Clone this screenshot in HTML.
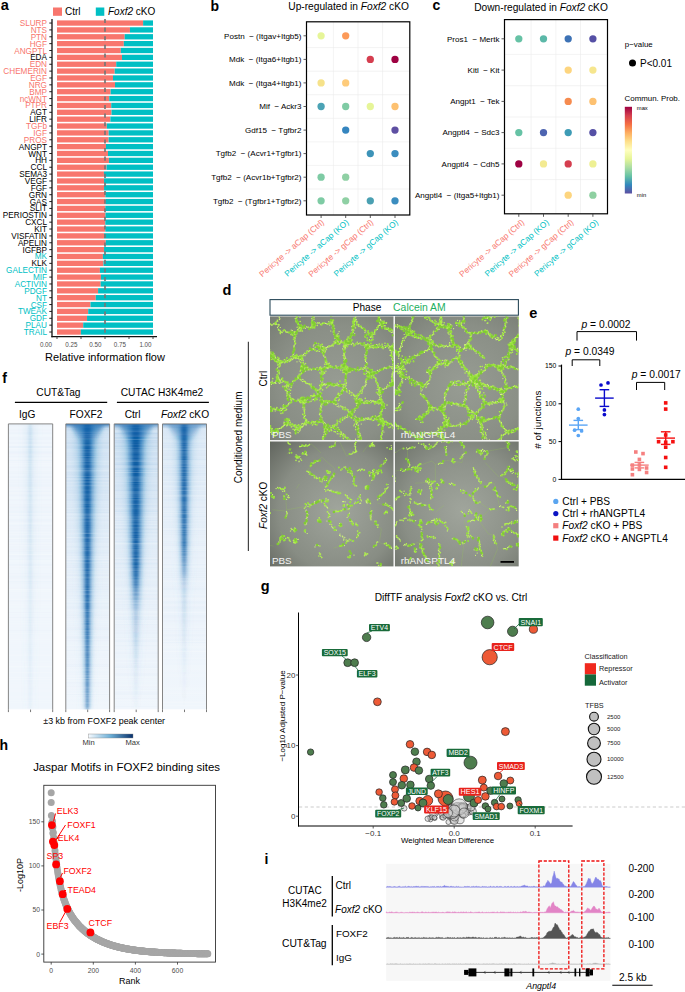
<!DOCTYPE html>
<html><head><meta charset="utf-8"><style>
html,body{margin:0;padding:0;background:#fff;}
svg{display:block;font-family:"Liberation Sans", sans-serif;} text{white-space:pre;}
</style></head><body>
<svg width="685" height="992" viewBox="0 0 685 992">
<text x="0.7" y="10.4" font-size="14.6" fill="#000" font-weight="bold">a</text>
<rect x="53" y="7.5" width="9" height="8.3" fill="#F8766D"/>
<text x="65.0" y="15.0" font-size="10" fill="#000">Ctrl</text>
<rect x="95.8" y="7.5" width="8.5" height="8.3" fill="#00BFC4"/>
<text x="108.0" y="15.0" font-size="10" fill="#000"><tspan font-style="italic">Foxf2</tspan> cKO</text>
<rect x="57.0" y="20.40" width="86.11" height="5.3" fill="#F8766D"/>
<rect x="143.11" y="20.40" width="9.89" height="5.3" fill="#00BFC4"/>
<text x="47.0" y="26.0" font-size="8.2" fill="#F8766D" text-anchor="end">SLURP</text>
<line x1="49.3" y1="23.05" x2="52" y2="23.05" stroke="#222" stroke-width="1"/>
<rect x="57.0" y="27.27" width="72.96" height="5.3" fill="#F8766D"/>
<rect x="129.96" y="27.27" width="23.04" height="5.3" fill="#00BFC4"/>
<text x="47.0" y="32.9" font-size="8.2" fill="#F8766D" text-anchor="end">NTS</text>
<line x1="49.3" y1="29.92" x2="52" y2="29.92" stroke="#222" stroke-width="1"/>
<rect x="57.0" y="34.13" width="67.68" height="5.3" fill="#F8766D"/>
<rect x="124.68" y="34.13" width="28.32" height="5.3" fill="#00BFC4"/>
<text x="47.0" y="39.7" font-size="8.2" fill="#F8766D" text-anchor="end">PTN</text>
<line x1="49.3" y1="36.78" x2="52" y2="36.78" stroke="#222" stroke-width="1"/>
<rect x="57.0" y="41.00" width="66.82" height="5.3" fill="#F8766D"/>
<rect x="123.82" y="41.00" width="29.18" height="5.3" fill="#00BFC4"/>
<text x="47.0" y="46.6" font-size="8.2" fill="#F8766D" text-anchor="end">HGF</text>
<line x1="49.3" y1="43.65" x2="52" y2="43.65" stroke="#222" stroke-width="1"/>
<rect x="57.0" y="47.86" width="63.84" height="5.3" fill="#F8766D"/>
<rect x="120.84" y="47.86" width="32.16" height="5.3" fill="#00BFC4"/>
<text x="47.0" y="53.5" font-size="8.2" fill="#F8766D" text-anchor="end">ANGPTL</text>
<line x1="49.3" y1="50.51" x2="52" y2="50.51" stroke="#222" stroke-width="1"/>
<rect x="57.0" y="54.73" width="64.99" height="5.3" fill="#F8766D"/>
<rect x="121.99" y="54.73" width="31.01" height="5.3" fill="#00BFC4"/>
<text x="47.0" y="60.3" font-size="8.2" fill="#000" text-anchor="end">EDA</text>
<line x1="49.3" y1="57.38" x2="52" y2="57.38" stroke="#222" stroke-width="1"/>
<rect x="57.0" y="61.60" width="59.23" height="5.3" fill="#F8766D"/>
<rect x="116.23" y="61.60" width="36.77" height="5.3" fill="#00BFC4"/>
<text x="47.0" y="67.2" font-size="8.2" fill="#F8766D" text-anchor="end">EDN</text>
<line x1="49.3" y1="64.25" x2="52" y2="64.25" stroke="#222" stroke-width="1"/>
<rect x="57.0" y="68.46" width="57.70" height="5.3" fill="#F8766D"/>
<rect x="114.70" y="68.46" width="38.30" height="5.3" fill="#00BFC4"/>
<text x="47.0" y="74.1" font-size="8.2" fill="#F8766D" text-anchor="end">CHEMERIN</text>
<line x1="49.3" y1="71.11" x2="52" y2="71.11" stroke="#222" stroke-width="1"/>
<rect x="57.0" y="75.33" width="55.97" height="5.3" fill="#F8766D"/>
<rect x="112.97" y="75.33" width="40.03" height="5.3" fill="#00BFC4"/>
<text x="47.0" y="80.9" font-size="8.2" fill="#F8766D" text-anchor="end">EGF</text>
<line x1="49.3" y1="77.98" x2="52" y2="77.98" stroke="#222" stroke-width="1"/>
<rect x="57.0" y="82.19" width="57.98" height="5.3" fill="#F8766D"/>
<rect x="114.98" y="82.19" width="38.02" height="5.3" fill="#00BFC4"/>
<text x="47.0" y="87.8" font-size="8.2" fill="#F8766D" text-anchor="end">NRG</text>
<line x1="49.3" y1="84.84" x2="52" y2="84.84" stroke="#222" stroke-width="1"/>
<rect x="57.0" y="89.06" width="53.66" height="5.3" fill="#F8766D"/>
<rect x="110.66" y="89.06" width="42.34" height="5.3" fill="#00BFC4"/>
<text x="47.0" y="94.7" font-size="8.2" fill="#F8766D" text-anchor="end">BMP</text>
<line x1="49.3" y1="91.71" x2="52" y2="91.71" stroke="#222" stroke-width="1"/>
<rect x="57.0" y="95.93" width="52.22" height="5.3" fill="#F8766D"/>
<rect x="109.22" y="95.93" width="43.78" height="5.3" fill="#00BFC4"/>
<text x="47.0" y="101.5" font-size="8.2" fill="#F8766D" text-anchor="end">ncWNT</text>
<line x1="49.3" y1="98.58" x2="52" y2="98.58" stroke="#222" stroke-width="1"/>
<rect x="57.0" y="102.79" width="54.24" height="5.3" fill="#F8766D"/>
<rect x="111.24" y="102.79" width="41.76" height="5.3" fill="#00BFC4"/>
<text x="47.0" y="108.4" font-size="8.2" fill="#F8766D" text-anchor="end">PTPR</text>
<line x1="49.3" y1="105.44" x2="52" y2="105.44" stroke="#222" stroke-width="1"/>
<rect x="57.0" y="109.66" width="54.53" height="5.3" fill="#F8766D"/>
<rect x="111.53" y="109.66" width="41.47" height="5.3" fill="#00BFC4"/>
<text x="47.0" y="115.3" font-size="8.2" fill="#000" text-anchor="end">AGT</text>
<line x1="49.3" y1="112.31" x2="52" y2="112.31" stroke="#222" stroke-width="1"/>
<rect x="57.0" y="116.52" width="53.38" height="5.3" fill="#F8766D"/>
<rect x="110.38" y="116.52" width="42.62" height="5.3" fill="#00BFC4"/>
<text x="47.0" y="122.1" font-size="8.2" fill="#000" text-anchor="end">LIFR</text>
<line x1="49.3" y1="119.17" x2="52" y2="119.17" stroke="#222" stroke-width="1"/>
<rect x="57.0" y="123.39" width="49.82" height="5.3" fill="#F8766D"/>
<rect x="106.82" y="123.39" width="46.18" height="5.3" fill="#00BFC4"/>
<text x="47.0" y="129.0" font-size="8.2" fill="#F8766D" text-anchor="end">TGFb</text>
<line x1="49.3" y1="126.04" x2="52" y2="126.04" stroke="#222" stroke-width="1"/>
<rect x="57.0" y="130.26" width="51.65" height="5.3" fill="#F8766D"/>
<rect x="108.65" y="130.26" width="44.35" height="5.3" fill="#00BFC4"/>
<text x="47.0" y="135.9" font-size="8.2" fill="#F8766D" text-anchor="end">IGF</text>
<line x1="49.3" y1="132.91" x2="52" y2="132.91" stroke="#222" stroke-width="1"/>
<rect x="57.0" y="137.12" width="51.65" height="5.3" fill="#F8766D"/>
<rect x="108.65" y="137.12" width="44.35" height="5.3" fill="#00BFC4"/>
<text x="47.0" y="142.7" font-size="8.2" fill="#F8766D" text-anchor="end">PROS</text>
<line x1="49.3" y1="139.77" x2="52" y2="139.77" stroke="#222" stroke-width="1"/>
<rect x="57.0" y="143.99" width="48.96" height="5.3" fill="#F8766D"/>
<rect x="105.96" y="143.99" width="47.04" height="5.3" fill="#00BFC4"/>
<text x="47.0" y="149.6" font-size="8.2" fill="#000" text-anchor="end">ANGPT</text>
<line x1="49.3" y1="146.64" x2="52" y2="146.64" stroke="#222" stroke-width="1"/>
<rect x="57.0" y="150.85" width="50.98" height="5.3" fill="#F8766D"/>
<rect x="107.98" y="150.85" width="45.02" height="5.3" fill="#00BFC4"/>
<text x="47.0" y="156.5" font-size="8.2" fill="#000" text-anchor="end">WNT</text>
<line x1="49.3" y1="153.50" x2="52" y2="153.50" stroke="#222" stroke-width="1"/>
<rect x="57.0" y="157.72" width="51.94" height="5.3" fill="#F8766D"/>
<rect x="108.94" y="157.72" width="44.06" height="5.3" fill="#00BFC4"/>
<text x="47.0" y="163.3" font-size="8.2" fill="#000" text-anchor="end">HH</text>
<line x1="49.3" y1="160.37" x2="52" y2="160.37" stroke="#222" stroke-width="1"/>
<rect x="57.0" y="164.59" width="49.54" height="5.3" fill="#F8766D"/>
<rect x="106.54" y="164.59" width="46.46" height="5.3" fill="#00BFC4"/>
<text x="47.0" y="170.2" font-size="8.2" fill="#000" text-anchor="end">CCL</text>
<line x1="49.3" y1="167.24" x2="52" y2="167.24" stroke="#222" stroke-width="1"/>
<rect x="57.0" y="171.45" width="46.94" height="5.3" fill="#F8766D"/>
<rect x="103.94" y="171.45" width="49.06" height="5.3" fill="#00BFC4"/>
<text x="47.0" y="177.1" font-size="8.2" fill="#000" text-anchor="end">SEMA3</text>
<line x1="49.3" y1="174.10" x2="52" y2="174.10" stroke="#222" stroke-width="1"/>
<rect x="57.0" y="178.32" width="47.04" height="5.3" fill="#F8766D"/>
<rect x="104.04" y="178.32" width="48.96" height="5.3" fill="#00BFC4"/>
<text x="47.0" y="183.9" font-size="8.2" fill="#000" text-anchor="end">VEGF</text>
<line x1="49.3" y1="180.97" x2="52" y2="180.97" stroke="#222" stroke-width="1"/>
<rect x="57.0" y="185.18" width="47.04" height="5.3" fill="#F8766D"/>
<rect x="104.04" y="185.18" width="48.96" height="5.3" fill="#00BFC4"/>
<text x="47.0" y="190.8" font-size="8.2" fill="#000" text-anchor="end">FGF</text>
<line x1="49.3" y1="187.83" x2="52" y2="187.83" stroke="#222" stroke-width="1"/>
<rect x="57.0" y="192.05" width="48.38" height="5.3" fill="#F8766D"/>
<rect x="105.38" y="192.05" width="47.62" height="5.3" fill="#00BFC4"/>
<text x="47.0" y="197.6" font-size="8.2" fill="#000" text-anchor="end">GRN</text>
<line x1="49.3" y1="194.70" x2="52" y2="194.70" stroke="#222" stroke-width="1"/>
<rect x="57.0" y="198.92" width="48.48" height="5.3" fill="#F8766D"/>
<rect x="105.48" y="198.92" width="47.52" height="5.3" fill="#00BFC4"/>
<text x="47.0" y="204.5" font-size="8.2" fill="#000" text-anchor="end">GAS</text>
<line x1="49.3" y1="201.57" x2="52" y2="201.57" stroke="#222" stroke-width="1"/>
<rect x="57.0" y="205.78" width="48.29" height="5.3" fill="#F8766D"/>
<rect x="105.29" y="205.78" width="47.71" height="5.3" fill="#00BFC4"/>
<text x="47.0" y="211.4" font-size="8.2" fill="#000" text-anchor="end">SLIT</text>
<line x1="49.3" y1="208.43" x2="52" y2="208.43" stroke="#222" stroke-width="1"/>
<rect x="57.0" y="212.65" width="48.48" height="5.3" fill="#F8766D"/>
<rect x="105.48" y="212.65" width="47.52" height="5.3" fill="#00BFC4"/>
<text x="47.0" y="218.2" font-size="8.2" fill="#000" text-anchor="end">PERIOSTIN</text>
<line x1="49.3" y1="215.30" x2="52" y2="215.30" stroke="#222" stroke-width="1"/>
<rect x="57.0" y="219.51" width="48.29" height="5.3" fill="#F8766D"/>
<rect x="105.29" y="219.51" width="47.71" height="5.3" fill="#00BFC4"/>
<text x="47.0" y="225.1" font-size="8.2" fill="#000" text-anchor="end">CXCL</text>
<line x1="49.3" y1="222.16" x2="52" y2="222.16" stroke="#222" stroke-width="1"/>
<rect x="57.0" y="226.38" width="48.29" height="5.3" fill="#F8766D"/>
<rect x="105.29" y="226.38" width="47.71" height="5.3" fill="#00BFC4"/>
<text x="47.0" y="232.0" font-size="8.2" fill="#000" text-anchor="end">KIT</text>
<line x1="49.3" y1="229.03" x2="52" y2="229.03" stroke="#222" stroke-width="1"/>
<rect x="57.0" y="233.25" width="47.04" height="5.3" fill="#F8766D"/>
<rect x="104.04" y="233.25" width="48.96" height="5.3" fill="#00BFC4"/>
<text x="47.0" y="238.8" font-size="8.2" fill="#000" text-anchor="end">VISFATIN</text>
<line x1="49.3" y1="235.90" x2="52" y2="235.90" stroke="#222" stroke-width="1"/>
<rect x="57.0" y="240.11" width="48.77" height="5.3" fill="#F8766D"/>
<rect x="105.77" y="240.11" width="47.23" height="5.3" fill="#00BFC4"/>
<text x="47.0" y="245.7" font-size="8.2" fill="#000" text-anchor="end">APELIN</text>
<line x1="49.3" y1="242.76" x2="52" y2="242.76" stroke="#222" stroke-width="1"/>
<rect x="57.0" y="246.98" width="47.04" height="5.3" fill="#F8766D"/>
<rect x="104.04" y="246.98" width="48.96" height="5.3" fill="#00BFC4"/>
<text x="47.0" y="252.6" font-size="8.2" fill="#000" text-anchor="end">IGFBP</text>
<line x1="49.3" y1="249.63" x2="52" y2="249.63" stroke="#222" stroke-width="1"/>
<rect x="57.0" y="253.84" width="45.89" height="5.3" fill="#F8766D"/>
<rect x="102.89" y="253.84" width="50.11" height="5.3" fill="#00BFC4"/>
<text x="47.0" y="259.4" font-size="8.2" fill="#00BFC4" text-anchor="end">MK</text>
<line x1="49.3" y1="256.49" x2="52" y2="256.49" stroke="#222" stroke-width="1"/>
<rect x="57.0" y="260.71" width="46.46" height="5.3" fill="#F8766D"/>
<rect x="103.46" y="260.71" width="49.54" height="5.3" fill="#00BFC4"/>
<text x="47.0" y="266.3" font-size="8.2" fill="#000" text-anchor="end">KLK</text>
<line x1="49.3" y1="263.36" x2="52" y2="263.36" stroke="#222" stroke-width="1"/>
<rect x="57.0" y="267.58" width="42.91" height="5.3" fill="#F8766D"/>
<rect x="99.91" y="267.58" width="53.09" height="5.3" fill="#00BFC4"/>
<text x="47.0" y="273.2" font-size="8.2" fill="#00BFC4" text-anchor="end">GALECTIN</text>
<line x1="49.3" y1="270.23" x2="52" y2="270.23" stroke="#222" stroke-width="1"/>
<rect x="57.0" y="274.44" width="43.97" height="5.3" fill="#F8766D"/>
<rect x="100.97" y="274.44" width="52.03" height="5.3" fill="#00BFC4"/>
<text x="47.0" y="280.0" font-size="8.2" fill="#00BFC4" text-anchor="end">MIF</text>
<line x1="49.3" y1="277.09" x2="52" y2="277.09" stroke="#222" stroke-width="1"/>
<rect x="57.0" y="281.31" width="43.68" height="5.3" fill="#F8766D"/>
<rect x="100.68" y="281.31" width="52.32" height="5.3" fill="#00BFC4"/>
<text x="47.0" y="286.9" font-size="8.2" fill="#00BFC4" text-anchor="end">ACTIVIN</text>
<line x1="49.3" y1="283.96" x2="52" y2="283.96" stroke="#222" stroke-width="1"/>
<rect x="57.0" y="288.17" width="41.09" height="5.3" fill="#F8766D"/>
<rect x="98.09" y="288.17" width="54.91" height="5.3" fill="#00BFC4"/>
<text x="47.0" y="293.8" font-size="8.2" fill="#00BFC4" text-anchor="end">PDGF</text>
<line x1="49.3" y1="290.82" x2="52" y2="290.82" stroke="#222" stroke-width="1"/>
<rect x="57.0" y="295.04" width="38.78" height="5.3" fill="#F8766D"/>
<rect x="95.78" y="295.04" width="57.22" height="5.3" fill="#00BFC4"/>
<text x="47.0" y="300.6" font-size="8.2" fill="#00BFC4" text-anchor="end">NT</text>
<line x1="49.3" y1="297.69" x2="52" y2="297.69" stroke="#222" stroke-width="1"/>
<rect x="57.0" y="301.91" width="33.50" height="5.3" fill="#F8766D"/>
<rect x="90.50" y="301.91" width="62.50" height="5.3" fill="#00BFC4"/>
<text x="47.0" y="307.5" font-size="8.2" fill="#00BFC4" text-anchor="end">CSF</text>
<line x1="49.3" y1="304.56" x2="52" y2="304.56" stroke="#222" stroke-width="1"/>
<rect x="57.0" y="308.77" width="31.20" height="5.3" fill="#F8766D"/>
<rect x="88.20" y="308.77" width="64.80" height="5.3" fill="#00BFC4"/>
<text x="47.0" y="314.4" font-size="8.2" fill="#00BFC4" text-anchor="end">TWEAK</text>
<line x1="49.3" y1="311.42" x2="52" y2="311.42" stroke="#222" stroke-width="1"/>
<rect x="57.0" y="315.64" width="30.05" height="5.3" fill="#F8766D"/>
<rect x="87.05" y="315.64" width="65.95" height="5.3" fill="#00BFC4"/>
<text x="47.0" y="321.2" font-size="8.2" fill="#00BFC4" text-anchor="end">GDF</text>
<line x1="49.3" y1="318.29" x2="52" y2="318.29" stroke="#222" stroke-width="1"/>
<rect x="57.0" y="322.50" width="26.21" height="5.3" fill="#F8766D"/>
<rect x="83.21" y="322.50" width="69.79" height="5.3" fill="#00BFC4"/>
<text x="47.0" y="328.1" font-size="8.2" fill="#00BFC4" text-anchor="end">PLAU</text>
<line x1="49.3" y1="325.15" x2="52" y2="325.15" stroke="#222" stroke-width="1"/>
<rect x="57.0" y="329.37" width="23.90" height="5.3" fill="#F8766D"/>
<rect x="80.90" y="329.37" width="72.10" height="5.3" fill="#00BFC4"/>
<text x="47.0" y="335.0" font-size="8.2" fill="#00BFC4" text-anchor="end">TRAIL</text>
<line x1="49.3" y1="332.02" x2="52" y2="332.02" stroke="#222" stroke-width="1"/>
<line x1="105" y1="19" x2="105" y2="336" stroke="#777" stroke-width="1.7" stroke-dasharray="4.1 4.5"/>
<line x1="52" y1="19.1" x2="52" y2="337.2" stroke="#111" stroke-width="1.3"/>
<line x1="51.4" y1="336.6" x2="157" y2="336.6" stroke="#111" stroke-width="1.3"/>
<line x1="57.0" y1="336.6" x2="57.0" y2="339" stroke="#333" stroke-width="0.9"/>
<text x="46.0" y="347" font-size="7" fill="#4D4D4D" text-anchor="middle" textLength="12.2" lengthAdjust="spacingAndGlyphs">0.00</text>
<line x1="81.0" y1="336.6" x2="81.0" y2="339" stroke="#333" stroke-width="0.9"/>
<text x="71.3" y="347" font-size="7" fill="#4D4D4D" text-anchor="middle" textLength="12.2" lengthAdjust="spacingAndGlyphs">0.25</text>
<line x1="105.0" y1="336.6" x2="105.0" y2="339" stroke="#333" stroke-width="0.9"/>
<text x="95.4" y="347" font-size="7" fill="#4D4D4D" text-anchor="middle" textLength="12.2" lengthAdjust="spacingAndGlyphs">0.50</text>
<line x1="129.0" y1="336.6" x2="129.0" y2="339" stroke="#333" stroke-width="0.9"/>
<text x="119.9" y="347" font-size="7" fill="#4D4D4D" text-anchor="middle" textLength="12.2" lengthAdjust="spacingAndGlyphs">0.75</text>
<line x1="153.0" y1="336.6" x2="153.0" y2="339" stroke="#333" stroke-width="0.9"/>
<text x="145.5" y="347" font-size="7" fill="#4D4D4D" text-anchor="middle" textLength="12.2" lengthAdjust="spacingAndGlyphs">1.00</text>
<text x="105.0" y="361.0" font-size="11" fill="#000" text-anchor="middle">Relative information flow</text>
<text x="210.5" y="11.4" font-size="14" fill="#000" font-weight="bold">b</text>
<line x1="333.4" y1="21.8" x2="333.4" y2="215.0" stroke="#EBEBEB" stroke-width="0.6"/>
<line x1="358.0" y1="21.8" x2="358.0" y2="215.0" stroke="#EBEBEB" stroke-width="0.6"/>
<line x1="382.6" y1="21.8" x2="382.6" y2="215.0" stroke="#EBEBEB" stroke-width="0.6"/>
<line x1="306.5" y1="47.6" x2="409.8" y2="47.6" stroke="#EBEBEB" stroke-width="0.6"/>
<line x1="306.5" y1="71.2" x2="409.8" y2="71.2" stroke="#EBEBEB" stroke-width="0.6"/>
<line x1="306.5" y1="94.7" x2="409.8" y2="94.7" stroke="#EBEBEB" stroke-width="0.6"/>
<line x1="306.5" y1="118.3" x2="409.8" y2="118.3" stroke="#EBEBEB" stroke-width="0.6"/>
<line x1="306.5" y1="141.9" x2="409.8" y2="141.9" stroke="#EBEBEB" stroke-width="0.6"/>
<line x1="306.5" y1="165.4" x2="409.8" y2="165.4" stroke="#EBEBEB" stroke-width="0.6"/>
<line x1="306.5" y1="189.0" x2="409.8" y2="189.0" stroke="#EBEBEB" stroke-width="0.6"/>
<circle cx="321.1" cy="35.8" r="3.65" fill="#E6F598"/>
<circle cx="345.7" cy="35.8" r="3.65" fill="#FC9A59"/>
<circle cx="370.3" cy="59.4" r="3.65" fill="#D53E4F"/>
<circle cx="395.0" cy="59.4" r="3.65" fill="#9E0142"/>
<circle cx="321.1" cy="82.9" r="3.65" fill="#F6E28A"/>
<circle cx="345.7" cy="82.9" r="3.65" fill="#FECB7A"/>
<circle cx="321.1" cy="106.5" r="3.65" fill="#4BA3B5"/>
<circle cx="345.7" cy="106.5" r="3.65" fill="#7FCBA4"/>
<circle cx="370.3" cy="106.5" r="3.65" fill="#E6F598"/>
<circle cx="395.0" cy="106.5" r="3.65" fill="#FDC171"/>
<circle cx="345.7" cy="130.1" r="3.65" fill="#3585BF"/>
<circle cx="395.0" cy="130.1" r="3.65" fill="#5E4FA2"/>
<circle cx="370.3" cy="153.6" r="3.65" fill="#3D93B8"/>
<circle cx="395.0" cy="153.6" r="3.65" fill="#3B8DBF"/>
<circle cx="321.1" cy="177.2" r="3.65" fill="#7ECBA4"/>
<circle cx="345.7" cy="177.2" r="3.65" fill="#8FD0A4"/>
<circle cx="321.1" cy="200.8" r="3.65" fill="#7ECBA4"/>
<circle cx="345.7" cy="200.8" r="3.65" fill="#8FD0A4"/>
<circle cx="370.3" cy="200.8" r="3.65" fill="#4AA0B2"/>
<circle cx="395.0" cy="200.8" r="3.65" fill="#3B8DBF"/>
<rect x="306.5" y="21.8" width="103.30000000000001" height="193.2" fill="none" stroke="#000" stroke-width="1.2"/>
<text x="301.5" y="38.5" font-size="8.05" fill="#000" text-anchor="end">Postn  − (Itgav+Itgb5)</text>
<line x1="303.5" y1="35.8" x2="306.5" y2="35.8" stroke="#333" stroke-width="0.8"/>
<text x="301.5" y="62.1" font-size="8.05" fill="#000" text-anchor="end">Mdk  − (Itga6+Itgb1)</text>
<line x1="303.5" y1="59.4" x2="306.5" y2="59.4" stroke="#333" stroke-width="0.8"/>
<text x="301.5" y="85.6" font-size="8.05" fill="#000" text-anchor="end">Mdk  − (Itga4+Itgb1)</text>
<line x1="303.5" y1="82.9" x2="306.5" y2="82.9" stroke="#333" stroke-width="0.8"/>
<text x="301.5" y="109.2" font-size="8.05" fill="#000" text-anchor="end">Mif  − Ackr3</text>
<line x1="303.5" y1="106.5" x2="306.5" y2="106.5" stroke="#333" stroke-width="0.8"/>
<text x="301.5" y="132.8" font-size="8.05" fill="#000" text-anchor="end">Gdf15  − Tgfbr2</text>
<line x1="303.5" y1="130.1" x2="306.5" y2="130.1" stroke="#333" stroke-width="0.8"/>
<text x="301.5" y="156.3" font-size="8.05" fill="#000" text-anchor="end">Tgfb2  − (Acvr1+Tgfbr1)</text>
<line x1="303.5" y1="153.6" x2="306.5" y2="153.6" stroke="#333" stroke-width="0.8"/>
<text x="301.5" y="179.9" font-size="8.05" fill="#000" text-anchor="end">Tgfb2  − (Acvr1b+Tgfbr2)</text>
<line x1="303.5" y1="177.2" x2="306.5" y2="177.2" stroke="#333" stroke-width="0.8"/>
<text x="301.5" y="203.5" font-size="8.05" fill="#000" text-anchor="end">Tgfb2  − (Tgfbr1+Tgfbr2)</text>
<line x1="303.5" y1="200.8" x2="306.5" y2="200.8" stroke="#333" stroke-width="0.8"/>
<line x1="321.1" y1="215.0" x2="321.1" y2="218.0" stroke="#333" stroke-width="0.8"/>
<text transform="translate(324.7,223.2) rotate(-41)" font-size="8.3" fill="#F8766D" text-anchor="end">Pericyte -&gt; aCap (Ctrl)</text>
<line x1="345.7" y1="215.0" x2="345.7" y2="218.0" stroke="#333" stroke-width="0.8"/>
<text transform="translate(349.3,223.2) rotate(-41)" font-size="8.3" fill="#00BFC4" text-anchor="end">Pericyte -&gt; aCap (KO)</text>
<line x1="370.3" y1="215.0" x2="370.3" y2="218.0" stroke="#333" stroke-width="0.8"/>
<text transform="translate(373.9,223.2) rotate(-41)" font-size="8.3" fill="#F8766D" text-anchor="end">Pericyte -&gt; gCap (Ctrl)</text>
<line x1="395.0" y1="215.0" x2="395.0" y2="218.0" stroke="#333" stroke-width="0.8"/>
<text transform="translate(398.6,223.2) rotate(-41)" font-size="8.3" fill="#00BFC4" text-anchor="end">Pericyte -&gt; gCap (KO)</text>
<text x="288.3" y="9.6" font-size="10.2" fill="#000">Up-regulated in <tspan font-style="italic">Foxf2</tspan> cKO</text>
<text x="432.5" y="10.2" font-size="14" fill="#000" font-weight="bold">c</text>
<line x1="531.1" y1="19.6" x2="531.1" y2="213.8" stroke="#EBEBEB" stroke-width="0.6"/>
<line x1="555.9" y1="19.6" x2="555.9" y2="213.8" stroke="#EBEBEB" stroke-width="0.6"/>
<line x1="580.5" y1="19.6" x2="580.5" y2="213.8" stroke="#EBEBEB" stroke-width="0.6"/>
<line x1="504.5" y1="54.4" x2="607.5" y2="54.4" stroke="#EBEBEB" stroke-width="0.6"/>
<line x1="504.5" y1="85.7" x2="607.5" y2="85.7" stroke="#EBEBEB" stroke-width="0.6"/>
<line x1="504.5" y1="117.0" x2="607.5" y2="117.0" stroke="#EBEBEB" stroke-width="0.6"/>
<line x1="504.5" y1="148.3" x2="607.5" y2="148.3" stroke="#EBEBEB" stroke-width="0.6"/>
<line x1="504.5" y1="179.6" x2="607.5" y2="179.6" stroke="#EBEBEB" stroke-width="0.6"/>
<circle cx="518.8" cy="38.8" r="3.65" fill="#66C2A5"/>
<circle cx="543.5" cy="38.8" r="3.65" fill="#5BB8A8"/>
<circle cx="568.2" cy="38.8" r="3.65" fill="#3D72B5"/>
<circle cx="592.9" cy="38.8" r="3.65" fill="#5550A5"/>
<circle cx="568.2" cy="70.1" r="3.65" fill="#FDD57F"/>
<circle cx="592.9" cy="70.1" r="3.65" fill="#F6E68E"/>
<circle cx="568.2" cy="101.4" r="3.65" fill="#F68B4F"/>
<circle cx="592.9" cy="101.4" r="3.65" fill="#FDC171"/>
<circle cx="518.8" cy="132.6" r="3.65" fill="#66C2A5"/>
<circle cx="543.5" cy="132.6" r="3.65" fill="#4D64B0"/>
<circle cx="568.2" cy="132.6" r="3.65" fill="#3D9BB5"/>
<circle cx="592.9" cy="132.6" r="3.65" fill="#5550A5"/>
<circle cx="518.8" cy="163.9" r="3.65" fill="#9E0142"/>
<circle cx="543.5" cy="163.9" r="3.65" fill="#F3EA91"/>
<circle cx="568.2" cy="163.9" r="3.65" fill="#D53E4F"/>
<circle cx="592.9" cy="163.9" r="3.65" fill="#EEF093"/>
<circle cx="568.2" cy="195.2" r="3.65" fill="#FDD57F"/>
<circle cx="592.9" cy="195.2" r="3.65" fill="#8ED0A1"/>
<rect x="504.5" y="19.6" width="103.0" height="194.20000000000002" fill="none" stroke="#000" stroke-width="1.2"/>
<text x="499.5" y="41.5" font-size="8.05" fill="#000" text-anchor="end">Pros1  − Mertk</text>
<line x1="501.5" y1="38.8" x2="504.5" y2="38.8" stroke="#333" stroke-width="0.8"/>
<text x="499.5" y="72.8" font-size="8.05" fill="#000" text-anchor="end">Kitl  − Kit</text>
<line x1="501.5" y1="70.1" x2="504.5" y2="70.1" stroke="#333" stroke-width="0.8"/>
<text x="499.5" y="104.1" font-size="8.05" fill="#000" text-anchor="end">Angpt1  − Tek</text>
<line x1="501.5" y1="101.4" x2="504.5" y2="101.4" stroke="#333" stroke-width="0.8"/>
<text x="499.5" y="135.3" font-size="8.05" fill="#000" text-anchor="end">Angptl4  − Sdc3</text>
<line x1="501.5" y1="132.6" x2="504.5" y2="132.6" stroke="#333" stroke-width="0.8"/>
<text x="499.5" y="166.6" font-size="8.05" fill="#000" text-anchor="end">Angptl4  − Cdh5</text>
<line x1="501.5" y1="163.9" x2="504.5" y2="163.9" stroke="#333" stroke-width="0.8"/>
<text x="499.5" y="197.9" font-size="8.05" fill="#000" text-anchor="end">Angptl4  − (Itga5+Itgb1)</text>
<line x1="501.5" y1="195.2" x2="504.5" y2="195.2" stroke="#333" stroke-width="0.8"/>
<line x1="518.8" y1="213.8" x2="518.8" y2="216.8" stroke="#333" stroke-width="0.8"/>
<text transform="translate(524.8,223.2) rotate(-41)" font-size="8.3" fill="#F8766D" text-anchor="end">Pericyte -&gt; aCap (Ctrl)</text>
<line x1="543.5" y1="213.8" x2="543.5" y2="216.8" stroke="#333" stroke-width="0.8"/>
<text transform="translate(549.5,223.2) rotate(-41)" font-size="8.3" fill="#00BFC4" text-anchor="end">Pericyte -&gt; aCap (KO)</text>
<line x1="568.2" y1="213.8" x2="568.2" y2="216.8" stroke="#333" stroke-width="0.8"/>
<text transform="translate(574.2,223.2) rotate(-41)" font-size="8.3" fill="#F8766D" text-anchor="end">Pericyte -&gt; gCap (Ctrl)</text>
<line x1="592.9" y1="213.8" x2="592.9" y2="216.8" stroke="#333" stroke-width="0.8"/>
<text transform="translate(598.9,223.2) rotate(-41)" font-size="8.3" fill="#00BFC4" text-anchor="end">Pericyte -&gt; gCap (KO)</text>
<text x="474.2" y="11.0" font-size="10.2" fill="#000">Down-regulated in <tspan font-style="italic">Foxf2</tspan> cKO</text>
<text x="624.8" y="46.5" font-size="7.9" fill="#000">p−value</text>
<circle cx="632.5" cy="63" r="3.5" fill="#000"/>
<text x="640.0" y="66.8" font-size="10" fill="#000">P&lt;0.01</text>
<text x="624.6" y="100.6" font-size="7.9" fill="#000">Commun. Prob.</text>
<defs><linearGradient id="spec" x1="0" y1="0" x2="0" y2="1"><stop offset="0.000" stop-color="#9E0142"/><stop offset="0.100" stop-color="#D53E4F"/><stop offset="0.200" stop-color="#F46D43"/><stop offset="0.300" stop-color="#FDAE61"/><stop offset="0.400" stop-color="#FEE08B"/><stop offset="0.500" stop-color="#FFFFBF"/><stop offset="0.600" stop-color="#E6F598"/><stop offset="0.700" stop-color="#ABDDA4"/><stop offset="0.800" stop-color="#66C2A5"/><stop offset="0.900" stop-color="#3288BD"/><stop offset="1.000" stop-color="#5E4FA2"/></linearGradient></defs>
<rect x="624.8" y="106.8" width="7.2" height="86.7" fill="url(#spec)"/>
<text x="636.8" y="109.6" font-size="5.8" fill="#000">max</text>
<text x="636.8" y="196.5" font-size="5.8" fill="#000">min</text>
<defs><filter id="gb" x="-5%" y="-5%" width="110%" height="110%"><feGaussianBlur stdDeviation="0.35"/></filter></defs>
<text x="222.6" y="294.8" font-size="14.5" fill="#000" font-weight="bold">d</text>
<rect x="270" y="299.6" width="248.4" height="15.6" fill="#fff" stroke="#2B4A5A" stroke-width="1.1"/>
<text x="352.7" y="311.0" font-size="10.1" fill="#000">Phase</text>
<text x="393.1" y="311.0" font-size="10.4" fill="#1BAF5E">Calcein AM</text>
<defs><radialGradient id="bg11" cx="0.55" cy="0.55" r="0.8"><stop offset="0" stop-color="#979C93"/><stop offset="0.6" stop-color="#8A8F86"/><stop offset="1" stop-color="#767B72"/></radialGradient></defs><rect x="270" y="316.4" width="123.49999999999999" height="123.70000000000003" fill="url(#bg11)"/><clipPath id="clip11"><rect x="270" y="316.4" width="123.49999999999999" height="123.70000000000003"/></clipPath><g clip-path="url(#clip11)"><path d="M382.3 404.5h0M383.1 402.1h0M381.4 402.3h0M381.3 400.8h0M383.0 407.0h0M382.6 407.7h0M382.4 409.5h0M376.1 401.8h0M371.9 401.6h0M370.1 402.6h0M360.8 403.3h0M360.0 401.9h0M359.1 401.5h0M377.6 402.7h0M372.1 401.2h0M370.8 400.4h0M369.3 401.3h0M363.8 402.5h0M362.5 400.1h0M359.7 399.4h0M357.0 403.4h0M356.8 408.5h0M355.1 410.6h0M349.5 415.1h0M350.8 416.4h0M354.4 418.3h0M353.9 420.0h0M380.1 420.2h0M377.3 418.3h0M374.1 419.8h0M373.4 420.5h0M371.5 418.8h0M368.9 418.6h0M367.4 419.5h0M364.9 419.9h0M363.9 418.7h0M361.6 420.4h0M370.3 419.6h0M368.7 417.9h0M364.8 419.8h0M363.4 420.0h0M361.3 424.0h0M334.3 425.0h0M339.2 421.6h0M345.0 417.9h0M346.8 417.4h0M334.0 425.8h0M334.2 426.8h0M338.6 429.4h0M340.1 431.4h0M343.4 433.9h0M345.0 435.9h0M345.0 437.0h0M346.0 437.3h0M347.8 440.1h0M352.3 445.1h0M352.7 445.8h0M354.6 446.2h0M355.8 449.8h0M357.3 449.4h0M360.4 452.1h0M361.0 452.7h0M334.6 429.0h0M337.8 431.3h0M339.0 433.8h0M341.6 432.9h0M342.9 435.3h0M347.1 444.2h0M348.6 444.5h0M352.0 444.5h0M352.6 445.9h0M349.7 414.1h0M356.8 423.8h0M356.6 424.6h0M358.3 425.2h0M358.2 427.7h0M357.8 429.5h0M358.7 431.9h0M358.8 432.7h0M360.0 433.3h0M361.9 443.9h0M360.9 445.8h0M361.7 446.5h0M361.7 448.2h0M362.2 452.3h0M362.6 453.1h0M355.9 421.4h0M355.9 422.8h0M355.5 426.9h0M358.3 431.9h0M355.5 439.2h0M361.0 442.4h0M362.7 443.5h0M364.7 447.3h0M361.3 450.5h0M361.8 453.2h0M310.6 423.2h0M316.3 421.3h0M306.5 424.8h0M319.3 422.2h0M320.6 420.7h0M306.2 422.3h0M305.3 421.6h0M304.4 416.6h0M303.2 409.0h0M304.1 403.8h0M305.1 402.8h0M303.8 402.1h0M319.9 419.3h0M320.6 416.8h0M320.1 415.1h0M319.4 414.2h0M320.8 412.6h0M321.1 406.7h0M320.5 405.8h0M322.7 402.6h0M317.2 396.1h0M309.8 401.8h0M312.2 399.8h0M313.6 399.4h0M318.1 395.6h0M326.7 426.4h0M325.7 424.9h0M324.4 424.9h0M323.8 424.2h0M324.3 422.5h0M320.0 421.6h0M326.8 428.9h0M325.4 423.3h0M323.4 423.0h0M325.9 427.7h0M324.4 428.1h0M323.4 436.3h0M323.5 440.5h0M323.5 441.4h0M323.1 443.8h0M321.3 446.6h0M320.4 449.7h0M319.6 451.2h0M320.3 453.1h0M318.8 456.9h0M318.7 458.5h0M318.5 460.1h0M317.7 461.6h0M317.5 464.9h0M314.9 468.4h0M317.2 469.9h0M315.6 475.3h0M315.3 476.0h0M314.9 476.8h0M314.7 479.2h0M313.1 481.3h0M312.9 482.1h0M312.0 483.5h0M312.4 487.0h0M311.2 490.0h0M310.8 491.6h0M309.2 494.5h0M300.4 428.7h0M302.4 426.9h0M305.2 424.8h0M301.4 426.8h0M302.9 426.4h0M302.8 423.4h0M332.8 427.4h0M329.9 429.4h0M328.7 428.9h0M333.7 402.5h0M338.0 403.8h0M337.2 406.5h0M338.8 405.8h0M339.0 406.9h0M340.8 405.9h0M347.9 409.4h0M348.7 414.0h0M350.1 413.7h0M333.8 401.5h0M327.4 402.4h0M333.7 403.1h0M323.5 401.2h0M322.0 402.2h0M395.6 302.0h0M390.3 306.3h0M388.9 305.8h0M387.1 304.7h0M385.8 305.8h0M384.0 306.2h0M383.0 306.3h0M383.0 307.8h0M381.8 307.6h0M380.0 308.0h0M392.7 302.5h0M391.8 306.0h0M387.0 308.6h0M386.2 309.7h0M382.0 310.8h0M397.7 306.0h0M399.6 311.9h0M401.9 311.4h0M403.3 312.6h0M403.2 313.7h0M403.6 315.5h0M346.3 383.5h0M345.6 386.1h0M359.6 369.5h0M363.1 369.4h0M364.8 368.5h0M369.2 373.7h0M368.8 378.1h0M365.5 381.2h0M365.3 382.9h0M366.2 384.3h0M365.7 384.9h0M365.0 385.5h0M365.0 386.4h0M363.8 387.8h0M362.4 389.9h0M359.2 393.9h0M356.5 398.6h0M354.9 396.3h0M352.1 392.8h0M349.3 390.6h0M356.8 400.3h0M358.0 401.2h0M336.9 397.4h0M338.0 397.2h0M338.5 395.5h0M339.7 395.3h0M341.6 393.5h0M343.4 390.7h0M343.2 389.5h0M343.5 387.6h0M344.7 387.5h0M335.7 402.0h0M336.0 400.5h0M341.4 393.8h0M346.5 388.7h0M404.0 315.1h0M402.8 318.4h0M405.2 320.0h0M402.0 325.5h0M401.2 326.1h0M399.9 328.5h0M405.9 324.6h0M402.0 327.8h0M399.3 329.9h0M398.7 332.7h0M380.6 314.7h0M376.9 313.8h0M380.5 319.4h0M379.6 320.5h0M381.2 321.0h0M382.6 321.6h0M382.0 322.8h0M383.3 325.7h0M386.3 329.1h0M387.2 329.3h0M388.6 328.3h0M391.3 332.4h0M392.4 332.1h0M393.9 331.0h0M393.9 332.8h0M395.1 332.4h0M396.7 333.0h0M386.5 323.1h0M392.9 332.0h0M397.0 333.1h0M380.0 400.9h0M379.4 399.2h0M379.9 397.4h0M380.6 394.6h0M372.0 374.1h0M374.3 377.7h0M375.9 380.7h0M377.0 383.9h0M378.0 385.3h0M379.8 388.2h0M378.9 389.5h0M397.1 398.3h0M398.1 402.9h0M398.1 403.9h0M379.1 390.5h0M379.2 389.1h0M382.1 388.9h0M383.3 389.3h0M384.2 389.0h0M385.9 388.5h0M386.5 387.8h0M387.7 384.9h0M389.2 385.7h0M323.8 350.2h0M324.9 350.4h0M325.3 348.0h0M326.3 347.9h0M327.0 347.4h0M327.5 346.7h0M331.1 345.9h0M335.7 342.3h0M338.0 342.7h0M322.2 350.4h0M323.8 356.1h0M325.0 357.5h0M326.0 359.9h0M325.8 362.6h0M328.9 365.3h0M340.9 366.9h0M338.4 366.8h0M334.7 368.2h0M330.7 366.0h0M344.2 368.1h0M345.5 367.3h0M344.5 358.9h0M343.1 355.5h0M344.4 354.8h0M344.0 353.1h0M343.8 349.7h0M342.6 348.8h0M346.2 345.7h0M345.9 344.1h0M346.3 359.9h0M345.7 358.5h0M345.4 357.1h0M344.7 351.5h0M345.4 347.3h0M345.4 344.6h0M346.3 341.9h0M342.1 342.1h0M271.9 431.1h0M269.4 425.7h0M268.3 425.5h0M268.5 422.3h0M264.4 419.1h0M256.8 406.9h0M296.5 427.1h0M295.5 427.1h0M294.6 425.2h0M293.0 426.1h0M290.0 424.2h0M286.1 423.7h0M294.1 425.6h0M288.6 422.7h0M287.2 423.8h0M284.6 424.7h0M284.2 425.5h0M283.4 425.9h0M281.5 427.7h0M279.8 428.4h0M279.0 428.8h0M277.8 430.0h0M271.1 353.8h0M269.5 351.6h0M267.0 345.9h0M267.3 359.2h0M265.1 359.1h0M263.3 361.0h0M260.0 362.3h0M257.2 365.7h0M256.6 366.2h0M255.0 366.9h0M267.4 344.3h0M252.9 370.6h0M253.7 371.1h0M263.0 378.0h0M262.9 380.2h0M264.0 380.4h0M266.2 382.0h0M267.1 383.5h0M254.3 368.5h0M256.3 372.3h0M257.3 373.3h0M258.2 376.1h0M258.9 379.0h0M261.0 382.7h0M266.2 386.9h0M264.3 389.2h0M261.8 394.0h0M261.9 396.5h0M259.4 398.7h0M261.5 406.7h0M265.7 387.9h0M263.2 394.5h0M263.3 395.9h0M263.6 397.3h0M263.3 405.5h0M265.0 405.4h0M272.3 408.9h0M275.7 409.4h0M277.3 410.2h0M279.0 409.9h0M281.5 410.5h0M282.5 409.9h0M264.5 410.6h0M266.2 407.6h0M269.9 409.8h0M275.2 410.9h0M282.0 410.0h0M302.2 401.7h0M298.0 399.2h0M283.0 408.1h0M287.8 405.0h0M288.5 403.3h0M289.4 402.8h0M291.7 400.0h0M287.7 332.1h0M286.8 332.2h0M281.3 332.2h0M295.1 334.2h0M294.6 335.0h0M294.9 340.8h0M294.6 341.7h0M294.4 345.1h0M294.1 346.8h0M293.8 353.5h0M293.6 354.3h0M294.8 355.9h0M273.7 356.6h0M273.9 357.9h0M275.5 357.2h0M275.8 358.4h0M277.0 359.8h0M278.4 361.1h0M271.7 359.5h0M278.7 360.8h0M280.7 361.3h0M285.3 361.8h0M287.7 360.6h0M289.8 361.6h0M291.6 358.8h0M292.7 359.6h0M294.8 357.7h0M295.7 357.4h0M281.9 361.4h0M266.2 382.8h0M269.9 382.7h0M271.4 384.3h0M272.2 381.2h0M274.5 382.6h0M275.4 382.6h0M278.6 381.0h0M269.5 382.0h0M275.9 383.4h0M279.1 379.8h0M279.4 361.8h0M280.3 365.2h0M277.6 367.8h0M277.1 368.7h0M279.4 372.1h0M279.6 373.8h0M279.1 379.0h0M290.4 397.8h0M289.8 395.2h0M287.3 391.4h0M290.2 393.5h0M289.1 389.2h0M278.1 381.5h0M278.8 382.1h0M280.6 381.1h0M283.7 381.6h0M313.4 345.9h0M313.7 348.3h0M310.0 350.5h0M308.8 351.7h0M307.2 350.8h0M305.9 353.7h0M303.4 354.4h0M302.1 355.7h0M300.2 359.3h0M298.9 358.8h0M294.6 332.7h0M294.9 331.5h0M297.7 330.8h0M299.0 331.1h0M308.4 327.0h0M306.5 326.8h0M305.4 328.3h0M301.6 328.1h0M297.1 358.5h0M382.4 425.3h0M382.9 430.3h0M382.6 431.1h0M383.9 432.0h0M381.8 435.1h0M381.7 438.4h0M380.1 442.3h0M381.2 448.2h0M379.2 451.3h0M377.6 456.8h0M377.3 457.6h0M377.1 458.4h0M378.2 461.0h0M376.9 463.4h0M377.7 465.9h0M375.7 468.2h0M375.2 468.9h0M375.0 469.7h0M376.7 470.7h0M375.4 473.9h0M373.0 478.6h0M372.9 479.4h0M373.5 480.3h0M373.9 482.0h0M391.7 424.7h0M392.5 425.1h0M393.3 426.0h0M394.1 426.6h0M384.3 421.6h0M392.2 425.7h0M403.8 435.4h0M402.0 435.7h0M401.8 433.7h0M400.1 431.8h0M404.6 438.0h0M402.7 437.7h0M403.0 434.1h0M403.4 432.1h0M402.5 429.5h0M407.1 438.3h0M406.6 443.1h0M405.0 443.8h0M405.8 444.7h0M405.4 446.3h0M406.0 447.1h0M406.6 451.2h0M406.3 452.0h0M405.6 455.2h0M404.5 455.9h0M404.6 457.5h0M404.7 462.4h0M404.8 464.0h0M403.5 465.5h0M404.4 469.6h0M403.1 470.3h0M404.3 472.0h0M402.8 480.8h0M402.6 484.8h0M403.7 485.7h0M404.2 487.4h0M402.5 488.9h0M402.5 489.7h0M403.7 491.4h0M402.7 492.1h0M402.6 496.9h0M402.2 497.7h0M402.6 504.2h0M400.6 504.9h0M401.6 507.4h0M401.1 516.2h0M400.5 517.0h0M402.1 517.9h0M398.9 519.3h0M400.3 520.2h0M399.8 521.0h0M401.0 523.5h0M400.1 526.7h0M400.5 530.7h0M399.7 531.5h0M398.3 534.6h0M398.8 538.7h0M398.6 539.5h0M398.6 542.7h0M398.3 544.3h0M396.8 545.0h0M397.2 549.1h0M395.7 556.2h0M396.5 558.7h0M395.7 561.1h0M395.7 562.7h0M397.0 564.4h0M395.7 567.5h0M395.5 569.2h0M395.2 569.9h0M396.8 570.9h0M395.8 571.6h0M395.6 572.4h0M394.7 583.6h0M394.8 584.4h0M394.4 585.2h0M394.4 587.6h0M363.4 454.3h0M364.2 455.7h0M363.4 456.9h0M365.1 461.6h0M367.3 464.3h0M368.2 466.6h0M367.9 467.6h0M367.9 468.5h0M368.1 470.2h0M368.7 472.6h0M369.7 473.1h0M369.5 474.1h0M370.8 474.4h0M371.5 481.3h0M373.5 482.2h0M373.4 484.0h0M373.4 485.8h0M375.0 486.1h0M398.8 405.2h0M398.6 406.8h0M398.7 408.5h0M398.9 411.0h0M397.9 421.0h0M397.7 421.9h0M397.9 422.7h0M398.5 404.6h0M397.4 404.5h0M417.7 415.4h0M416.4 414.3h0M415.9 413.3h0M413.7 411.9h0M408.8 408.5h0M404.5 407.4h0M400.1 406.7h0M399.1 406.7h0M397.7 405.9h0M417.8 412.1h0M412.6 410.1h0M409.6 410.0h0M406.1 407.6h0M393.0 349.0h0M393.1 347.9h0M393.0 346.5h0M394.3 345.3h0M395.1 343.6h0M397.1 342.9h0M397.8 339.8h0M392.3 346.5h0M397.7 339.7h0M389.9 350.5h0M391.1 352.0h0M391.5 358.8h0M392.6 360.4h0M394.5 367.0h0M406.7 346.5h0M409.1 352.8h0M412.3 351.8h0M410.1 355.0h0M411.5 357.0h0M413.3 358.9h0M416.7 361.6h0M417.6 362.0h0M417.3 364.1h0M418.7 365.2h0M425.3 371.8h0M425.3 372.8h0M426.2 373.2h0M410.3 348.2h0M409.3 355.0h0M412.0 356.5h0M415.6 359.1h0M416.6 360.1h0M419.3 363.2h0M420.0 364.3h0M407.3 343.3h0M406.3 343.2h0M404.4 342.7h0M403.3 342.9h0M401.1 343.0h0M399.7 343.5h0M397.8 341.2h0M406.9 342.9h0M403.8 342.5h0M396.6 337.1h0M401.0 397.1h0M401.7 396.6h0M403.2 396.9h0M402.3 394.9h0M405.1 392.9h0M411.6 386.4h0M414.1 384.2h0M414.7 381.2h0M421.5 377.3h0M422.3 374.5h0M422.8 373.9h0M391.4 382.9h0M393.4 382.3h0M392.0 379.5h0M392.1 374.2h0M393.5 372.6h0M393.7 370.9h0M373.3 374.6h0M375.3 372.1h0M377.4 370.4h0M385.4 368.0h0M389.3 366.0h0M391.2 366.8h0M393.7 366.6h0M349.3 343.5h0M353.1 332.4h0M352.0 330.3h0M352.2 329.4h0M351.8 326.6h0M353.9 321.2h0M348.7 341.7h0M351.2 341.2h0M354.7 333.6h0M354.4 324.6h0M356.2 319.4h0M351.4 344.6h0M352.7 343.2h0M358.7 343.7h0M361.1 344.8h0M366.3 345.4h0M356.1 321.2h0M358.4 325.9h0M365.8 330.9h0M365.0 332.5h0M368.8 332.8h0M369.3 333.4h0M346.2 372.0h0M366.1 369.0h0M367.4 363.3h0M366.6 362.4h0M365.5 361.4h0M365.0 356.2h0M366.2 355.6h0M365.0 354.6h0M366.5 347.2h0M347.4 342.7h0M379.5 325.4h0M377.5 329.5h0M370.7 337.3h0M356.1 316.0h0M355.8 317.0h0M391.7 345.8h0M388.4 345.0h0M385.5 347.5h0M384.9 345.5h0M379.6 346.2h0M378.6 347.4h0M380.5 346.2h0M376.4 344.5h0M372.1 345.4h0M369.3 346.4h0M314.1 325.1h0M312.2 323.6h0M312.5 321.9h0M312.7 315.1h0M311.5 311.9h0M312.7 310.9h0M313.6 309.1h0M313.3 306.6h0M313.9 305.7h0M314.7 302.3h0M312.9 300.8h0M311.8 300.0h0M314.4 324.4h0M315.9 323.2h0M317.6 322.9h0M319.4 322.9h0M324.7 323.1h0M325.7 323.4h0M326.7 323.8h0M329.7 325.1h0M330.8 314.3h0M326.1 313.3h0M321.6 304.7h0M319.1 303.7h0M316.8 301.4h0M315.6 301.4h0M315.4 297.9h0M313.9 298.4h0M311.9 295.6h0M328.0 309.8h0M327.3 308.6h0M325.0 307.1h0M322.6 305.9h0M317.8 305.2h0M317.7 301.2h0M314.4 300.9h0M309.1 298.9h0M299.1 326.3h0M296.6 318.9h0M296.7 317.1h0M295.7 315.6h0M295.9 312.8h0M294.6 312.3h0M295.2 311.2h0M294.9 310.4h0M297.6 329.6h0M298.4 312.1h0M296.1 311.4h0M294.2 308.9h0M296.9 308.1h0M298.2 306.9h0M300.7 305.8h0M302.0 304.7h0M303.7 302.8h0M304.2 302.0h0M305.3 302.0h0M306.7 300.9h0M309.8 299.3h0M295.8 310.0h0M295.2 307.2h0M298.1 308.6h0M300.2 304.8h0M301.4 304.1h0M305.9 305.4h0M308.2 297.6h0M318.7 345.9h0M320.9 348.4h0M323.5 350.4h0M321.1 348.0h0M322.9 351.5h0M338.0 338.7h0M336.2 337.4h0M335.2 335.8h0M333.8 334.4h0M334.1 332.6h0M333.5 330.1h0M333.6 328.3h0M332.1 327.8h0M338.1 333.3h0M339.1 331.6h0M330.8 331.0h0M333.0 324.7h0M328.8 321.6h0M333.9 303.2h0M333.6 306.7h0M333.0 307.4h0M333.6 308.5h0M331.3 309.6h0M333.7 315.6h0M292.7 308.5h0M294.2 311.2h0M278.5 312.8h0M278.4 311.8h0M273.4 309.3h0M268.8 305.4h0M267.7 304.1h0M266.6 300.6h0M265.5 299.4h0M279.3 316.9h0M279.2 317.8h0M280.0 318.8h0M279.3 319.6h0M276.2 321.9h0M276.7 324.3h0M274.2 323.9h0M273.4 323.8h0M271.3 325.1h0M270.7 324.2h0M269.2 323.2h0M268.6 322.4h0M263.7 321.6h0M261.5 320.1h0M259.9 319.5h0M258.2 319.4h0M265.2 301.8h0M264.7 302.5h0M261.7 303.3h0M262.6 305.2h0M260.2 308.9h0M256.4 312.4h0M255.5 312.7h0M253.6 313.3h0M251.9 314.1h0M252.3 315.5h0M250.9 315.5h0M251.1 316.8h0M290.1 308.6h0M289.1 310.8h0M288.5 311.5h0M284.2 312.3h0M280.3 327.5h0M277.5 327.6h0M278.2 324.3h0M302.9 370.3h0M297.5 376.8h0M301.4 373.4h0M299.1 374.1h0M298.7 375.6h0M305.1 367.2h0M305.2 371.2h0M308.9 369.9h0M311.5 369.9h0M312.5 368.8h0M315.8 369.5h0M321.2 368.4h0M321.6 370.9h0M322.7 369.1h0M299.3 378.6h0M300.9 379.3h0M302.9 379.4h0M302.3 381.6h0M305.7 382.8h0M307.3 383.4h0M317.7 390.7h0M318.1 391.5h0M322.5 371.8h0M321.1 377.6h0M320.6 381.0h0M322.8 382.0h0M319.6 385.5h0M320.1 392.1h0M290.3 384.0h0M292.8 383.2h0M292.6 381.4h0M294.2 380.7h0M295.6 379.9h0M301.3 360.1h0M303.2 360.2h0M323.8 368.0h0M317.3 393.0h0M343.8 385.8h0M342.1 386.4h0M338.8 384.6h0M338.0 385.1h0M336.3 385.4h0M335.5 385.0h0M334.6 384.0h0M333.0 384.1h0M331.3 383.8h0M328.8 384.7h0M326.3 384.3h0M324.6 383.8h0M323.8 384.4h0M323.0 384.1h0M325.3 385.1h0M324.0 384.8h0M297.0 361.8h0M302.2 359.6h0M299.3 361.0h0M296.9 355.3h0M295.6 355.8h0M300.4 357.1h0M301.7 360.1h0M300.3 356.2h0M299.6 356.1h0M295.4 358.4h0M292.9 309.7h0M297.6 311.3h0M277.5 362.5h0M280.7 361.2h0M366.3 344.8h0M366.4 348.9h0M364.7 347.1h0M368.6 345.8h0M368.4 347.6h0M366.0 346.9h0M287.3 425.2h0M285.0 422.9h0M287.0 424.2h0M286.3 422.6h0M287.6 419.0h0M284.0 422.2h0M286.9 422.1h0M289.7 420.3h0M390.0 346.8h0M393.4 349.6h0M390.6 350.4h0M389.4 346.2h0M381.9 404.6h0M385.0 408.3h0M350.3 370.3h0M349.6 370.7h0M346.6 369.5h0M350.0 372.2h0M350.1 371.3h0M397.5 402.7h0M399.0 407.2h0M400.3 404.8h0M400.6 404.8h0M398.7 402.4h0M315.2 323.3h0M314.1 322.2h0M304.9 371.1h0M304.7 368.7h0M304.1 364.2h0M306.4 369.4h0M383.7 308.1h0M381.2 313.0h0M382.9 309.4h0M383.0 308.7h0M378.0 306.1h0M340.7 370.0h0M344.0 367.0h0M345.3 366.6h0M348.4 369.1h0M345.4 363.8h0M347.0 368.7h0M322.7 347.9h0M379.1 416.5h0M379.5 403.1h0M378.9 403.6h0M379.0 400.1h0M378.5 402.3h0M378.8 404.0h0M324.5 372.9h0M322.7 371.9h0M321.2 373.8h0M323.0 374.2h0M295.6 430.6h0M295.0 430.2h0M299.6 431.1h0M300.3 430.0h0M295.7 425.2h0M297.2 427.9h0M294.6 430.3h0M295.1 429.3h0M331.3 429.9h0M324.4 430.9h0M324.7 427.3h0M325.5 427.9h0M324.3 429.6h0M326.5 425.2h0M407.0 347.6h0M409.0 350.0h0M404.7 341.3h0M406.8 350.2h0M409.5 343.1h0M280.1 380.0h0M279.3 383.3h0M281.6 378.8h0M282.0 382.3h0M291.2 308.2h0M289.0 310.8h0M293.7 309.1h0M291.6 308.0h0M289.3 308.8h0M257.6 411.3h0M256.7 406.9h0M257.3 411.5h0M258.0 405.9h0M255.0 406.8h0M347.8 343.6h0M348.4 344.3h0M344.3 343.3h0M345.9 345.0h0M348.6 343.5h0M346.2 341.4h0M320.8 346.9h0M318.9 348.5h0M319.2 351.4h0M320.3 345.0h0M313.6 349.1h0M322.5 346.6h0M317.4 347.2h0M274.7 355.9h0M273.9 353.7h0M269.4 358.0h0M268.1 355.9h0M284.9 406.6h0M283.6 410.4h0M283.5 404.9h0M403.9 438.9h0M406.7 438.7h0M403.2 437.9h0M407.4 438.0h0M382.3 421.6h0M383.1 422.5h0M383.4 421.5h0M382.1 423.0h0M382.1 420.6h0M383.4 424.9h0M380.6 419.8h0M382.7 421.8h0M367.8 368.1h0M366.6 370.9h0M366.6 373.5h0M311.2 298.2h0M309.0 297.7h0M312.9 297.5h0M311.8 298.9h0M372.2 335.0h0M372.2 337.7h0M366.2 335.5h0M370.4 335.7h0M370.3 337.0h0M369.5 339.7h0M372.0 339.6h0M300.9 330.9h0M297.6 329.8h0M299.9 328.1h0M391.8 368.4h0M397.1 370.6h0M394.2 368.7h0M395.4 367.4h0M391.4 382.2h0M392.9 385.6h0M349.7 416.0h0M348.9 414.4h0M351.2 415.8h0M351.4 413.6h0M337.8 344.5h0M338.2 342.1h0M341.3 340.9h0M397.8 336.0h0M398.5 333.7h0M403.1 330.3h0M394.3 334.6h0M394.8 335.1h0M399.9 328.8h0M403.7 335.1h0M394.4 335.1h0M403.1 334.9h0M301.2 399.8h0M299.9 401.2h0M303.7 402.7h0M305.1 399.5h0M304.6 401.2h0M302.2 400.7h0M327.7 368.0h0M327.9 366.3h0M328.0 368.6h0M328.6 366.9h0M329.2 363.2h0M261.0 407.4h0M263.8 406.8h0M261.8 406.3h0M259.7 405.4h0M264.1 405.8h0M403.8 396.4h0M399.9 395.1h0M402.7 400.6h0M400.6 395.6h0M379.0 394.6h0M379.7 393.4h0M380.8 392.6h0M377.2 389.5h0M381.4 389.4h0M377.7 393.9h0M379.8 393.2h0M256.6 411.4h0M260.9 407.8h0M261.0 411.1h0M253.9 411.5h0M256.2 411.2h0M257.9 408.0h0M292.4 330.5h0M291.2 330.1h0M270.4 432.5h0M271.8 433.9h0M276.3 429.5h0M278.1 432.0h0M273.2 435.1h0M271.7 429.9h0M252.1 317.9h0M248.2 320.0h0M250.8 314.9h0M245.6 314.9h0M361.1 400.4h0M359.0 399.5h0M356.2 403.1h0M360.8 401.5h0M359.8 401.6h0M291.1 387.6h0M287.6 383.7h0M288.5 385.8h0M285.1 385.8h0M284.7 386.9h0M255.6 367.0h0M256.0 368.4h0M252.6 370.4h0M254.9 368.9h0M255.7 369.5h0M256.4 367.7h0M373.7 377.2h0M371.9 373.1h0M371.7 374.8h0M369.0 374.8h0M369.0 374.4h0M370.4 374.0h0M374.0 372.8h0M267.4 381.4h0M264.4 385.4h0M266.9 385.2h0M267.4 385.3h0M263.1 382.5h0M406.4 316.3h0M403.5 316.5h0M404.9 315.4h0M401.4 315.6h0M384.1 321.1h0M382.2 326.9h0M380.8 320.2h0M382.6 324.1h0" stroke="#D4FF74" stroke-width="1.2" stroke-linecap="round" filter="url(#gb)"/><path d="M383.7 404.6h0M382.1 404.8h0M384.3 406.5h0M382.0 411.2h0M381.0 411.8h0M380.3 415.2h0M380.4 401.1h0M378.7 400.2h0M375.3 401.6h0M374.4 401.9h0M373.6 401.7h0M372.8 400.9h0M371.0 402.5h0M367.6 403.2h0M366.7 402.9h0M365.1 401.4h0M364.2 403.4h0M363.3 402.8h0M358.2 402.9h0M380.3 402.5h0M376.2 402.9h0M373.5 401.0h0M368.0 401.1h0M366.6 400.8h0M365.3 398.4h0M361.1 399.1h0M358.3 400.2h0M356.8 405.4h0M354.2 412.1h0M351.3 413.5h0M350.3 413.9h0M350.2 415.7h0M351.5 417.0h0M351.9 417.9h0M355.9 420.7h0M357.9 420.2h0M351.1 417.8h0M355.2 416.3h0M356.3 417.5h0M357.8 420.3h0M379.1 419.1h0M376.6 419.6h0M374.8 418.6h0M370.7 419.1h0M369.9 419.5h0M368.2 419.2h0M366.4 418.8h0M365.5 418.3h0M363.2 419.9h0M359.7 418.9h0M359.2 421.0h0M379.5 416.1h0M378.2 416.6h0M376.9 417.4h0M375.3 416.0h0M372.6 416.5h0M367.3 418.0h0M366.0 418.5h0M359.0 418.2h0M356.9 422.9h0M333.4 426.6h0M335.3 425.0h0M337.6 423.7h0M337.4 422.0h0M342.5 420.3h0M342.8 419.2h0M344.5 418.6h0M345.2 416.7h0M347.6 417.1h0M347.5 415.5h0M347.9 414.7h0M334.7 427.5h0M335.9 428.7h0M338.0 427.6h0M339.3 429.8h0M340.9 431.8h0M341.1 432.7h0M340.7 434.4h0M342.0 434.2h0M343.9 434.6h0M348.4 440.7h0M351.4 443.6h0M351.7 444.5h0M353.6 446.0h0M355.4 446.6h0M356.2 446.9h0M357.0 451.0h0M358.7 450.3h0M358.8 451.4h0M358.6 452.9h0M332.8 427.2h0M333.7 428.1h0M334.1 431.5h0M335.5 431.9h0M337.3 433.8h0M343.4 438.6h0M346.2 437.5h0M347.8 437.6h0M346.7 440.8h0M349.6 439.5h0M351.5 443.1h0M354.0 446.2h0M355.3 448.6h0M356.8 448.9h0M359.5 451.8h0M362.9 451.9h0M356.2 421.3h0M357.6 422.8h0M357.9 426.1h0M358.7 428.5h0M358.1 431.1h0M360.2 435.0h0M360.5 435.8h0M358.2 437.0h0M361.4 439.0h0M362.2 448.9h0M362.1 450.6h0M362.1 451.5h0M354.5 424.3h0M353.9 425.8h0M355.7 429.6h0M357.8 434.7h0M359.8 435.8h0M359.6 437.2h0M358.3 440.1h0M360.8 446.5h0M365.5 448.5h0M306.0 421.5h0M306.8 420.7h0M308.6 421.8h0M311.4 422.7h0M313.0 421.9h0M313.8 421.9h0M314.8 422.2h0M315.6 421.8h0M319.0 421.8h0M320.7 421.7h0M307.6 422.6h0M309.2 422.9h0M310.7 423.5h0M312.4 425.0h0M315.3 424.4h0M317.8 422.0h0M304.4 423.4h0M305.6 420.7h0M306.5 419.7h0M305.7 419.0h0M303.9 417.5h0M305.3 415.6h0M302.7 414.2h0M304.5 413.2h0M304.5 412.3h0M304.3 411.5h0M304.2 410.6h0M304.8 409.7h0M304.6 408.0h0M302.9 407.4h0M304.1 401.2h0M304.9 400.3h0M320.7 420.2h0M322.0 417.8h0M320.0 413.4h0M321.7 411.0h0M320.4 410.1h0M320.7 409.2h0M321.4 407.6h0M321.9 405.1h0M321.3 404.2h0M322.5 403.5h0M303.9 399.7h0M305.7 399.7h0M307.3 399.1h0M308.7 397.7h0M310.8 395.7h0M311.7 395.7h0M312.8 396.4h0M313.6 396.1h0M314.4 395.6h0M315.3 395.8h0M316.2 395.6h0M302.6 398.2h0M306.2 400.1h0M311.1 401.2h0M317.3 396.4h0M322.6 401.2h0M322.0 399.4h0M320.6 397.0h0M320.3 396.1h0M327.9 427.8h0M325.1 426.8h0M323.0 421.2h0M321.1 421.9h0M324.7 426.3h0M327.0 429.7h0M326.1 431.1h0M324.8 431.6h0M324.2 432.3h0M325.4 433.5h0M325.6 434.4h0M323.8 434.7h0M322.7 436.9h0M323.1 439.6h0M323.0 442.1h0M322.0 444.3h0M321.8 445.1h0M320.6 447.3h0M321.0 449.0h0M321.0 450.7h0M319.9 453.8h0M319.5 455.4h0M319.6 456.2h0M317.3 457.3h0M320.7 459.9h0M317.5 462.4h0M317.8 465.8h0M316.2 467.0h0M317.8 468.3h0M315.6 470.3h0M316.5 471.3h0M315.3 473.5h0M315.2 474.3h0M315.1 477.7h0M315.2 480.2h0M312.8 480.4h0M313.1 483.0h0M313.3 484.7h0M311.6 485.1h0M313.4 488.1h0M311.3 489.2h0M311.9 491.1h0M310.4 492.3h0M309.8 493.0h0M310.1 493.9h0M297.8 429.6h0M299.4 428.8h0M300.8 427.7h0M301.4 427.0h0M301.6 424.1h0M303.4 425.3h0M303.7 424.1h0M304.9 422.7h0M306.1 423.0h0M298.2 430.2h0M298.7 428.3h0M300.3 427.8h0M305.1 424.2h0M331.7 427.5h0M330.7 428.0h0M327.8 429.7h0M332.5 425.6h0M331.6 430.6h0M329.6 430.0h0M327.0 425.4h0M333.8 403.8h0M335.5 404.4h0M336.5 404.5h0M341.3 406.7h0M342.2 406.9h0M343.1 407.2h0M342.8 408.9h0M345.1 407.4h0M345.7 409.4h0M347.9 410.8h0M348.5 411.4h0M349.0 412.2h0M332.9 402.1h0M329.3 401.0h0M323.9 401.3h0M332.3 401.7h0M329.4 402.0h0M327.8 403.3h0M395.0 302.5h0M394.9 303.9h0M392.8 303.8h0M392.4 304.8h0M391.2 304.6h0M391.6 306.6h0M386.3 305.1h0M384.9 306.1h0M380.3 306.9h0M394.2 299.9h0M392.4 299.7h0M392.9 305.1h0M387.6 304.7h0M384.2 309.2h0M394.2 301.1h0M396.7 301.5h0M395.7 305.2h0M396.8 307.6h0M398.5 307.5h0M398.4 308.6h0M399.3 309.1h0M400.5 309.3h0M400.7 310.2h0M403.1 314.8h0M346.3 371.0h0M346.4 372.8h0M345.6 373.5h0M345.8 375.4h0M346.3 377.3h0M345.5 378.9h0M345.3 379.7h0M346.4 382.7h0M344.9 384.1h0M346.1 385.3h0M347.4 370.7h0M348.2 369.3h0M352.7 370.5h0M354.3 369.0h0M355.2 369.3h0M357.0 369.6h0M360.4 369.2h0M362.2 369.1h0M363.8 367.7h0M368.9 372.6h0M367.9 375.9h0M366.4 380.7h0M366.4 382.5h0M363.1 386.5h0M362.7 389.1h0M361.1 390.2h0M362.3 391.7h0M360.2 391.6h0M361.8 393.3h0M358.6 395.5h0M356.6 395.5h0M357.1 397.6h0M357.2 396.3h0M355.8 396.6h0M354.7 395.2h0M353.5 395.4h0M353.3 394.2h0M351.3 395.2h0M351.2 392.6h0M349.4 393.4h0M349.7 391.6h0M347.1 392.0h0M346.7 391.1h0M346.5 389.9h0M343.9 387.6h0M356.3 399.2h0M334.3 400.7h0M334.6 399.9h0M335.7 398.6h0M336.0 397.8h0M338.9 393.7h0M341.2 391.2h0M338.6 400.6h0M339.4 399.4h0M337.9 394.9h0M338.3 393.4h0M342.1 392.6h0M342.0 390.8h0M342.4 389.4h0M344.2 388.8h0M403.8 315.9h0M403.8 316.9h0M403.9 317.8h0M402.6 320.2h0M402.7 321.1h0M403.3 322.2h0M403.2 323.1h0M401.7 323.6h0M402.1 328.3h0M403.8 320.9h0M402.7 326.5h0M399.5 328.5h0M380.7 309.4h0M379.8 310.1h0M380.9 312.2h0M380.5 314.7h0M382.2 310.6h0M383.0 314.0h0M378.0 314.5h0M377.6 315.5h0M378.9 316.1h0M379.5 317.8h0M383.2 323.3h0M384.3 325.7h0M385.2 325.7h0M390.7 329.8h0M396.0 332.5h0M397.8 332.8h0M383.7 322.5h0M385.1 328.9h0M388.5 328.4h0M390.0 331.4h0M392.1 330.5h0M398.4 333.4h0M399.3 332.5h0M379.1 401.9h0M380.0 400.0h0M381.3 396.3h0M379.3 395.6h0M368.6 372.2h0M371.8 376.1h0M373.7 376.1h0M375.6 378.1h0M375.7 378.9h0M376.1 381.5h0M377.3 382.8h0M378.1 386.2h0M379.1 387.6h0M379.6 390.1h0M378.7 391.4h0M399.2 398.2h0M398.8 400.1h0M397.2 401.4h0M384.8 388.3h0M386.7 386.5h0M391.2 384.1h0M392.1 383.9h0M328.8 347.0h0M329.0 345.8h0M330.2 346.2h0M331.7 345.4h0M333.1 345.9h0M333.0 344.3h0M334.4 343.3h0M335.3 343.1h0M337.5 340.4h0M322.6 352.0h0M322.4 352.9h0M323.5 354.4h0M323.5 355.3h0M325.0 356.7h0M325.7 358.2h0M326.9 363.2h0M328.4 363.7h0M327.6 364.8h0M336.6 367.4h0M335.9 365.9h0M332.3 367.3h0M345.9 366.5h0M345.0 365.6h0M343.7 364.7h0M344.6 363.9h0M345.1 363.1h0M344.0 360.6h0M343.7 358.1h0M344.3 356.4h0M343.8 353.9h0M344.9 352.3h0M343.8 350.6h0M344.8 348.1h0M344.1 347.3h0M343.5 346.4h0M344.3 344.8h0M347.6 366.9h0M343.9 363.9h0M345.3 362.6h0M344.5 355.6h0M343.8 354.2h0M344.6 352.8h0M345.5 348.7h0M346.1 346.0h0M347.3 343.3h0M344.4 341.3h0M341.0 342.5h0M339.5 343.9h0M338.6 343.6h0M338.0 342.4h0M273.8 432.7h0M271.8 432.2h0M272.3 428.7h0M270.9 428.7h0M270.0 427.3h0M269.2 423.8h0M267.7 421.8h0M266.9 420.3h0M265.9 419.0h0M264.7 417.8h0M264.6 415.8h0M263.5 414.6h0M262.4 414.3h0M261.7 413.8h0M260.1 411.9h0M260.5 410.6h0M260.1 409.8h0M258.3 409.1h0M257.1 410.7h0M297.4 429.0h0M291.0 424.2h0M290.3 422.2h0M288.3 422.0h0M295.3 429.3h0M291.4 426.9h0M287.1 422.3h0M285.3 424.2h0M282.9 426.6h0M282.0 427.0h0M280.8 428.2h0M277.9 428.7h0M276.6 431.2h0M274.6 431.5h0M274.5 432.8h0M270.9 355.7h0M269.9 353.2h0M270.9 352.0h0M269.6 349.7h0M267.5 349.4h0M266.5 348.8h0M265.9 344.4h0M270.0 355.8h0M269.5 356.6h0M267.7 357.1h0M267.3 357.9h0M266.9 360.1h0M265.1 360.6h0M263.7 360.2h0M262.6 361.5h0M261.0 362.2h0M260.0 363.7h0M255.9 366.7h0M253.9 368.2h0M251.8 370.4h0M255.8 371.7h0M256.8 373.1h0M256.4 374.4h0M257.5 374.6h0M259.1 375.6h0M260.0 376.0h0M261.0 377.4h0M266.2 379.9h0M253.5 370.9h0M257.5 374.9h0M258.7 377.4h0M262.0 378.5h0M262.1 380.2h0M262.9 383.0h0M262.0 385.5h0M265.0 385.0h0M264.4 384.5h0M258.2 410.3h0M266.3 387.8h0M264.3 390.0h0M264.0 390.9h0M262.8 393.2h0M262.0 394.8h0M262.5 395.7h0M261.8 397.4h0M262.0 398.2h0M261.6 399.9h0M260.4 401.4h0M262.7 402.6h0M261.2 404.1h0M264.5 389.1h0M266.2 393.5h0M264.1 398.7h0M262.5 401.3h0M263.3 406.9h0M262.5 405.3h0M264.2 405.0h0M265.7 406.7h0M267.4 406.7h0M268.4 406.2h0M270.0 406.7h0M270.8 407.0h0M273.2 408.7h0M274.0 409.0h0M274.8 409.4h0M276.6 408.8h0M280.7 410.6h0M262.1 408.4h0M263.4 408.7h0M267.5 407.9h0M272.5 410.9h0M276.9 407.5h0M280.8 408.4h0M283.6 408.2h0M303.0 403.2h0M300.4 402.8h0M299.6 401.5h0M298.8 400.4h0M297.0 400.8h0M294.4 400.2h0M293.5 399.3h0M292.7 399.0h0M291.8 398.6h0M282.4 408.8h0M284.4 408.0h0M283.5 406.2h0M285.7 406.7h0M288.6 404.5h0M291.3 400.9h0M293.0 333.1h0M292.1 333.2h0M291.3 332.6h0M285.9 331.9h0M285.1 330.6h0M283.2 330.9h0M282.2 332.5h0M280.3 333.6h0M295.1 336.7h0M294.2 337.6h0M295.1 338.3h0M294.9 340.0h0M295.6 343.3h0M295.2 344.1h0M293.8 346.0h0M294.1 347.6h0M292.6 355.2h0M294.3 356.7h0M270.4 356.4h0M271.9 355.9h0M278.3 359.6h0M280.0 360.5h0M276.9 359.8h0M277.1 361.9h0M282.7 362.1h0M284.7 362.8h0M286.1 361.4h0M288.6 360.8h0M290.3 360.4h0M291.1 360.0h0M293.3 358.4h0M293.9 357.6h0M279.9 364.6h0M280.6 362.2h0M284.4 359.8h0M290.1 359.0h0M290.9 356.7h0M296.0 358.4h0M265.8 384.5h0M267.8 384.9h0M268.5 384.3h0M275.9 381.2h0M279.4 380.7h0M265.6 384.0h0M271.1 382.4h0M272.8 383.0h0M272.8 378.6h0M279.7 363.5h0M279.2 364.4h0M280.0 366.1h0M279.0 366.9h0M277.6 371.3h0M277.1 374.7h0M277.5 376.4h0M278.4 377.3h0M278.6 378.1h0M290.6 399.5h0M290.9 398.5h0M289.9 397.0h0M289.8 396.1h0M287.2 394.1h0M287.0 393.3h0M287.2 392.3h0M286.3 390.8h0M285.4 390.1h0M286.4 387.2h0M286.5 386.2h0M287.1 385.2h0M286.9 395.9h0M290.6 390.3h0M291.1 387.2h0M288.2 386.4h0M288.6 384.8h0M280.6 382.8h0M282.9 381.2h0M317.4 346.0h0M316.0 347.0h0M315.2 347.4h0M313.1 348.9h0M312.4 349.4h0M309.2 350.8h0M304.7 353.4h0M305.0 355.6h0M303.2 355.8h0M300.9 358.7h0M296.4 332.2h0M300.0 331.0h0M300.5 330.0h0M307.4 327.3h0M303.5 327.9h0M299.0 357.5h0M295.8 358.5h0M298.5 358.5h0M295.8 355.9h0M383.1 423.7h0M382.9 424.5h0M383.1 426.2h0M382.8 427.0h0M381.8 433.4h0M382.3 434.3h0M381.1 435.8h0M381.3 437.5h0M381.1 439.9h0M381.7 443.3h0M379.3 443.9h0M379.8 448.9h0M379.7 450.5h0M379.3 452.1h0M378.8 453.7h0M379.9 454.6h0M377.2 455.2h0M377.8 456.0h0M378.5 460.2h0M377.3 461.8h0M375.6 462.4h0M376.8 464.2h0M375.5 464.9h0M375.3 466.5h0M375.7 471.5h0M375.0 473.0h0M375.1 475.5h0M374.7 477.1h0M374.2 477.9h0M373.2 485.2h0M373.5 486.0h0M382.3 422.1h0M383.1 422.3h0M384.0 422.7h0M385.0 421.5h0M386.0 421.4h0M386.7 422.3h0M387.5 422.9h0M389.1 424.0h0M390.1 423.6h0M395.0 426.7h0M396.0 425.8h0M396.8 426.4h0M397.6 427.1h0M389.0 427.6h0M390.5 427.0h0M394.8 426.9h0M397.8 426.0h0M404.9 437.8h0M402.4 437.5h0M401.7 432.7h0M401.0 430.1h0M399.2 430.3h0M398.8 429.5h0M398.9 428.4h0M398.8 427.4h0M398.1 426.8h0M397.1 426.5h0M403.7 435.3h0M401.7 431.7h0M399.5 426.5h0M401.1 423.7h0M406.0 439.0h0M407.1 439.9h0M407.4 440.7h0M405.9 447.9h0M407.8 448.8h0M407.2 450.4h0M406.1 453.6h0M405.1 456.7h0M406.4 460.0h0M403.0 460.6h0M404.9 461.6h0M404.6 463.2h0M404.9 464.8h0M405.7 466.5h0M406.7 467.3h0M404.8 471.2h0M405.2 474.5h0M403.6 475.2h0M403.1 476.8h0M404.2 477.7h0M402.9 478.4h0M403.7 479.3h0M403.7 480.1h0M402.6 481.6h0M403.4 482.5h0M402.4 483.2h0M404.4 484.1h0M402.8 488.1h0M401.2 490.4h0M401.4 496.1h0M403.0 498.6h0M402.1 499.3h0M402.9 500.2h0M401.5 503.3h0M400.8 505.7h0M402.3 506.6h0M400.1 508.9h0M401.4 509.8h0M400.3 510.5h0M400.0 512.9h0M400.8 513.8h0M401.1 514.6h0M399.3 515.3h0M400.1 524.2h0M399.7 525.0h0M399.4 525.8h0M399.5 527.4h0M399.1 528.2h0M399.2 533.1h0M397.2 533.7h0M399.6 536.3h0M398.6 537.1h0M397.7 537.8h0M398.1 541.1h0M397.3 541.8h0M397.3 546.7h0M397.1 547.4h0M397.8 548.3h0M398.0 550.7h0M395.7 553.0h0M397.9 554.0h0M396.4 554.7h0M396.6 555.5h0M396.7 557.1h0M398.1 558.0h0M396.8 559.5h0M397.0 560.4h0M396.6 562.0h0M396.4 563.6h0M397.6 565.3h0M396.2 566.0h0M396.8 566.8h0M395.7 568.4h0M395.7 573.2h0M395.7 574.0h0M394.1 574.7h0M395.1 576.4h0M395.0 577.2h0M395.4 578.0h0M394.8 581.2h0M395.2 582.0h0M394.6 582.8h0M395.0 586.9h0M363.0 452.7h0M362.1 453.9h0M362.3 455.6h0M364.2 457.5h0M366.4 462.0h0M365.9 463.9h0M367.8 465.0h0M368.5 465.6h0M369.1 468.9h0M368.8 471.7h0M370.6 477.2h0M371.3 478.7h0M371.6 480.3h0M373.8 483.0h0M374.0 484.7h0M398.9 406.0h0M397.1 410.2h0M400.3 413.5h0M398.3 414.4h0M399.0 415.2h0M396.4 417.7h0M396.8 418.5h0M397.9 423.5h0M396.2 424.3h0M417.1 414.8h0M414.9 413.3h0M414.6 412.2h0M409.2 409.5h0M407.9 408.4h0M407.1 407.9h0M406.7 406.8h0M405.1 408.1h0M402.1 406.4h0M413.8 413.9h0M413.6 411.2h0M411.5 409.3h0M403.9 408.9h0M402.7 408.1h0M402.4 405.7h0M401.1 405.2h0M399.1 406.0h0M397.4 406.3h0M394.1 346.4h0M395.9 343.0h0M397.2 341.8h0M391.7 347.8h0M394.9 343.0h0M395.2 341.3h0M396.1 340.2h0M390.2 349.6h0M392.0 351.1h0M391.6 352.8h0M391.6 353.7h0M390.3 355.5h0M393.0 357.8h0M394.2 361.0h0M394.5 363.6h0M392.8 364.6h0M394.2 365.3h0M395.6 366.0h0M406.1 346.0h0M407.5 347.0h0M407.0 348.3h0M407.7 348.8h0M408.6 349.2h0M409.9 351.4h0M412.0 355.8h0M417.7 363.0h0M421.4 364.6h0M420.3 366.2h0M421.7 368.2h0M422.4 369.7h0M423.3 371.1h0M407.3 345.3h0M406.9 347.1h0M411.3 349.2h0M411.6 350.5h0M409.3 353.5h0M414.0 353.8h0M413.3 357.3h0M418.1 362.3h0M420.4 365.7h0M422.2 367.7h0M422.5 370.7h0M423.6 371.6h0M427.0 372.7h0M405.0 343.5h0M407.3 345.3h0M405.5 342.4h0M403.0 340.9h0M399.0 333.3h0M398.4 336.2h0M400.5 333.4h0M399.0 336.8h0M397.0 338.4h0M397.7 340.2h0M401.5 398.8h0M403.7 395.1h0M403.2 393.4h0M408.7 390.6h0M408.7 389.4h0M408.3 387.8h0M414.1 383.0h0M415.2 380.5h0M419.0 378.3h0M419.4 377.5h0M421.1 378.0h0M422.0 376.6h0M392.7 381.3h0M391.8 380.3h0M393.5 378.8h0M391.7 376.8h0M392.2 376.0h0M392.3 375.1h0M392.4 373.3h0M393.0 371.7h0M394.3 370.1h0M395.3 369.4h0M371.9 375.7h0M372.3 374.1h0M374.0 374.0h0M376.2 372.5h0M378.6 371.5h0M379.9 369.9h0M380.8 370.0h0M383.2 369.4h0M383.8 368.4h0M384.5 367.6h0M386.4 368.4h0M387.1 367.9h0M390.3 366.8h0M392.1 366.9h0M392.9 366.8h0M350.8 337.8h0M351.2 336.2h0M353.0 328.9h0M354.4 324.9h0M353.7 322.9h0M348.1 337.1h0M350.3 336.4h0M351.8 335.5h0M353.8 330.3h0M352.6 328.4h0M355.4 327.9h0M354.4 321.7h0M354.5 320.2h0M347.4 342.9h0M347.9 344.8h0M348.8 344.5h0M350.0 343.1h0M350.8 343.8h0M353.4 343.9h0M354.9 345.1h0M357.3 342.3h0M357.8 344.0h0M359.7 343.2h0M362.9 345.0h0M365.5 344.8h0M367.2 345.1h0M355.4 319.7h0M355.3 320.8h0M357.0 321.6h0M356.8 322.8h0M357.0 324.9h0M358.7 324.6h0M359.1 326.4h0M361.2 326.9h0M361.5 327.8h0M362.3 328.2h0M363.6 328.2h0M364.7 330.6h0M370.5 333.6h0M370.6 335.7h0M368.2 347.9h0M367.7 344.0h0M346.5 369.3h0M364.4 368.0h0M365.2 367.2h0M365.9 366.5h0M365.2 365.5h0M365.5 360.5h0M365.1 359.6h0M365.8 358.9h0M365.9 353.0h0M366.6 351.4h0M366.8 350.6h0M366.9 348.9h0M346.1 344.1h0M347.5 343.1h0M381.0 323.3h0M380.0 323.6h0M380.4 325.1h0M378.4 325.6h0M378.2 326.6h0M377.0 327.9h0M376.5 329.8h0M374.7 331.6h0M374.6 332.6h0M374.8 334.1h0M372.4 334.2h0M371.2 336.5h0M358.0 312.6h0M357.7 313.6h0M357.7 314.7h0M355.3 317.8h0M390.8 346.6h0M389.9 346.6h0M388.9 348.1h0M383.0 347.2h0M382.2 346.1h0M381.2 347.5h0M375.2 347.2h0M373.4 348.1h0M372.6 347.5h0M370.9 347.6h0M370.1 346.1h0M369.1 347.7h0M391.7 346.5h0M390.2 346.8h0M388.8 347.7h0M386.1 346.5h0M385.0 343.3h0M383.1 348.6h0M382.1 344.2h0M379.3 344.0h0M377.8 345.1h0M373.5 345.6h0M312.2 324.4h0M312.5 320.2h0M314.0 319.2h0M311.8 318.6h0M314.0 317.5h0M312.5 316.0h0M313.3 307.5h0M312.6 305.0h0M313.0 301.6h0M312.5 299.1h0M311.9 297.5h0M312.3 296.6h0M313.4 324.0h0M315.2 324.1h0M317.3 325.4h0M318.5 323.1h0M320.6 324.4h0M322.2 323.6h0M322.9 323.0h0M327.7 324.2h0M330.8 322.4h0M331.8 322.9h0M332.6 322.6h0M331.6 315.9h0M328.8 315.3h0M327.9 312.6h0M326.1 310.9h0M324.7 308.7h0M323.9 308.3h0M322.6 307.3h0M320.9 304.2h0M319.7 304.3h0M318.7 302.9h0M316.8 302.6h0M316.1 299.7h0M315.3 299.3h0M313.0 298.1h0M313.1 296.8h0M333.9 313.2h0M331.7 313.7h0M325.4 308.7h0M325.8 304.2h0M321.7 304.8h0M318.3 302.6h0M315.7 301.5h0M313.1 300.4h0M309.9 328.0h0M310.6 327.4h0M313.4 326.3h0M300.5 328.6h0M299.8 327.9h0M299.9 327.0h0M298.2 324.8h0M298.2 323.9h0M296.0 321.0h0M296.0 320.1h0M295.3 318.5h0M296.2 316.3h0M295.5 314.7h0M299.8 327.4h0M299.4 324.7h0M298.2 323.6h0M300.2 321.5h0M300.0 317.3h0M297.5 313.8h0M293.7 309.6h0M294.5 307.9h0M297.2 307.0h0M298.0 305.3h0M300.5 307.0h0M301.1 305.1h0M303.1 303.4h0M306.0 301.4h0M308.4 300.4h0M309.5 300.3h0M310.4 298.7h0M311.0 298.1h0M312.2 298.2h0M296.4 312.9h0M303.3 304.3h0M305.6 302.8h0M304.9 299.9h0M308.6 302.3h0M308.3 299.8h0M310.7 298.5h0M321.6 349.5h0M323.1 348.8h0M320.0 346.7h0M322.7 348.4h0M338.2 340.4h0M336.4 338.2h0M336.4 336.4h0M333.1 332.0h0M333.1 326.7h0M333.0 325.8h0M331.7 324.4h0M332.4 323.3h0M332.4 322.4h0M332.5 321.5h0M337.2 334.9h0M334.5 328.6h0M333.8 325.9h0M332.2 323.5h0M333.2 304.8h0M333.3 311.1h0M333.0 311.9h0M332.8 312.7h0M293.2 310.3h0M275.6 310.8h0M273.2 308.4h0M271.5 307.6h0M269.8 306.9h0M269.0 304.2h0M267.7 300.8h0M278.1 314.8h0M278.1 315.7h0M277.3 320.2h0M277.6 321.2h0M275.8 323.7h0M275.8 324.5h0M275.1 323.7h0M272.2 324.9h0M266.7 322.9h0M266.0 322.4h0M265.4 321.4h0M264.4 322.0h0M256.7 318.9h0M254.5 317.2h0M252.0 316.9h0M251.5 315.7h0M250.5 316.2h0M262.4 302.8h0M259.6 310.6h0M258.9 311.1h0M256.1 311.0h0M285.3 312.8h0M283.5 312.8h0M282.6 312.8h0M281.9 313.4h0M281.1 313.7h0M280.2 313.9h0M278.3 313.6h0M280.2 332.6h0M280.5 331.5h0M280.0 330.6h0M278.8 330.1h0M278.5 329.2h0M278.2 326.3h0M279.1 324.9h0M276.4 324.0h0M247.6 316.7h0M247.7 316.8h0M249.1 313.8h0M304.4 368.0h0M304.5 369.0h0M302.0 372.8h0M301.4 373.5h0M299.8 374.8h0M304.7 368.1h0M300.9 369.8h0M300.2 371.2h0M302.8 370.5h0M303.7 370.3h0M307.2 369.5h0M308.1 369.4h0M310.7 369.4h0M315.1 368.9h0M317.0 367.8h0M318.3 369.9h0M319.5 367.8h0M320.5 367.1h0M299.0 377.6h0M300.1 378.9h0M301.2 380.3h0M303.7 381.2h0M304.6 381.4h0M305.3 381.9h0M306.3 383.4h0M308.1 383.8h0M309.2 383.8h0M309.6 384.6h0M311.1 384.1h0M311.5 386.3h0M311.4 387.8h0M314.7 389.0h0M317.0 390.2h0M321.2 370.8h0M322.1 372.6h0M321.9 382.8h0M321.7 384.5h0M322.7 385.5h0M320.3 386.9h0M321.0 388.4h0M320.1 388.9h0M319.7 389.8h0M318.1 390.0h0M286.8 384.9h0M287.3 384.2h0M288.6 384.7h0M297.8 378.5h0M298.1 377.4h0M298.5 376.5h0M300.6 358.3h0M301.5 358.9h0M300.8 362.4h0M303.3 362.2h0M302.5 363.7h0M301.6 365.2h0M301.4 366.4h0M302.3 367.0h0M327.9 366.2h0M327.2 367.0h0M326.3 367.6h0M325.7 368.3h0M323.5 369.1h0M321.4 368.6h0M317.6 394.1h0M317.2 391.9h0M343.0 384.5h0M337.1 385.2h0M325.5 384.3h0M322.1 383.9h0M321.3 385.0h0M343.8 384.6h0M342.5 386.7h0M341.2 384.6h0M337.2 383.3h0M334.5 385.9h0M333.2 385.7h0M330.6 384.5h0M329.2 385.3h0M326.6 387.7h0M322.6 389.9h0M296.1 356.9h0M301.0 358.1h0M296.8 356.8h0M298.6 356.5h0M300.9 358.4h0M302.5 358.4h0M295.8 307.5h0M295.3 306.9h0M296.2 306.7h0M294.4 309.1h0M294.8 307.9h0M298.8 310.0h0M294.4 306.7h0M297.2 308.6h0M317.0 399.6h0M315.9 396.7h0M317.8 396.2h0M320.0 395.5h0M320.1 400.2h0M313.6 395.9h0M276.2 361.0h0M278.6 359.8h0M276.4 360.1h0M279.0 358.2h0M277.8 365.0h0M279.3 362.1h0M282.2 362.4h0M281.1 362.9h0M369.0 344.8h0M367.0 348.1h0M368.2 346.3h0M367.8 345.2h0M365.7 345.2h0M287.8 423.3h0M286.2 424.6h0M286.4 422.9h0M286.7 425.7h0M286.1 423.9h0M284.0 423.9h0M392.3 347.4h0M387.0 405.1h0M383.2 408.3h0M383.8 404.8h0M384.5 404.0h0M382.5 404.6h0M384.4 406.6h0M381.8 406.4h0M346.2 370.8h0M346.5 371.3h0M345.3 372.2h0M349.9 370.0h0M346.4 368.0h0M344.6 369.9h0M348.7 372.0h0M396.7 404.2h0M396.8 403.4h0M397.1 404.3h0M314.5 326.7h0M311.7 326.0h0M314.8 323.3h0M312.1 327.5h0M303.2 363.0h0M301.3 366.3h0M303.6 369.9h0M305.5 363.6h0M300.6 370.2h0M302.3 366.1h0M300.9 367.3h0M307.8 367.4h0M303.3 365.9h0M303.5 365.8h0M306.8 367.5h0M386.0 308.1h0M379.2 311.2h0M378.7 312.5h0M380.4 311.7h0M386.0 308.4h0M385.3 308.5h0M382.3 313.1h0M384.8 312.6h0M385.5 313.3h0M378.5 308.7h0M342.9 372.2h0M347.6 367.7h0M341.2 365.4h0M343.0 372.5h0M342.3 367.1h0M342.5 367.3h0M342.6 370.3h0M344.3 371.9h0M322.9 348.9h0M325.0 347.6h0M323.5 346.8h0M326.4 349.6h0M325.3 351.6h0M324.6 352.7h0M378.5 421.0h0M377.2 419.4h0M383.1 419.1h0M382.0 418.3h0M380.0 421.5h0M379.2 415.9h0M379.4 420.9h0M381.1 402.8h0M377.8 402.8h0M380.8 403.5h0M381.5 402.0h0M381.7 401.4h0M381.3 399.2h0M377.9 402.6h0M381.4 402.7h0M381.7 399.6h0M325.9 371.3h0M324.0 369.4h0M322.2 368.2h0M324.1 373.2h0M320.6 368.9h0M324.9 368.8h0M324.7 373.1h0M319.2 369.3h0M320.0 372.9h0M324.0 372.3h0M298.7 424.9h0M297.0 429.5h0M295.3 430.1h0M295.5 432.3h0M294.3 426.1h0M298.1 432.6h0M300.6 426.0h0M293.1 429.2h0M295.3 425.3h0M301.3 427.3h0M326.5 428.0h0M329.3 431.2h0M410.9 348.2h0M410.2 343.8h0M406.5 347.6h0M404.7 347.4h0M407.8 350.1h0M404.3 342.7h0M277.1 380.6h0M278.5 377.7h0M281.5 379.6h0M289.4 309.7h0M289.4 309.2h0M292.4 310.0h0M292.1 308.5h0M288.9 310.6h0M293.1 307.1h0M256.8 405.7h0M256.8 413.0h0M255.1 407.9h0M343.5 346.0h0M345.4 346.1h0M347.0 339.5h0M344.6 342.1h0M346.6 342.5h0M344.4 346.2h0M345.8 346.5h0M322.1 344.2h0M322.1 344.4h0M316.2 343.4h0M314.6 349.7h0M316.5 351.2h0M317.6 350.8h0M317.9 346.3h0M316.8 346.4h0M314.0 344.8h0M272.6 358.7h0M273.0 352.9h0M267.3 354.8h0M269.0 352.8h0M282.8 412.9h0M281.0 413.4h0M286.5 409.4h0M284.0 410.6h0M285.8 410.2h0M404.7 437.3h0M407.6 437.1h0M406.0 439.7h0M405.1 437.2h0M406.4 437.6h0M407.0 437.8h0M405.7 440.0h0M403.1 438.1h0M378.2 425.2h0M381.4 420.4h0M384.5 424.6h0M379.2 424.2h0M383.8 424.4h0M383.4 421.7h0M370.5 370.1h0M369.0 372.0h0M367.8 371.9h0M369.1 372.7h0M367.8 375.6h0M371.7 374.5h0M371.1 374.1h0M364.9 374.2h0M308.4 296.3h0M309.6 298.9h0M365.2 336.2h0M370.7 334.1h0M373.3 334.2h0M301.8 326.0h0M297.2 327.2h0M301.2 329.1h0M298.9 328.4h0M301.4 325.4h0M301.0 328.3h0M302.4 331.1h0M298.0 329.8h0M302.0 327.2h0M397.0 369.6h0M392.5 366.8h0M392.7 369.0h0M390.9 384.8h0M394.0 384.9h0M394.0 382.0h0M391.8 380.8h0M389.7 382.6h0M393.5 380.9h0M393.8 384.5h0M395.4 382.8h0M351.6 412.7h0M351.0 413.3h0M350.5 411.6h0M335.4 337.9h0M337.8 341.7h0M340.1 343.3h0M334.8 338.4h0M337.8 338.4h0M337.1 339.7h0M340.6 341.0h0M337.3 336.5h0M334.1 341.8h0M337.6 342.8h0M400.5 330.6h0M394.8 335.7h0M399.8 335.7h0M399.3 335.9h0M401.0 336.0h0M401.9 330.8h0M300.5 400.7h0M306.0 402.3h0M302.1 402.1h0M303.1 398.0h0M301.3 398.1h0M301.5 402.5h0M304.9 402.4h0M302.7 397.6h0M304.2 402.4h0M303.5 400.5h0M300.2 402.6h0M326.8 367.2h0M328.1 367.2h0M330.0 365.6h0M325.8 368.2h0M330.0 367.0h0M325.5 362.2h0M324.7 364.2h0M326.6 362.0h0M324.5 366.7h0M330.3 367.2h0M326.3 364.3h0M329.7 365.9h0M328.0 367.7h0M262.5 408.1h0M263.7 405.5h0M261.2 404.4h0M264.4 408.8h0M260.7 406.5h0M264.4 405.0h0M261.0 404.8h0M400.9 395.5h0M401.3 395.7h0M402.0 396.9h0M400.1 400.5h0M380.4 388.0h0M379.3 388.7h0M379.5 392.1h0M252.6 410.4h0M258.8 409.8h0M259.9 408.2h0M258.9 409.3h0M258.3 407.3h0M254.7 410.7h0M295.7 334.2h0M291.0 334.6h0M295.1 334.8h0M294.6 336.7h0M292.7 335.2h0M295.7 336.3h0M294.6 331.9h0M273.5 434.6h0M271.3 431.7h0M276.9 431.1h0M276.0 428.8h0M274.5 433.4h0M272.0 434.3h0M274.0 432.3h0M273.8 433.0h0M246.9 313.9h0M245.6 316.6h0M250.1 317.2h0M245.8 318.7h0M248.1 319.4h0M249.8 313.8h0M250.6 316.0h0M246.2 320.1h0M356.8 401.8h0M357.3 401.6h0M357.9 403.4h0M359.5 398.9h0M356.9 401.0h0M359.2 399.8h0M355.8 400.5h0M288.7 386.7h0M251.8 368.5h0M255.6 370.6h0M253.0 371.0h0M372.0 371.2h0M376.1 373.4h0M374.2 371.7h0M370.5 369.9h0M367.3 371.8h0M369.1 374.1h0M265.8 383.9h0M267.4 381.9h0M264.3 387.1h0M268.1 386.4h0M267.4 382.2h0M267.3 386.0h0M403.1 315.9h0M404.2 313.0h0M401.9 315.0h0M402.0 314.3h0M383.5 323.3h0M381.8 326.2h0M384.6 325.7h0M379.5 322.3h0M381.6 326.9h0M386.5 322.7h0" stroke="#B2F24C" stroke-width="1.6" stroke-linecap="round" filter="url(#gb)"/><path d="M383.9 405.9h0M382.1 410.3h0M381.1 412.8h0M380.1 413.3h0M381.5 414.8h0M380.1 417.0h0M380.9 418.2h0M377.8 402.0h0M377.0 402.0h0M368.4 402.9h0M365.9 403.1h0M362.5 402.2h0M379.0 402.9h0M374.8 403.7h0M358.4 401.2h0M356.8 402.2h0M357.9 407.0h0M355.2 408.6h0M354.5 409.2h0M352.4 413.1h0M355.3 420.0h0M375.7 419.2h0M372.5 420.3h0M362.4 420.0h0M360.8 420.3h0M357.4 420.1h0M356.5 419.6h0M371.4 417.4h0M358.0 420.5h0M333.0 427.5h0M333.6 425.6h0M336.7 425.4h0M336.6 423.8h0M337.3 420.5h0M340.5 421.9h0M340.2 420.1h0M340.5 419.1h0M342.7 417.7h0M349.4 413.8h0M344.6 435.1h0M346.6 437.8h0M347.6 437.9h0M349.9 442.7h0M352.4 441.2h0M359.9 455.1h0M340.4 436.2h0M343.3 436.8h0M354.0 448.1h0M357.3 450.3h0M359.1 450.3h0M350.6 414.5h0M355.8 422.2h0M358.4 430.2h0M359.1 434.3h0M361.0 437.4h0M359.8 440.1h0M360.2 440.9h0M361.5 442.3h0M361.8 443.1h0M361.1 444.9h0M361.8 449.8h0M357.8 427.9h0M360.1 441.2h0M361.8 445.0h0M361.1 451.9h0M307.9 422.7h0M312.1 421.6h0M318.2 422.4h0M319.9 421.7h0M313.7 423.8h0M316.8 424.7h0M304.2 418.3h0M304.0 414.9h0M304.0 406.4h0M303.2 404.8h0M320.9 416.0h0M320.2 408.4h0M303.3 400.8h0M305.4 401.6h0M310.4 397.4h0M303.9 397.4h0M315.0 398.7h0M316.5 398.6h0M321.5 397.4h0M323.0 422.5h0M322.2 421.8h0M321.8 419.9h0M323.5 438.0h0M322.7 438.6h0M322.7 442.8h0M322.2 446.0h0M321.7 448.4h0M320.5 452.3h0M319.4 454.5h0M318.6 461.0h0M317.6 464.1h0M317.1 472.4h0M316.3 473.0h0M311.0 485.8h0M311.9 488.5h0M308.9 495.3h0M298.3 428.7h0M305.6 422.2h0M344.5 409.5h0M346.6 409.6h0M332.0 402.2h0M331.1 402.1h0M330.2 401.6h0M328.4 401.3h0M326.6 400.8h0M325.6 401.9h0M324.8 401.1h0M322.9 402.7h0M322.0 402.9h0M393.7 303.6h0M390.0 310.4h0M382.8 309.6h0M394.9 301.7h0M395.7 303.2h0M396.4 305.8h0M401.1 313.0h0M345.8 370.0h0M346.2 374.6h0M345.8 380.7h0M345.0 381.4h0M350.9 370.4h0M358.8 370.2h0M361.2 368.1h0M368.1 374.1h0M368.3 375.1h0M367.7 376.7h0M367.0 379.1h0M366.1 379.6h0M362.1 387.9h0M359.9 393.3h0M358.0 394.3h0M356.7 396.5h0M345.0 387.6h0M357.2 397.6h0M354.6 398.4h0M333.1 401.9h0M335.0 399.1h0M338.3 396.4h0M340.4 393.7h0M342.2 390.9h0M344.2 389.2h0M333.5 402.2h0M403.1 324.9h0M401.0 327.0h0M400.0 330.3h0M399.6 331.1h0M398.4 331.7h0M398.6 332.7h0M404.7 318.3h0M404.3 319.6h0M401.8 324.8h0M399.0 331.3h0M380.7 313.5h0M378.6 317.1h0M381.8 322.7h0M382.1 324.3h0M382.6 325.2h0M385.0 328.0h0M385.5 328.9h0M389.0 329.5h0M391.7 329.8h0M398.3 333.5h0M382.7 321.4h0M385.0 322.9h0M387.0 328.2h0M388.9 330.5h0M380.9 398.2h0M381.1 393.7h0M380.5 391.0h0M371.6 372.8h0M371.4 373.4h0M372.5 374.8h0M374.0 376.9h0M376.2 379.6h0M376.4 382.3h0M378.1 384.3h0M377.8 387.2h0M399.3 397.2h0M398.5 401.0h0M398.7 405.2h0M380.5 389.6h0M387.8 386.7h0M390.3 385.9h0M324.3 347.9h0M333.8 343.9h0M325.5 360.9h0M326.6 361.5h0M344.3 367.1h0M342.7 366.4h0M341.7 367.9h0M339.8 368.5h0M337.3 368.0h0M333.1 367.5h0M331.5 366.6h0M329.7 366.9h0M329.1 365.4h0M328.1 366.0h0M344.1 357.3h0M345.1 343.2h0M345.0 368.1h0M345.9 365.4h0M343.7 350.0h0M345.3 341.7h0M343.0 342.7h0M336.8 342.8h0M274.4 431.3h0M271.1 430.6h0M270.5 428.0h0M270.4 426.0h0M267.0 421.3h0M265.7 420.1h0M264.3 415.0h0M261.6 412.9h0M260.8 412.4h0M296.7 428.5h0M295.6 425.4h0M292.9 424.7h0M292.2 424.0h0M288.6 423.1h0M295.1 426.9h0M290.6 425.2h0M289.2 424.7h0M288.0 420.8h0M276.9 430.3h0M275.2 430.9h0M271.4 354.6h0M269.2 350.7h0M261.8 361.9h0M259.3 364.1h0M257.8 363.6h0M257.8 365.0h0M254.9 368.1h0M265.4 343.7h0M256.1 372.5h0M261.4 378.2h0M263.5 378.7h0M265.5 381.5h0M267.7 382.0h0M266.7 385.0h0M259.7 408.8h0M260.6 408.1h0M261.7 407.9h0M262.5 407.1h0M266.2 386.1h0M264.9 388.4h0M263.0 391.6h0M262.0 400.8h0M262.0 403.3h0M261.7 405.0h0M263.3 384.8h0M264.6 390.5h0M265.4 392.0h0M262.8 399.9h0M262.2 402.6h0M262.0 404.0h0M264.6 405.7h0M278.2 409.7h0M279.8 410.5h0M274.1 408.5h0M279.3 409.8h0M301.4 401.7h0M296.1 401.0h0M290.9 398.5h0M286.4 406.2h0M287.3 405.7h0M290.7 402.7h0M291.5 402.1h0M289.5 332.4h0M288.6 332.4h0M284.2 330.1h0M295.6 333.3h0M293.7 339.3h0M295.0 342.5h0M294.2 349.2h0M294.4 350.1h0M293.5 351.8h0M272.2 357.1h0M277.7 357.4h0M271.6 354.8h0M271.7 357.1h0M273.8 359.0h0M274.7 360.3h0M279.0 361.8h0M279.9 361.8h0M281.5 361.1h0M283.5 361.8h0M287.2 362.0h0M283.4 361.4h0M286.0 360.3h0M286.9 358.1h0M288.9 359.8h0M292.4 356.6h0M293.9 356.5h0M269.5 384.3h0M271.7 382.7h0M273.8 383.3h0M276.8 381.0h0M269.5 386.4h0M276.4 380.4h0M277.6 379.7h0M277.6 362.7h0M278.8 370.4h0M278.4 373.0h0M277.8 375.6h0M277.7 379.9h0M287.9 394.8h0M287.2 388.7h0M287.4 398.8h0M284.9 381.6h0M285.4 382.5h0M286.7 382.3h0M287.8 382.3h0M287.8 384.1h0M306.8 351.7h0M306.6 353.2h0M302.2 357.5h0M301.3 357.8h0M293.3 332.3h0M301.5 329.9h0M309.3 328.8h0M300.6 328.8h0M295.4 356.6h0M382.5 428.6h0M381.9 432.6h0M380.9 436.6h0M381.4 439.2h0M381.6 441.6h0M380.4 445.6h0M378.8 452.9h0M377.2 459.3h0M374.6 474.6h0M373.6 481.1h0M374.5 482.8h0M372.0 483.4h0M381.4 421.8h0M388.3 423.5h0M391.0 423.8h0M382.9 421.1h0M385.6 422.1h0M386.7 424.5h0M393.2 428.0h0M396.1 427.4h0M404.4 437.1h0M401.9 434.7h0M400.7 432.3h0M400.3 429.3h0M399.4 428.2h0M406.9 437.5h0M405.8 445.5h0M405.8 449.5h0M405.5 454.3h0M405.6 458.4h0M405.6 468.1h0M404.8 468.8h0M403.5 472.8h0M403.6 493.0h0M402.0 493.7h0M402.2 494.5h0M402.2 495.3h0M402.2 501.0h0M402.0 502.6h0M401.6 508.2h0M400.9 511.4h0M402.1 512.3h0M400.5 522.6h0M400.0 529.9h0M398.6 535.4h0M397.4 540.2h0M397.5 543.4h0M398.1 545.9h0M397.2 549.9h0M395.8 551.4h0M397.4 552.3h0M395.4 575.6h0M394.0 580.4h0M395.3 586.1h0M394.1 589.2h0M365.5 458.8h0M365.8 460.4h0M366.0 463.0h0M372.3 477.4h0M370.8 479.8h0M371.8 482.0h0M398.8 407.7h0M399.3 409.4h0M398.6 411.9h0M399.5 412.7h0M398.2 416.9h0M398.6 420.2h0M395.9 425.2h0M396.6 426.0h0M413.5 410.4h0M412.5 410.6h0M412.0 409.6h0M410.0 409.9h0M403.9 406.8h0M415.7 413.3h0M410.0 405.9h0M395.8 345.4h0M394.0 346.0h0M393.6 343.8h0M391.5 347.7h0M391.6 354.5h0M391.8 356.2h0M392.8 356.9h0M392.9 359.5h0M393.4 362.8h0M394.9 367.8h0M408.5 351.2h0M413.0 354.3h0M413.8 357.6h0M415.1 358.8h0M414.9 360.8h0M417.8 364.8h0M420.6 367.0h0M421.3 367.5h0M423.7 371.8h0M415.0 357.9h0M415.9 362.1h0M422.9 368.9h0M423.7 373.1h0M408.0 343.9h0M402.6 342.2h0M399.3 342.3h0M399.0 341.0h0M399.9 340.5h0M398.2 335.2h0M398.3 338.3h0M397.1 339.2h0M402.5 335.3h0M406.0 391.4h0M406.7 391.0h0M409.3 387.6h0M411.4 387.4h0M413.0 386.6h0M412.7 385.1h0M412.8 384.0h0M416.4 380.6h0M417.9 378.4h0M392.2 377.7h0M393.9 368.3h0M379.3 371.0h0M388.7 367.4h0M350.3 341.2h0M352.0 340.0h0M349.7 338.3h0M351.5 335.4h0M351.1 333.5h0M352.1 333.0h0M352.9 331.5h0M352.7 326.1h0M353.6 325.5h0M353.1 323.6h0M352.8 321.7h0M353.5 320.2h0M354.2 319.6h0M353.9 318.5h0M347.6 338.4h0M353.0 331.5h0M354.4 326.1h0M354.1 323.0h0M353.8 345.8h0M356.0 343.8h0M360.6 343.3h0M364.2 343.0h0M364.5 345.5h0M356.6 324.1h0M360.7 326.2h0M364.8 329.5h0M368.1 331.1h0M367.9 332.4h0M344.5 367.7h0M346.7 366.8h0M367.1 364.1h0M366.2 358.1h0M364.9 357.1h0M346.0 343.7h0M378.0 327.6h0M375.4 329.9h0M374.9 330.6h0M372.6 333.1h0M372.1 335.1h0M372.8 336.9h0M360.2 312.8h0M355.9 314.7h0M387.4 346.1h0M386.5 346.2h0M383.8 347.5h0M377.9 346.7h0M376.9 347.5h0M376.0 347.6h0M374.4 347.2h0M371.8 346.4h0M387.7 343.9h0M370.9 343.6h0M311.7 322.8h0M312.0 321.1h0M313.0 316.8h0M313.2 314.2h0M313.4 313.4h0M313.2 312.5h0M314.9 309.9h0M313.1 308.3h0M314.8 304.0h0M313.3 303.3h0M321.6 324.7h0M323.9 323.3h0M328.4 323.4h0M330.2 323.5h0M329.6 313.1h0M328.1 313.6h0M327.9 310.0h0M324.9 310.9h0M325.8 308.7h0M322.7 308.5h0M322.3 306.4h0M322.0 305.5h0M319.5 300.8h0M312.8 295.9h0M329.2 312.6h0M333.2 320.3h0M312.1 327.7h0M313.2 327.5h0M297.6 323.2h0M296.3 321.8h0M296.0 313.7h0M297.0 321.1h0M297.0 316.9h0M297.4 315.3h0M296.0 310.0h0M296.1 308.4h0M302.8 304.4h0M307.8 300.9h0M299.6 306.2h0M319.6 348.6h0M318.5 346.2h0M334.1 330.8h0M331.9 320.8h0M338.4 338.9h0M338.2 337.5h0M338.8 335.9h0M333.8 331.6h0M330.2 322.6h0M335.0 300.9h0M334.8 302.6h0M332.7 309.1h0M333.4 313.8h0M334.0 314.8h0M291.8 307.6h0M276.7 312.1h0M275.9 311.7h0M273.6 310.3h0M271.9 308.4h0M270.2 305.4h0M268.5 302.4h0M267.8 301.9h0M279.2 314.1h0M275.5 322.7h0M269.9 323.9h0M267.8 322.1h0M262.1 320.9h0M260.4 320.8h0M259.2 319.2h0M257.0 320.5h0M255.7 319.1h0M252.9 317.0h0M266.4 299.4h0M263.4 302.5h0M261.0 305.0h0M261.2 306.3h0M260.7 307.0h0M257.0 310.6h0M291.5 309.8h0M290.3 311.5h0M287.6 311.7h0M286.8 311.9h0M286.5 313.4h0M279.1 313.2h0M251.4 317.8h0M302.8 371.2h0M300.6 374.2h0M299.6 375.7h0M298.1 376.0h0M301.0 368.2h0M309.9 369.0h0M314.2 369.1h0M310.9 385.7h0M313.9 387.3h0M315.9 388.9h0M315.7 390.5h0M322.5 373.5h0M321.6 374.3h0M321.6 375.1h0M323.0 378.6h0M322.3 380.3h0M322.5 383.7h0M320.3 384.8h0M289.6 384.6h0M293.3 380.9h0M295.0 380.4h0M297.1 379.0h0M321.6 370.1h0M318.2 395.3h0M339.6 385.8h0M332.1 384.3h0M327.2 383.7h0M339.9 381.3h0M338.5 385.7h0M335.9 384.6h0M331.9 385.2h0M327.9 386.5h0M321.3 386.5h0M297.3 356.4h0M296.6 354.8h0M301.3 355.5h0M301.9 359.7h0M290.9 313.3h0M290.9 313.5h0M294.3 314.9h0M321.3 393.2h0M320.1 395.0h0M314.0 394.2h0M314.7 400.6h0M315.8 396.4h0M279.7 365.2h0M275.3 361.2h0M366.2 346.3h0M368.3 344.7h0M368.7 348.4h0M285.7 420.3h0M288.9 419.6h0M287.1 419.1h0M286.9 422.8h0M286.9 418.8h0M288.9 419.3h0M392.2 346.7h0M392.7 350.3h0M392.3 345.6h0M382.2 406.5h0M382.5 406.9h0M383.3 407.8h0M349.1 370.9h0M346.7 371.5h0M345.6 369.6h0M347.1 373.1h0M350.1 370.1h0M349.3 369.4h0M399.3 403.9h0M395.5 405.4h0M396.5 403.1h0M398.3 405.6h0M398.4 402.8h0M399.0 406.6h0M314.5 327.8h0M315.0 325.6h0M312.4 323.6h0M312.6 325.1h0M312.6 323.2h0M312.5 322.4h0M314.4 324.5h0M312.6 322.9h0M304.1 365.9h0M302.6 370.2h0M302.2 367.8h0M306.9 368.9h0M302.9 369.8h0M378.8 306.6h0M376.6 311.9h0M383.4 313.9h0M378.6 307.3h0M383.0 309.1h0M347.5 368.7h0M345.2 365.6h0M343.6 369.7h0M344.9 367.7h0M343.5 366.1h0M342.0 364.8h0M342.7 366.6h0M324.2 350.6h0M324.1 349.4h0M380.2 420.8h0M376.6 418.5h0M381.7 400.5h0M378.1 400.7h0M382.9 402.8h0M381.5 403.3h0M381.1 401.8h0M322.6 374.0h0M320.1 369.3h0M323.2 369.0h0M322.2 369.7h0M322.8 371.9h0M297.7 425.8h0M299.8 426.6h0M295.6 433.4h0M299.4 428.0h0M298.2 425.6h0M329.9 425.9h0M329.8 430.5h0M325.2 428.4h0M327.1 427.4h0M326.1 427.8h0M405.6 347.0h0M403.4 344.9h0M406.3 341.8h0M404.4 349.1h0M407.8 349.1h0M276.6 376.9h0M282.4 378.2h0M282.8 380.5h0M276.7 377.8h0M278.8 381.5h0M277.0 378.2h0M291.5 308.9h0M291.7 307.2h0M290.2 311.0h0M293.8 308.8h0M289.4 307.6h0M291.8 307.7h0M290.2 308.4h0M291.4 310.1h0M256.1 406.6h0M260.0 410.0h0M255.0 407.5h0M259.7 407.5h0M255.7 408.0h0M258.0 406.2h0M257.1 410.2h0M349.0 342.5h0M344.7 344.1h0M347.3 346.5h0M347.7 341.0h0M342.9 342.5h0M319.1 349.0h0M318.5 343.8h0M314.9 349.9h0M321.1 345.1h0M321.4 345.0h0M274.0 357.6h0M274.6 355.6h0M273.1 354.7h0M285.0 408.1h0M285.9 406.0h0M283.3 405.8h0M404.4 438.0h0M382.4 419.9h0M380.3 421.7h0M383.3 421.9h0M384.0 424.4h0M382.2 423.3h0M382.7 424.8h0M382.2 419.9h0M383.5 421.0h0M382.1 421.0h0M368.2 376.3h0M373.1 372.2h0M367.5 368.0h0M371.3 373.3h0M364.0 373.7h0M364.8 370.7h0M310.2 294.9h0M310.6 293.5h0M310.0 296.3h0M309.3 294.6h0M371.4 340.4h0M365.2 336.9h0M368.7 334.3h0M369.6 340.8h0M367.4 340.2h0M367.2 337.9h0M372.9 339.4h0M368.6 334.4h0M366.3 334.5h0M372.0 332.5h0M304.0 327.5h0M398.3 368.6h0M395.4 382.9h0M392.4 380.1h0M390.5 384.0h0M393.8 382.3h0M392.2 383.7h0M394.5 383.6h0M392.4 382.8h0M390.2 383.7h0M393.2 384.0h0M391.0 385.7h0M352.5 415.0h0M348.7 414.0h0M351.0 413.0h0M350.6 412.3h0M350.9 414.6h0M337.2 338.4h0M335.6 341.0h0M397.5 329.5h0M402.9 333.0h0M400.8 331.9h0M397.6 328.7h0M399.0 332.8h0M400.6 333.3h0M397.4 336.0h0M303.0 399.1h0M299.8 399.7h0M301.9 397.5h0M300.7 398.3h0M304.7 401.7h0M329.4 367.1h0M325.6 367.9h0M261.5 408.2h0M260.3 408.7h0M402.7 398.4h0M401.2 399.4h0M397.1 398.7h0M400.1 400.5h0M376.6 392.6h0M379.5 393.7h0M378.7 392.4h0M256.6 405.8h0M255.5 407.0h0M255.6 411.4h0M257.7 414.4h0M257.4 405.5h0M257.4 407.4h0M257.2 410.9h0M252.1 409.5h0M253.4 409.6h0M296.6 333.8h0M292.5 334.8h0M273.2 431.1h0M275.0 436.1h0M278.0 432.8h0M278.2 431.6h0M357.5 401.2h0M360.0 400.8h0M360.6 401.6h0M356.5 400.1h0M359.9 399.5h0M356.4 402.1h0M285.4 382.6h0M282.9 386.4h0M285.9 382.4h0M291.6 385.4h0M254.4 365.9h0M252.9 369.2h0M252.8 366.8h0M369.8 375.3h0M369.9 376.9h0M367.1 376.1h0M372.1 369.8h0M371.6 378.0h0M264.9 384.0h0M267.9 385.6h0M264.5 382.5h0M267.6 387.0h0M404.7 317.7h0M405.2 315.4h0M404.7 313.6h0M402.4 316.4h0M406.7 315.0h0M384.0 322.5h0" stroke="#96E23A" stroke-width="2.0" stroke-linecap="round" filter="url(#gb)"/><path d="M381.2 408.2h0M381.0 416.4h0M379.5 401.2h0M369.3 402.9h0M361.7 401.9h0M358.8 402.4h0M358.2 405.2h0M356.9 407.5h0M352.4 410.0h0M352.4 412.1h0M353.4 417.9h0M349.9 414.7h0M350.8 416.0h0M357.2 418.8h0M378.5 420.7h0M358.1 419.3h0M374.0 416.8h0M361.8 418.0h0M348.9 414.6h0M335.1 428.3h0M337.5 429.4h0M339.3 431.1h0M346.4 440.5h0M349.7 440.5h0M350.0 441.5h0M355.6 448.8h0M359.0 454.2h0M357.3 427.0h0M360.4 438.3h0M362.1 441.4h0M362.3 447.2h0M357.7 430.7h0M357.7 433.4h0M309.7 423.3h0M317.2 421.3h0M304.3 405.5h0M321.2 421.1h0M320.4 418.5h0M320.7 411.8h0M322.1 401.7h0M306.2 398.4h0M307.8 397.6h0M309.8 398.5h0M308.3 401.9h0M320.9 401.5h0M321.7 398.4h0M318.7 396.2h0M327.2 427.2h0M327.7 425.7h0M325.6 430.2h0M325.0 435.9h0M317.7 463.3h0M317.1 466.5h0M314.2 478.3h0M335.7 402.6h0M330.8 402.0h0M326.3 404.3h0M324.8 404.4h0M391.2 307.4h0M397.5 303.0h0M346.1 371.9h0M345.6 376.2h0M345.7 378.0h0M349.1 370.3h0M350.0 370.3h0M351.7 369.1h0M353.5 369.6h0M356.2 370.4h0M357.7 367.8h0M368.5 378.8h0M345.5 389.8h0M344.6 389.5h0M358.3 401.1h0M333.7 401.4h0M342.0 392.7h0M337.5 396.3h0M400.2 329.5h0M405.4 315.5h0M405.0 316.9h0M404.8 322.7h0M378.7 318.9h0M390.2 328.9h0M392.8 335.2h0M395.6 332.7h0M398.4 333.4h0M381.8 392.7h0M382.8 391.7h0M370.7 370.8h0M371.1 374.1h0M367.8 374.3h0M381.0 388.7h0M390.9 385.2h0M392.6 383.1h0M337.6 343.6h0M321.5 351.4h0M323.7 353.5h0M325.4 359.2h0M343.6 366.1h0M339.1 367.5h0M334.0 367.4h0M327.3 365.7h0M345.2 362.3h0M344.3 361.4h0M346.1 359.9h0M344.5 351.5h0M346.2 361.3h0M268.4 423.3h0M263.7 417.5h0M259.7 409.1h0M295.8 431.5h0M285.7 423.3h0M265.9 348.0h0M266.6 346.9h0M266.5 345.1h0M271.1 355.9h0M268.4 356.5h0M253.9 372.0h0M258.3 375.1h0M260.3 376.8h0M255.5 371.1h0M258.3 408.4h0M267.2 385.3h0M262.3 392.3h0M262.0 405.9h0M266.7 386.7h0M266.5 407.0h0M269.1 407.3h0M271.5 408.4h0M283.2 411.3h0M268.8 408.3h0M271.1 411.1h0M278.0 409.7h0M295.2 400.8h0M290.4 331.9h0M294.6 335.9h0M294.3 348.4h0M293.8 351.0h0M292.9 352.7h0M277.7 381.1h0M267.4 384.9h0M276.8 369.5h0M284.9 388.5h0M288.3 400.1h0M288.1 397.1h0M289.0 392.3h0M316.8 346.7h0M311.6 349.8h0M310.0 348.6h0M292.4 332.7h0M297.0 331.4h0M304.6 325.8h0M302.6 327.2h0M382.3 427.7h0M382.0 429.3h0M380.7 440.7h0M379.9 444.8h0M379.3 446.3h0M379.8 447.2h0M379.6 449.7h0M375.7 467.3h0M375.3 472.2h0M373.9 476.2h0M372.2 484.3h0M381.2 423.6h0M388.0 425.3h0M406.6 441.5h0M406.4 442.3h0M405.1 452.7h0M406.1 459.2h0M404.4 473.6h0M403.2 476.0h0M403.1 486.5h0M403.2 501.8h0M400.0 518.6h0M400.1 521.8h0M399.5 529.0h0M399.9 532.3h0M394.8 578.8h0M394.7 579.6h0M394.1 588.4h0M364.8 458.2h0M365.7 459.6h0M369.7 470.4h0M371.2 475.1h0M371.4 476.0h0M399.0 416.0h0M397.5 419.3h0M410.2 411.4h0M402.9 406.8h0M401.3 406.2h0M398.8 405.4h0M419.1 412.7h0M407.5 407.9h0M397.5 340.8h0M391.4 348.6h0M393.0 362.0h0M409.0 350.0h0M410.6 353.8h0M414.0 356.5h0M413.9 360.4h0M415.6 361.3h0M422.7 368.6h0M423.0 370.3h0M407.4 348.3h0M422.6 365.9h0M400.7 342.0h0M398.1 340.6h0M399.7 334.3h0M399.0 340.4h0M404.3 393.3h0M406.5 393.2h0M408.1 391.2h0M411.1 388.2h0M414.1 381.7h0M417.8 380.7h0M418.6 380.4h0M422.3 375.8h0M374.6 372.7h0M377.1 372.4h0M381.5 369.5h0M382.2 368.9h0M387.9 367.6h0M350.0 342.8h0M350.5 342.1h0M349.8 340.1h0M350.5 336.8h0M351.5 334.5h0M352.9 327.9h0M348.1 343.0h0M354.3 334.9h0M362.2 344.1h0M367.8 346.5h0M364.0 329.1h0M369.8 335.2h0M366.2 364.8h0M366.4 353.9h0M367.0 352.3h0M366.2 349.6h0M366.2 348.0h0M380.4 346.8h0M375.0 345.3h0M312.1 298.3h0M330.8 315.5h0M332.8 310.4h0M329.2 310.4h0M320.7 303.9h0M312.9 298.6h0M311.0 298.7h0M331.1 319.9h0M309.4 328.9h0M313.9 325.4h0M299.1 325.4h0M297.8 322.2h0M300.6 325.7h0M296.6 319.9h0M296.9 305.1h0M310.2 295.8h0M318.9 347.7h0M338.3 339.4h0M334.7 335.1h0M334.2 333.5h0M333.4 329.2h0M332.6 325.0h0M339.6 340.0h0M333.1 327.5h0M335.0 301.7h0M334.2 304.2h0M333.2 305.7h0M279.5 313.1h0M275.6 309.7h0M270.6 307.3h0M266.1 300.0h0M262.6 322.1h0M254.7 319.5h0M253.5 317.9h0M265.2 299.5h0M265.2 300.7h0M260.1 307.6h0M258.6 308.6h0M255.0 313.4h0M253.3 314.2h0M250.3 318.7h0M303.0 369.3h0M303.1 372.3h0M300.0 377.8h0M306.4 369.6h0M313.4 368.8h0M317.5 369.4h0M312.6 387.6h0M313.9 388.7h0M321.2 375.9h0M321.0 376.8h0M321.6 379.4h0M318.0 392.1h0M291.3 384.0h0M292.0 383.5h0M295.7 378.5h0M300.0 357.6h0M301.2 368.6h0M316.6 396.2h0M341.3 386.0h0M340.5 385.3h0M333.8 384.6h0M330.5 383.3h0M329.7 383.5h0M328.0 383.5h0M320.1 394.0h0M275.9 359.8h0M285.3 419.8h0M286.0 423.4h0M392.6 348.4h0M393.6 349.9h0M381.9 407.1h0M383.8 407.8h0M383.5 404.5h0M348.6 370.5h0M349.7 368.3h0M344.4 371.3h0M398.6 402.5h0M314.7 324.1h0M312.7 322.6h0M313.6 322.3h0M302.3 364.4h0M306.2 366.3h0M303.7 366.5h0M303.8 370.8h0M383.0 305.7h0M383.8 310.4h0M344.4 364.6h0M321.8 348.2h0M377.9 418.0h0M324.4 368.7h0M323.1 369.6h0M326.7 432.8h0M327.8 424.7h0M324.6 424.8h0M324.0 427.1h0M329.3 428.9h0M404.7 345.3h0M403.1 348.2h0M408.6 342.4h0M255.4 409.3h0M260.9 409.5h0M255.9 408.6h0M345.6 340.9h0M345.9 342.3h0M315.2 343.1h0M273.3 357.4h0M272.7 352.8h0M270.2 359.2h0M284.8 405.8h0M379.1 421.5h0M369.5 369.6h0M364.2 370.9h0M309.6 296.5h0M370.5 333.6h0M365.5 335.2h0M300.6 325.6h0M394.2 366.4h0M393.7 370.2h0M394.4 365.0h0M391.2 384.2h0M393.1 384.9h0M393.3 383.6h0M337.4 338.3h0M335.5 337.3h0M302.3 399.2h0M303.3 398.5h0M252.5 407.6h0M257.4 410.8h0M257.7 405.8h0M296.0 333.3h0M276.0 429.6h0M274.6 430.4h0M355.7 401.6h0M359.9 403.7h0M255.0 370.7h0M253.9 366.0h0M254.7 371.0h0M254.4 367.7h0M373.6 373.6h0M368.2 374.4h0M266.2 386.2h0M403.8 317.1h0M405.0 316.6h0M406.0 315.3h0M377.2 321.1h0M382.5 325.1h0M379.0 320.9h0M382.3 328.1h0M381.4 322.7h0" stroke="#80CC32" stroke-width="2.5" stroke-linecap="round" filter="url(#gb)"/></g>
<defs><radialGradient id="bg12" cx="0.55" cy="0.55" r="0.8"><stop offset="0" stop-color="#979C93"/><stop offset="0.6" stop-color="#8A8F86"/><stop offset="1" stop-color="#767B72"/></radialGradient></defs><rect x="394.9" y="316.4" width="123.80000000000005" height="123.70000000000003" fill="url(#bg12)"/><clipPath id="clip12"><rect x="394.9" y="316.4" width="123.80000000000005" height="123.70000000000003"/></clipPath><g clip-path="url(#clip12)"><path d="M387.9 428.9h0M388.0 430.6h0M388.2 432.3h0M391.1 434.6h0M390.8 435.6h0M390.8 439.2h0M391.7 439.7h0M396.5 451.9h0M396.0 453.0h0M401.1 459.7h0M399.8 461.1h0M399.3 463.1h0M402.0 464.6h0M403.3 466.8h0M403.2 467.7h0M403.4 468.5h0M403.9 469.2h0M404.6 469.7h0M403.4 472.0h0M407.8 476.4h0M389.8 420.0h0M391.2 419.2h0M391.1 421.1h0M391.8 421.5h0M398.0 425.4h0M402.0 428.4h0M407.9 433.1h0M409.8 432.9h0M415.1 437.0h0M418.1 436.5h0M523.6 304.3h0M522.9 303.7h0M520.1 302.6h0M521.9 300.6h0M519.1 292.1h0M518.2 287.4h0M518.8 286.4h0M518.3 285.7h0M518.1 284.9h0M517.4 282.6h0M516.3 276.2h0M514.1 274.2h0M514.6 272.5h0M512.5 268.8h0M512.8 266.3h0M511.7 262.4h0M512.3 261.4h0M513.5 260.3h0M512.5 258.1h0M509.5 257.1h0M509.7 256.2h0M510.8 251.8h0M509.4 250.5h0M507.5 243.5h0M507.1 238.6h0M505.4 236.5h0M505.9 235.6h0M503.8 230.2h0M503.8 229.4h0M504.5 228.4h0M502.6 223.1h0M503.2 220.5h0M501.5 216.7h0M500.0 215.4h0M501.4 214.3h0M500.9 212.7h0M501.2 211.8h0M499.7 209.7h0M500.4 208.7h0M500.2 207.1h0M500.7 205.3h0M499.5 204.8h0M498.7 202.5h0M498.7 201.6h0M499.1 200.7h0M498.7 199.2h0M498.1 198.5h0M497.5 196.9h0M496.4 192.2h0M497.7 190.3h0M496.6 189.7h0M495.5 189.1h0M494.9 185.1h0M495.2 181.7h0M493.9 178.7h0M495.2 177.6h0M493.6 173.0h0M492.5 169.9h0M493.0 166.5h0M522.6 303.3h0M522.1 300.8h0M522.4 296.8h0M522.3 291.6h0M517.4 278.5h0M515.8 276.2h0M517.3 274.6h0M518.1 273.1h0M517.9 270.6h0M515.2 268.6h0M518.5 262.6h0M516.3 259.2h0M513.8 254.6h0M511.8 251.1h0M514.5 247.9h0M510.2 243.7h0M511.1 239.6h0M507.8 239.0h0M508.6 237.6h0M507.3 228.8h0M505.0 225.4h0M506.7 222.4h0M506.5 221.1h0M504.7 220.2h0M504.5 217.7h0M503.3 214.1h0M501.4 208.0h0M501.5 201.5h0M499.3 194.2h0M498.4 189.2h0M494.0 186.3h0M494.1 174.5h0M492.7 172.3h0M491.0 168.8h0M530.7 308.3h0M532.4 309.6h0M532.1 311.4h0M532.9 313.8h0M532.3 314.8h0M533.7 319.7h0M536.3 325.1h0M536.5 325.9h0M536.7 330.2h0M537.9 332.5h0M537.3 333.5h0M538.1 334.2h0M531.8 310.3h0M532.0 315.7h0M530.6 318.8h0M536.1 333.7h0M537.2 336.1h0M530.7 358.1h0M533.7 359.6h0M537.1 360.5h0M540.3 364.6h0M544.2 367.6h0M545.3 368.9h0M547.3 368.9h0M547.3 371.7h0M550.7 374.1h0M552.2 376.3h0M553.8 375.4h0M553.8 376.9h0M554.2 377.7h0M556.6 378.6h0M530.5 357.4h0M530.6 356.4h0M531.8 356.4h0M532.1 354.4h0M535.9 351.1h0M537.6 350.4h0M540.6 347.5h0M542.8 346.2h0M544.3 344.1h0M538.4 351.7h0M537.7 349.2h0M540.2 349.6h0M540.1 347.7h0M546.7 342.6h0M546.1 340.1h0M387.1 321.1h0M389.8 320.2h0M393.3 316.7h0M395.3 312.9h0M397.6 311.5h0M398.9 310.5h0M399.0 309.5h0M400.8 307.2h0M398.3 306.9h0M397.5 307.8h0M396.6 307.1h0M394.9 307.8h0M392.4 307.6h0M390.7 305.7h0M387.3 306.1h0M386.5 304.9h0M383.1 305.3h0M382.3 304.6h0M380.6 306.0h0M378.6 321.9h0M377.9 321.4h0M375.3 320.2h0M374.5 319.8h0M372.1 318.4h0M373.5 316.5h0M374.5 315.0h0M377.1 313.5h0M378.1 313.1h0M378.5 312.3h0M380.0 308.0h0M379.9 306.8h0M404.5 301.2h0M403.7 299.8h0M402.2 298.7h0M402.3 296.9h0M402.3 295.1h0M399.4 292.7h0M398.7 289.5h0M396.9 289.3h0M392.9 278.6h0M392.9 276.0h0M393.1 275.0h0M390.8 275.0h0M391.2 274.0h0M388.6 267.1h0M403.8 300.8h0M403.4 296.7h0M404.1 295.0h0M398.1 291.7h0M401.5 287.5h0M398.7 282.9h0M396.8 282.3h0M394.8 280.3h0M394.8 278.8h0M390.1 270.8h0M389.4 268.2h0M387.4 267.6h0M380.4 324.2h0M381.9 330.3h0M381.9 335.5h0M381.7 340.7h0M381.0 342.5h0M379.5 343.3h0M380.0 344.2h0M379.5 343.6h0M374.6 346.7h0M370.1 348.7h0M365.0 351.5h0M363.5 355.5h0M361.7 354.0h0M361.2 354.6h0M359.6 356.9h0M357.8 358.6h0M356.4 359.5h0M352.9 360.1h0M351.7 362.8h0M350.7 362.8h0M348.7 362.6h0M420.1 437.4h0M420.7 433.5h0M425.3 433.1h0M426.2 433.0h0M427.1 433.3h0M428.0 433.7h0M429.0 434.4h0M433.2 433.1h0M435.9 434.3h0M437.5 432.7h0M439.9 434.0h0M440.5 435.5h0M441.5 437.7h0M441.9 438.4h0M443.7 441.2h0M445.5 443.0h0M445.6 444.7h0M445.4 445.7h0M447.6 450.0h0M450.3 453.2h0M450.4 455.0h0M453.3 457.1h0M453.5 457.9h0M456.0 463.0h0M455.7 464.0h0M457.3 465.1h0M457.9 467.5h0M460.5 469.8h0M462.1 472.6h0M463.1 475.7h0M462.8 476.8h0M463.9 477.1h0M464.2 478.8h0M466.8 482.0h0M465.8 483.4h0M466.8 483.8h0M468.4 484.8h0M467.7 486.0h0M467.5 487.1h0M469.4 488.8h0M470.9 490.8h0M471.2 492.4h0M471.1 494.3h0M472.6 495.3h0M473.0 497.9h0M476.1 499.9h0M475.1 501.3h0M477.8 501.8h0M440.9 433.1h0M444.4 441.4h0M451.3 449.4h0M450.2 455.7h0M451.6 456.5h0M453.9 458.2h0M454.1 461.0h0M455.8 464.4h0M459.1 469.9h0M459.8 471.0h0M461.9 472.8h0M464.7 480.0h0M466.7 483.3h0M468.9 487.9h0M471.3 495.4h0M471.7 500.9h0M474.7 502.3h0M429.4 349.4h0M426.4 350.7h0M425.2 350.4h0M424.5 352.4h0M420.2 353.4h0M417.8 354.2h0M415.8 355.7h0M409.7 361.6h0M432.3 351.2h0M434.3 355.8h0M437.2 359.1h0M434.5 366.6h0M439.3 362.8h0M428.7 368.0h0M433.1 368.4h0M435.0 366.3h0M437.8 367.1h0M501.2 368.3h0M501.7 369.1h0M502.1 372.6h0M503.7 374.0h0M502.8 375.1h0M502.9 378.6h0M505.6 378.9h0M507.0 383.1h0M501.6 367.1h0M503.2 367.7h0M504.1 366.7h0M507.5 366.8h0M516.5 368.5h0M517.3 369.1h0M519.0 368.8h0M521.4 370.5h0M522.0 372.8h0M505.4 389.0h0M508.0 388.6h0M509.7 387.4h0M511.3 388.6h0M513.0 386.6h0M513.9 386.4h0M518.1 387.2h0M526.5 385.9h0M525.1 378.8h0M526.1 369.9h0M527.5 374.3h0M526.1 384.7h0M527.0 387.5h0M531.6 359.5h0M529.1 360.2h0M527.1 364.0h0M524.2 368.3h0M531.0 357.1h0M530.1 356.9h0M528.3 356.6h0M527.1 355.3h0M523.3 353.4h0M522.7 352.7h0M520.9 352.4h0M517.5 348.3h0M515.8 349.4h0M515.6 348.1h0M512.5 346.6h0M531.4 356.3h0M528.3 356.2h0M527.1 352.9h0M524.8 354.1h0M519.4 352.3h0M514.7 349.4h0M512.1 345.8h0M510.6 348.1h0M510.2 349.8h0M509.2 351.1h0M509.9 352.4h0M509.5 353.2h0M509.1 353.9h0M509.1 354.9h0M507.4 357.7h0M508.1 360.0h0M506.2 362.8h0M505.3 365.1h0M503.6 365.2h0M502.8 365.7h0M512.5 349.3h0M501.1 361.6h0M500.8 364.4h0M471.5 308.1h0M473.9 306.5h0M475.3 308.7h0M477.8 310.8h0M480.1 313.3h0M484.7 315.6h0M484.8 316.9h0M487.2 317.8h0M472.6 306.1h0M477.2 308.9h0M479.7 312.2h0M481.6 314.1h0M484.9 320.7h0M497.8 310.5h0M494.6 313.9h0M491.5 315.5h0M490.3 315.2h0M487.5 317.7h0M487.0 318.6h0M492.4 315.9h0M491.6 317.6h0M488.8 315.6h0M487.6 316.5h0M456.6 297.0h0M455.1 295.9h0M453.6 293.0h0M453.6 291.2h0M453.0 288.7h0M452.4 288.1h0M449.6 286.8h0M449.8 284.8h0M450.0 283.8h0M449.1 282.4h0M447.7 282.2h0M448.8 280.7h0M448.3 280.0h0M446.9 279.0h0M447.3 277.8h0M444.9 275.4h0M443.6 272.4h0M440.9 267.3h0M459.0 306.6h0M453.0 304.7h0M451.2 305.5h0M449.5 305.0h0M442.3 304.9h0M440.7 304.9h0M440.9 300.7h0M439.3 300.7h0M438.6 296.0h0M435.2 292.0h0M436.3 290.4h0M434.3 288.6h0M470.9 305.4h0M466.9 307.9h0M464.5 307.6h0M466.1 307.4h0M407.1 306.5h0M411.5 307.1h0M414.7 308.6h0M415.8 308.2h0M416.4 311.0h0M416.2 309.7h0M417.9 307.8h0M420.3 306.6h0M425.4 298.8h0M426.8 296.6h0M428.0 295.5h0M429.3 295.5h0M427.5 292.9h0M431.6 290.8h0M431.9 290.0h0M432.2 289.2h0M432.2 288.0h0M419.4 312.7h0M419.9 313.5h0M420.7 313.9h0M423.2 314.4h0M424.6 317.1h0M429.6 320.0h0M432.1 320.6h0M438.4 324.8h0M439.2 325.1h0M411.9 317.6h0M412.4 319.6h0M411.6 322.0h0M409.8 324.1h0M408.8 328.3h0M408.1 329.0h0M410.2 331.5h0M409.2 335.3h0M410.4 334.5h0M413.1 336.8h0M416.7 337.2h0M418.9 338.4h0M423.1 337.4h0M426.9 339.2h0M428.5 339.7h0M429.6 339.3h0M431.3 339.7h0M409.3 332.8h0M420.1 335.1h0M424.5 338.4h0M427.6 341.3h0M430.0 342.7h0M432.8 334.6h0M433.2 332.0h0M435.4 331.2h0M437.0 330.1h0M438.7 329.1h0M441.5 325.8h0M415.7 310.4h0M416.0 311.8h0M440.3 324.9h0M440.3 322.3h0M441.9 320.0h0M441.6 313.8h0M440.3 312.6h0M442.9 308.8h0M443.1 308.0h0M442.0 306.0h0M437.8 324.4h0M438.1 323.1h0M440.7 322.2h0M439.7 319.3h0M442.8 311.7h0M387.9 324.1h0M389.7 324.2h0M391.1 325.3h0M392.7 325.7h0M397.7 324.9h0M407.9 328.8h0M409.1 330.4h0M410.0 330.3h0M387.4 323.2h0M397.3 324.6h0M397.5 327.7h0M399.7 326.2h0M401.2 326.3h0M379.1 345.6h0M380.2 345.3h0M382.1 347.2h0M384.2 346.9h0M386.6 349.8h0M387.7 349.5h0M388.7 349.4h0M390.9 350.5h0M391.7 350.8h0M393.2 349.7h0M398.4 351.7h0M399.7 351.5h0M400.3 348.0h0M401.0 347.4h0M400.6 346.2h0M402.4 346.3h0M401.4 343.7h0M401.7 342.9h0M402.7 340.5h0M403.4 338.0h0M405.2 338.1h0M404.2 334.5h0M409.0 332.4h0M432.0 344.0h0M431.4 345.5h0M403.6 359.6h0M399.0 355.5h0M398.8 358.5h0M448.4 327.7h0M450.2 334.2h0M451.8 339.0h0M453.7 343.8h0M451.3 327.7h0M453.6 328.7h0M448.8 334.0h0M451.1 337.9h0M449.7 342.6h0M461.5 324.9h0M461.9 325.7h0M462.4 327.6h0M464.9 331.1h0M467.1 331.3h0M471.5 335.9h0M470.2 336.4h0M468.2 341.5h0M467.8 342.3h0M466.8 343.9h0M467.4 345.6h0M465.3 347.9h0M464.5 348.5h0M463.8 349.2h0M462.7 349.2h0M466.0 350.3h0M463.1 348.8h0M460.4 347.4h0M456.6 346.0h0M459.6 347.9h0M454.5 343.0h0M456.8 349.7h0M441.3 324.3h0M442.1 325.3h0M442.7 326.8h0M432.0 344.2h0M432.8 345.2h0M437.1 345.7h0M445.5 346.5h0M447.2 346.6h0M448.1 346.6h0M449.7 345.4h0M464.1 309.5h0M464.1 310.4h0M463.4 313.8h0M463.2 320.0h0M464.1 322.9h0M477.0 333.6h0M474.0 332.9h0M473.3 333.5h0M481.0 356.6h0M479.8 355.4h0M479.0 353.6h0M476.2 353.1h0M476.6 351.0h0M469.6 346.1h0M488.4 332.1h0M492.8 336.7h0M489.7 335.1h0M474.6 377.6h0M475.8 375.1h0M479.8 373.1h0M482.6 372.3h0M485.3 370.2h0M487.8 366.5h0M474.4 378.7h0M477.6 373.9h0M484.8 367.4h0M485.7 364.3h0M472.9 377.8h0M472.1 377.4h0M469.0 372.4h0M467.2 371.7h0M466.3 371.4h0M463.8 365.8h0M473.6 378.4h0M472.8 375.4h0M468.0 376.0h0M469.3 371.2h0M463.0 367.6h0M458.8 352.9h0M457.9 349.6h0M445.5 363.4h0M442.7 360.3h0M445.9 365.1h0M449.1 363.7h0M450.1 361.9h0M452.1 362.0h0M454.2 358.5h0M456.1 358.4h0M495.4 388.4h0M494.0 387.5h0M488.3 386.1h0M485.7 386.0h0M480.5 383.3h0M477.8 383.5h0M476.6 384.3h0M499.3 390.4h0M498.0 389.9h0M493.8 386.1h0M488.5 385.4h0M487.5 384.3h0M483.9 386.4h0M481.9 388.1h0M481.2 386.2h0M477.7 384.3h0M475.2 383.3h0M503.3 393.6h0M501.4 394.3h0M502.8 397.4h0M500.0 401.2h0M498.4 402.1h0M497.4 401.5h0M495.1 402.8h0M492.3 401.6h0M490.7 402.4h0M497.4 401.5h0M496.1 402.4h0M492.1 404.2h0M474.3 383.3h0M475.2 384.8h0M477.6 390.1h0M478.0 390.9h0M479.5 393.0h0M479.4 393.9h0M479.7 396.5h0M476.1 381.6h0M476.6 382.8h0M479.2 386.1h0M479.9 388.7h0M480.5 392.8h0M484.7 399.7h0M481.7 403.9h0M473.5 378.9h0M471.7 380.4h0M474.6 381.2h0M499.1 367.2h0M497.4 366.8h0M489.8 365.7h0M496.4 365.7h0M487.1 366.1h0M505.7 387.1h0M504.9 388.7h0M503.3 391.8h0M400.8 363.7h0M399.3 367.5h0M399.3 368.5h0M399.3 371.4h0M397.5 371.7h0M394.3 370.6h0M399.5 366.4h0M392.6 368.7h0M390.2 370.9h0M389.4 372.9h0M431.6 373.4h0M430.5 375.2h0M429.9 376.0h0M430.8 377.1h0M429.6 378.8h0M423.2 386.5h0M427.3 384.3h0M428.1 383.8h0M428.9 383.3h0M418.7 384.7h0M417.3 382.4h0M416.9 381.4h0M415.5 382.0h0M412.5 380.5h0M409.7 378.7h0M407.3 377.9h0M402.2 375.1h0M411.4 383.1h0M409.7 380.7h0M409.0 379.3h0M405.6 379.4h0M402.9 373.5h0M401.5 369.5h0M400.3 372.2h0M399.9 373.5h0M518.3 309.4h0M514.5 308.9h0M513.1 310.1h0M510.2 309.6h0M509.3 309.6h0M508.3 312.0h0M518.2 309.6h0M518.4 311.3h0M518.9 315.5h0M518.4 316.4h0M519.8 329.0h0M521.0 331.5h0M521.1 332.3h0M505.8 313.2h0M505.9 316.6h0M506.5 318.4h0M506.9 322.7h0M505.1 325.7h0M505.8 326.7h0M504.4 329.0h0M503.2 330.4h0M504.9 332.4h0M503.4 335.5h0M500.8 336.7h0M518.2 335.4h0M515.3 337.5h0M514.3 338.9h0M514.8 340.6h0M515.8 337.5h0M502.0 312.6h0M502.9 313.4h0M538.1 334.0h0M537.2 334.4h0M535.3 335.6h0M533.6 335.2h0M529.2 335.9h0M527.5 335.4h0M526.6 335.9h0M523.9 336.6h0M495.3 338.4h0M496.1 339.7h0M497.1 339.3h0M498.0 339.1h0M500.8 339.5h0M501.9 337.9h0M500.5 335.8h0M510.9 343.7h0M510.1 346.3h0M501.8 410.7h0M500.7 414.0h0M500.4 414.8h0M499.3 415.4h0M499.4 419.6h0M501.4 422.4h0M503.6 428.1h0M504.5 428.6h0M521.1 427.3h0M519.3 427.4h0M513.8 430.4h0M508.5 430.9h0M522.3 428.4h0M520.2 426.1h0M514.3 431.7h0M506.6 430.6h0M528.0 404.3h0M523.3 410.2h0M523.8 406.0h0M522.4 406.8h0M521.8 408.4h0M500.5 400.7h0M504.2 403.1h0M506.2 403.0h0M476.4 415.6h0M478.1 419.4h0M478.1 420.8h0M479.2 421.2h0M476.3 412.9h0M478.4 411.1h0M484.5 403.5h0M484.8 402.6h0M481.3 421.2h0M491.4 418.6h0M496.3 416.6h0M499.0 417.6h0M488.3 452.9h0M484.5 447.0h0M484.2 440.3h0M482.6 439.9h0M482.6 436.5h0M483.6 434.6h0M481.3 432.6h0M480.3 432.0h0M481.1 427.6h0M480.2 426.9h0M481.2 425.8h0M480.6 424.3h0M490.5 455.8h0M486.7 452.6h0M488.9 448.0h0M488.4 446.8h0M487.6 444.3h0M483.9 442.4h0M489.4 439.8h0M486.9 439.0h0M486.1 437.8h0M486.3 435.1h0M487.4 429.4h0M483.1 427.7h0M482.6 425.1h0M488.7 454.3h0M490.8 453.9h0M490.6 452.7h0M492.9 448.2h0M495.0 447.8h0M494.0 446.0h0M494.6 443.3h0M498.3 439.9h0M501.3 439.2h0M505.4 434.0h0M438.8 430.0h0M440.7 429.1h0M441.9 428.9h0M443.8 426.9h0M446.3 424.2h0M419.6 419.7h0M430.5 407.7h0M419.8 419.9h0M422.9 416.7h0M431.8 406.4h0M432.8 407.6h0M434.6 407.8h0M437.4 409.9h0M438.3 408.6h0M442.0 409.4h0M444.2 417.9h0M444.2 418.8h0M446.8 421.5h0M439.3 408.8h0M440.8 409.8h0M443.5 415.2h0M446.2 417.4h0M446.3 425.2h0M448.9 425.6h0M449.7 425.9h0M452.4 426.2h0M454.2 426.2h0M456.1 426.1h0M457.1 425.2h0M459.1 424.4h0M474.1 415.9h0M468.8 419.1h0M463.0 424.4h0M460.4 425.4h0M382.1 389.9h0M382.9 390.2h0M383.8 389.8h0M384.8 389.2h0M385.5 390.6h0M387.4 389.0h0M388.2 390.2h0M391.6 390.7h0M392.5 390.2h0M393.3 391.1h0M395.9 391.5h0M389.5 418.0h0M390.2 417.5h0M391.3 417.6h0M392.6 416.4h0M392.4 414.7h0M393.1 412.8h0M395.5 410.4h0M396.0 408.2h0M398.5 407.3h0M388.2 414.4h0M392.4 415.2h0M395.9 410.5h0M399.2 410.1h0M400.7 409.7h0M400.7 407.8h0M398.7 406.2h0M399.5 405.4h0M399.2 403.3h0M389.1 371.6h0M388.7 372.3h0M388.8 373.4h0M387.7 374.7h0M387.7 377.5h0M385.5 378.2h0M379.9 382.8h0M381.1 384.4h0M379.4 386.3h0M379.2 387.2h0M379.0 388.1h0M385.1 419.1h0M401.0 373.6h0M402.5 375.7h0M402.8 378.4h0M401.9 379.1h0M401.8 379.9h0M402.7 381.0h0M398.6 386.2h0M397.7 391.3h0M430.2 408.7h0M429.4 406.1h0M427.5 402.2h0M426.2 399.9h0M423.2 394.7h0M420.6 393.4h0M464.5 406.4h0M461.3 405.3h0M458.9 404.0h0M457.9 404.7h0M456.4 403.6h0M453.7 403.8h0M451.8 405.3h0M450.3 404.0h0M447.1 402.2h0M458.8 406.0h0M453.4 403.2h0M449.1 402.2h0M447.7 402.2h0M446.0 403.8h0M464.1 405.0h0M463.6 401.5h0M464.1 399.8h0M465.4 398.4h0M465.1 395.7h0M466.2 395.1h0M464.6 393.0h0M466.4 392.5h0M466.9 391.7h0M467.7 387.6h0M468.6 386.0h0M469.5 385.3h0M469.6 384.5h0M468.7 383.4h0M444.7 400.3h0M445.0 399.5h0M444.4 397.7h0M445.0 396.8h0M447.5 389.8h0M467.6 382.6h0M460.3 385.1h0M456.1 385.5h0M454.4 385.2h0M453.3 383.7h0M450.9 384.5h0M467.7 381.7h0M464.9 382.3h0M462.2 383.2h0M460.6 382.0h0M456.2 381.6h0M453.5 382.5h0M448.2 388.2h0M446.7 389.3h0M443.5 406.8h0M445.2 407.0h0M445.4 406.0h0M469.8 412.5h0M468.1 409.0h0M472.3 411.0h0M469.1 410.0h0M473.6 379.0h0M471.9 380.3h0M472.2 382.6h0M469.7 382.6h0M469.4 378.9h0M468.8 381.3h0M536.3 331.4h0M531.9 358.5h0M527.5 360.8h0M508.6 314.2h0M507.0 310.2h0M507.9 311.7h0M503.8 313.2h0M503.9 313.6h0M508.5 313.7h0M506.2 311.1h0M508.9 311.9h0M501.3 314.8h0M495.4 315.5h0M497.1 315.4h0M500.0 310.4h0M495.9 312.5h0M501.0 313.5h0M494.7 309.1h0M495.3 307.3h0M398.7 372.9h0M405.0 369.1h0M406.2 374.6h0M402.5 376.9h0M415.9 419.4h0M420.9 422.4h0M419.0 418.6h0M410.6 361.6h0M407.7 362.9h0M413.4 361.1h0M400.8 391.3h0M398.8 395.2h0M398.8 392.7h0M388.0 323.4h0M386.2 325.8h0M387.9 319.8h0M384.9 323.6h0M386.3 319.1h0M465.5 344.6h0M464.4 347.5h0M470.9 346.8h0M464.6 345.8h0M465.4 345.2h0M464.7 344.5h0M468.2 343.6h0M499.9 399.2h0M498.8 400.2h0M503.6 401.8h0M503.2 402.2h0M498.7 400.8h0M503.9 400.7h0M503.2 399.8h0M502.9 400.9h0M386.4 423.7h0M384.1 427.8h0M382.8 422.0h0M387.4 425.6h0M380.8 425.6h0M383.2 424.1h0M447.1 420.9h0M447.3 420.1h0M444.0 426.5h0M447.2 425.3h0M447.5 426.6h0M447.9 423.3h0M442.5 422.8h0M410.1 332.9h0M410.7 329.3h0M411.1 332.0h0M411.7 333.1h0M477.3 385.8h0M475.8 386.5h0M476.3 379.3h0M479.2 384.7h0M386.5 421.5h0M385.6 414.9h0M386.3 418.4h0M385.6 418.0h0M390.8 419.9h0M383.8 420.7h0M429.4 342.8h0M429.8 343.7h0M429.2 342.6h0M469.5 412.8h0M472.1 411.6h0M476.5 413.2h0M471.2 410.4h0M443.0 406.3h0M443.2 407.3h0M442.0 405.0h0M444.7 406.9h0M441.0 408.3h0M382.7 321.5h0M379.0 326.4h0M529.6 382.6h0M529.6 384.6h0M530.7 382.6h0M529.0 380.6h0M528.5 381.9h0M526.7 381.7h0M531.0 380.2h0M530.9 382.8h0M533.6 359.0h0M530.9 358.7h0M527.6 354.4h0M529.1 355.5h0M531.2 359.6h0M534.8 355.2h0M442.4 325.0h0M439.3 329.1h0M464.2 323.1h0M456.7 325.4h0M457.5 320.3h0M462.7 326.8h0M532.1 307.4h0M528.1 305.6h0M532.0 309.0h0M530.5 307.4h0M531.4 309.5h0M526.9 306.6h0M529.1 305.2h0M530.2 310.3h0M511.2 343.1h0M513.8 348.3h0M514.2 347.0h0M511.0 343.0h0M475.4 380.3h0M472.5 375.2h0M476.2 375.3h0M471.8 381.7h0M473.8 379.1h0M475.9 379.7h0M470.2 380.4h0M472.2 381.8h0M446.8 303.8h0M438.7 306.0h0M443.2 303.9h0M432.1 409.8h0M431.9 408.1h0M447.4 325.2h0M450.8 324.4h0M449.9 325.9h0M450.1 327.4h0M499.7 366.1h0M499.1 371.0h0M500.0 366.1h0M499.3 369.5h0M501.0 371.1h0M499.3 370.0h0M528.2 368.1h0M521.9 373.0h0M526.8 368.4h0M422.2 389.8h0M426.0 387.6h0M421.1 390.9h0M420.6 388.0h0M462.0 304.8h0M461.3 308.8h0M460.4 302.9h0M459.9 305.5h0M464.1 304.2h0M459.8 308.3h0M460.8 302.5h0M458.9 306.5h0M462.8 305.0h0M429.9 346.4h0M430.7 346.1h0M417.2 314.1h0M417.9 309.4h0M415.8 309.3h0M417.6 312.1h0M448.3 363.9h0M445.4 363.9h0M445.0 361.9h0M441.1 364.7h0M446.5 360.6h0M445.2 367.0h0M445.2 359.9h0M447.0 360.4h0M405.8 307.4h0M401.9 305.1h0M403.6 307.2h0M418.6 438.8h0M420.1 436.4h0M417.5 440.7h0M418.7 432.7h0M418.4 440.8h0M422.0 434.5h0M487.2 323.2h0M489.9 319.3h0M487.4 318.2h0M481.3 420.4h0M481.2 416.8h0M482.6 420.6h0M482.4 417.0h0M479.7 422.0h0M477.7 422.6h0M463.3 307.1h0M466.9 309.8h0M464.4 310.5h0M466.5 308.5h0M467.6 307.9h0M523.5 385.6h0M526.7 391.0h0M530.0 386.8h0M522.8 386.1h0M526.9 383.6h0M438.6 428.4h0M437.9 430.3h0M437.9 428.0h0M441.2 436.5h0M438.5 430.0h0M397.6 365.5h0M398.3 366.4h0M401.4 367.6h0M399.6 366.9h0M427.8 372.4h0M426.7 372.3h0M431.5 372.1h0M426.8 371.8h0M429.5 374.4h0M429.6 371.1h0M518.8 304.9h0M516.0 307.9h0M519.5 306.4h0M518.7 306.0h0M501.6 392.7h0M500.4 392.0h0M503.2 391.0h0M502.1 394.7h0M500.5 394.4h0M522.1 301.9h0M521.3 301.7h0M523.5 305.1h0M522.6 308.1h0M511.9 346.0h0M512.4 343.4h0M511.9 342.9h0M389.0 419.8h0M387.6 420.7h0M388.8 418.2h0M389.7 419.8h0M388.7 421.7h0M386.9 420.7h0M386.2 417.1h0" stroke="#D4FF74" stroke-width="1.2" stroke-linecap="round" filter="url(#gb)"/><path d="M386.4 425.1h0M387.0 423.1h0M385.7 421.1h0M386.8 420.6h0M385.6 418.7h0M386.2 426.0h0M385.6 427.2h0M387.1 428.3h0M388.5 429.5h0M388.6 431.2h0M388.3 433.1h0M390.3 434.1h0M390.4 436.7h0M391.1 437.3h0M392.2 441.3h0M392.9 441.9h0M393.4 442.5h0M393.1 443.5h0M393.8 445.0h0M395.4 446.1h0M396.2 447.6h0M396.2 449.3h0M395.5 450.5h0M396.2 451.1h0M398.5 455.5h0M399.9 456.7h0M400.0 457.5h0M399.6 458.5h0M399.2 459.6h0M400.8 461.6h0M402.8 463.4h0M404.8 470.5h0M405.3 472.1h0M406.0 472.7h0M406.2 473.5h0M406.8 474.1h0M407.0 474.9h0M406.2 476.1h0M388.6 418.8h0M389.5 418.9h0M392.6 421.8h0M393.1 422.6h0M395.9 424.3h0M396.4 425.0h0M396.7 426.2h0M398.4 426.5h0M401.1 428.4h0M402.7 428.9h0M404.7 428.7h0M405.0 431.6h0M406.0 431.5h0M406.4 432.5h0M407.5 432.1h0M411.0 434.3h0M411.6 434.9h0M412.1 435.6h0M413.4 434.9h0M414.9 435.6h0M416.4 436.4h0M416.8 437.3h0M417.8 438.9h0M523.0 302.8h0M521.8 299.8h0M522.2 298.9h0M519.3 298.7h0M520.1 296.9h0M520.3 295.2h0M518.8 293.8h0M519.4 288.7h0M519.5 287.9h0M517.8 284.2h0M516.7 283.6h0M518.1 280.8h0M515.6 280.5h0M517.5 278.4h0M516.0 277.9h0M515.7 274.7h0M514.1 273.4h0M515.1 271.5h0M514.7 270.0h0M513.3 264.5h0M511.2 263.3h0M512.0 259.8h0M512.5 258.9h0M511.0 255.1h0M509.6 252.9h0M510.4 251.1h0M508.4 249.9h0M509.0 248.9h0M507.9 246.7h0M508.1 244.2h0M507.7 241.8h0M504.5 240.0h0M507.0 237.0h0M506.0 234.7h0M506.8 233.7h0M504.4 233.4h0M505.5 230.7h0M503.8 227.8h0M504.2 226.8h0M504.9 225.9h0M503.6 225.3h0M502.2 222.3h0M503.1 221.3h0M502.6 219.8h0M502.3 217.4h0M501.3 210.1h0M499.7 208.0h0M497.0 200.4h0M497.5 196.1h0M496.7 193.8h0M496.0 187.4h0M496.9 186.3h0M494.5 186.0h0M495.7 183.3h0M496.0 179.9h0M494.9 179.3h0M494.4 177.0h0M494.5 175.3h0M493.6 174.7h0M493.2 173.9h0M494.1 168.8h0M493.0 167.4h0M492.4 165.9h0M526.9 303.6h0M523.2 301.8h0M523.0 299.3h0M522.7 298.0h0M522.1 293.0h0M520.4 289.5h0M520.2 285.6h0M518.0 284.8h0M520.4 283.0h0M517.8 282.3h0M520.0 276.6h0M518.7 271.7h0M515.7 269.8h0M516.8 266.9h0M513.7 266.3h0M518.6 263.9h0M513.8 258.5h0M512.3 257.5h0M511.8 256.3h0M511.2 252.6h0M512.7 247.0h0M511.1 246.1h0M511.7 240.8h0M509.8 236.0h0M508.3 235.0h0M505.6 233.0h0M507.3 231.4h0M507.4 230.0h0M505.7 227.8h0M507.4 226.1h0M506.2 223.8h0M506.7 215.9h0M503.4 215.3h0M504.0 211.3h0M501.7 210.5h0M500.4 205.6h0M502.1 204.0h0M502.8 202.5h0M496.7 201.3h0M498.8 199.5h0M497.5 195.9h0M496.5 187.0h0M496.3 184.5h0M495.1 182.1h0M496.4 180.5h0M495.4 175.6h0M491.3 167.4h0M523.2 302.9h0M526.1 304.0h0M526.6 305.6h0M528.8 305.3h0M529.4 307.0h0M530.5 306.5h0M529.0 307.0h0M531.2 307.3h0M531.9 308.9h0M530.7 310.9h0M534.6 315.1h0M533.7 317.9h0M534.4 318.6h0M534.0 320.5h0M534.3 321.2h0M534.4 322.1h0M534.2 323.0h0M535.3 323.6h0M536.0 324.3h0M537.6 329.1h0M536.8 331.9h0M538.2 335.9h0M533.9 307.1h0M533.1 311.4h0M531.0 313.3h0M532.9 314.1h0M533.1 316.8h0M535.2 319.0h0M535.4 321.7h0M534.9 324.5h0M534.5 328.7h0M532.8 331.8h0M535.8 332.4h0M537.5 334.7h0M531.3 358.8h0M532.9 357.8h0M534.5 359.9h0M535.9 360.8h0M538.5 364.2h0M539.8 363.9h0M541.6 364.2h0M542.5 367.1h0M543.6 367.0h0M545.5 370.1h0M547.1 370.7h0M549.0 370.9h0M547.8 373.9h0M552.1 374.9h0M555.5 377.3h0M555.9 378.1h0M532.7 357.4h0M532.6 353.7h0M532.8 352.7h0M533.6 352.3h0M536.5 348.2h0M538.0 348.5h0M539.1 348.4h0M539.6 347.7h0M540.5 346.3h0M542.0 346.6h0M541.5 343.8h0M542.8 343.9h0M545.6 343.1h0M545.7 342.1h0M529.8 354.8h0M533.6 354.7h0M534.9 354.0h0M542.8 348.3h0M544.0 343.8h0M545.9 343.7h0M387.8 322.8h0M389.0 321.7h0M389.3 320.8h0M391.6 319.6h0M390.9 317.8h0M392.4 318.0h0M394.2 315.2h0M396.2 312.5h0M396.8 311.9h0M400.1 308.2h0M401.9 306.5h0M403.0 305.3h0M403.3 307.2h0M402.5 308.4h0M400.0 308.3h0M394.1 307.2h0M389.9 307.1h0M389.0 306.6h0M384.8 305.4h0M384.0 305.9h0M381.3 323.1h0M373.1 319.9h0M372.3 319.4h0M376.5 315.3h0M380.0 309.0h0M404.7 304.7h0M404.0 304.1h0M404.0 303.2h0M404.1 302.3h0M403.3 300.8h0M401.8 297.9h0M401.2 294.6h0M400.8 293.9h0M401.0 293.0h0M398.5 287.8h0M396.7 285.9h0M395.8 284.5h0M394.5 281.5h0M393.7 280.9h0M394.0 279.9h0M392.3 278.0h0M392.7 276.9h0M390.6 273.3h0M390.5 272.5h0M389.2 271.3h0M388.5 269.8h0M389.1 267.8h0M403.7 302.3h0M400.7 294.9h0M400.8 293.5h0M399.6 289.7h0M397.8 287.6h0M398.1 286.0h0M395.0 275.9h0M389.8 276.6h0M391.1 274.6h0M392.7 272.6h0M390.0 269.4h0M380.9 326.8h0M380.6 328.5h0M382.7 329.4h0M381.0 331.2h0M381.9 336.4h0M380.6 339.8h0M379.6 341.6h0M377.5 343.5h0M376.2 346.2h0M373.6 346.6h0M372.4 346.2h0M369.6 349.6h0M368.7 349.5h0M368.2 352.0h0M367.6 352.6h0M367.0 353.3h0M364.9 352.8h0M360.7 355.5h0M358.5 358.2h0M355.5 359.6h0M354.9 360.2h0M352.8 361.4h0M349.9 363.1h0M348.8 364.5h0M421.6 434.1h0M420.9 432.4h0M422.9 434.8h0M424.4 432.2h0M430.6 433.5h0M431.4 432.2h0M434.0 432.6h0M436.6 432.4h0M438.7 433.7h0M440.8 434.4h0M441.1 436.1h0M444.0 438.3h0M443.7 442.9h0M445.4 443.9h0M446.8 446.8h0M448.7 447.7h0M447.8 449.0h0M450.6 451.2h0M450.4 454.0h0M451.7 455.2h0M454.0 460.4h0M453.7 461.4h0M454.4 462.0h0M456.7 464.4h0M457.6 465.8h0M457.8 466.6h0M459.0 467.8h0M459.6 468.4h0M460.7 470.6h0M460.3 471.7h0M462.0 474.4h0M462.9 474.9h0M464.1 479.7h0M465.3 480.9h0M466.4 481.3h0M470.1 490.3h0M472.2 491.0h0M471.4 493.3h0M472.5 494.5h0M475.7 498.3h0M476.7 501.4h0M476.7 503.2h0M476.7 504.1h0M440.6 431.8h0M442.3 433.8h0M443.0 434.9h0M444.3 437.1h0M443.7 440.3h0M450.3 442.8h0M450.5 445.5h0M448.6 447.9h0M451.2 448.1h0M451.7 450.7h0M451.5 457.9h0M455.8 458.7h0M458.3 464.6h0M457.0 466.7h0M460.3 467.9h0M462.9 470.9h0M461.5 474.5h0M463.8 474.7h0M463.8 477.6h0M464.5 481.5h0M465.8 485.2h0M467.8 485.6h0M469.0 489.3h0M472.2 489.2h0M469.6 491.9h0M471.3 492.5h0M470.6 494.3h0M473.6 495.7h0M472.6 499.1h0M474.3 501.0h0M474.9 503.6h0M475.9 504.6h0M429.2 347.5h0M428.4 349.3h0M427.7 349.7h0M427.3 350.7h0M424.7 351.2h0M419.3 355.1h0M417.6 355.5h0M416.7 355.6h0M414.5 355.2h0M414.2 357.8h0M412.4 358.1h0M410.5 359.7h0M431.4 348.8h0M432.8 349.0h0M432.4 352.0h0M433.6 352.4h0M435.0 356.4h0M435.6 357.1h0M436.7 357.4h0M438.9 359.2h0M437.2 361.9h0M431.6 372.2h0M431.1 370.5h0M432.8 369.8h0M436.8 367.6h0M435.4 365.1h0M437.1 365.5h0M437.9 365.0h0M438.6 364.5h0M437.9 362.6h0M429.9 367.2h0M437.9 363.4h0M439.2 362.7h0M501.2 371.0h0M501.7 371.8h0M502.0 373.5h0M504.7 377.3h0M505.7 379.8h0M505.4 380.8h0M504.7 382.7h0M505.8 384.3h0M506.4 385.0h0M505.0 365.7h0M506.6 367.5h0M508.1 368.5h0M510.9 366.1h0M511.6 366.8h0M512.4 367.4h0M514.1 367.5h0M515.6 368.9h0M518.1 369.8h0M520.5 370.4h0M523.1 370.3h0M523.9 369.9h0M524.6 371.9h0M506.3 387.6h0M514.7 385.8h0M515.5 387.2h0M516.4 386.4h0M518.9 384.9h0M519.7 386.2h0M520.6 384.9h0M523.1 384.8h0M524.8 386.0h0M525.6 385.0h0M525.8 377.6h0M527.0 379.0h0M528.0 380.5h0M528.6 377.2h0M528.8 382.1h0M528.5 382.6h0M526.7 382.8h0M527.2 384.2h0M525.1 385.3h0M530.3 361.8h0M529.7 362.4h0M527.8 363.4h0M526.1 365.4h0M525.9 367.2h0M523.7 370.0h0M529.3 356.6h0M527.7 356.0h0M525.7 354.3h0M524.1 355.4h0M520.1 352.1h0M518.2 352.0h0M517.8 351.0h0M517.8 349.3h0M513.7 347.9h0M513.3 347.0h0M512.0 345.9h0M529.5 356.9h0M524.8 351.4h0M512.7 350.0h0M513.0 346.9h0M511.3 345.6h0M511.0 346.4h0M508.9 359.4h0M506.0 360.7h0M506.3 361.8h0M503.0 366.8h0M511.4 350.2h0M512.4 352.3h0M511.0 353.0h0M508.0 354.5h0M502.5 357.7h0M503.0 359.5h0M501.2 363.1h0M500.6 365.9h0M501.0 367.6h0M501.7 366.6h0M470.9 307.5h0M474.3 308.6h0M474.4 311.2h0M476.7 310.9h0M478.8 311.0h0M478.7 312.4h0M483.0 313.7h0M483.6 314.3h0M484.2 315.0h0M471.9 304.9h0M475.1 305.2h0M474.8 307.7h0M479.3 308.5h0M481.1 312.6h0M485.3 318.1h0M497.9 312.3h0M496.7 313.9h0M496.1 314.6h0M492.6 315.8h0M490.4 317.2h0M489.0 316.6h0M498.4 314.4h0M497.7 316.2h0M495.8 315.8h0M486.4 317.5h0M459.1 305.9h0M459.3 304.9h0M458.1 301.8h0M456.3 300.9h0M455.8 298.4h0M456.5 296.1h0M454.7 295.2h0M455.0 293.2h0M453.4 292.2h0M452.6 290.8h0M450.6 285.3h0M448.0 276.5h0M445.7 276.8h0M442.5 272.0h0M442.1 270.4h0M441.3 269.8h0M441.4 268.9h0M441.6 267.9h0M440.4 266.6h0M439.4 266.2h0M438.3 265.0h0M437.7 264.3h0M459.9 306.9h0M458.1 306.8h0M457.2 307.4h0M456.4 305.5h0M455.6 305.3h0M454.7 305.7h0M452.1 305.8h0M448.6 304.4h0M447.7 305.9h0M446.8 307.3h0M446.0 305.0h0M444.3 305.3h0M442.2 306.0h0M441.1 303.6h0M441.3 302.5h0M441.2 301.6h0M440.0 298.2h0M440.6 296.9h0M437.9 297.5h0M438.3 295.2h0M437.6 293.7h0M437.2 292.9h0M434.8 290.3h0M471.1 307.6h0M469.0 307.9h0M468.4 308.6h0M466.7 309.6h0M463.6 308.0h0M460.3 307.8h0M403.4 306.3h0M404.5 306.0h0M406.4 305.8h0M408.6 307.3h0M410.1 306.1h0M410.8 306.6h0M412.4 307.3h0M417.6 309.8h0M418.3 309.3h0M419.0 307.7h0M419.0 306.6h0M419.9 305.2h0M420.8 303.7h0M422.3 302.7h0M423.5 301.6h0M423.4 300.4h0M424.3 300.1h0M424.3 296.8h0M427.5 298.3h0M427.0 295.7h0M430.6 293.2h0M429.8 291.5h0M430.3 290.8h0M415.8 312.3h0M417.8 312.3h0M422.0 314.9h0M423.5 315.6h0M427.7 316.6h0M427.1 319.5h0M429.0 317.7h0M431.0 321.0h0M432.4 321.9h0M434.5 323.2h0M435.8 324.2h0M438.1 323.7h0M416.7 312.0h0M415.3 313.3h0M415.2 314.2h0M416.1 315.4h0M414.5 315.8h0M411.6 320.2h0M412.5 321.4h0M411.0 322.7h0M411.1 323.7h0M410.2 325.2h0M409.6 327.7h0M409.1 330.2h0M409.0 332.2h0M408.8 333.9h0M410.9 335.5h0M412.7 335.6h0M414.7 337.5h0M415.7 337.3h0M418.5 337.2h0M420.3 337.5h0M426.5 338.0h0M430.5 339.5h0M411.3 331.8h0M412.4 332.6h0M422.3 336.8h0M429.8 340.7h0M429.9 339.8h0M428.1 337.9h0M429.7 335.9h0M432.2 335.3h0M433.7 334.2h0M433.4 333.0h0M433.7 331.3h0M437.8 329.6h0M439.6 326.7h0M415.7 310.4h0M415.5 312.0h0M441.6 324.3h0M440.4 323.2h0M440.6 321.5h0M441.2 320.7h0M440.6 318.0h0M441.4 317.3h0M440.6 316.2h0M441.1 314.6h0M441.0 310.2h0M440.5 309.2h0M441.8 306.8h0M440.2 318.0h0M441.4 316.9h0M443.3 310.4h0M445.3 309.5h0M446.2 308.3h0M443.3 306.3h0M392.2 324.7h0M395.1 326.5h0M396.0 326.5h0M397.9 326.5h0M399.8 326.4h0M403.1 327.2h0M408.3 330.2h0M391.0 321.9h0M391.5 324.2h0M392.8 324.7h0M395.6 325.2h0M403.0 329.2h0M381.0 345.7h0M381.5 346.6h0M383.4 346.6h0M384.4 348.5h0M385.7 347.6h0M386.2 348.6h0M390.0 350.4h0M397.9 351.7h0M398.5 352.7h0M400.5 351.0h0M399.6 348.5h0M401.8 344.9h0M402.3 341.2h0M404.2 340.4h0M402.9 338.6h0M405.1 337.0h0M406.2 336.7h0M407.2 333.3h0M407.9 332.8h0M432.9 342.6h0M432.2 341.5h0M431.3 347.2h0M408.4 360.6h0M407.5 361.1h0M406.6 360.8h0M404.8 361.7h0M402.8 361.1h0M401.9 361.0h0M397.6 352.3h0M398.2 353.0h0M399.1 354.5h0M398.7 356.6h0M402.2 356.0h0M402.5 360.7h0M449.2 326.6h0M448.9 328.4h0M448.9 331.0h0M448.1 332.9h0M450.8 333.2h0M450.9 334.9h0M451.4 335.7h0M451.1 336.6h0M450.5 337.6h0M451.1 340.1h0M452.1 340.7h0M452.1 342.4h0M452.8 344.9h0M451.0 330.7h0M451.3 340.8h0M449.5 344.1h0M453.5 344.7h0M461.4 323.8h0M464.9 328.7h0M465.9 328.9h0M468.2 332.7h0M469.5 332.6h0M470.2 333.2h0M471.5 334.9h0M470.4 337.4h0M467.9 343.3h0M467.4 345.0h0M466.2 347.6h0M460.3 351.0h0M466.7 348.1h0M459.5 349.6h0M453.5 344.3h0M456.3 345.0h0M458.3 346.8h0M459.6 349.4h0M459.1 351.4h0M453.2 347.0h0M439.4 324.7h0M440.4 324.3h0M443.5 327.7h0M445.6 326.3h0M446.3 327.8h0M447.1 328.5h0M448.2 327.6h0M449.1 327.9h0M441.2 322.7h0M444.2 322.8h0M447.6 327.8h0M433.6 343.9h0M435.4 345.8h0M436.2 345.1h0M437.9 346.3h0M438.8 347.0h0M440.5 346.6h0M442.1 346.2h0M443.0 345.5h0M443.9 347.3h0M444.7 346.0h0M446.3 345.5h0M448.9 346.2h0M450.6 346.0h0M453.1 345.6h0M464.6 308.8h0M463.7 311.2h0M463.3 311.9h0M464.0 313.1h0M463.9 314.8h0M463.5 317.4h0M464.1 318.5h0M463.8 319.3h0M462.8 320.7h0M461.7 323.1h0M461.2 323.8h0M482.9 331.9h0M481.6 330.9h0M481.0 331.9h0M479.3 332.1h0M478.4 332.3h0M477.9 333.6h0M474.8 332.4h0M471.2 332.5h0M470.8 334.3h0M482.6 357.4h0M482.8 355.6h0M475.2 351.5h0M474.3 349.9h0M473.5 349.6h0M473.3 348.4h0M470.8 347.4h0M470.5 346.4h0M468.9 345.7h0M467.7 345.9h0M492.1 337.5h0M490.4 336.7h0M490.0 335.7h0M488.8 334.4h0M488.4 333.5h0M485.6 332.5h0M486.0 330.7h0M485.3 330.1h0M488.8 333.7h0M487.1 330.6h0M472.9 377.0h0M477.3 375.4h0M478.8 374.6h0M481.0 371.9h0M482.7 371.2h0M483.7 371.0h0M484.5 370.6h0M485.4 369.0h0M485.5 367.9h0M486.8 366.7h0M475.0 377.2h0M476.4 374.6h0M479.1 373.4h0M478.9 371.2h0M481.3 369.7h0M480.3 366.6h0M482.2 366.5h0M473.6 378.3h0M470.6 376.4h0M469.7 373.9h0M469.6 372.9h0M464.4 369.7h0M464.7 367.2h0M463.4 365.0h0M461.8 365.3h0M462.1 363.9h0M462.5 362.4h0M460.2 363.3h0M458.8 362.3h0M458.6 361.4h0M457.4 359.1h0M457.3 358.1h0M470.9 375.2h0M468.3 373.9h0M465.1 373.0h0M466.8 369.7h0M461.5 367.1h0M460.3 364.5h0M460.6 360.6h0M459.1 358.4h0M457.3 358.1h0M457.7 358.6h0M459.1 356.1h0M459.9 355.4h0M458.2 353.7h0M456.6 351.1h0M443.4 363.6h0M442.3 364.0h0M440.1 364.3h0M439.3 363.4h0M438.0 364.6h0M443.8 362.9h0M438.6 362.3h0M447.0 365.4h0M448.0 365.5h0M448.0 363.4h0M449.8 363.2h0M451.0 361.7h0M453.4 358.8h0M455.1 358.4h0M500.6 390.9h0M500.4 389.2h0M499.7 388.7h0M497.1 388.6h0M494.1 389.5h0M492.4 386.9h0M491.5 387.1h0M490.8 386.6h0M486.3 386.6h0M484.9 385.7h0M484.5 384.4h0M483.1 383.4h0M482.0 384.1h0M481.1 384.0h0M475.6 382.3h0M502.8 392.2h0M502.2 389.9h0M501.4 388.3h0M492.5 386.0h0M485.9 384.8h0M475.8 385.5h0M503.2 395.5h0M502.4 398.3h0M502.0 399.2h0M503.2 400.3h0M500.6 399.7h0M495.7 401.5h0M494.2 403.0h0M493.2 402.2h0M491.7 403.3h0M490.1 404.1h0M489.0 402.7h0M488.4 403.9h0M484.8 403.1h0M500.2 400.9h0M498.6 399.6h0M494.8 403.0h0M493.3 402.2h0M489.4 405.1h0M487.9 404.3h0M486.1 401.8h0M474.6 382.3h0M475.5 383.7h0M475.4 385.6h0M476.4 387.0h0M475.9 388.1h0M477.8 389.1h0M479.6 392.0h0M479.4 394.8h0M482.4 398.1h0M482.6 398.9h0M483.8 399.3h0M483.9 400.2h0M485.9 402.0h0M480.7 382.5h0M480.2 391.5h0M483.8 392.8h0M485.0 395.2h0M483.7 398.7h0M484.0 401.4h0M474.0 380.2h0M477.0 380.8h0M500.8 366.7h0M495.7 366.7h0M494.8 366.8h0M488.0 366.1h0M487.3 364.8h0M500.7 367.5h0M498.0 365.2h0M494.9 364.9h0M493.5 364.2h0M491.8 365.1h0M490.3 365.3h0M507.0 389.0h0M506.4 389.9h0M504.1 391.1h0M503.0 391.7h0M401.1 362.7h0M403.5 365.7h0M402.6 366.5h0M400.9 368.0h0M404.0 362.6h0M400.3 368.8h0M397.9 370.1h0M396.4 371.3h0M395.6 371.6h0M393.3 370.6h0M392.5 371.0h0M390.5 370.6h0M399.0 369.4h0M395.4 367.9h0M393.2 366.0h0M392.1 371.8h0M430.5 372.3h0M429.8 379.8h0M428.9 380.7h0M427.5 381.5h0M426.8 382.4h0M421.7 386.1h0M423.9 386.0h0M424.1 384.6h0M425.2 384.5h0M425.8 383.8h0M413.7 380.3h0M411.7 378.8h0M409.3 377.9h0M409.2 376.6h0M405.6 377.5h0M402.4 376.3h0M401.6 374.5h0M420.2 384.9h0M419.2 383.9h0M411.8 385.0h0M409.0 376.9h0M405.3 377.3h0M403.3 375.4h0M399.9 367.8h0M402.0 368.2h0M400.2 371.1h0M519.2 309.6h0M517.4 309.6h0M513.4 308.4h0M510.9 308.8h0M508.7 310.5h0M507.0 310.8h0M518.3 308.7h0M518.5 310.4h0M518.4 313.8h0M520.5 317.1h0M518.0 318.1h0M518.8 318.9h0M520.0 320.5h0M519.5 322.2h0M519.7 324.8h0M518.8 325.7h0M519.7 326.5h0M521.5 327.2h0M520.5 329.8h0M521.3 330.6h0M521.4 333.2h0M521.6 334.0h0M505.8 312.3h0M506.8 314.2h0M506.1 321.7h0M505.2 323.2h0M505.4 324.9h0M503.6 329.7h0M502.6 332.8h0M503.5 333.9h0M501.4 336.0h0M520.5 335.1h0M518.2 334.2h0M516.8 336.5h0M516.4 337.3h0M513.1 341.5h0M512.1 342.9h0M512.1 344.1h0M519.3 334.8h0M518.3 335.8h0M517.5 337.2h0M515.1 338.9h0M513.1 341.1h0M512.6 342.6h0M510.3 342.5h0M498.4 311.9h0M501.0 313.9h0M504.7 313.0h0M505.9 311.3h0M506.8 311.4h0M532.8 335.0h0M530.9 336.0h0M530.0 336.5h0M528.3 336.2h0M525.7 335.8h0M524.7 336.6h0M523.2 334.8h0M522.2 335.9h0M520.6 334.4h0M492.5 337.0h0M494.6 335.3h0M498.8 340.5h0M499.8 340.1h0M492.4 338.2h0M497.2 337.6h0M498.7 338.1h0M511.8 346.0h0M512.6 343.4h0M506.8 405.0h0M504.3 405.1h0M504.0 407.8h0M503.5 408.5h0M502.9 410.1h0M502.0 411.7h0M499.5 411.8h0M499.5 420.5h0M499.7 421.4h0M500.1 422.1h0M501.3 423.5h0M501.6 424.3h0M503.2 426.4h0M505.0 429.3h0M505.9 429.9h0M505.0 431.3h0M521.8 426.5h0M520.3 427.6h0M518.8 428.6h0M517.7 428.0h0M516.1 428.9h0M515.2 428.9h0M512.8 430.1h0M511.3 431.1h0M509.2 430.2h0M508.5 434.0h0M507.2 432.6h0M518.2 429.7h0M515.5 430.7h0M513.0 432.2h0M511.7 432.8h0M508.8 433.1h0M527.3 404.9h0M526.7 405.6h0M526.4 406.6h0M525.5 407.0h0M524.2 408.3h0M525.0 410.7h0M530.6 404.4h0M525.1 405.1h0M500.1 402.2h0M503.4 402.4h0M476.6 416.7h0M477.2 417.5h0M474.3 413.7h0M476.5 411.9h0M478.3 412.2h0M478.5 410.1h0M481.3 408.8h0M481.9 407.1h0M484.7 404.7h0M480.5 421.3h0M482.9 419.1h0M485.6 421.3h0M487.2 419.3h0M488.1 419.9h0M488.8 418.5h0M489.7 419.4h0M490.6 419.0h0M492.2 418.7h0M493.0 418.2h0M495.6 417.6h0M498.2 417.9h0M499.8 416.7h0M487.1 454.9h0M487.7 453.9h0M485.9 450.9h0M487.0 449.0h0M485.0 446.1h0M486.0 444.2h0M484.3 443.7h0M484.3 442.8h0M484.5 441.9h0M483.5 441.3h0M484.8 438.5h0M484.5 437.7h0M482.2 434.1h0M483.0 433.0h0M482.3 429.8h0M479.8 423.6h0M480.8 420.0h0M487.6 449.7h0M489.5 445.2h0M485.5 433.9h0M485.5 432.5h0M482.4 429.2h0M481.6 423.9h0M479.9 421.6h0M488.1 456.0h0M490.1 454.4h0M491.1 452.1h0M493.1 449.5h0M494.7 448.6h0M494.8 445.5h0M495.6 445.1h0M496.6 443.8h0M496.3 442.6h0M497.7 441.6h0M499.2 439.7h0M501.3 438.1h0M501.3 436.0h0M501.5 435.1h0M503.2 435.5h0M503.6 434.7h0M504.4 434.3h0M505.6 433.1h0M506.3 432.7h0M507.3 432.4h0M438.3 430.8h0M439.7 429.5h0M442.2 428.0h0M445.5 424.8h0M447.3 423.9h0M422.1 417.4h0M423.3 417.3h0M424.9 415.3h0M426.9 413.7h0M426.3 411.9h0M427.0 411.5h0M428.1 410.2h0M429.4 409.1h0M420.8 416.8h0M424.2 413.9h0M426.3 413.9h0M428.8 412.2h0M428.5 409.9h0M430.5 409.8h0M433.7 407.7h0M436.5 409.2h0M441.1 409.7h0M441.2 409.9h0M442.6 412.2h0M443.8 412.7h0M443.1 413.8h0M443.5 414.6h0M444.4 415.2h0M444.9 415.9h0M447.3 422.3h0M443.0 410.7h0M442.3 412.5h0M448.9 418.1h0M448.2 419.8h0M446.9 423.3h0M447.4 424.1h0M448.1 425.1h0M450.6 426.0h0M451.5 426.2h0M453.4 425.6h0M460.3 423.1h0M475.9 413.6h0M472.8 416.5h0M472.3 415.1h0M470.4 416.9h0M470.7 418.6h0M470.2 419.3h0M469.1 420.8h0M468.5 421.4h0M466.4 423.0h0M464.0 424.2h0M460.5 424.1h0M460.4 426.7h0M378.6 390.1h0M379.4 390.2h0M380.5 388.5h0M381.2 389.8h0M389.1 390.0h0M389.8 391.5h0M394.2 391.0h0M389.3 420.5h0M389.3 419.2h0M390.8 415.5h0M392.9 414.0h0M394.5 411.9h0M396.7 410.5h0M399.9 407.7h0M400.5 407.2h0M387.6 416.0h0M393.4 411.9h0M392.5 408.3h0M397.6 410.4h0M400.2 404.6h0M388.0 373.9h0M383.6 380.1h0M383.4 380.9h0M381.9 382.0h0M382.9 383.5h0M380.1 384.9h0M378.4 384.8h0M388.1 418.4h0M401.0 374.5h0M402.0 377.3h0M401.6 381.6h0M402.5 382.7h0M400.5 384.0h0M398.0 387.8h0M398.8 388.9h0M399.7 389.9h0M430.8 407.2h0M429.4 407.2h0M428.1 403.9h0M427.7 401.0h0M426.7 400.6h0M424.9 397.7h0M421.7 394.7h0M463.8 405.7h0M463.1 404.8h0M462.2 405.0h0M460.3 405.8h0M459.7 404.6h0M457.0 405.0h0M454.6 404.1h0M452.9 403.6h0M445.8 405.0h0M464.7 405.4h0M463.1 406.2h0M457.6 403.9h0M456.3 403.3h0M454.8 403.7h0M450.4 403.3h0M464.4 404.2h0M464.2 403.3h0M464.9 400.9h0M466.3 399.4h0M465.2 397.5h0M466.3 394.2h0M466.2 389.9h0M468.8 388.6h0M444.9 401.2h0M444.6 398.6h0M445.6 396.0h0M446.3 394.2h0M444.6 393.3h0M445.6 392.4h0M447.4 390.7h0M448.0 389.0h0M469.3 382.8h0M466.9 383.6h0M466.1 383.8h0M465.1 383.3h0M464.6 385.1h0M463.5 383.8h0M462.8 384.4h0M461.9 384.0h0M457.7 384.9h0M456.7 383.6h0M452.6 384.1h0M451.8 384.9h0M466.6 383.8h0M459.0 380.9h0M457.6 381.1h0M450.6 382.0h0M448.2 386.9h0M448.3 389.6h0M442.3 408.2h0M443.0 407.6h0M442.2 406.0h0M444.8 404.0h0M472.3 412.6h0M471.1 412.5h0M469.0 409.4h0M468.1 407.7h0M467.1 407.4h0M464.9 407.0h0M474.2 413.3h0M473.4 412.0h0M469.2 411.9h0M466.9 408.0h0M466.7 406.0h0M464.4 406.2h0M474.0 379.7h0M538.8 340.9h0M534.1 339.4h0M541.3 333.2h0M534.3 334.6h0M542.5 335.7h0M539.5 338.2h0M540.5 334.9h0M534.3 338.0h0M531.5 361.8h0M529.4 355.4h0M507.6 312.6h0M507.1 310.3h0M508.6 312.0h0M505.2 310.2h0M497.4 309.4h0M496.9 309.0h0M503.7 312.5h0M498.3 308.5h0M501.1 311.5h0M500.2 312.0h0M503.6 312.9h0M494.2 308.8h0M499.7 311.8h0M502.2 310.0h0M495.9 315.1h0M494.4 311.0h0M493.9 312.0h0M399.9 372.9h0M404.6 369.4h0M402.4 373.5h0M406.5 371.5h0M401.0 374.2h0M399.9 376.1h0M402.6 377.7h0M400.6 368.2h0M403.4 369.5h0M422.9 422.3h0M408.0 359.2h0M407.3 362.5h0M409.3 362.9h0M406.3 362.5h0M409.6 356.6h0M400.2 391.5h0M396.6 391.0h0M399.7 395.5h0M397.2 390.8h0M386.4 324.3h0M387.4 322.5h0M384.4 320.0h0M387.2 324.6h0M384.8 325.0h0M384.9 324.0h0M387.8 326.2h0M469.5 348.8h0M466.3 347.9h0M469.1 344.3h0M469.1 343.3h0M466.8 347.5h0M469.0 345.0h0M503.2 402.3h0M501.2 402.3h0M502.7 399.4h0M503.0 401.0h0M500.0 398.3h0M500.5 400.9h0M382.7 424.2h0M382.8 424.3h0M381.4 424.9h0M385.8 425.1h0M383.8 425.5h0M383.3 423.8h0M385.9 423.5h0M388.2 424.3h0M384.8 425.1h0M385.2 420.0h0M385.1 428.4h0M449.9 425.9h0M450.7 424.3h0M447.7 420.1h0M447.1 426.1h0M412.2 330.8h0M410.2 330.9h0M406.0 332.2h0M411.6 333.0h0M410.1 332.4h0M408.9 334.5h0M408.6 330.4h0M472.9 382.4h0M477.9 385.7h0M474.7 382.0h0M475.8 381.9h0M479.6 380.4h0M480.2 380.4h0M477.6 381.3h0M473.7 377.1h0M472.3 385.6h0M388.4 418.7h0M385.5 416.7h0M385.1 419.9h0M383.9 416.5h0M388.3 420.7h0M388.5 416.7h0M429.5 340.7h0M433.0 341.9h0M429.4 339.8h0M431.3 342.9h0M475.5 414.1h0M472.4 419.4h0M471.5 415.2h0M473.0 416.4h0M470.3 416.4h0M473.8 417.7h0M443.2 405.9h0M441.6 410.9h0M440.3 406.5h0M442.8 409.6h0M444.2 406.3h0M442.2 410.8h0M379.4 326.2h0M376.6 326.4h0M381.9 326.5h0M377.4 323.9h0M383.1 325.5h0M382.4 321.0h0M527.8 381.9h0M531.8 382.4h0M527.2 381.7h0M526.2 356.4h0M529.0 353.6h0M528.7 358.7h0M528.7 360.0h0M527.7 358.6h0M531.2 359.2h0M526.7 356.3h0M530.3 362.1h0M440.4 321.1h0M441.1 321.8h0M436.6 328.4h0M442.0 322.0h0M436.1 321.7h0M443.6 324.9h0M441.9 326.0h0M461.6 322.5h0M459.7 320.7h0M462.8 321.5h0M458.3 323.8h0M459.7 322.2h0M459.4 325.8h0M463.6 320.8h0M462.6 327.6h0M528.6 308.4h0M529.2 303.6h0M528.0 304.5h0M534.5 306.8h0M530.1 308.4h0M529.3 307.7h0M511.7 344.6h0M509.6 346.8h0M511.0 346.6h0M512.4 345.4h0M511.7 349.2h0M513.6 345.6h0M470.7 379.9h0M471.2 377.5h0M474.8 377.1h0M474.5 377.7h0M474.9 375.3h0M477.9 377.2h0M473.4 379.0h0M446.4 305.1h0M442.6 303.5h0M446.6 302.5h0M438.5 308.1h0M445.5 304.6h0M441.0 302.9h0M445.8 308.0h0M441.4 308.1h0M441.9 305.4h0M429.3 408.5h0M432.2 407.2h0M432.0 408.0h0M428.6 409.1h0M431.0 409.5h0M428.7 407.2h0M450.4 327.3h0M450.7 326.8h0M448.4 327.4h0M450.5 327.3h0M450.8 328.0h0M449.1 324.1h0M450.8 328.1h0M448.0 327.8h0M500.6 366.8h0M499.1 365.6h0M503.1 364.6h0M498.0 369.9h0M501.8 370.9h0M501.0 366.1h0M499.6 366.8h0M501.4 367.0h0M523.4 367.7h0M520.7 370.7h0M521.1 370.5h0M522.2 367.8h0M422.4 386.2h0M422.1 383.2h0M458.9 303.0h0M458.3 305.2h0M462.8 303.6h0M456.5 307.2h0M459.1 303.6h0M456.5 305.5h0M431.9 345.3h0M429.1 348.4h0M431.2 349.1h0M430.3 344.9h0M416.1 311.6h0M417.1 312.8h0M417.8 311.9h0M413.8 311.4h0M415.0 313.5h0M416.3 310.1h0M415.7 310.8h0M417.8 312.0h0M415.5 312.4h0M413.8 312.0h0M446.8 360.2h0M446.8 362.3h0M444.4 360.7h0M448.6 363.9h0M446.5 362.8h0M441.4 363.0h0M447.5 364.2h0M407.5 306.0h0M405.6 302.5h0M401.3 305.1h0M406.1 308.5h0M400.7 304.7h0M404.6 301.1h0M402.5 304.8h0M401.1 301.4h0M404.1 304.7h0M401.1 304.7h0M417.0 433.2h0M416.9 433.5h0M422.8 438.6h0M414.9 436.3h0M422.5 436.0h0M415.0 437.1h0M490.3 320.1h0M485.7 315.2h0M485.6 320.5h0M487.8 323.1h0M491.1 318.7h0M483.7 317.3h0M488.0 313.7h0M484.0 420.3h0M478.2 419.2h0M476.4 419.3h0M483.9 421.9h0M478.6 418.9h0M482.8 418.3h0M483.3 418.5h0M479.1 419.2h0M481.1 417.6h0M478.7 417.4h0M462.6 307.9h0M464.6 307.6h0M468.1 310.2h0M464.5 312.1h0M462.5 309.6h0M463.8 309.2h0M464.0 310.1h0M466.5 310.1h0M465.0 308.0h0M468.0 310.0h0M524.3 385.6h0M529.0 384.3h0M526.8 386.5h0M527.0 388.7h0M525.7 388.9h0M529.5 387.1h0M523.3 385.1h0M523.6 386.5h0M527.2 405.8h0M533.1 403.2h0M438.0 436.4h0M440.4 431.6h0M441.8 431.5h0M440.6 432.6h0M435.9 433.4h0M436.8 434.6h0M397.3 367.7h0M400.7 372.1h0M403.2 369.3h0M398.1 363.8h0M399.0 367.4h0M429.1 373.7h0M427.6 370.7h0M515.5 308.9h0M521.4 311.1h0M517.1 310.8h0M521.2 305.4h0M521.4 311.0h0M518.1 310.1h0M521.0 305.7h0M504.5 392.5h0M500.8 392.3h0M501.4 389.7h0M502.4 390.8h0M504.3 391.6h0M525.7 302.8h0M523.8 301.4h0M523.8 303.0h0M521.7 302.6h0M511.9 341.1h0M509.1 345.3h0M513.0 346.2h0M513.6 343.6h0M509.5 344.6h0M509.8 346.2h0M510.4 345.0h0M388.9 419.3h0M384.6 421.4h0M387.4 420.7h0M384.0 419.7h0M384.5 420.1h0" stroke="#B2F24C" stroke-width="1.6" stroke-linecap="round" filter="url(#gb)"/><path d="M385.1 423.8h0M386.5 424.2h0M384.8 425.8h0M388.8 433.8h0M394.1 444.0h0M394.7 445.5h0M395.9 448.6h0M398.3 453.8h0M398.4 454.6h0M398.4 456.4h0M400.7 463.4h0M402.8 465.2h0M402.3 466.3h0M393.1 424.3h0M398.3 428.4h0M403.4 429.3h0M409.7 431.4h0M410.5 433.5h0M521.3 301.5h0M521.0 295.8h0M519.5 294.5h0M519.7 292.8h0M519.7 291.2h0M516.7 281.9h0M516.9 279.4h0M515.9 275.5h0M513.8 271.0h0M513.2 269.5h0M514.5 267.5h0M511.8 265.7h0M512.6 263.8h0M509.8 254.5h0M508.9 253.9h0M507.3 241.0h0M505.9 240.5h0M504.0 232.7h0M503.5 218.8h0M500.7 213.6h0M499.8 203.0h0M498.4 197.6h0M497.2 195.4h0M496.6 191.4h0M494.5 184.4h0M495.7 182.5h0M494.3 181.1h0M493.1 171.5h0M494.1 170.4h0M493.6 168.0h0M521.7 295.7h0M520.9 288.1h0M517.4 279.7h0M517.2 260.3h0M511.8 253.7h0M512.0 249.8h0M510.8 244.9h0M508.9 233.6h0M503.0 219.3h0M502.1 209.1h0M500.1 207.0h0M499.5 196.7h0M498.9 193.0h0M497.0 192.1h0M498.4 187.9h0M494.0 179.8h0M495.5 178.1h0M494.9 177.0h0M492.4 173.6h0M493.1 170.9h0M492.5 169.7h0M491.0 166.2h0M523.8 304.5h0M525.2 303.4h0M528.0 304.4h0M532.7 312.1h0M532.7 313.0h0M533.8 317.1h0M536.7 327.6h0M536.8 328.4h0M538.9 330.5h0M530.3 306.6h0M531.8 321.2h0M530.6 324.2h0M536.1 329.6h0M536.0 359.3h0M538.3 361.7h0M538.2 363.2h0M541.8 365.3h0M542.5 365.7h0M544.3 368.8h0M549.6 372.8h0M550.3 373.3h0M551.0 375.1h0M531.5 358.1h0M532.1 355.5h0M534.7 352.2h0M544.9 343.6h0M547.4 342.5h0M547.2 341.2h0M532.2 355.2h0M536.2 353.4h0M542.1 345.8h0M544.3 346.0h0M390.1 319.3h0M391.6 316.3h0M393.0 315.3h0M394.2 314.1h0M395.0 313.7h0M399.1 308.5h0M401.7 307.5h0M402.3 305.7h0M401.6 307.5h0M395.8 307.9h0M393.2 305.6h0M391.5 306.6h0M388.2 306.7h0M381.4 304.9h0M380.5 321.3h0M377.3 320.8h0M375.1 321.7h0M374.3 315.9h0M377.2 314.6h0M379.4 311.9h0M380.3 311.4h0M380.4 306.1h0M403.5 304.3h0M399.6 291.8h0M399.2 291.1h0M398.4 290.5h0M395.0 285.7h0M394.2 284.3h0M395.7 281.9h0M393.0 279.4h0M389.8 271.9h0M388.8 270.5h0M388.7 268.8h0M403.4 305.2h0M403.8 303.6h0M402.8 299.8h0M402.5 298.5h0M400.8 292.0h0M398.7 284.4h0M394.0 277.7h0M389.4 272.5h0M380.1 325.0h0M379.9 327.7h0M382.1 332.0h0M381.3 332.9h0M382.1 337.3h0M380.1 338.1h0M378.6 343.8h0M376.5 345.0h0M374.0 344.0h0M367.5 349.2h0M364.1 353.2h0M363.5 353.7h0M359.8 355.6h0M358.9 357.3h0M356.6 358.2h0M353.9 360.2h0M352.0 361.7h0M420.9 436.5h0M417.5 435.6h0M421.8 433.1h0M423.7 434.8h0M429.8 433.9h0M432.4 434.0h0M435.0 433.5h0M438.6 434.3h0M439.3 432.9h0M440.3 434.2h0M439.9 432.2h0M440.4 437.4h0M443.1 439.6h0M443.6 440.3h0M446.6 446.0h0M447.6 447.3h0M448.2 450.6h0M450.8 452.0h0M452.4 455.8h0M451.6 457.1h0M453.1 459.0h0M453.6 459.7h0M457.9 470.2h0M463.6 478.2h0M464.7 480.3h0M466.8 484.7h0M468.0 487.7h0M469.5 487.9h0M473.4 496.8h0M474.1 498.2h0M475.5 499.3h0M442.8 436.5h0M444.1 438.7h0M443.7 443.2h0M449.0 444.8h0M451.4 452.3h0M450.8 454.0h0M457.1 460.9h0M459.9 466.6h0M465.1 478.4h0M463.4 483.6h0M467.0 487.5h0M471.8 498.0h0M431.8 348.4h0M431.5 349.5h0M423.2 351.9h0M422.0 353.1h0M411.9 358.8h0M409.1 359.2h0M430.4 347.4h0M432.1 350.3h0M434.0 354.1h0M434.2 355.0h0M437.3 358.1h0M439.2 359.9h0M429.8 372.9h0M431.6 369.8h0M432.9 368.6h0M433.5 368.0h0M428.5 371.6h0M428.7 369.9h0M433.8 367.1h0M436.8 364.2h0M500.0 370.3h0M503.5 375.8h0M505.0 376.4h0M505.0 381.8h0M506.8 385.8h0M502.4 367.2h0M505.8 366.9h0M509.9 367.4h0M513.3 367.3h0M519.8 369.3h0M508.8 388.0h0M510.5 388.1h0M517.2 387.5h0M521.4 386.7h0M522.3 386.2h0M523.9 386.9h0M524.8 371.4h0M525.3 374.0h0M525.7 376.7h0M529.1 381.0h0M526.1 371.6h0M525.4 373.5h0M525.9 379.9h0M525.8 381.6h0M530.3 382.4h0M531.0 358.3h0M529.3 359.3h0M526.9 364.9h0M524.9 367.7h0M524.7 369.5h0M526.6 354.5h0M521.3 353.4h0M526.4 356.7h0M521.5 351.5h0M516.8 353.9h0M517.0 350.9h0M516.0 349.8h0M509.5 348.5h0M508.8 356.6h0M508.2 357.2h0M505.6 364.3h0M502.3 367.3h0M514.8 349.0h0M506.1 356.6h0M504.5 357.3h0M472.5 309.5h0M476.1 310.3h0M479.5 312.7h0M480.6 314.0h0M481.9 313.8h0M476.8 307.3h0M479.9 309.9h0M485.1 314.0h0M496.9 312.5h0M493.5 313.7h0M493.7 315.9h0M488.2 317.1h0M494.7 316.9h0M458.6 308.0h0M460.0 306.3h0M458.2 303.6h0M458.4 302.6h0M457.6 301.1h0M456.7 299.7h0M453.9 289.1h0M450.3 282.7h0M445.3 276.1h0M444.8 273.6h0M445.2 272.4h0M443.3 270.6h0M439.4 265.3h0M453.8 305.7h0M445.1 305.6h0M442.6 306.7h0M440.1 299.2h0M436.9 295.1h0M437.1 292.0h0M435.8 288.7h0M470.3 308.2h0M465.3 306.6h0M405.2 306.4h0M408.7 305.0h0M421.5 303.2h0M429.0 293.0h0M417.3 311.4h0M418.5 312.6h0M422.0 313.2h0M425.1 317.9h0M426.4 317.3h0M429.6 318.3h0M430.5 320.2h0M433.2 322.2h0M435.0 320.5h0M435.3 323.4h0M437.1 323.7h0M412.8 318.8h0M408.9 332.8h0M409.1 332.1h0M413.4 331.8h0M411.8 335.6h0M414.6 335.7h0M417.3 337.9h0M420.7 338.5h0M421.5 338.9h0M423.7 338.0h0M425.0 339.3h0M414.3 331.5h0M414.8 333.8h0M416.4 336.9h0M421.4 335.5h0M426.5 340.5h0M430.1 338.0h0M430.4 337.2h0M430.6 335.4h0M437.6 327.6h0M441.8 319.1h0M439.9 315.2h0M441.1 311.9h0M439.4 310.7h0M439.7 320.6h0M442.9 315.8h0M442.2 314.3h0M387.4 323.2h0M390.2 325.3h0M394.8 325.2h0M399.0 326.1h0M401.4 327.0h0M402.1 327.4h0M404.6 328.0h0M405.4 328.4h0M401.4 329.2h0M405.9 329.4h0M408.6 330.2h0M409.2 332.3h0M394.5 351.0h0M395.6 350.6h0M395.7 352.4h0M400.1 349.8h0M402.3 342.2h0M406.9 335.2h0M406.1 333.7h0M430.6 345.6h0M405.5 359.2h0M401.0 358.5h0M402.0 360.0h0M402.9 361.5h0M449.8 331.7h0M451.7 326.1h0M451.4 332.0h0M450.6 335.1h0M452.9 336.1h0M460.1 323.9h0M462.1 326.7h0M463.9 327.3h0M464.2 328.2h0M467.0 332.6h0M470.2 334.2h0M471.0 334.7h0M471.1 339.5h0M469.1 339.9h0M469.6 341.0h0M466.3 345.7h0M466.6 346.2h0M454.0 345.1h0M455.3 344.9h0M458.0 345.7h0M459.5 346.7h0M456.6 347.4h0M459.0 349.3h0M459.9 350.4h0M439.6 323.7h0M446.3 327.3h0M448.9 328.6h0M431.2 345.2h0M441.3 345.0h0M451.4 346.8h0M462.9 315.4h0M484.7 332.0h0M484.3 357.9h0M483.7 357.2h0M480.0 353.6h0M478.7 352.5h0M475.0 350.4h0M471.6 349.2h0M471.4 348.0h0M490.2 334.1h0M487.2 332.1h0M491.9 335.2h0M486.2 334.1h0M484.7 330.8h0M474.4 376.0h0M476.2 376.8h0M479.0 373.5h0M476.0 376.3h0M485.6 366.2h0M472.3 376.2h0M469.3 375.4h0M467.5 372.5h0M467.0 369.6h0M466.2 369.2h0M465.2 367.9h0M463.9 366.8h0M458.3 359.5h0M471.1 378.6h0M465.2 369.3h0M464.7 367.9h0M461.8 361.5h0M458.8 360.4h0M459.2 358.1h0M459.6 357.3h0M456.9 350.2h0M444.7 362.4h0M441.1 364.4h0M444.9 365.4h0M440.8 360.8h0M452.1 360.0h0M456.3 356.9h0M502.4 390.9h0M497.3 390.4h0M489.6 387.3h0M488.5 388.0h0M487.4 386.1h0M483.5 384.8h0M479.6 383.3h0M496.7 389.6h0M495.8 388.2h0M494.7 387.5h0M489.0 387.8h0M480.8 383.4h0M479.2 384.0h0M503.0 392.6h0M501.5 400.1h0M496.8 403.0h0M487.5 403.8h0M486.4 402.4h0M501.4 399.3h0M490.4 402.6h0M484.9 403.7h0M477.5 385.6h0M477.9 388.1h0M478.1 391.7h0M480.1 395.4h0M480.0 397.3h0M483.2 401.4h0M484.6 401.7h0M482.4 389.1h0M482.2 394.9h0M474.0 379.1h0M472.0 377.4h0M498.3 366.7h0M494.1 365.1h0M493.2 365.5h0M492.4 365.1h0M491.5 365.5h0M489.0 364.5h0M499.3 366.4h0M505.0 390.7h0M401.9 361.9h0M391.4 370.5h0M389.5 370.4h0M388.5 370.2h0M396.2 365.7h0M429.9 377.9h0M423.4 385.2h0M420.5 383.4h0M419.0 382.8h0M417.4 383.6h0M406.7 377.3h0M403.9 377.0h0M403.7 375.8h0M400.0 375.4h0M420.9 388.8h0M421.2 385.9h0M417.1 384.6h0M414.5 383.5h0M401.2 373.7h0M516.6 309.9h0M515.7 309.8h0M511.9 309.3h0M506.1 310.8h0M519.1 312.1h0M517.6 314.7h0M519.6 319.7h0M519.7 321.4h0M521.0 323.0h0M519.5 323.9h0M520.8 328.1h0M505.8 314.9h0M504.6 318.9h0M506.0 320.0h0M505.3 324.1h0M505.1 327.4h0M504.5 331.5h0M502.7 334.6h0M501.9 337.8h0M520.4 333.8h0M515.3 338.7h0M512.5 342.1h0M520.0 333.4h0M515.2 341.1h0M499.3 312.6h0M503.7 313.9h0M534.5 334.8h0M531.9 335.2h0M521.4 335.7h0M493.5 336.7h0M494.2 336.6h0M501.9 338.1h0M504.7 406.2h0M503.6 406.7h0M503.5 409.4h0M499.9 416.5h0M499.3 417.2h0M499.4 418.2h0M501.4 425.3h0M501.5 426.3h0M503.2 427.4h0M507.7 430.9h0M507.6 431.9h0M517.0 428.8h0M511.9 430.2h0M510.6 432.0h0M519.4 428.6h0M516.6 429.3h0M530.2 403.9h0M528.1 406.2h0M501.7 402.4h0M477.1 418.9h0M476.3 414.1h0M479.8 410.0h0M479.8 408.9h0M481.6 408.0h0M482.1 405.0h0M483.8 420.5h0M484.6 419.6h0M486.4 420.4h0M488.6 455.4h0M488.3 452.1h0M488.9 451.1h0M486.1 447.5h0M485.6 445.1h0M483.2 435.5h0M480.9 429.3h0M481.8 428.2h0M481.4 425.0h0M480.5 422.6h0M480.1 421.0h0M490.6 454.4h0M488.9 453.4h0M489.0 450.7h0M485.2 436.7h0M483.7 431.6h0M482.4 426.5h0M481.0 422.7h0M488.8 455.5h0M490.0 450.2h0M491.2 450.0h0M492.7 450.2h0M497.6 440.4h0M499.7 439.0h0M501.5 437.2h0M443.9 425.9h0M444.8 425.4h0M421.3 419.0h0M422.2 418.7h0M424.4 416.1h0M426.2 414.2h0M428.6 411.8h0M428.9 409.8h0M418.8 416.9h0M423.0 414.8h0M428.0 413.5h0M433.5 410.6h0M435.5 407.8h0M439.3 409.5h0M441.3 410.8h0M444.5 416.9h0M445.3 419.3h0M446.3 419.9h0M445.6 421.0h0M448.2 422.9h0M446.0 415.9h0M449.1 421.1h0M455.2 425.9h0M458.0 425.5h0M474.5 413.2h0M472.7 416.9h0M471.9 417.2h0M466.5 421.7h0M462.0 424.5h0M395.0 391.4h0M397.7 390.9h0M394.6 410.6h0M397.1 408.3h0M397.9 408.0h0M389.0 420.1h0M390.9 415.5h0M392.8 413.5h0M402.1 403.0h0M388.2 375.9h0M388.3 376.9h0M384.8 379.8h0M384.6 382.6h0M378.7 389.8h0M400.6 383.2h0M400.1 384.8h0M400.6 385.8h0M397.8 390.4h0M429.2 404.2h0M428.7 402.4h0M423.9 397.4h0M424.4 395.9h0M422.6 396.2h0M420.7 394.4h0M455.5 403.7h0M449.6 402.8h0M447.8 403.3h0M461.7 405.7h0M452.0 402.5h0M466.0 390.7h0M468.1 389.4h0M470.1 382.0h0M444.9 403.0h0M444.8 402.1h0M444.7 395.1h0M468.5 382.8h0M461.1 384.3h0M459.4 384.8h0M454.9 382.9h0M469.5 383.9h0M454.8 381.5h0M452.0 381.7h0M444.6 402.9h0M441.2 407.3h0M443.0 404.6h0M445.5 402.5h0M472.4 415.0h0M470.5 415.6h0M468.0 411.7h0M466.6 406.6h0M464.5 406.1h0M467.3 409.6h0M470.3 381.7h0M471.4 378.8h0M537.3 337.6h0M535.9 339.6h0M537.0 335.8h0M539.3 331.6h0M535.3 334.2h0M533.3 354.8h0M533.0 358.4h0M531.1 353.6h0M533.1 360.6h0M529.6 362.2h0M504.8 311.7h0M506.2 313.5h0M505.8 314.1h0M503.9 312.7h0M505.6 310.4h0M504.5 312.5h0M495.5 308.9h0M496.9 307.0h0M503.1 311.1h0M401.9 371.7h0M406.4 371.5h0M398.1 373.6h0M401.8 371.9h0M400.3 376.4h0M402.0 368.5h0M416.6 419.0h0M422.3 422.2h0M422.5 417.2h0M419.8 415.9h0M408.0 361.2h0M413.6 361.4h0M407.5 360.2h0M405.9 362.6h0M405.6 363.9h0M396.2 393.9h0M395.2 392.1h0M395.6 389.8h0M395.5 393.5h0M387.7 319.6h0M387.7 320.8h0M387.5 321.0h0M388.6 326.3h0M386.1 321.3h0M385.5 321.6h0M470.9 345.5h0M465.8 347.2h0M468.2 345.5h0M502.2 399.9h0M502.1 400.4h0M499.9 400.4h0M499.6 399.6h0M383.7 423.6h0M384.1 423.5h0M386.8 422.3h0M381.1 425.3h0M387.0 423.6h0M383.2 424.2h0M385.4 421.1h0M443.9 422.2h0M445.1 421.8h0M444.1 426.5h0M448.5 424.1h0M444.4 423.2h0M443.8 424.0h0M445.5 423.2h0M448.9 424.8h0M449.3 425.8h0M409.4 331.6h0M411.7 332.3h0M408.4 335.1h0M407.5 334.7h0M411.3 332.7h0M409.6 328.8h0M410.3 332.6h0M474.3 377.1h0M473.7 382.8h0M472.4 379.5h0M387.7 421.4h0M386.8 422.3h0M385.5 419.1h0M383.6 415.8h0M388.8 419.5h0M428.7 344.1h0M430.8 342.8h0M432.1 341.4h0M429.1 340.2h0M428.7 342.3h0M432.7 340.9h0M469.1 415.4h0M473.2 415.7h0M471.7 417.5h0M439.7 407.3h0M441.9 407.6h0M444.0 410.2h0M445.0 409.1h0M442.3 404.8h0M440.9 407.6h0M440.3 410.2h0M378.9 324.7h0M378.1 326.7h0M379.8 326.8h0M377.5 322.3h0M380.3 325.1h0M383.9 326.2h0M376.9 325.3h0M377.2 321.7h0M528.6 383.8h0M531.1 383.1h0M530.8 381.3h0M530.7 384.0h0M530.6 381.3h0M530.1 380.5h0M528.9 355.4h0M534.2 358.6h0M528.3 355.6h0M533.2 354.4h0M528.0 360.1h0M532.0 356.6h0M435.3 325.2h0M439.6 322.5h0M456.1 322.6h0M459.0 323.0h0M456.9 323.1h0M455.9 323.2h0M528.7 307.7h0M528.4 309.7h0M533.8 305.7h0M527.7 305.3h0M527.8 304.3h0M528.8 304.5h0M513.6 347.9h0M511.6 343.4h0M512.2 343.2h0M512.2 347.4h0M511.4 344.6h0M513.8 348.1h0M471.7 378.3h0M473.2 379.4h0M477.3 377.5h0M477.0 378.7h0M473.4 378.1h0M476.3 381.8h0M470.3 377.8h0M448.3 304.0h0M446.0 310.1h0M447.3 303.6h0M445.0 301.1h0M445.9 305.3h0M430.9 409.5h0M431.0 409.1h0M448.7 325.5h0M449.0 329.3h0M448.7 324.6h0M448.1 324.0h0M448.1 326.3h0M448.9 329.3h0M450.8 327.0h0M449.0 325.6h0M448.9 326.5h0M500.9 364.3h0M497.2 366.9h0M502.2 365.9h0M503.4 369.0h0M497.7 368.5h0M502.3 366.6h0M527.7 369.6h0M524.1 366.7h0M426.4 386.0h0M420.9 386.1h0M422.9 387.2h0M461.6 309.5h0M460.4 308.9h0M463.9 306.8h0M461.5 305.5h0M464.2 309.1h0M458.3 308.2h0M461.2 304.1h0M461.8 307.0h0M429.6 345.0h0M419.1 311.9h0M447.5 362.2h0M402.0 305.6h0M401.9 308.1h0M402.9 307.0h0M420.4 438.8h0M418.2 438.7h0M420.7 438.8h0M485.3 317.7h0M485.9 314.9h0M485.3 314.1h0M482.4 319.6h0M486.0 317.8h0M482.1 417.4h0M480.4 422.8h0M481.6 421.5h0M480.9 420.7h0M482.2 417.9h0M467.9 310.5h0M462.5 310.7h0M464.6 307.2h0M465.8 308.0h0M466.2 307.7h0M465.9 311.9h0M464.7 309.3h0M528.2 386.2h0M523.6 389.6h0M525.6 383.8h0M525.4 386.7h0M530.0 405.3h0M529.5 405.3h0M532.4 401.2h0M527.0 406.0h0M528.6 407.0h0M440.7 427.1h0M439.6 433.1h0M444.5 430.3h0M441.4 429.2h0M435.5 432.5h0M396.4 367.9h0M396.3 367.7h0M401.5 371.3h0M403.6 367.0h0M428.8 369.9h0M429.6 371.4h0M516.1 307.5h0M520.4 307.1h0M517.9 309.6h0M517.1 308.4h0M517.6 306.0h0M519.0 304.9h0M499.8 392.6h0M521.8 303.5h0M510.4 343.8h0M508.5 344.4h0M514.2 342.3h0M385.6 421.0h0M387.1 421.1h0M387.0 416.9h0M385.7 421.6h0M384.9 417.8h0M388.1 420.3h0" stroke="#96E23A" stroke-width="2.0" stroke-linecap="round" filter="url(#gb)"/><path d="M385.9 423.6h0M386.1 427.9h0M390.7 438.3h0M392.5 440.2h0M394.4 447.5h0M397.1 453.4h0M387.8 418.5h0M394.8 422.9h0M395.0 424.2h0M400.2 426.5h0M400.8 427.2h0M405.2 429.4h0M413.8 436.0h0M521.1 297.5h0M519.2 290.4h0M518.2 289.9h0M515.2 277.3h0M512.2 267.2h0M511.6 257.4h0M507.9 248.3h0M508.3 247.4h0M509.5 245.5h0M508.6 244.9h0M507.0 242.8h0M506.1 238.0h0M505.3 231.6h0M503.1 224.6h0M503.6 223.7h0M502.3 218.2h0M500.8 216.0h0M500.9 211.1h0M499.4 206.4h0M499.5 203.9h0M497.9 194.4h0M498.6 192.6h0M496.7 188.0h0M494.0 176.2h0M493.5 172.2h0M519.5 294.9h0M521.2 290.6h0M520.1 286.9h0M517.7 281.0h0M513.3 262.5h0M511.0 242.2h0M503.9 212.6h0M501.7 197.5h0M498.2 190.5h0M495.1 183.4h0M534.0 316.1h0M536.9 326.7h0M539.0 334.8h0M531.4 309.1h0M535.2 325.8h0M531.2 328.1h0M534.0 357.8h0M537.0 362.0h0M534.9 351.2h0M537.1 351.1h0M528.6 355.6h0M536.8 352.1h0M398.6 311.3h0M400.8 307.7h0M399.1 307.4h0M385.6 305.2h0M380.4 322.7h0M372.5 316.9h0M380.3 310.3h0M403.2 305.5h0M402.9 299.3h0M401.7 296.2h0M397.6 287.3h0M397.7 286.4h0M395.6 282.8h0M397.2 280.7h0M382.1 326.0h0M382.3 333.8h0M382.7 334.7h0M380.6 339.0h0M376.8 344.0h0M371.7 346.7h0M371.8 348.4h0M370.5 347.8h0M421.3 435.4h0M444.5 441.6h0M450.4 450.4h0M456.0 462.1h0M460.0 472.7h0M462.3 473.4h0M469.8 489.5h0M473.5 495.8h0M446.8 443.1h0M455.3 463.2h0M461.3 477.4h0M422.1 351.7h0M420.5 352.3h0M419.6 354.0h0M414.9 357.4h0M412.7 357.0h0M410.8 358.7h0M430.5 348.3h0M434.4 353.0h0M439.1 361.9h0M430.5 372.4h0M435.3 368.5h0M505.7 386.9h0M509.1 366.7h0M514.8 368.8h0M507.1 386.5h0M512.2 387.4h0M524.8 370.4h0M525.2 372.2h0M524.0 373.6h0M524.7 375.2h0M525.3 375.9h0M527.5 379.8h0M528.8 382.1h0M525.7 376.7h0M528.2 362.6h0M525.9 366.3h0M523.8 354.2h0M519.6 351.4h0M514.7 348.0h0M523.4 351.0h0M509.7 346.7h0M509.6 350.4h0M508.8 355.6h0M506.1 359.9h0M505.2 363.2h0M501.4 367.8h0M514.6 347.4h0M508.5 353.3h0M509.1 356.6h0M503.2 361.1h0M501.2 368.5h0M471.5 305.4h0M485.9 316.8h0M487.9 315.6h0M483.5 313.8h0M483.6 318.0h0M498.2 311.1h0M458.6 304.3h0M456.8 298.7h0M455.0 294.1h0M451.2 287.8h0M450.6 287.2h0M448.3 279.1h0M444.9 274.4h0M460.7 306.6h0M450.4 305.2h0M443.3 306.9h0M463.2 306.3h0M462.3 305.9h0M413.1 307.8h0M413.7 308.6h0M415.7 310.5h0M421.5 305.4h0M422.6 301.9h0M423.9 298.6h0M424.4 315.7h0M415.7 312.5h0M413.5 316.3h0M412.8 317.0h0M410.1 326.1h0M409.2 326.6h0M409.1 332.1h0M424.4 338.6h0M427.4 340.0h0M415.9 334.7h0M418.7 334.9h0M423.5 337.5h0M425.5 339.6h0M428.2 343.5h0M427.8 340.6h0M436.4 330.8h0M439.3 327.5h0M439.8 325.9h0M441.6 312.8h0M388.7 324.3h0M394.0 324.9h0M400.1 327.8h0M404.1 327.0h0M406.6 327.5h0M407.0 328.8h0M389.0 322.8h0M393.7 325.9h0M403.7 330.8h0M406.5 331.4h0M389.6 349.4h0M393.5 351.0h0M396.9 351.9h0M431.0 345.5h0M431.0 347.1h0M409.5 361.6h0M396.9 354.5h0M400.8 359.5h0M449.4 329.2h0M448.4 330.3h0M451.4 338.3h0M453.0 341.4h0M453.5 343.0h0M453.0 339.0h0M466.1 331.1h0M471.3 338.6h0M461.8 349.6h0M461.3 350.7h0M467.6 346.0h0M456.6 345.1h0M444.7 326.4h0M441.9 327.0h0M444.8 327.3h0M434.5 344.2h0M439.6 344.7h0M452.3 345.8h0M464.0 316.6h0M462.6 321.6h0M485.6 331.9h0M483.8 331.8h0M480.4 332.7h0M475.9 333.0h0M472.3 333.0h0M480.7 355.6h0M477.9 352.1h0M491.7 336.6h0M478.7 375.6h0M481.1 373.3h0M486.6 367.8h0M481.3 371.8h0M471.3 374.7h0M460.7 361.8h0M459.3 359.7h0M461.7 365.1h0M453.1 360.1h0M502.9 391.9h0M501.3 391.5h0M498.5 389.6h0M496.1 388.9h0M493.0 387.8h0M479.1 382.4h0M476.7 381.7h0M490.0 389.0h0M502.6 391.6h0M502.3 396.3h0M499.0 400.8h0M485.6 402.8h0M481.4 397.6h0M479.8 384.4h0M481.6 386.5h0M485.0 396.6h0M474.8 378.4h0M499.8 367.9h0M496.6 366.2h0M490.6 366.1h0M488.7 365.5h0M505.6 390.7h0M504.7 386.6h0M402.3 364.2h0M400.4 366.8h0M400.8 365.9h0M430.3 374.2h0M422.5 385.0h0M421.8 384.6h0M421.5 383.6h0M414.9 381.4h0M413.2 382.5h0M411.8 380.1h0M409.8 380.1h0M404.5 377.6h0M414.9 385.4h0M410.0 382.8h0M403.8 377.2h0M519.5 312.9h0M505.9 315.7h0M507.4 317.7h0M504.3 320.5h0M504.1 328.1h0M517.5 335.9h0M512.9 340.1h0M500.1 313.4h0M536.1 336.2h0M495.8 335.3h0M500.7 413.1h0M498.7 419.0h0M514.9 430.9h0M509.9 431.8h0M529.3 404.3h0M524.6 407.4h0M528.6 404.4h0M476.8 413.8h0M483.7 407.3h0M483.2 404.7h0M482.1 419.7h0M493.9 418.3h0M494.6 416.9h0M497.2 417.0h0M488.5 456.2h0M487.1 449.8h0M485.9 448.4h0M482.4 437.4h0M480.6 431.0h0M481.4 421.6h0M485.6 443.3h0M480.3 420.2h0M497.9 442.7h0M442.6 427.2h0M420.4 419.3h0M423.9 416.8h0M424.6 413.9h0M430.0 408.4h0M430.9 405.7h0M440.2 408.8h0M441.1 408.2h0M441.7 408.9h0M442.4 411.4h0M444.6 413.3h0M467.4 421.5h0M466.1 423.9h0M464.3 423.2h0M386.4 390.1h0M390.7 390.7h0M396.7 392.3h0M393.8 412.4h0M400.5 407.1h0M402.8 402.2h0M386.1 377.6h0M385.4 379.1h0M377.3 388.1h0M403.3 373.3h0M402.7 376.6h0M399.2 387.2h0M398.3 392.3h0M428.9 405.4h0M426.3 398.8h0M425.3 398.5h0M451.1 403.8h0M448.8 402.4h0M460.4 404.6h0M464.2 405.9h0M464.8 402.6h0M466.0 396.8h0M467.1 386.6h0M469.5 382.7h0M446.4 391.6h0M458.5 384.5h0M463.4 381.4h0M450.7 384.2h0M449.7 384.5h0M449.6 385.7h0M448.7 386.1h0M444.7 404.2h0M445.1 402.2h0M470.0 411.0h0M473.5 380.8h0M535.9 340.7h0M531.1 360.6h0M504.8 313.2h0M509.6 312.8h0M418.0 419.1h0M422.0 419.6h0M405.5 357.6h0M397.3 393.5h0M394.8 394.4h0M400.4 392.0h0M391.3 322.7h0M388.8 319.6h0M468.7 347.2h0M503.5 399.0h0M449.6 425.1h0M448.9 421.2h0M445.2 423.5h0M446.5 426.8h0M410.3 334.8h0M409.7 329.4h0M406.8 333.3h0M472.6 383.7h0M473.4 385.6h0M385.6 417.7h0M383.3 419.0h0M390.4 419.1h0M391.7 419.0h0M469.4 414.8h0M468.4 415.1h0M439.3 407.7h0M440.7 407.9h0M442.5 406.3h0M527.9 382.9h0M530.9 354.4h0M534.7 356.4h0M528.2 354.4h0M526.4 358.2h0M464.5 321.3h0M459.4 326.1h0M514.6 346.8h0M514.5 346.2h0M511.7 346.1h0M511.4 346.2h0M476.6 381.1h0M475.6 378.5h0M450.8 326.9h0M448.5 324.5h0M502.8 366.6h0M523.0 373.0h0M420.3 382.9h0M464.6 305.3h0M431.2 349.4h0M431.4 345.6h0M431.7 346.1h0M448.0 361.5h0M446.9 363.4h0M408.0 306.2h0M401.5 305.4h0M420.9 433.2h0M416.4 439.3h0M416.3 436.8h0M421.8 438.6h0M419.4 440.3h0M489.4 318.9h0M483.8 417.9h0M478.4 417.8h0M467.8 309.1h0M526.2 390.3h0M526.9 386.6h0M526.9 406.0h0M530.7 406.6h0M531.9 403.4h0M441.2 433.2h0M440.2 430.4h0M427.4 370.5h0M526.0 303.7h0M523.4 306.2h0M514.3 342.9h0M385.9 422.3h0M384.3 421.1h0" stroke="#80CC32" stroke-width="2.5" stroke-linecap="round" filter="url(#gb)"/></g>
<defs><radialGradient id="bg13" cx="0.55" cy="0.55" r="0.8"><stop offset="0" stop-color="#A0A59C"/><stop offset="0.6" stop-color="#888D84"/><stop offset="1" stop-color="#5E625B"/></radialGradient></defs><rect x="270" y="441.5" width="123.49999999999999" height="124.89999999999996" fill="url(#bg13)"/><clipPath id="clip13"><rect x="270" y="441.5" width="123.49999999999999" height="124.89999999999996"/></clipPath><g clip-path="url(#clip13)"><path d="M407.9 532.1L398.4 550.2M258.8 432.0L250.0 439.5M398.4 550.2L379.3 542.5M344.7 545.0L333.4 548.1M270.0 431.5L275.0 429.3M250.0 439.5L257.5 458.6M346.5 456.1L357.7 450.9M346.5 456.1L338.5 439.5M351.9 435.2L341.0 431.5M362.9 452.1L369.8 442.6M367.9 431.7L351.9 435.2M327.3 520.3L329.0 509.6M329.0 509.6L348.3 511.1M356.3 539.2L358.8 527.7M270.0 431.5L269.2 455.7M269.2 455.7L262.6 460.4M291.8 448.1L287.0 454.4M339.2 427.0L341.0 431.5M321.0 453.0L310.8 443.4M335.0 468.9L321.8 457.2M329.0 509.6L323.3 500.7M323.3 500.7L305.8 507.0M368.1 431.4L358.3 369.2M395.7 434.8L393.0 443.4M392.6 475.4L393.8 478.6M306.3 527.9L306.0 528.4M260.8 524.6L262.5 524.1M260.8 524.6L256.8 541.6M256.8 541.6L273.6 546.2M283.5 536.9L280.5 531.0M285.4 511.0L272.3 509.8M291.1 539.7L283.5 536.9M269.7 480.6L269.8 480.0M307.3 469.6L307.9 469.5M307.9 469.5L326.5 487.4M321.8 457.2L307.9 469.5M335.0 468.9L326.5 487.4M326.2 490.1L343.4 492.3M348.3 511.1L353.5 505.2M379.3 542.5L381.4 528.8M411.3 495.9L399.1 509.8M381.4 528.8L371.3 520.1M285.5 492.0L286.5 509.9M286.5 509.9L304.9 506.5M299.3 484.0L296.6 488.5M375.2 468.5L370.1 484.2M371.3 520.1L370.4 506.8M399.1 509.8L377.3 503.0" fill="none" stroke="#9BE040" stroke-width="0.6" stroke-opacity="0.3"/><path d="M256.9 431.5h0M255.4 435.0h0M254.2 437.1h0M391.4 548.4h0M391.0 547.2h0M388.7 545.2h0M386.5 543.2h0M384.3 543.7h0M376.6 544.0h0M377.8 541.9h0M344.4 545.6h0M315.0 546.9h0M315.9 545.1h0M318.5 545.6h0M269.8 429.6h0M272.2 431.1h0M320.6 422.7h0M320.8 419.9h0M318.6 416.1h0M316.5 414.0h0M316.3 411.4h0M309.2 399.1h0M308.1 394.9h0M307.5 394.2h0M307.6 392.3h0M307.4 391.5h0M306.6 390.0h0M306.2 389.2h0M305.5 388.5h0M305.8 387.5h0M305.2 386.8h0M347.6 540.9h0M349.2 539.2h0M352.2 541.1h0M253.6 447.2h0M254.3 450.0h0M256.1 452.3h0M241.1 466.3h0M239.4 466.9h0M233.3 470.2h0M232.3 472.0h0M229.8 472.9h0M228.4 473.8h0M222.6 475.9h0M217.2 480.6h0M351.8 454.0h0M355.6 452.1h0M355.4 448.6h0M354.4 446.0h0M355.3 444.7h0M356.2 440.4h0M348.0 433.3h0M345.9 433.6h0M344.8 433.8h0M344.2 432.6h0M343.2 432.5h0M363.2 432.9h0M361.2 433.7h0M329.9 524.3h0M326.9 521.0h0M331.8 526.5h0M332.3 527.6h0M333.2 528.1h0M336.4 530.2h0M329.9 516.4h0M329.7 514.4h0M328.7 513.2h0M349.4 513.2h0M347.1 517.5h0M343.7 540.1h0M343.9 538.9h0M344.8 537.3h0M343.0 537.1h0M342.6 536.2h0M340.8 536.0h0M339.7 535.4h0M340.0 534.1h0M356.7 537.6h0M358.2 535.7h0M357.9 534.5h0M268.3 439.8h0M269.1 441.7h0M267.8 443.4h0M267.7 445.2h0M267.1 447.0h0M287.6 440.9h0M285.4 437.5h0M336.0 440.9h0M335.1 443.0h0M331.2 447.3h0M308.0 445.6h0M300.6 446.6h0M306.6 523.9h0M306.2 518.3h0M307.2 517.4h0M307.2 513.7h0M306.9 512.8h0M305.7 511.0h0M306.3 510.0h0M327.6 507.9h0M326.9 507.1h0M324.9 505.7h0M325.2 501.6h0M314.6 501.7h0M314.2 503.1h0M311.0 505.0h0M395.3 435.2h0M392.7 435.5h0M392.3 433.9h0M391.4 433.3h0M400.2 471.4h0M400.0 469.8h0M402.1 469.4h0M403.7 465.5h0M403.9 464.3h0M381.7 464.5h0M384.0 463.1h0M386.7 459.8h0M385.6 458.4h0M391.2 445.7h0M391.5 447.5h0M364.6 469.9h0M362.3 469.2h0M361.2 469.2h0M358.4 470.3h0M394.2 478.3h0M410.1 495.8h0M410.1 494.6h0M407.0 490.0h0M403.1 486.2h0M399.6 482.1h0M307.2 533.5h0M278.6 542.0h0M268.6 514.1h0M264.2 520.9h0M263.8 521.7h0M263.7 523.8h0M262.5 524.1h0M286.4 511.3h0M287.2 513.2h0M286.8 514.2h0M286.1 516.4h0M308.5 472.2h0M309.3 474.0h0M311.8 475.3h0M313.1 475.3h0M316.2 477.2h0M324.8 489.5h0M332.1 477.9h0M329.5 480.7h0M328.4 483.2h0M327.2 484.7h0M352.5 475.8h0M353.0 481.1h0M329.2 490.5h0M330.0 490.9h0M331.0 490.2h0M333.6 491.3h0M335.3 492.3h0M349.2 508.7h0M347.3 495.8h0M348.9 498.2h0M350.5 499.3h0M405.1 526.7h0M404.0 526.4h0M403.0 523.6h0M402.2 523.0h0M398.3 521.3h0M398.0 520.4h0M276.1 488.6h0M277.7 487.4h0M279.9 487.7h0M282.8 491.5h0M360.4 494.8h0M359.1 496.8h0M360.2 497.8h0M361.4 500.8h0M379.3 498.4h0M372.7 470.4h0M373.3 471.6h0M373.0 479.7h0M371.8 480.3h0M388.0 484.5h0M388.1 487.0h0M383.7 492.9h0M382.8 493.3h0M379.3 496.3h0M355.2 502.1h0M357.3 502.3h0M359.8 503.5h0M360.7 503.1h0M371.0 519.8h0M370.9 518.8h0M371.3 516.8h0M371.3 514.8h0M394.2 510.5h0M393.2 510.6h0M390.2 507.5h0M389.9 505.5h0M384.3 504.7h0M347.9 557.0h0M354.0 555.1h0M298.9 457.3h0M298.1 457.9h0M296.1 454.8h0M297.8 457.3h0M295.8 541.4h0M298.2 539.4h0M284.4 491.1h0M283.9 489.6h0M284.5 491.1h0M290.4 531.0h0M292.1 529.4h0M291.1 528.3h0M373.6 473.3h0M372.0 472.5h0M369.7 475.9h0M369.8 475.2h0M324.7 480.0h0M326.6 480.5h0M324.7 480.3h0M293.7 542.2h0M296.8 539.4h0M296.0 541.8h0M293.3 540.3h0M305.4 503.6h0M308.0 506.5h0M351.0 470.7h0M349.2 472.5h0M373.8 444.9h0M372.8 444.3h0M379.5 470.2h0M340.5 523.7h0M339.5 523.5h0M366.2 554.9h0M328.8 472.6h0M329.8 472.6h0M330.0 471.3h0M327.6 470.6h0M327.4 472.9h0M272.6 494.7h0M328.1 499.6h0M320.9 521.6h0M317.6 520.3h0M286.7 499.3h0M288.0 496.8h0M287.9 497.5h0M289.0 497.4h0M288.6 495.5h0M377.9 562.9h0M381.0 564.7h0M380.6 566.2h0M367.0 486.2h0M367.6 488.6h0M282.9 538.2h0M285.8 538.3h0M283.0 536.0h0M319.9 554.1h0M342.7 501.6h0M343.6 501.6h0M345.1 501.8h0M366.3 501.2h0M367.1 503.1h0M366.4 502.2h0M305.1 454.5h0M305.4 454.4h0M306.0 452.5h0M306.0 453.5h0M306.4 452.0h0M299.1 461.2h0M299.9 456.3h0M299.0 461.7h0M300.7 458.9h0" stroke="#D4FF74" stroke-width="1.2" stroke-linecap="round" filter="url(#gb)"/><path d="M255.4 436.8h0M386.6 545.4h0M373.5 547.0h0M375.0 545.5h0M376.9 542.4h0M319.9 546.0h0M273.9 431.2h0M320.2 421.9h0M319.0 418.7h0M318.2 417.1h0M317.4 415.6h0M314.1 409.4h0M313.2 408.7h0M313.7 406.8h0M313.8 405.8h0M312.9 405.2h0M312.4 404.4h0M310.7 403.2h0M309.3 401.8h0M310.9 400.4h0M310.9 399.5h0M309.4 396.3h0M308.3 395.8h0M304.9 386.0h0M346.8 541.7h0M348.7 541.0h0M252.2 446.7h0M252.8 448.5h0M254.7 451.8h0M256.0 453.4h0M244.7 463.8h0M243.8 465.8h0M242.4 465.1h0M238.2 466.4h0M238.2 468.2h0M236.6 467.1h0M236.1 468.0h0M234.4 470.4h0M232.5 470.4h0M230.9 471.2h0M228.7 472.6h0M226.3 473.6h0M226.0 474.9h0M225.2 475.2h0M224.6 475.9h0M221.2 478.8h0M219.6 479.5h0M218.9 480.0h0M350.8 454.2h0M352.7 453.3h0M353.3 452.0h0M354.7 452.6h0M356.6 451.6h0M355.7 451.4h0M356.0 450.4h0M355.4 449.6h0M355.5 447.6h0M355.5 446.6h0M354.9 443.9h0M355.7 442.6h0M355.9 439.5h0M348.7 434.4h0M347.2 432.7h0M337.5 437.0h0M341.0 434.5h0M364.4 433.5h0M362.4 434.2h0M360.4 434.8h0M358.7 432.1h0M357.9 433.4h0M331.6 524.7h0M328.4 517.2h0M327.4 511.9h0M334.8 512.0h0M335.9 510.8h0M336.8 511.7h0M337.8 511.5h0M338.8 511.5h0M340.8 510.6h0M341.8 510.7h0M342.9 509.2h0M343.8 509.2h0M348.2 516.0h0M346.2 540.0h0M359.8 532.7h0M357.6 531.1h0M357.1 524.8h0M355.9 524.6h0M356.0 523.2h0M353.2 523.2h0M352.2 521.7h0M351.4 521.1h0M350.0 521.1h0M270.5 435.4h0M271.0 436.3h0M270.7 437.2h0M270.6 439.0h0M270.0 440.8h0M267.1 444.3h0M289.4 453.1h0M290.1 444.2h0M288.9 443.8h0M288.1 443.0h0M288.1 441.8h0M286.9 439.0h0M338.8 429.7h0M339.5 430.7h0M340.3 431.6h0M335.4 441.8h0M335.0 444.3h0M333.8 446.0h0M332.9 446.4h0M340.9 470.1h0M309.5 444.5h0M308.8 445.2h0M305.9 444.9h0M305.2 445.9h0M304.4 446.3h0M301.5 446.2h0M299.7 446.6h0M305.1 524.8h0M306.6 522.0h0M306.8 519.3h0M306.7 516.5h0M307.9 514.6h0M326.2 506.2h0M324.3 503.5h0M321.9 500.5h0M321.5 502.0h0M319.8 499.9h0M319.1 500.7h0M313.5 504.0h0M311.8 504.7h0M310.0 504.9h0M394.2 435.0h0M390.4 432.9h0M403.5 466.7h0M404.2 463.2h0M405.0 462.8h0M383.5 464.0h0M385.1 462.4h0M386.0 460.6h0M391.5 449.1h0M387.1 447.8h0M344.1 467.2h0M345.5 467.0h0M346.0 468.6h0M347.7 470.2h0M360.6 470.6h0M359.3 469.6h0M357.5 470.8h0M392.8 476.3h0M409.0 494.4h0M409.1 492.9h0M405.5 488.9h0M404.6 487.2h0M403.4 487.1h0M402.7 485.3h0M401.8 483.7h0M399.1 483.8h0M398.3 482.1h0M305.3 532.1h0M280.0 542.0h0M280.1 540.6h0M280.0 539.0h0M280.8 537.0h0M281.6 536.3h0M270.3 513.1h0M269.0 513.2h0M267.5 514.4h0M267.1 516.3h0M265.3 518.3h0M265.4 520.6h0M264.2 523.1h0M286.7 512.2h0M290.2 541.2h0M289.3 540.1h0M288.8 538.0h0M287.6 537.6h0M306.9 471.3h0M307.9 471.6h0M314.4 477.8h0M316.4 478.4h0M317.7 478.3h0M319.5 477.8h0M319.6 478.9h0M320.1 481.1h0M322.5 479.9h0M322.0 481.7h0M325.7 491.1h0M318.4 460.7h0M317.7 461.3h0M315.0 462.5h0M313.2 463.3h0M311.7 463.0h0M333.4 474.4h0M333.6 475.5h0M333.8 476.6h0M326.4 486.4h0M325.5 487.0h0M352.2 473.7h0M353.8 478.9h0M327.4 490.0h0M328.3 489.8h0M331.8 491.3h0M336.1 492.6h0M337.1 492.0h0M340.5 493.2h0M348.1 509.2h0M349.8 506.3h0M345.4 494.9h0M346.0 495.6h0M347.2 497.1h0M347.7 497.9h0M351.5 499.8h0M405.2 529.0h0M404.8 528.2h0M403.1 524.7h0M399.9 522.4h0M398.3 522.5h0M377.7 527.2h0M378.2 525.0h0M376.9 525.1h0M375.0 521.3h0M280.6 488.6h0M281.4 489.5h0M282.6 489.4h0M305.6 507.0h0M304.4 508.2h0M360.7 499.8h0M377.6 499.7h0M372.6 472.4h0M374.7 475.1h0M374.6 476.1h0M373.6 477.9h0M354.9 485.8h0M356.5 485.9h0M387.5 487.7h0M387.0 488.5h0M386.2 489.0h0M384.9 489.0h0M385.4 490.8h0M385.0 491.6h0M381.6 494.7h0M354.6 503.6h0M370.5 517.9h0M370.3 515.9h0M370.7 511.8h0M371.8 510.8h0M395.6 509.0h0M392.7 508.9h0M388.7 506.3h0M386.1 505.3h0M385.7 503.4h0M350.0 555.7h0M296.4 456.9h0M294.6 539.4h0M296.2 540.8h0M282.9 488.7h0M284.6 491.0h0M284.8 488.3h0M295.2 528.6h0M293.8 530.6h0M291.7 529.6h0M294.7 528.0h0M387.3 512.7h0M386.6 512.3h0M385.1 512.5h0M385.6 511.5h0M372.4 472.5h0M372.8 473.9h0M369.8 472.1h0M370.2 473.1h0M324.6 478.0h0M323.1 478.3h0M324.4 476.6h0M326.6 478.8h0M295.1 540.7h0M294.8 542.4h0M293.8 540.6h0M296.5 541.8h0M295.2 543.1h0M296.4 539.1h0M294.2 542.5h0M294.1 542.7h0M308.7 504.0h0M306.4 504.9h0M350.4 473.2h0M349.5 468.8h0M349.8 471.5h0M347.9 472.3h0M350.1 471.4h0M374.5 446.0h0M372.7 444.5h0M371.7 444.3h0M371.7 445.3h0M371.4 443.7h0M370.7 446.6h0M372.5 442.9h0M370.2 445.2h0M372.1 443.7h0M372.9 446.1h0M377.9 472.3h0M378.7 469.8h0M379.0 470.9h0M378.3 473.5h0M377.5 474.0h0M378.5 471.7h0M381.3 470.8h0M376.0 472.6h0M339.2 525.5h0M340.8 523.6h0M364.5 555.8h0M366.0 554.1h0M367.6 553.9h0M364.8 553.0h0M364.9 554.9h0M365.7 553.3h0M328.3 472.9h0M328.2 471.6h0M328.1 471.6h0M329.3 473.1h0M327.1 471.4h0M272.3 495.9h0M274.0 496.6h0M272.1 497.1h0M326.4 501.0h0M326.1 498.6h0M326.0 499.1h0M327.9 500.7h0M325.8 501.0h0M317.8 520.0h0M319.2 517.9h0M284.2 496.8h0M288.8 497.7h0M377.0 563.1h0M380.8 565.0h0M378.6 565.5h0M365.3 487.9h0M366.4 486.4h0M367.7 487.7h0M367.1 487.1h0M365.5 486.5h0M365.8 488.9h0M367.2 487.6h0M280.8 537.0h0M283.6 536.2h0M282.9 536.4h0M320.7 556.3h0M318.9 556.0h0M320.5 554.1h0M319.4 553.0h0M321.8 557.6h0M344.1 506.1h0M347.4 504.5h0M347.1 505.1h0M344.3 504.9h0M368.1 499.3h0M366.2 500.8h0M368.0 500.2h0M367.9 502.0h0M370.4 503.4h0M367.4 499.2h0M368.2 500.8h0M306.3 454.5h0M302.7 452.9h0M306.8 455.1h0M305.4 453.9h0M297.4 457.4h0M296.0 460.4h0M297.0 458.2h0M301.5 460.3h0" stroke="#B2F24C" stroke-width="1.6" stroke-linecap="round" filter="url(#gb)"/><path d="M256.3 432.6h0M255.8 433.8h0M389.8 547.6h0M387.7 545.2h0M385.4 543.5h0M376.1 545.3h0M342.1 545.4h0M341.1 545.9h0M340.0 546.1h0M320.1 423.8h0M319.4 419.4h0M317.1 414.7h0M316.8 413.0h0M314.8 412.8h0M316.5 410.4h0M314.1 410.2h0M313.7 407.7h0M310.6 404.1h0M308.7 398.4h0M309.1 397.3h0M346.1 543.0h0M350.6 539.9h0M353.3 541.1h0M252.1 445.8h0M253.8 449.1h0M254.0 451.1h0M244.6 465.4h0M242.0 466.2h0M240.2 466.6h0M235.7 469.2h0M234.7 469.1h0M230.2 471.8h0M227.8 474.6h0M224.2 477.1h0M220.4 479.2h0M349.5 453.9h0M356.2 441.4h0M342.0 433.3h0M338.9 436.2h0M341.1 433.4h0M340.7 432.0h0M330.6 522.6h0M330.7 521.4h0M334.6 527.3h0M334.4 530.0h0M335.6 529.7h0M329.0 515.3h0M339.8 511.1h0M348.5 514.7h0M357.4 536.6h0M358.5 533.5h0M357.5 525.6h0M353.0 524.7h0M351.7 523.4h0M271.2 433.6h0M268.7 438.0h0M268.5 442.5h0M291.5 452.7h0M287.0 440.1h0M336.3 439.9h0M331.6 446.3h0M329.7 446.9h0M342.1 469.1h0M338.9 467.4h0M307.2 446.1h0M303.2 445.7h0M302.1 445.2h0M324.8 504.5h0M309.7 506.8h0M400.8 469.2h0M403.0 467.5h0M389.8 449.0h0M363.6 470.0h0M408.3 492.5h0M408.0 491.5h0M406.7 491.5h0M406.0 489.7h0M401.7 485.0h0M400.6 483.6h0M304.6 530.9h0M305.2 529.9h0M278.6 543.4h0M280.2 537.8h0M267.2 515.3h0M266.4 516.9h0M264.8 519.1h0M286.5 515.3h0M309.8 472.2h0M310.3 474.3h0M314.1 475.6h0M314.7 476.3h0M316.1 460.9h0M313.9 462.7h0M311.2 465.3h0M310.5 465.9h0M330.9 478.3h0M330.6 479.2h0M330.2 480.0h0M328.8 481.4h0M328.7 482.4h0M327.4 485.8h0M352.0 474.8h0M354.1 477.8h0M354.0 480.0h0M332.6 491.8h0M334.4 492.2h0M337.8 493.6h0M338.8 492.8h0M339.6 493.5h0M350.4 505.4h0M352.1 505.4h0M349.8 498.7h0M350.2 502.0h0M403.9 525.2h0M376.3 524.3h0M376.1 521.6h0M278.5 488.2h0M360.0 495.8h0M357.9 498.8h0M373.9 469.7h0M374.3 474.0h0M373.8 476.9h0M353.9 481.5h0M353.5 483.7h0M354.5 484.4h0M386.7 484.5h0M384.6 492.5h0M382.3 494.1h0M381.1 495.5h0M379.8 495.6h0M356.6 503.1h0M358.3 502.0h0M371.2 513.8h0M391.9 508.5h0M391.2 507.6h0M387.9 505.8h0M387.2 504.8h0M350.2 557.1h0M349.6 557.6h0M348.3 557.2h0M299.1 457.4h0M295.7 456.8h0M296.9 455.9h0M298.2 456.8h0M284.9 487.4h0M282.0 488.9h0M294.7 531.4h0M294.2 529.5h0M386.8 511.5h0M384.5 513.5h0M386.5 511.4h0M369.2 472.2h0M373.1 475.3h0M372.9 473.4h0M325.5 476.8h0M325.1 479.8h0M324.9 476.6h0M324.6 477.6h0M295.4 541.0h0M296.6 542.2h0M305.4 504.1h0M307.9 503.0h0M350.7 471.1h0M351.9 472.0h0M369.7 446.3h0M381.7 472.6h0M381.1 470.5h0M376.7 470.7h0M378.3 471.0h0M340.1 526.2h0M341.5 525.7h0M330.0 472.4h0M327.7 472.2h0M326.8 470.7h0M271.0 493.1h0M274.0 497.4h0M273.7 498.1h0M327.7 501.6h0M326.4 501.5h0M320.2 520.1h0M318.5 520.3h0M317.9 521.0h0M286.8 494.5h0M284.5 498.8h0M283.9 496.1h0M380.6 566.3h0M367.4 486.1h0M367.1 488.1h0M280.6 539.3h0M281.4 538.5h0M284.9 539.9h0M284.2 536.0h0M284.0 540.5h0M280.6 539.5h0M343.3 505.8h0M343.3 505.4h0M302.4 453.7h0M303.3 453.8h0" stroke="#96E23A" stroke-width="2.0" stroke-linecap="round" filter="url(#gb)"/><path d="M389.4 546.1h0M374.1 545.9h0M343.0 544.4h0M317.2 545.1h0M319.0 421.4h0M318.8 417.8h0M311.1 402.1h0M307.2 393.4h0M306.4 390.9h0M256.4 454.2h0M221.8 476.3h0M222.0 478.4h0M218.0 480.2h0M339.2 435.1h0M329.2 521.0h0M333.9 511.9h0M344.8 509.3h0M350.1 519.8h0M271.6 434.5h0M267.8 446.1h0M289.9 449.4h0M287.4 437.5h0M339.8 428.1h0M334.7 445.6h0M304.8 523.0h0M306.6 521.1h0M306.4 520.2h0M307.1 515.6h0M306.9 511.9h0M322.9 500.4h0M318.4 501.5h0M317.5 501.5h0M316.7 502.1h0M316.1 503.0h0M312.6 504.0h0M389.6 432.0h0M402.5 468.3h0M380.5 466.2h0M381.1 465.4h0M384.6 461.2h0M346.9 469.2h0M405.2 487.9h0M277.7 544.0h0M282.5 535.9h0M266.5 518.1h0M285.6 517.5h0M311.7 474.2h0M320.5 479.3h0M319.6 460.6h0M314.9 461.0h0M311.1 463.7h0M334.2 473.8h0M331.9 476.8h0M327.4 483.8h0M354.5 476.7h0M348.5 506.6h0M400.3 523.3h0M375.5 523.7h0M378.4 496.7h0M373.3 478.8h0M370.4 512.9h0M383.4 504.5h0M349.7 551.3h0M350.9 553.4h0M295.3 539.5h0M295.6 540.0h0M296.0 529.9h0M369.1 473.0h0M372.6 476.0h0M326.4 477.1h0M325.4 477.7h0M325.6 478.9h0M349.9 468.2h0M349.4 471.4h0M379.5 470.0h0M340.8 524.4h0M269.1 494.2h0M271.7 496.2h0M319.4 521.7h0M320.6 521.8h0M284.3 498.8h0M380.7 563.9h0M368.4 486.6h0M367.9 488.7h0M282.1 539.1h0M281.6 539.1h0M369.3 501.6h0M305.3 451.7h0" stroke="#80CC32" stroke-width="2.5" stroke-linecap="round" filter="url(#gb)"/></g>
<defs><radialGradient id="bg14" cx="0.55" cy="0.55" r="0.8"><stop offset="0" stop-color="#A0A59C"/><stop offset="0.6" stop-color="#8A8F86"/><stop offset="1" stop-color="#696E66"/></radialGradient></defs><rect x="394.9" y="441.5" width="123.80000000000005" height="124.89999999999996" fill="url(#bg14)"/><clipPath id="clip14"><rect x="394.9" y="441.5" width="123.80000000000005" height="124.89999999999996"/></clipPath><g clip-path="url(#clip14)"><path d="M420.0 441.9L405.7 416.8M531.9 494.0L525.9 488.5M519.7 488.2L525.9 488.5M405.7 416.8L396.9 438.5M531.4 468.0L511.9 459.4M519.7 488.2L502.0 476.4M379.1 435.5L375.0 439.1M420.1 445.0L420.0 441.9M427.2 448.1L438.5 441.1M438.5 441.1L436.7 423.4M436.7 423.4L449.8 422.6M446.2 460.4L435.3 464.5M435.3 464.5L432.1 460.9M408.7 469.5L432.1 460.9M408.7 469.5L407.8 468.6M407.8 468.6L407.4 449.6M407.4 449.6L403.1 447.7M403.1 447.7L383.1 460.6M470.5 495.9L482.6 486.0M470.5 495.9L489.3 509.4M499.7 507.2L494.2 482.9M489.3 509.4L497.5 510.0M482.6 486.0L494.2 482.9M505.3 505.5L499.7 507.2M463.6 545.0L468.5 537.2M464.1 520.4L468.5 537.2M470.5 495.9L468.7 496.2M489.3 509.4L478.8 520.3M382.7 535.2L389.1 533.3M435.5 517.3L447.9 525.0M409.2 517.9L416.4 525.1M386.0 505.6L404.4 494.4M404.4 494.4L407.2 494.5M381.6 465.9L367.2 476.5M407.8 468.6L394.9 471.2M506.6 426.5L504.1 429.4M504.1 429.4L506.8 447.6M485.6 427.0L504.1 429.4M506.8 447.6L487.9 451.1M478.5 431.9L468.1 431.7M449.8 422.6L462.7 434.8M447.3 442.1L461.3 437.5M461.3 437.5L462.7 434.8M403.9 546.2L419.1 542.3M419.1 542.3L439.0 583.8M423.2 527.9L416.4 525.1M423.8 530.5L419.1 542.3M463.6 545.0L451.5 655.8M443.8 505.5L435.5 512.1M411.9 503.4L428.9 504.9M415.1 483.2L433.8 482.0M435.3 464.5L435.3 481.1M493.7 534.9L497.7 548.7M493.7 534.9L488.3 533.9M489.2 569.0L497.7 548.7M478.8 520.3L488.3 533.9M468.5 537.2L476.3 537.3M522.9 516.3L505.9 525.4M540.6 533.9L523.7 539.4M521.9 512.1L522.9 516.3M517.7 545.8L523.7 539.4M463.9 451.8L462.0 462.6M499.0 477.3L485.3 462.6M487.9 451.1L487.1 452.4M461.3 437.5L463.9 451.8M446.2 460.4L462.0 462.6" fill="none" stroke="#9BE040" stroke-width="0.6" stroke-opacity="0.3"/><path d="M428.4 422.9h0M427.7 424.6h0M426.6 429.0h0M425.3 430.4h0M425.8 432.6h0M422.2 434.0h0M426.7 415.6h0M428.0 411.8h0M424.0 409.0h0M419.8 402.2h0M419.1 399.6h0M418.7 398.8h0M415.1 436.4h0M414.0 435.0h0M414.4 433.7h0M412.0 429.9h0M411.6 429.0h0M529.1 493.3h0M513.6 506.8h0M515.2 508.3h0M516.6 510.4h0M523.5 488.1h0M525.2 487.2h0M404.8 422.3h0M402.6 424.2h0M400.7 425.4h0M400.4 426.2h0M399.0 426.6h0M399.4 427.7h0M519.5 460.1h0M517.4 460.4h0M515.2 460.8h0M507.9 481.4h0M509.5 466.4h0M508.5 468.1h0M508.6 469.2h0M506.6 471.4h0M502.1 474.3h0M424.5 446.8h0M425.2 447.6h0M418.6 443.2h0M433.9 421.3h0M435.8 444.2h0M436.7 443.9h0M437.4 441.1h0M438.7 441.4h0M437.0 440.3h0M438.8 435.4h0M439.6 433.4h0M439.7 431.6h0M438.6 430.7h0M441.0 421.5h0M446.3 453.2h0M445.9 452.3h0M446.0 451.4h0M446.5 448.6h0M446.6 446.7h0M441.7 463.5h0M439.4 463.5h0M438.5 464.2h0M441.7 441.9h0M443.9 441.7h0M446.2 441.8h0M447.2 442.5h0M415.1 447.0h0M412.9 446.8h0M410.0 447.7h0M409.2 448.3h0M408.3 448.8h0M407.3 449.2h0M411.8 467.5h0M417.7 466.9h0M408.7 466.8h0M409.6 465.8h0M409.9 464.8h0M409.4 463.8h0M406.5 447.8h0M375.8 441.1h0M375.6 448.1h0M376.8 448.6h0M376.7 449.6h0M394.7 452.2h0M392.4 453.5h0M385.3 459.1h0M477.3 489.7h0M478.3 487.9h0M475.0 502.1h0M497.9 495.5h0M496.7 491.9h0M492.9 509.2h0M486.1 486.7h0M487.9 485.5h0M502.2 507.1h0M500.6 505.9h0M499.5 506.6h0M464.3 543.0h0M465.1 540.6h0M452.3 538.7h0M447.3 530.9h0M468.9 530.9h0M470.2 521.6h0M471.2 520.6h0M472.3 520.2h0M473.4 520.3h0M462.4 512.6h0M387.1 507.5h0M392.1 512.8h0M391.6 528.5h0M393.9 526.6h0M395.8 525.5h0M396.5 523.8h0M396.3 522.6h0M429.6 536.5h0M436.4 518.8h0M437.6 520.6h0M439.9 520.6h0M442.4 522.1h0M444.2 522.9h0M434.2 519.2h0M434.0 520.4h0M432.8 520.4h0M431.7 520.7h0M430.5 522.1h0M426.3 524.5h0M406.0 518.2h0M402.1 520.1h0M399.9 520.2h0M415.7 520.6h0M394.7 536.8h0M398.1 538.8h0M399.3 538.8h0M399.9 539.7h0M392.2 501.6h0M396.6 499.7h0M396.8 498.1h0M398.4 497.1h0M411.5 515.7h0M410.9 514.6h0M410.1 513.4h0M409.9 512.3h0M410.4 511.4h0M410.0 509.2h0M410.4 502.9h0M386.2 466.7h0M387.9 468.0h0M389.2 470.0h0M390.1 470.6h0M374.4 470.3h0M373.2 471.8h0M395.4 481.2h0M394.7 479.1h0M393.7 474.8h0M394.6 473.7h0M405.7 469.4h0M402.9 471.5h0M400.6 470.5h0M403.6 493.5h0M404.1 491.2h0M400.8 491.6h0M411.8 488.6h0M410.9 493.7h0M409.9 495.2h0M515.8 427.9h0M516.7 428.7h0M521.5 427.6h0M525.3 426.6h0M505.0 427.5h0M504.5 438.3h0M505.0 441.0h0M508.8 442.3h0M508.3 445.1h0M529.3 430.5h0M529.1 431.5h0M529.2 432.6h0M529.7 433.7h0M479.6 430.7h0M450.2 441.6h0M450.9 440.8h0M455.3 439.0h0M463.3 437.4h0M403.9 545.3h0M404.7 544.4h0M405.8 545.0h0M410.5 545.1h0M411.5 545.3h0M413.1 544.0h0M336.9 1595.9h0M336.7 1598.4h0M337.5 1600.1h0M337.1 1600.9h0M337.5 1601.8h0M336.4 1605.1h0M336.7 1613.4h0M336.7 1616.8h0M334.7 1619.2h0M336.6 1621.0h0M336.2 1628.5h0M335.4 1629.2h0M336.3 1630.1h0M335.6 1630.9h0M334.8 1633.4h0M334.2 1634.2h0M334.8 1635.0h0M333.7 1642.5h0M334.6 1644.2h0M334.2 1645.0h0M334.2 1645.9h0M334.3 1646.7h0M334.3 1650.9h0M333.3 1653.3h0M331.6 1663.3h0M332.0 1666.6h0M332.1 1667.5h0M331.6 1678.3h0M332.0 1679.1h0M330.5 1686.6h0M331.3 1690.8h0M331.2 1693.3h0M330.6 1696.6h0M330.6 1700.8h0M329.7 1703.2h0M330.3 1704.1h0M330.9 1706.6h0M331.0 1707.5h0M329.9 1713.3h0M330.2 1715.0h0M330.0 1716.6h0M331.1 1717.5h0M329.1 1718.2h0M329.0 1720.7h0M331.0 1722.5h0M329.2 1724.9h0M328.7 1727.4h0M329.3 1731.6h0M328.7 1738.3h0M327.9 1745.7h0M328.3 1748.3h0M327.7 1755.7h0M327.9 1756.6h0M327.0 1757.4h0M326.8 1759.0h0M327.5 1764.1h0M325.8 1765.6h0M326.7 1766.5h0M327.2 1767.4h0M326.6 1768.2h0M327.0 1772.4h0M325.6 1774.0h0M325.5 1775.7h0M325.4 1776.5h0M326.6 1777.4h0M324.7 1784.8h0M324.6 1794.0h0M325.5 1794.9h0M323.4 1796.4h0M325.1 1799.0h0M324.7 1800.7h0M323.8 1801.4h0M323.3 1806.4h0M323.5 1807.3h0M323.7 1812.3h0M324.3 1813.2h0M324.4 1814.0h0M322.9 1816.4h0M323.0 1817.3h0M322.7 1818.1h0M322.4 1821.4h0M321.8 1830.6h0M321.7 1834.7h0M321.5 1835.6h0M321.8 1836.4h0M323.2 1837.3h0M320.9 1849.7h0M322.3 1852.3h0M321.8 1854.8h0M320.5 1868.1h0M320.2 1868.9h0M317.5 1882.1h0M318.5 1883.8h0M318.5 1886.3h0M318.8 1890.5h0M318.6 1895.5h0M319.2 1899.7h0M318.7 1901.4h0M318.6 1903.0h0M318.9 1905.6h0M317.9 1909.7h0M317.8 1910.5h0M317.0 1917.1h0M316.4 1919.6h0M315.9 1928.8h0M315.8 1932.1h0M316.0 1933.8h0M316.6 1940.5h0M316.3 1942.2h0M316.5 1943.0h0M316.0 1943.8h0M314.7 1947.1h0M315.2 1947.9h0M315.9 1949.7h0M314.8 1952.9h0M314.1 1957.9h0M314.6 1962.9h0M312.4 1967.8h0M314.7 1971.3h0M313.6 1978.7h0M314.1 1979.6h0M313.2 1982.1h0M314.1 1983.0h0M313.3 1985.4h0M312.9 1988.7h0M312.6 1998.7h0M311.3 1999.5h0M312.1 2002.0h0M312.5 2002.9h0M311.2 2005.3h0M311.6 2007.0h0M311.6 2007.9h0M311.4 2012.0h0M310.6 2012.8h0M311.1 2014.5h0M310.1 2017.0h0M311.0 2017.8h0M310.2 2019.5h0M310.9 2024.5h0M310.5 2029.5h0M310.9 2030.4h0M310.5 2031.2h0M310.6 2032.0h0M311.3 2033.7h0M309.9 2042.0h0M310.1 2046.2h0M308.5 2050.3h0M309.0 2057.8h0M308.1 2060.3h0M307.5 2062.7h0M308.0 2064.4h0M307.4 2066.1h0M308.9 2069.5h0M308.0 2073.6h0M307.5 2078.6h0M308.3 2079.5h0M306.8 2080.2h0M306.7 2081.1h0M307.7 2082.0h0M305.7 2086.9h0M306.7 2093.6h0M305.5 2101.0h0M305.9 2103.6h0M304.5 2105.2h0M306.3 2108.6h0M304.7 2115.2h0M305.3 2116.1h0M304.8 2116.9h0M305.5 2119.4h0M306.3 2122.0h0M303.5 2123.5h0M304.6 2124.4h0M305.5 2125.3h0M304.6 2129.4h0M303.6 2137.7h0M303.6 2139.4h0M302.8 2141.0h0M303.9 2141.9h0M303.1 2143.5h0M302.9 2151.8h0M304.1 2156.1h0M302.5 2156.8h0M301.6 2165.1h0M302.2 2166.0h0M302.0 2168.5h0M300.9 2170.1h0M301.6 2171.0h0M302.2 2174.4h0M302.2 2175.2h0M301.1 2178.5h0M301.0 2181.0h0M302.0 2184.4h0M302.0 2185.2h0M301.3 2189.3h0M300.2 2190.1h0M300.3 2190.9h0M300.2 2192.6h0M299.9 2195.1h0M300.5 2196.8h0M300.0 2200.1h0M299.4 2201.8h0M298.9 2205.9h0M298.0 2210.0h0M299.2 2211.8h0M299.5 2212.6h0M300.2 2214.3h0M298.1 2218.4h0M298.6 2220.1h0M299.7 2221.8h0M296.6 2227.5h0M297.7 2231.7h0M298.2 2232.6h0M297.8 2233.4h0M298.0 2234.2h0M297.2 2235.0h0M299.7 2236.0h0M297.9 2236.7h0M297.2 2240.0h0M297.4 2242.6h0M297.1 2243.4h0M298.0 2245.1h0M295.9 2252.5h0M297.0 2253.4h0M295.7 2254.2h0M297.0 2255.1h0M295.9 2265.0h0M295.5 2267.5h0M294.6 2268.3h0M294.9 2269.1h0M296.1 2272.6h0M294.4 2273.3h0M296.3 2274.2h0M295.4 2275.0h0M295.0 2280.8h0M294.7 2284.2h0M294.6 2290.8h0M294.2 2292.5h0M294.3 2294.2h0M293.5 2296.6h0M293.8 2300.8h0M294.9 2301.7h0M293.8 2302.5h0M293.3 2305.0h0M294.2 2305.9h0M292.0 2309.1h0M293.5 2310.0h0M292.6 2313.3h0M291.0 2316.5h0M292.5 2320.8h0M291.9 2329.1h0M292.2 2330.8h0M292.0 2336.6h0M291.2 2337.4h0M290.3 2338.2h0M291.5 2344.1h0M291.0 2349.9h0M290.7 2356.6h0M290.1 2357.4h0M290.4 2359.9h0M289.0 2361.5h0M289.9 2362.4h0M290.3 2366.6h0M289.7 2369.1h0M289.4 2371.6h0M289.3 2373.2h0M288.9 2374.9h0M288.7 2376.5h0M289.0 2377.4h0M289.8 2378.3h0M288.7 2384.0h0M287.7 2386.5h0M287.7 2392.3h0M287.9 2394.0h0M286.8 2394.8h0M287.1 2397.3h0M287.4 2399.0h0M287.3 2401.5h0M286.8 2407.3h0M287.8 2410.7h0M285.9 2411.4h0M286.4 2414.0h0M285.7 2417.3h0M287.1 2419.9h0M284.5 2420.5h0M285.5 2421.4h0M285.1 2423.9h0M286.0 2432.3h0M286.3 2433.2h0M285.0 2434.8h0M284.7 2439.8h0M284.9 2444.0h0M284.2 2445.6h0M284.3 2447.3h0M285.5 2450.7h0M283.6 2451.4h0M284.6 2452.3h0M283.3 2456.4h0M282.7 2457.2h0M284.3 2459.0h0M283.2 2462.2h0M283.5 2463.1h0M285.1 2464.0h0M282.2 2465.5h0M282.7 2469.7h0M283.3 2478.1h0M282.5 2478.9h0M282.7 2482.2h0M281.9 2483.9h0M282.1 2484.7h0M281.2 2485.5h0M282.1 2490.6h0M282.0 2493.1h0M281.0 2500.5h0M281.8 2501.4h0M281.0 2505.5h0M280.1 2507.1h0M280.7 2511.4h0M279.1 2527.1h0M280.0 2528.0h0M278.7 2532.1h0M277.9 2532.9h0M279.7 2533.9h0M278.2 2538.8h0M278.1 2541.3h0M279.6 2543.0h0M278.2 2544.6h0M278.9 2547.2h0M279.0 2550.5h0M277.7 2555.5h0M278.1 2557.1h0M277.3 2561.3h0M276.6 2562.9h0M277.2 2564.6h0M277.8 2567.2h0M277.2 2572.1h0M277.1 2576.3h0M277.5 2580.5h0M276.6 2582.1h0M275.2 2583.7h0M276.2 2585.4h0M275.8 2586.2h0M276.2 2588.8h0M276.2 2592.1h0M275.5 2592.9h0M275.4 2593.7h0M275.8 2596.3h0M275.5 2597.1h0M275.2 2600.4h0M275.2 2602.1h0M274.7 2604.6h0M275.1 2607.1h0M275.3 2607.9h0M274.4 2612.9h0M274.1 2613.7h0M273.9 2617.9h0M273.8 2618.7h0M274.4 2620.4h0M273.8 2622.9h0M273.2 2626.2h0M273.6 2627.9h0M272.1 2628.6h0M272.2 2630.3h0M273.2 2634.5h0M272.3 2637.0h0M272.8 2640.4h0M273.6 2642.9h0M271.9 2652.8h0M271.1 2663.6h0M271.8 2666.2h0M270.7 2667.0h0M271.3 2667.8h0M270.5 2668.6h0M271.4 2671.2h0M269.5 2676.9h0M269.9 2682.0h0M268.1 2690.2h0M270.0 2699.5h0M268.7 2703.6h0M267.7 2706.9h0M267.9 2707.7h0M268.2 2709.4h0M267.3 2710.2h0M267.8 2711.1h0M267.1 2716.9h0M267.1 2721.9h0M267.0 2727.7h0M267.3 2729.4h0M266.4 2731.0h0M266.2 2744.4h0M266.2 2746.9h0M266.2 2747.7h0M266.4 2749.4h0M264.4 2756.0h0M265.4 2757.7h0M265.9 2759.4h0M265.5 2762.7h0M265.0 2769.4h0M264.6 2773.5h0M263.8 2776.8h0M263.4 2781.8h0M264.2 2785.2h0M264.7 2789.4h0M262.6 2795.1h0M262.9 2797.6h0M263.5 2800.2h0M261.6 2804.2h0M262.3 2810.1h0M262.2 2813.5h0M262.4 2818.5h0M262.2 2819.3h0M261.2 2820.1h0M261.1 2821.8h0M262.1 2822.6h0M261.0 2832.6h0M260.1 2834.2h0M260.3 2835.9h0M260.6 2838.4h0M258.3 2840.8h0M259.0 2847.5h0M261.1 2850.2h0M258.8 2850.8h0M260.1 2853.4h0M258.1 2855.8h0M260.9 2857.7h0M258.2 2862.5h0M257.0 2867.4h0M258.3 2868.4h0M259.0 2869.2h0M256.7 2869.9h0M258.5 2871.7h0M258.2 2874.2h0M257.9 2875.9h0M258.7 2881.8h0M258.1 2884.2h0M257.4 2885.0h0M257.2 2890.0h0M256.5 2890.8h0M257.2 2892.5h0M255.9 2895.8h0M257.6 2898.4h0M254.9 2899.9h0M257.7 2900.9h0M256.6 2902.5h0M256.1 2904.1h0M256.0 2905.0h0M255.9 2914.2h0M254.6 2923.3h0M253.9 2925.7h0M254.5 2927.4h0M254.1 2929.1h0M253.9 2931.6h0M255.8 2932.5h0M254.6 2933.3h0M254.9 2935.0h0M254.2 2936.6h0M253.9 2939.1h0M253.1 2939.9h0M254.0 2940.8h0M253.5 2942.4h0M254.5 2948.3h0M254.1 2949.1h0M251.9 2953.2h0M253.3 2957.4h0M252.7 2958.2h0M252.6 2959.9h0M252.9 2963.3h0M250.9 2964.0h0M252.6 2965.7h0M252.5 2970.8h0M252.0 2974.1h0M250.8 2975.7h0M251.2 2979.9h0M250.9 2983.2h0M250.7 2988.2h0M249.6 2992.3h0M250.3 2998.2h0M249.3 3000.6h0M249.0 3008.1h0M249.7 3010.7h0M249.2 3012.3h0M249.2 3014.0h0M248.6 3015.6h0M249.0 3024.8h0M247.3 3027.2h0M249.2 3028.2h0M247.3 3028.9h0M247.0 3052.3h0M245.5 3054.7h0M246.9 3060.6h0M246.0 3062.2h0M246.7 3063.1h0M245.7 3064.7h0M246.2 3065.6h0M245.9 3067.2h0M245.5 3068.1h0M246.4 3069.8h0M245.2 3077.2h0M246.2 3079.0h0M245.3 3084.8h0M244.6 3085.5h0M244.2 3087.2h0M244.8 3089.7h0M244.4 3090.5h0M245.1 3091.4h0M244.1 3097.2h0M244.3 3098.9h0M243.8 3101.4h0M244.3 3104.7h0M243.1 3108.0h0M243.5 3110.5h0M243.8 3111.4h0M243.0 3113.9h0M243.4 3116.4h0M241.8 3118.8h0M243.7 3121.4h0M242.5 3123.0h0M242.4 3125.5h0M243.0 3128.1h0M241.8 3132.2h0M242.5 3137.2h0M241.9 3143.0h0M241.6 3148.0h0M240.7 3149.6h0M240.2 3158.8h0M239.8 3161.3h0M240.1 3168.0h0M239.6 3173.0h0M238.2 3176.2h0M238.5 3178.7h0M239.2 3183.8h0M239.1 3186.3h0M238.5 3191.3h0M236.7 3194.5h0M237.8 3196.2h0M237.8 3199.6h0M237.8 3201.2h0M236.2 3202.0h0M235.8 3203.6h0M235.8 3206.1h0M237.5 3210.4h0M236.8 3211.2h0M237.3 3213.7h0M236.6 3218.7h0M235.7 3222.0h0M235.6 3223.7h0M235.9 3224.5h0M235.9 3227.0h0M234.1 3229.4h0M235.0 3234.5h0M235.8 3236.2h0M235.0 3237.8h0M235.2 3242.0h0M235.4 3242.9h0M234.0 3243.6h0M234.5 3244.5h0M234.0 3248.6h0M234.3 3249.5h0M234.8 3250.3h0M233.9 3252.0h0M234.4 3259.5h0M234.2 3261.2h0M233.7 3262.8h0M234.1 3263.7h0M233.6 3268.7h0M232.5 3270.3h0M234.0 3273.7h0M233.1 3274.5h0M233.0 3278.6h0M233.0 3279.5h0M231.9 3281.1h0M231.5 3289.4h0M231.0 3291.0h0M231.3 3294.4h0M231.5 3295.3h0M231.4 3301.9h0M231.4 3304.4h0M230.8 3311.9h0M231.4 3315.3h0M229.8 3318.5h0M228.8 3319.3h0M229.0 3321.8h0M230.3 3322.7h0M229.6 3328.6h0M229.0 3330.2h0M229.5 3331.1h0M229.1 3331.9h0M229.7 3334.4h0M228.8 3336.0h0M228.5 3341.9h0M228.0 3345.2h0M229.3 3348.6h0M228.6 3350.2h0M227.2 3357.6h0M227.6 3363.5h0M225.7 3372.6h0M226.1 3373.4h0M227.1 3375.2h0M225.3 3378.4h0M226.9 3380.2h0M226.3 3382.6h0M225.3 3396.8h0M224.5 3398.4h0M224.9 3410.1h0M222.7 3410.8h0M223.6 3413.4h0M224.1 3415.1h0M223.4 3416.7h0M223.0 3421.7h0M224.3 3425.1h0M222.9 3426.7h0M222.4 3430.9h0M224.2 3431.8h0M222.6 3433.4h0M223.3 3434.3h0M221.9 3436.7h0M221.5 3440.8h0M221.8 3441.7h0M222.3 3443.4h0M221.5 3445.0h0M222.2 3448.4h0M221.5 3450.0h0M219.8 3452.4h0M221.5 3453.4h0M220.5 3460.0h0M220.5 3464.2h0M219.5 3466.6h0M220.9 3468.4h0M219.9 3471.6h0M220.2 3475.0h0M220.4 3475.8h0M219.2 3478.3h0M219.8 3480.8h0M219.2 3484.1h0M219.5 3490.0h0M218.9 3490.8h0M219.6 3493.3h0M219.2 3495.0h0M218.8 3504.1h0M219.2 3505.0h0M219.2 3508.4h0M217.7 3512.4h0M217.4 3514.9h0M218.0 3516.6h0M217.2 3518.3h0M217.2 3521.6h0M217.1 3523.3h0M216.9 3529.1h0M216.3 3533.2h0M216.3 3534.9h0M215.0 3536.5h0M215.3 3538.2h0M214.9 3539.8h0M216.5 3542.4h0M215.5 3544.9h0M216.1 3545.8h0M215.9 3551.6h0M214.6 3553.2h0M214.3 3559.0h0M214.3 3563.2h0M213.8 3565.7h0M213.7 3569.0h0M213.5 3571.5h0M213.6 3573.2h0M213.0 3578.1h0M213.9 3579.9h0M212.6 3581.5h0M214.8 3582.4h0M214.3 3584.9h0M212.6 3585.6h0M214.1 3586.6h0M213.1 3595.7h0M211.7 3596.4h0M212.1 3597.3h0M212.9 3599.9h0M211.3 3601.4h0M211.4 3603.1h0M211.5 3609.8h0M211.2 3610.6h0M211.1 3611.4h0M211.8 3613.2h0M210.1 3613.9h0M211.6 3621.5h0M210.3 3622.2h0M211.0 3623.1h0M209.0 3626.3h0M211.4 3627.3h0M210.1 3630.6h0M209.8 3632.2h0M209.5 3633.1h0M209.2 3638.9h0M210.3 3641.5h0M210.5 3642.3h0M208.8 3647.2h0M209.1 3650.6h0M209.1 3653.9h0M208.3 3657.2h0M207.4 3658.8h0M208.7 3662.2h0M206.8 3665.5h0M207.3 3668.0h0M207.1 3669.7h0M208.1 3670.6h0M208.4 3671.4h0M425.9 556.7h0M426.8 559.1h0M427.6 560.7h0M442.4 605.5h0M443.5 610.7h0M444.7 611.4h0M446.3 613.8h0M443.9 615.1h0M444.6 616.7h0M443.9 618.6h0M443.7 619.6h0M444.1 622.2h0M445.1 623.8h0M444.8 630.1h0M421.1 531.8h0M439.2 545.6h0M439.2 548.3h0M438.3 550.0h0M438.9 550.9h0M439.7 551.8h0M439.6 555.3h0M440.2 558.9h0M438.2 564.2h0M457.0 586.6h0M457.8 587.5h0M457.2 588.3h0M457.3 590.9h0M457.3 591.8h0M457.7 592.7h0M458.0 593.6h0M456.6 595.1h0M457.7 601.3h0M457.1 602.1h0M457.4 603.0h0M457.4 607.3h0M457.0 609.8h0M456.7 616.6h0M457.2 618.4h0M456.8 620.9h0M456.4 621.8h0M456.2 624.3h0M456.8 629.5h0M456.5 632.1h0M454.2 637.9h0M429.9 509.7h0M430.5 497.8h0M431.6 494.3h0M432.1 489.9h0M429.7 486.6h0M431.3 486.0h0M432.0 483.4h0M460.5 489.9h0M451.5 483.2h0M450.5 484.3h0M419.0 503.7h0M420.0 503.7h0M421.0 503.0h0M424.7 505.1h0M493.8 535.2h0M494.0 539.2h0M495.5 540.8h0M478.0 537.4h0M479.0 543.8h0M480.2 546.3h0M479.4 549.6h0M481.5 555.6h0M469.3 536.9h0M508.6 547.0h0M507.6 547.7h0M505.7 548.7h0M504.6 548.6h0M517.3 520.3h0M509.2 523.3h0M528.7 522.4h0M529.7 524.0h0M531.4 526.2h0M534.7 528.2h0M539.3 530.0h0M511.6 532.5h0M516.0 532.8h0M523.7 538.0h0M532.9 537.1h0M530.4 538.5h0M526.0 540.1h0M524.7 539.2h0M519.0 544.7h0M520.2 542.7h0M521.3 540.7h0M484.8 457.8h0M485.0 456.8h0M485.6 451.5h0M484.6 450.7h0M483.6 451.2h0M482.7 449.4h0M481.7 450.4h0M480.7 450.3h0M464.9 453.4h0M463.7 454.2h0M462.3 454.9h0M462.9 456.0h0M478.8 481.1h0M479.1 479.0h0M476.8 477.1h0M473.7 469.5h0M473.6 468.6h0M487.6 451.1h0M459.1 441.3h0M462.3 442.8h0M481.2 451.4h0M480.8 454.8h0M482.1 453.5h0M480.0 453.6h0M516.2 489.7h0M428.8 449.3h0M426.3 448.3h0M425.6 445.9h0M475.5 555.3h0M474.1 549.8h0M477.2 553.0h0M452.1 461.1h0M504.0 531.2h0M397.9 547.8h0M396.0 549.3h0M394.6 547.2h0M507.4 507.5h0M412.1 561.2h0M406.4 562.8h0M411.4 559.2h0M478.5 520.1h0M416.7 549.1h0M415.0 549.6h0M415.9 548.9h0M414.4 551.7h0M515.1 455.5h0M517.2 451.2h0M515.7 457.0h0M421.1 522.9h0M421.3 520.2h0M511.7 471.5h0M512.2 473.5h0M510.5 471.6h0M513.3 472.5h0M434.6 522.4h0M437.3 520.4h0M435.6 523.9h0M442.7 480.3h0M420.5 470.1h0M416.3 471.2h0M415.4 469.3h0M451.6 564.2h0M449.8 562.4h0M454.8 562.5h0M449.8 563.5h0M451.1 561.7h0M452.4 565.6h0M509.0 530.0h0M505.3 530.7h0M476.5 518.6h0M478.4 517.6h0M476.4 517.6h0M436.2 488.7h0M437.5 488.6h0M436.9 487.6h0M519.0 542.8h0M518.8 544.4h0M410.1 513.1h0M411.4 515.2h0M411.5 513.0h0M409.6 512.8h0M517.7 474.2h0M519.3 475.2h0M505.5 503.0h0M507.5 501.8h0M428.3 482.9h0M427.4 478.9h0M427.6 481.3h0M427.1 482.2h0M429.5 479.8h0M429.5 482.5h0M468.7 511.4h0M470.2 511.0h0M469.3 509.8h0" stroke="#D4FF74" stroke-width="1.2" stroke-linecap="round" filter="url(#gb)"/><path d="M428.9 421.2h0M429.3 422.3h0M427.2 425.4h0M427.8 427.5h0M427.1 428.2h0M425.7 431.5h0M427.2 417.3h0M428.0 415.9h0M427.4 414.2h0M426.4 413.7h0M424.2 410.9h0M422.0 406.0h0M421.9 405.1h0M421.2 404.5h0M421.1 403.5h0M418.8 400.7h0M417.7 396.3h0M418.0 395.1h0M416.9 394.7h0M418.0 440.0h0M417.7 439.1h0M415.7 438.2h0M414.5 437.8h0M413.0 433.4h0M412.8 432.5h0M412.1 431.9h0M411.5 428.0h0M411.7 426.9h0M410.7 426.4h0M410.3 425.6h0M409.5 421.9h0M509.2 507.1h0M511.6 506.4h0M516.2 508.7h0M521.8 490.6h0M406.0 419.9h0M406.2 420.9h0M403.9 423.8h0M398.7 430.3h0M524.6 464.2h0M523.1 463.1h0M519.9 461.4h0M516.9 459.3h0M514.7 459.9h0M513.8 459.5h0M513.5 457.9h0M512.1 458.8h0M512.3 483.4h0M510.6 484.2h0M508.9 483.3h0M504.8 472.5h0M505.5 474.0h0M500.9 475.8h0M376.4 437.8h0M424.0 445.2h0M421.5 444.2h0M432.7 419.0h0M433.6 419.7h0M434.3 422.7h0M432.9 447.2h0M433.7 446.5h0M434.6 446.0h0M435.1 445.1h0M437.1 442.6h0M437.9 439.3h0M437.4 438.4h0M437.8 436.5h0M438.4 434.5h0M438.1 429.8h0M438.8 428.8h0M438.8 423.3h0M443.3 421.9h0M446.4 455.1h0M445.7 449.5h0M442.7 463.2h0M445.1 441.2h0M414.3 447.8h0M412.8 467.4h0M415.7 467.0h0M418.2 465.4h0M420.7 463.9h0M408.3 459.9h0M376.4 441.9h0M375.7 443.1h0M376.4 443.8h0M376.3 445.8h0M378.5 449.9h0M393.6 452.1h0M393.7 454.0h0M389.5 454.0h0M388.7 456.1h0M387.9 456.4h0M387.4 457.4h0M386.4 457.4h0M385.6 457.8h0M383.8 460.1h0M383.4 461.1h0M473.5 492.8h0M474.0 491.8h0M475.4 488.8h0M477.9 488.8h0M473.2 496.2h0M473.0 498.1h0M473.6 499.0h0M473.7 500.5h0M474.7 500.8h0M478.0 503.0h0M479.9 502.0h0M497.9 496.5h0M496.9 494.8h0M496.2 491.1h0M495.1 490.4h0M489.7 508.7h0M490.7 509.7h0M494.0 508.9h0M487.0 486.4h0M488.7 484.3h0M489.4 483.1h0M490.4 482.8h0M491.4 482.6h0M503.6 507.4h0M462.9 543.6h0M462.4 542.6h0M460.2 544.2h0M457.8 540.8h0M455.4 539.2h0M447.7 529.7h0M446.9 527.2h0M466.5 526.7h0M468.4 532.0h0M468.6 533.8h0M466.8 535.3h0M468.4 535.8h0M467.5 537.0h0M474.4 520.6h0M464.7 514.8h0M464.2 513.7h0M461.4 511.6h0M385.8 509.6h0M386.5 510.4h0M388.5 511.5h0M389.1 529.2h0M393.1 527.2h0M395.8 524.5h0M396.8 521.8h0M435.2 537.9h0M433.6 538.3h0M433.6 536.6h0M431.9 537.0h0M427.3 536.1h0M440.6 521.3h0M445.7 522.4h0M431.9 522.3h0M427.0 523.8h0M404.9 518.3h0M404.0 518.8h0M403.3 520.7h0M401.0 520.2h0M407.9 520.1h0M410.1 520.7h0M412.0 520.2h0M412.5 521.0h0M394.3 535.6h0M396.6 535.8h0M396.8 537.3h0M397.8 537.5h0M400.3 541.0h0M390.6 502.6h0M391.5 502.3h0M394.7 500.2h0M404.8 495.5h0M409.4 506.0h0M410.1 501.5h0M411.1 499.4h0M410.1 498.5h0M385.5 465.9h0M388.3 469.7h0M391.0 471.1h0M391.6 472.1h0M377.2 469.3h0M369.7 473.5h0M368.1 472.8h0M368.9 475.5h0M381.6 488.2h0M382.6 488.0h0M384.7 485.7h0M385.7 485.6h0M386.7 485.1h0M394.1 480.1h0M394.8 478.0h0M393.0 477.0h0M404.9 470.6h0M383.2 463.5h0M381.7 464.4h0M401.8 492.1h0M411.1 486.9h0M410.8 490.2h0M410.3 492.1h0M409.6 493.9h0M408.0 495.1h0M512.9 429.5h0M517.8 427.1h0M518.7 427.0h0M519.6 427.5h0M520.6 426.5h0M522.5 426.3h0M523.4 426.5h0M524.3 427.2h0M504.9 425.4h0M503.5 435.7h0M505.0 436.4h0M504.2 437.4h0M505.3 440.0h0M507.7 443.4h0M530.0 436.8h0M531.5 438.2h0M529.7 439.8h0M509.3 450.0h0M508.2 448.0h0M485.8 427.7h0M484.9 428.1h0M484.4 429.1h0M483.0 428.8h0M483.0 430.5h0M465.3 433.7h0M463.7 433.6h0M452.2 441.6h0M452.7 440.0h0M456.1 438.6h0M461.3 434.9h0M406.4 543.9h0M408.0 546.1h0M414.1 544.3h0M336.7 1597.6h0M337.2 1599.3h0M337.8 1602.6h0M337.0 1605.9h0M335.4 1606.7h0M335.6 1607.5h0M335.5 1611.7h0M335.3 1615.9h0M336.2 1617.6h0M336.2 1618.4h0M335.6 1621.7h0M334.1 1636.7h0M333.4 1638.3h0M335.1 1640.1h0M334.8 1641.7h0M333.7 1648.3h0M333.4 1649.2h0M333.5 1652.5h0M332.9 1655.0h0M334.5 1655.9h0M333.8 1656.7h0M332.9 1659.2h0M333.3 1660.0h0M333.2 1660.8h0M333.8 1661.7h0M332.3 1665.8h0M332.6 1670.8h0M332.4 1674.2h0M332.3 1675.0h0M332.1 1675.8h0M333.1 1680.1h0M332.3 1680.8h0M333.1 1681.7h0M330.9 1682.4h0M332.4 1684.2h0M331.8 1685.0h0M332.0 1687.5h0M331.7 1688.3h0M332.0 1690.0h0M330.2 1692.4h0M331.8 1694.2h0M332.4 1695.0h0M330.4 1695.8h0M330.9 1697.5h0M331.2 1699.1h0M331.8 1700.0h0M330.8 1701.6h0M330.1 1704.9h0M330.8 1705.8h0M330.0 1708.3h0M330.5 1709.1h0M329.5 1711.6h0M330.4 1712.5h0M330.2 1715.8h0M329.7 1719.1h0M330.2 1720.0h0M329.5 1721.6h0M330.4 1724.2h0M330.1 1725.8h0M328.5 1726.5h0M329.5 1728.3h0M329.5 1730.0h0M328.8 1730.7h0M329.7 1734.1h0M328.6 1734.9h0M328.6 1737.4h0M327.7 1739.0h0M328.7 1739.9h0M328.4 1740.7h0M328.9 1741.6h0M327.5 1744.0h0M327.1 1744.8h0M327.9 1747.4h0M328.2 1749.1h0M328.7 1750.0h0M327.8 1750.7h0M326.4 1751.5h0M327.5 1752.4h0M327.9 1753.2h0M326.8 1754.0h0M328.5 1755.0h0M327.3 1758.2h0M326.2 1760.7h0M327.0 1762.4h0M326.7 1764.9h0M325.5 1769.8h0M327.8 1773.3h0M326.6 1778.2h0M326.7 1780.7h0M324.7 1781.4h0M325.5 1783.2h0M325.4 1787.3h0M325.3 1789.0h0M323.9 1789.7h0M325.0 1790.7h0M325.6 1792.4h0M324.3 1797.3h0M324.7 1798.2h0M324.2 1799.8h0M324.1 1804.0h0M324.1 1804.8h0M324.2 1809.0h0M324.7 1809.8h0M324.0 1811.5h0M323.3 1814.8h0M324.0 1815.7h0M323.6 1819.0h0M324.0 1819.8h0M323.4 1820.6h0M324.5 1822.4h0M323.2 1823.1h0M323.3 1824.8h0M323.9 1825.7h0M323.1 1828.1h0M323.9 1829.9h0M321.7 1832.2h0M322.7 1839.8h0M320.7 1841.3h0M321.5 1843.1h0M322.1 1843.9h0M321.7 1844.8h0M322.0 1848.1h0M322.3 1849.0h0M320.5 1851.4h0M321.0 1853.1h0M320.6 1853.9h0M319.5 1855.5h0M321.3 1858.1h0M322.1 1860.6h0M321.2 1861.4h0M321.9 1863.1h0M321.2 1863.9h0M319.9 1865.5h0M320.4 1867.2h0M320.0 1870.5h0M318.7 1872.1h0M320.5 1873.1h0M318.8 1878.0h0M321.7 1879.0h0M319.6 1880.5h0M319.7 1883.1h0M319.0 1885.5h0M320.5 1887.3h0M318.1 1888.0h0M319.3 1888.9h0M319.7 1889.7h0M320.3 1892.3h0M318.8 1893.0h0M319.1 1893.9h0M318.8 1896.4h0M318.4 1900.5h0M318.8 1902.2h0M317.7 1903.8h0M317.7 1907.2h0M317.8 1908.8h0M317.9 1911.3h0M318.0 1913.0h0M316.7 1913.8h0M317.1 1914.6h0M316.9 1915.5h0M316.4 1916.3h0M317.1 1918.0h0M317.1 1920.5h0M316.6 1921.3h0M316.6 1922.1h0M315.6 1926.2h0M316.0 1927.1h0M316.9 1928.0h0M316.9 1931.3h0M316.2 1933.0h0M317.0 1935.5h0M316.4 1936.3h0M316.2 1937.1h0M316.1 1938.8h0M315.4 1941.3h0M316.2 1945.5h0M315.6 1946.3h0M315.7 1948.8h0M315.0 1950.4h0M314.9 1951.3h0M314.2 1952.1h0M315.6 1953.8h0M316.2 1956.4h0M314.6 1959.6h0M315.9 1961.3h0M314.7 1962.1h0M316.0 1963.9h0M314.5 1964.6h0M313.7 1965.4h0M313.2 1966.2h0M314.3 1968.8h0M312.5 1972.0h0M314.4 1973.0h0M313.9 1974.6h0M313.3 1975.4h0M314.0 1977.1h0M313.8 1977.9h0M312.3 1980.3h0M312.6 1983.7h0M312.6 1987.0h0M314.0 1989.6h0M312.3 1991.2h0M312.6 1992.1h0M312.5 1992.9h0M311.5 1996.2h0M313.4 1997.1h0M313.1 1997.9h0M312.4 2001.2h0M312.2 2003.7h0M310.6 2006.1h0M311.8 2008.7h0M313.3 2010.5h0M310.8 2015.3h0M311.1 2016.2h0M311.4 2020.4h0M310.2 2022.0h0M310.1 2027.0h0M310.3 2027.8h0M309.6 2032.8h0M311.2 2034.6h0M310.8 2036.2h0M310.0 2037.0h0M310.5 2038.7h0M310.2 2039.5h0M310.9 2040.4h0M309.4 2042.8h0M309.1 2051.2h0M309.5 2052.8h0M308.6 2056.1h0M309.7 2057.0h0M309.3 2059.5h0M309.1 2062.0h0M309.3 2067.0h0M307.2 2067.7h0M308.8 2068.7h0M309.3 2071.2h0M307.8 2072.0h0M306.5 2074.4h0M306.8 2076.1h0M307.7 2077.0h0M306.7 2086.1h0M306.7 2087.8h0M306.5 2095.3h0M306.4 2096.1h0M305.9 2096.9h0M306.6 2097.8h0M305.7 2098.6h0M306.3 2100.3h0M304.6 2106.0h0M305.5 2107.7h0M305.1 2109.4h0M305.5 2111.9h0M304.8 2112.7h0M305.7 2113.6h0M304.3 2114.3h0M305.6 2118.6h0M305.1 2121.1h0M305.1 2126.1h0M304.4 2127.7h0M305.3 2130.3h0M304.1 2131.0h0M302.5 2132.6h0M302.5 2134.3h0M304.2 2135.2h0M304.4 2136.1h0M304.2 2136.9h0M303.1 2140.2h0M303.4 2142.7h0M304.1 2146.1h0M302.1 2148.5h0M303.5 2149.4h0M302.8 2153.5h0M304.2 2154.4h0M302.9 2157.7h0M302.9 2160.2h0M302.7 2161.0h0M302.4 2161.8h0M302.5 2163.5h0M302.7 2164.4h0M300.5 2166.7h0M301.7 2167.6h0M302.4 2172.7h0M301.1 2173.5h0M301.3 2176.0h0M302.0 2176.9h0M302.0 2179.4h0M300.3 2182.6h0M302.2 2183.5h0M300.9 2194.3h0M298.8 2197.5h0M298.9 2198.4h0M299.3 2202.6h0M299.4 2204.3h0M300.1 2205.1h0M298.8 2216.8h0M298.5 2219.2h0M299.0 2220.9h0M298.1 2222.6h0M298.0 2224.2h0M298.1 2225.1h0M297.8 2225.9h0M297.8 2226.7h0M297.8 2228.4h0M299.2 2229.3h0M299.1 2230.1h0M297.2 2239.2h0M298.3 2240.9h0M297.3 2241.7h0M297.8 2244.3h0M297.3 2245.9h0M296.6 2246.7h0M297.6 2247.6h0M297.8 2248.4h0M296.9 2250.1h0M296.1 2250.8h0M295.0 2255.8h0M295.6 2257.5h0M295.6 2258.3h0M295.0 2260.0h0M295.5 2261.7h0M295.2 2263.3h0M295.7 2264.2h0M296.3 2265.9h0M295.0 2266.6h0M295.1 2270.0h0M295.9 2270.9h0M296.3 2271.7h0M295.1 2279.2h0M295.0 2281.7h0M294.4 2283.3h0M294.4 2285.0h0M294.7 2287.5h0M294.2 2288.3h0M295.5 2289.2h0M294.5 2290.0h0M294.5 2293.3h0M294.1 2295.8h0M294.7 2298.4h0M294.3 2299.2h0M294.4 2300.0h0M293.6 2304.1h0M293.7 2306.7h0M294.0 2308.3h0M292.4 2312.4h0M292.4 2314.1h0M292.2 2315.8h0M291.8 2318.2h0M292.5 2322.5h0M290.6 2323.2h0M291.9 2324.1h0M291.8 2324.9h0M291.3 2326.6h0M292.3 2327.5h0M292.1 2328.3h0M292.1 2333.3h0M291.7 2334.1h0M291.2 2334.9h0M290.6 2339.0h0M291.1 2342.4h0M290.6 2343.2h0M291.6 2345.0h0M292.0 2345.8h0M291.3 2346.6h0M291.4 2348.3h0M291.1 2349.1h0M291.1 2351.6h0M290.4 2352.4h0M290.1 2354.1h0M290.5 2354.9h0M289.6 2355.7h0M289.3 2363.2h0M289.0 2367.4h0M289.1 2369.9h0M289.7 2370.7h0M287.9 2374.0h0M288.3 2375.7h0M289.1 2381.6h0M288.9 2388.2h0M288.6 2389.9h0M288.1 2390.7h0M287.6 2391.5h0M288.1 2393.2h0M287.7 2396.5h0M287.4 2398.2h0M285.4 2400.5h0M286.6 2402.3h0M286.5 2403.1h0M286.3 2403.9h0M287.5 2406.5h0M287.8 2408.2h0M285.3 2408.9h0M285.8 2409.8h0M285.6 2412.3h0M285.4 2416.4h0M285.4 2418.9h0M286.8 2422.4h0M285.1 2423.1h0M287.2 2425.7h0M285.2 2427.3h0M285.8 2428.1h0M286.4 2429.0h0M286.1 2429.8h0M286.3 2434.0h0M286.6 2436.5h0M285.0 2438.1h0M286.1 2439.0h0M284.1 2440.6h0M284.3 2441.4h0M284.0 2442.2h0M283.8 2443.0h0M284.6 2446.4h0M284.1 2448.1h0M284.8 2449.0h0M285.0 2454.0h0M283.5 2454.7h0M283.3 2460.6h0M283.7 2466.4h0M284.1 2467.3h0M282.3 2468.0h0M283.8 2470.6h0M282.6 2471.4h0M283.9 2472.3h0M283.4 2473.9h0M283.1 2476.4h0M282.0 2477.2h0M283.0 2480.6h0M282.0 2481.4h0M282.0 2483.0h0M282.7 2486.4h0M282.7 2487.3h0M282.5 2488.1h0M282.1 2488.9h0M282.1 2489.7h0M281.0 2492.2h0M280.8 2493.8h0M281.8 2494.7h0M281.3 2495.5h0M281.5 2496.4h0M280.9 2497.2h0M281.9 2498.1h0M280.4 2498.8h0M282.0 2499.7h0M281.0 2502.2h0M280.9 2503.0h0M281.6 2503.9h0M280.8 2510.5h0M280.8 2513.0h0M280.3 2518.0h0M280.3 2518.9h0M280.6 2519.7h0M280.3 2522.2h0M279.8 2523.0h0M279.9 2523.8h0M280.4 2524.7h0M278.4 2525.4h0M278.9 2528.8h0M279.7 2529.7h0M278.3 2531.3h0M277.9 2534.6h0M278.4 2535.4h0M278.2 2536.3h0M279.4 2537.2h0M278.5 2539.6h0M278.2 2542.1h0M278.5 2543.8h0M277.1 2545.4h0M277.4 2549.6h0M277.6 2552.1h0M277.1 2556.3h0M277.5 2557.9h0M277.5 2558.8h0M277.6 2563.8h0M277.5 2565.5h0M277.1 2566.3h0M276.3 2568.7h0M278.6 2569.7h0M275.8 2573.7h0M275.4 2574.5h0M276.2 2575.4h0M276.5 2577.1h0M277.4 2578.0h0M276.7 2579.6h0M275.6 2581.2h0M275.8 2582.9h0M275.0 2587.0h0M275.7 2589.6h0M274.9 2591.2h0M275.6 2594.6h0M275.8 2595.4h0M275.3 2597.9h0M275.0 2601.2h0M275.6 2605.4h0M274.6 2606.2h0M273.8 2614.5h0M274.3 2616.2h0M273.3 2621.2h0M272.9 2623.7h0M273.4 2624.5h0M273.7 2625.4h0M273.1 2627.0h0M273.0 2631.2h0M273.7 2632.1h0M272.3 2632.8h0M272.7 2633.7h0M273.0 2638.7h0M272.9 2639.5h0M272.1 2641.2h0M273.3 2646.2h0M273.1 2647.1h0M272.5 2647.9h0M273.2 2649.6h0M272.1 2650.3h0M271.8 2652.0h0M272.1 2653.7h0M270.4 2654.4h0M270.8 2657.8h0M271.8 2658.7h0M271.2 2660.3h0M271.1 2662.0h0M271.0 2662.8h0M271.3 2673.7h0M269.6 2676.1h0M270.6 2677.8h0M269.3 2678.6h0M270.3 2680.3h0M270.9 2681.2h0M269.4 2682.8h0M270.9 2684.5h0M270.1 2685.3h0M270.2 2686.1h0M270.9 2687.9h0M269.6 2688.6h0M269.8 2689.5h0M269.4 2693.6h0M268.6 2694.4h0M269.2 2695.3h0M267.8 2696.0h0M270.1 2698.7h0M269.1 2701.1h0M268.9 2702.8h0M267.6 2705.2h0M269.0 2708.6h0M268.1 2712.7h0M268.2 2713.6h0M267.1 2716.0h0M267.0 2718.5h0M266.9 2719.4h0M267.5 2721.1h0M267.7 2722.7h0M267.3 2724.4h0M266.6 2726.0h0M267.5 2728.6h0M267.9 2732.8h0M265.6 2733.5h0M267.0 2734.4h0M267.3 2736.1h0M267.6 2737.8h0M266.1 2739.4h0M266.3 2740.2h0M267.2 2741.1h0M266.3 2742.7h0M266.0 2748.5h0M265.8 2750.2h0M266.2 2751.9h0M265.5 2752.7h0M265.4 2753.5h0M265.8 2754.4h0M264.8 2755.1h0M265.1 2756.8h0M265.2 2758.5h0M265.2 2760.2h0M263.8 2761.8h0M264.7 2764.3h0M264.8 2765.2h0M264.8 2766.0h0M264.3 2768.5h0M265.0 2770.2h0M264.7 2771.0h0M264.5 2772.7h0M263.9 2774.3h0M264.1 2777.7h0M264.1 2779.3h0M264.1 2781.0h0M263.3 2782.6h0M264.1 2783.5h0M263.9 2784.3h0M263.9 2786.0h0M263.0 2786.8h0M263.1 2787.6h0M263.9 2793.5h0M263.7 2794.3h0M262.4 2795.9h0M263.7 2798.5h0M260.9 2799.2h0M263.8 2801.0h0M262.3 2803.4h0M261.2 2805.0h0M262.4 2806.8h0M261.8 2807.6h0M261.8 2808.4h0M261.9 2809.3h0M261.7 2810.9h0M261.4 2811.7h0M261.8 2812.6h0M261.5 2814.3h0M261.4 2815.1h0M262.5 2816.0h0M260.8 2817.6h0M261.1 2820.9h0M261.3 2823.4h0M261.9 2824.3h0M260.5 2825.9h0M260.8 2827.6h0M260.6 2828.4h0M259.8 2830.0h0M261.9 2831.0h0M260.0 2835.0h0M259.1 2839.2h0M260.4 2840.1h0M260.4 2843.4h0M259.6 2844.2h0M259.1 2845.0h0M259.3 2845.9h0M260.0 2848.4h0M259.7 2849.2h0M258.4 2856.7h0M258.0 2860.0h0M257.7 2860.8h0M259.8 2863.4h0M259.5 2864.3h0M259.1 2865.1h0M257.4 2866.6h0M258.3 2870.9h0M256.7 2873.3h0M259.2 2875.1h0M257.9 2876.7h0M256.8 2878.3h0M257.6 2879.2h0M257.5 2882.5h0M257.1 2886.7h0M256.8 2888.3h0M256.3 2893.3h0M256.4 2894.1h0M256.2 2896.6h0M256.2 2901.6h0M256.0 2906.6h0M256.2 2908.3h0M255.0 2911.6h0M254.6 2913.2h0M255.4 2915.0h0M257.3 2915.9h0M255.3 2916.6h0M255.4 2920.0h0M255.2 2920.8h0M254.5 2922.4h0M255.8 2925.0h0M255.3 2926.6h0M254.7 2928.3h0M255.6 2934.2h0M254.1 2935.8h0M253.6 2937.4h0M253.5 2938.2h0M253.8 2944.1h0M253.3 2945.7h0M251.9 2946.5h0M253.9 2947.4h0M253.7 2949.9h0M253.9 2950.8h0M252.3 2954.9h0M252.7 2961.6h0M252.8 2962.4h0M252.7 2966.6h0M252.5 2967.4h0M253.1 2968.3h0M253.1 2969.1h0M252.5 2969.9h0M251.2 2971.5h0M252.0 2973.2h0M251.5 2974.9h0M251.1 2976.5h0M250.6 2979.0h0M251.6 2980.7h0M249.9 2981.4h0M252.3 2982.4h0M251.2 2984.0h0M251.1 2984.9h0M251.2 2985.7h0M250.1 2986.5h0M251.6 2987.4h0M250.7 2989.9h0M250.3 2991.5h0M251.3 2993.2h0M251.4 2994.1h0M250.0 2997.3h0M249.2 3001.5h0M250.1 3002.3h0M248.8 3003.1h0M249.5 3004.0h0M251.4 3005.8h0M250.6 3006.6h0M250.0 3007.4h0M249.5 3009.0h0M250.4 3009.9h0M249.1 3011.5h0M249.4 3013.2h0M249.1 3014.8h0M250.0 3018.2h0M248.9 3020.7h0M248.9 3024.0h0M247.7 3026.4h0M247.8 3030.6h0M247.8 3034.8h0M248.4 3035.7h0M247.8 3036.5h0M248.3 3037.3h0M248.5 3038.2h0M248.8 3039.0h0M247.4 3039.8h0M247.2 3040.6h0M247.5 3041.4h0M247.0 3042.3h0M247.5 3043.1h0M246.9 3043.9h0M246.1 3045.5h0M246.7 3046.4h0M248.1 3047.3h0M247.7 3049.0h0M247.0 3049.8h0M247.7 3050.7h0M247.0 3051.4h0M247.4 3055.6h0M246.2 3056.4h0M246.0 3057.2h0M246.7 3058.9h0M247.9 3059.9h0M247.3 3061.5h0M245.8 3063.9h0M245.1 3068.9h0M245.0 3070.5h0M247.5 3072.4h0M246.3 3073.1h0M244.0 3073.8h0M246.3 3075.6h0M244.2 3076.3h0M244.7 3078.0h0M245.0 3081.4h0M243.6 3083.8h0M244.4 3086.4h0M244.9 3088.9h0M245.1 3092.3h0M243.6 3093.0h0M244.5 3094.7h0M245.0 3095.6h0M244.2 3096.4h0M243.5 3098.0h0M243.3 3100.5h0M243.8 3103.0h0M243.9 3103.9h0M242.5 3106.3h0M242.1 3107.1h0M243.4 3109.7h0M242.2 3113.0h0M242.8 3115.5h0M243.0 3119.7h0M242.7 3120.5h0M242.5 3122.2h0M242.3 3123.8h0M241.9 3124.6h0M240.9 3126.3h0M243.8 3127.3h0M241.1 3129.6h0M240.3 3131.2h0M241.8 3133.0h0M242.0 3133.8h0M240.9 3134.6h0M241.2 3135.5h0M241.0 3136.3h0M241.7 3138.8h0M241.9 3141.4h0M240.8 3144.6h0M239.9 3145.4h0M241.4 3146.3h0M240.1 3148.8h0M241.1 3151.3h0M240.8 3152.1h0M239.6 3152.9h0M241.7 3154.7h0M240.3 3156.3h0M240.4 3157.1h0M240.1 3159.6h0M238.8 3162.9h0M238.9 3164.6h0M240.3 3166.3h0M240.0 3168.8h0M240.0 3169.6h0M238.5 3172.1h0M238.9 3174.6h0M239.1 3175.4h0M238.1 3177.0h0M240.0 3178.0h0M239.4 3179.6h0M238.8 3180.4h0M239.6 3185.5h0M238.9 3187.9h0M237.5 3189.5h0M238.5 3190.4h0M236.8 3192.0h0M238.2 3193.8h0M237.6 3195.4h0M239.0 3197.1h0M237.4 3197.9h0M238.0 3200.4h0M236.4 3202.8h0M237.1 3207.1h0M237.4 3208.7h0M236.9 3212.0h0M237.0 3212.9h0M236.6 3215.4h0M236.8 3216.2h0M236.4 3219.5h0M236.9 3220.4h0M235.8 3222.8h0M235.4 3226.2h0M236.0 3227.9h0M235.2 3228.7h0M235.3 3230.3h0M234.7 3232.0h0M234.6 3232.8h0M233.4 3238.6h0M235.0 3239.5h0M236.4 3240.4h0M234.4 3245.3h0M234.8 3247.0h0M234.5 3247.8h0M235.5 3251.2h0M235.4 3253.7h0M235.4 3254.6h0M233.8 3255.3h0M234.3 3257.0h0M234.0 3257.8h0M234.5 3258.7h0M233.4 3264.5h0M230.4 3272.6h0M233.8 3276.2h0M232.8 3277.0h0M231.8 3280.2h0M231.9 3281.9h0M231.9 3282.7h0M233.3 3283.7h0M233.1 3285.3h0M230.0 3288.5h0M231.6 3290.2h0M232.5 3292.0h0M232.0 3292.8h0M232.2 3293.6h0M230.8 3296.9h0M231.1 3297.7h0M230.9 3298.6h0M231.0 3299.4h0M231.6 3300.3h0M230.3 3301.0h0M231.8 3302.8h0M231.4 3303.6h0M230.3 3305.2h0M231.6 3307.0h0M231.9 3309.5h0M231.2 3311.1h0M229.6 3312.7h0M230.0 3314.4h0M229.5 3316.0h0M230.1 3316.9h0M229.8 3320.2h0M229.3 3323.5h0M230.5 3325.3h0M230.2 3326.1h0M229.2 3329.4h0M229.3 3332.7h0M229.2 3340.2h0M228.0 3341.0h0M227.3 3344.3h0M228.0 3346.0h0M227.9 3346.8h0M228.7 3347.7h0M228.7 3349.4h0M225.8 3352.5h0M228.1 3353.5h0M228.3 3356.0h0M227.8 3356.8h0M228.7 3358.6h0M227.8 3361.0h0M227.2 3364.3h0M227.8 3366.0h0M226.0 3367.6h0M227.9 3368.5h0M225.4 3370.1h0M225.9 3370.9h0M226.4 3376.0h0M225.3 3376.7h0M226.2 3377.6h0M225.9 3384.3h0M225.7 3386.0h0M225.7 3388.5h0M225.7 3390.1h0M225.7 3391.0h0M225.8 3391.8h0M225.4 3392.6h0M224.7 3394.2h0M222.9 3397.5h0M225.2 3399.3h0M225.6 3400.2h0M225.7 3401.8h0M224.5 3403.4h0M224.1 3405.1h0M224.1 3405.9h0M224.8 3406.8h0M224.6 3407.6h0M224.6 3408.4h0M223.8 3409.2h0M223.3 3411.7h0M224.3 3412.6h0M222.7 3417.5h0M223.5 3420.9h0M223.0 3425.9h0M223.5 3432.6h0M222.6 3437.6h0M222.5 3438.4h0M221.6 3442.5h0M221.9 3444.2h0M220.5 3445.8h0M221.4 3446.7h0M222.1 3447.5h0M222.0 3449.2h0M220.8 3450.8h0M221.2 3451.7h0M220.9 3455.0h0M220.7 3457.5h0M220.8 3459.2h0M220.4 3462.5h0M220.5 3463.3h0M221.3 3465.0h0M219.6 3469.1h0M219.9 3470.0h0M221.1 3470.9h0M220.7 3472.5h0M220.7 3476.7h0M219.5 3477.5h0M218.9 3479.1h0M219.7 3480.0h0M220.3 3485.9h0M219.4 3486.6h0M219.4 3487.5h0M218.2 3488.2h0M219.3 3489.1h0M218.6 3491.6h0M219.1 3492.5h0M218.6 3494.1h0M219.6 3496.7h0M218.1 3497.4h0M217.6 3498.2h0M218.7 3500.0h0M218.0 3500.8h0M218.6 3502.5h0M219.3 3505.9h0M217.5 3506.6h0M217.8 3509.1h0M218.6 3510.0h0M217.4 3510.7h0M217.7 3511.6h0M216.9 3513.2h0M218.0 3514.1h0M217.2 3515.7h0M217.8 3519.1h0M217.2 3522.4h0M217.0 3524.9h0M218.1 3525.8h0M215.8 3526.5h0M215.8 3527.4h0M215.7 3532.4h0M216.1 3540.7h0M216.3 3543.3h0M216.4 3544.1h0M214.9 3546.5h0M216.4 3548.3h0M216.1 3549.1h0M215.2 3549.9h0M213.8 3550.6h0M216.2 3552.4h0M214.9 3554.0h0M214.3 3554.8h0M216.5 3555.8h0M214.0 3556.5h0M215.1 3557.4h0M213.9 3558.1h0M215.4 3559.9h0M214.3 3560.7h0M213.2 3561.4h0M216.0 3564.1h0M215.0 3564.9h0M213.9 3569.8h0M215.0 3570.7h0M214.1 3572.4h0M213.4 3574.0h0M213.6 3574.8h0M213.4 3576.5h0M213.8 3577.4h0M213.2 3583.2h0M213.3 3584.0h0M212.7 3588.1h0M213.1 3589.0h0M213.4 3589.9h0M212.3 3590.6h0M211.9 3594.8h0M211.4 3598.9h0M212.6 3600.7h0M213.0 3602.4h0M212.8 3604.9h0M213.1 3606.5h0M212.4 3607.3h0M211.4 3608.1h0M210.4 3612.2h0M211.2 3615.6h0M210.2 3617.2h0M210.9 3618.1h0M210.4 3618.9h0M211.9 3620.7h0M210.3 3624.8h0M210.6 3628.1h0M210.5 3628.9h0M210.2 3629.8h0M210.0 3631.4h0M208.8 3634.7h0M210.7 3637.3h0M209.7 3638.1h0M209.4 3639.7h0M210.0 3640.6h0M208.3 3643.0h0M209.5 3643.9h0M209.8 3645.6h0M208.7 3646.4h0M208.6 3648.0h0M208.6 3652.2h0M208.3 3653.0h0M207.6 3654.7h0M209.0 3656.4h0M207.4 3658.0h0M209.2 3663.1h0M208.1 3663.9h0M208.1 3666.4h0M207.9 3667.2h0M207.1 3668.8h0M419.9 544.0h0M421.8 546.0h0M421.5 548.1h0M421.9 548.9h0M422.4 550.6h0M422.2 551.7h0M424.2 555.6h0M425.5 557.8h0M426.6 558.3h0M443.7 603.5h0M443.4 604.5h0M443.3 606.3h0M443.6 607.1h0M444.0 609.7h0M443.7 613.3h0M443.2 616.1h0M444.9 617.6h0M444.0 621.3h0M444.6 623.0h0M446.7 624.4h0M445.6 626.4h0M445.3 627.3h0M445.3 629.1h0M445.5 631.7h0M421.8 529.4h0M421.6 526.9h0M419.7 525.6h0M422.2 534.5h0M421.4 536.4h0M423.1 539.3h0M422.4 540.1h0M421.3 540.8h0M438.7 543.8h0M440.2 546.5h0M440.4 552.7h0M438.6 553.6h0M438.7 554.5h0M439.3 556.2h0M439.6 557.1h0M439.3 560.6h0M439.5 562.4h0M438.8 565.1h0M439.0 565.9h0M437.6 566.8h0M439.1 567.7h0M457.2 584.0h0M458.1 585.0h0M458.1 585.9h0M458.0 589.3h0M455.8 595.9h0M457.4 597.8h0M457.2 598.7h0M456.2 600.3h0M456.4 606.3h0M457.4 611.6h0M456.2 613.2h0M457.4 614.1h0M457.0 615.8h0M457.1 619.3h0M456.6 620.1h0M456.6 626.9h0M456.0 627.7h0M457.3 633.9h0M455.9 636.3h0M431.6 509.5h0M429.6 507.2h0M430.8 498.7h0M431.0 495.1h0M431.5 493.4h0M430.8 491.4h0M429.8 488.5h0M430.4 484.9h0M431.4 484.2h0M433.0 482.7h0M434.9 481.4h0M463.1 490.3h0M464.0 490.8h0M463.0 493.1h0M465.3 492.3h0M454.9 484.9h0M452.7 483.8h0M449.4 483.7h0M414.4 502.0h0M415.2 503.2h0M417.1 504.0h0M418.0 504.5h0M423.7 504.7h0M425.6 505.2h0M494.6 537.0h0M493.5 540.4h0M494.9 542.0h0M494.6 543.1h0M479.3 540.8h0M479.5 541.7h0M479.5 542.6h0M480.1 544.4h0M479.1 545.8h0M479.7 548.4h0M481.3 550.7h0M481.3 551.8h0M482.4 554.2h0M482.5 556.2h0M470.5 535.5h0M471.7 536.8h0M511.7 546.7h0M509.5 546.4h0M503.6 548.8h0M515.4 520.7h0M513.5 523.2h0M511.7 521.9h0M511.5 523.7h0M510.0 522.8h0M508.4 523.9h0M507.1 523.5h0M506.2 523.8h0M505.1 523.8h0M528.5 524.0h0M529.5 525.5h0M530.3 526.1h0M532.6 526.4h0M534.2 527.3h0M535.6 528.5h0M536.5 528.9h0M540.3 531.6h0M541.0 533.5h0M513.1 532.0h0M513.7 532.8h0M516.6 533.6h0M517.0 534.6h0M518.3 534.4h0M522.1 537.0h0M522.6 537.9h0M524.3 538.7h0M536.3 535.5h0M534.7 536.7h0M533.4 535.6h0M532.4 538.6h0M531.0 537.4h0M529.0 537.5h0M528.3 538.2h0M526.8 539.7h0M502.0 527.0h0M504.9 524.9h0M519.2 543.4h0M520.4 541.4h0M485.1 455.8h0M486.8 455.1h0M487.2 454.1h0M486.6 451.0h0M479.7 450.5h0M478.7 450.9h0M476.6 451.9h0M461.8 457.8h0M460.2 458.6h0M481.4 481.9h0M479.7 481.7h0M478.8 480.1h0M477.0 478.0h0M477.1 475.9h0M475.1 472.9h0M475.6 471.6h0M474.8 470.0h0M473.4 467.7h0M463.8 447.8h0M480.0 453.0h0M520.0 488.0h0M516.7 487.6h0M516.5 490.1h0M429.3 444.4h0M430.0 448.4h0M426.1 446.3h0M426.1 447.4h0M477.3 548.8h0M452.0 461.3h0M452.6 459.7h0M452.5 460.1h0M452.7 459.0h0M454.9 461.7h0M503.9 531.9h0M501.8 533.7h0M397.2 548.3h0M395.0 547.1h0M396.4 546.3h0M397.5 547.9h0M396.9 546.7h0M508.8 508.7h0M508.5 510.1h0M508.7 508.8h0M506.3 510.0h0M508.7 508.9h0M508.6 510.1h0M507.9 507.4h0M408.4 561.9h0M478.3 518.9h0M481.1 517.6h0M477.6 519.8h0M415.6 552.3h0M415.9 551.5h0M519.1 457.2h0M517.3 452.4h0M517.1 456.5h0M420.2 520.1h0M510.0 470.6h0M512.0 470.1h0M510.9 469.9h0M511.4 469.6h0M513.1 470.6h0M510.4 469.7h0M510.0 470.0h0M434.9 520.1h0M434.7 522.9h0M434.8 522.7h0M436.0 521.6h0M435.0 522.2h0M442.3 481.7h0M441.8 481.7h0M441.2 482.6h0M442.6 481.4h0M441.0 479.8h0M418.0 470.4h0M415.8 467.3h0M417.2 471.8h0M420.7 468.2h0M453.5 560.5h0M451.9 563.1h0M453.0 563.1h0M453.2 561.5h0M452.2 561.6h0M508.6 527.9h0M508.0 528.1h0M506.1 529.8h0M474.7 515.2h0M476.4 514.4h0M478.8 516.9h0M475.6 514.0h0M437.3 483.7h0M438.7 485.4h0M438.1 484.8h0M519.3 544.9h0M520.2 544.6h0M519.3 546.3h0M518.9 544.8h0M410.2 512.2h0M408.9 515.2h0M411.5 512.7h0M410.9 514.3h0M517.7 476.8h0M421.7 490.1h0M420.5 494.2h0M420.4 493.2h0M418.2 491.6h0M507.7 500.6h0M429.7 482.0h0M428.7 483.7h0M426.0 481.3h0M426.0 480.5h0M425.9 481.6h0M471.2 512.7h0M471.8 513.2h0M470.7 511.5h0" stroke="#B2F24C" stroke-width="1.6" stroke-linecap="round" filter="url(#gb)"/><path d="M428.2 423.8h0M427.4 430.3h0M423.9 433.7h0M426.2 410.8h0M424.3 407.8h0M424.1 406.9h0M423.3 406.4h0M420.0 401.1h0M418.7 397.8h0M417.9 397.2h0M416.1 439.0h0M414.4 435.8h0M412.7 430.5h0M410.1 424.7h0M409.7 423.9h0M409.3 420.9h0M529.5 490.4h0M527.3 490.3h0M510.6 506.2h0M512.6 506.8h0M398.5 428.3h0M398.9 429.4h0M523.7 463.9h0M514.5 485.2h0M510.3 483.0h0M508.4 482.3h0M506.6 481.6h0M507.3 469.6h0M506.0 472.1h0M504.1 474.4h0M501.9 475.3h0M377.7 436.0h0M423.5 444.0h0M426.0 448.3h0M435.5 423.1h0M436.1 424.2h0M431.1 446.2h0M439.1 432.6h0M442.2 422.7h0M445.9 450.4h0M440.4 463.2h0M411.2 447.9h0M411.5 469.6h0M413.7 467.2h0M415.1 468.2h0M417.0 467.7h0M419.0 464.7h0M419.8 464.1h0M409.2 462.8h0M408.1 460.9h0M403.5 448.5h0M376.8 446.6h0M392.0 454.6h0M391.2 455.1h0M384.3 459.2h0M474.8 491.3h0M475.7 490.8h0M476.8 503.0h0M500.0 497.0h0M497.0 493.8h0M493.5 489.8h0M495.1 487.5h0M491.8 509.2h0M468.1 541.0h0M458.4 541.7h0M457.3 539.8h0M456.3 539.6h0M453.6 538.5h0M447.7 528.5h0M445.2 525.8h0M468.4 527.2h0M467.5 528.4h0M468.7 529.0h0M468.1 530.1h0M467.1 533.3h0M470.4 496.1h0M469.4 494.9h0M468.0 521.6h0M469.1 520.8h0M387.8 510.7h0M390.3 511.5h0M390.7 529.0h0M394.7 526.0h0M430.7 536.9h0M427.8 537.1h0M437.2 519.4h0M439.5 519.3h0M441.4 521.9h0M443.0 523.1h0M428.2 522.3h0M427.4 522.9h0M409.8 519.6h0M392.8 500.7h0M393.1 499.4h0M395.0 498.8h0M397.6 497.6h0M399.3 496.8h0M406.0 493.7h0M410.1 510.3h0M409.2 508.1h0M387.2 467.1h0M375.8 469.1h0M374.3 471.8h0M371.1 472.2h0M380.6 487.8h0M383.7 485.6h0M403.9 470.9h0M400.0 490.8h0M410.6 488.9h0M410.1 490.8h0M514.0 427.7h0M505.2 429.6h0M531.2 435.0h0M530.9 436.0h0M530.0 438.9h0M480.9 429.2h0M480.5 430.3h0M467.7 432.4h0M449.2 441.5h0M453.7 440.1h0M454.0 438.2h0M457.1 438.4h0M408.7 545.5h0M337.4 1596.8h0M336.6 1608.4h0M336.4 1609.2h0M335.9 1610.0h0M335.7 1614.2h0M337.2 1615.1h0M334.3 1620.0h0M335.3 1622.5h0M335.5 1623.4h0M335.3 1625.9h0M334.9 1626.7h0M335.4 1627.6h0M335.0 1631.7h0M335.6 1632.6h0M333.8 1635.8h0M334.7 1639.2h0M334.2 1640.9h0M334.5 1643.4h0M334.8 1647.6h0M334.7 1650.1h0M333.6 1654.2h0M332.8 1658.3h0M332.9 1668.3h0M332.2 1669.1h0M332.2 1671.6h0M332.4 1672.5h0M332.1 1673.3h0M332.4 1677.5h0M332.1 1683.3h0M332.0 1685.8h0M331.2 1689.1h0M331.5 1691.6h0M330.3 1698.3h0M330.8 1702.5h0M329.8 1709.9h0M329.8 1714.1h0M328.7 1732.4h0M329.3 1733.3h0M329.3 1736.6h0M328.5 1742.4h0M328.0 1746.6h0M327.8 1759.9h0M327.9 1763.3h0M326.3 1770.7h0M326.8 1774.9h0M326.9 1779.9h0M326.5 1782.4h0M326.0 1784.0h0M325.6 1785.7h0M325.2 1788.2h0M324.9 1791.5h0M325.4 1793.2h0M324.5 1795.6h0M324.6 1803.2h0M324.5 1805.7h0M324.2 1808.1h0M323.3 1810.6h0M322.8 1823.9h0M323.2 1826.5h0M323.2 1827.3h0M322.7 1831.4h0M322.2 1833.1h0M322.1 1833.9h0M321.5 1838.9h0M322.7 1842.3h0M322.3 1846.5h0M321.6 1847.2h0M320.8 1856.4h0M321.5 1858.9h0M320.8 1859.7h0M321.2 1862.3h0M320.5 1864.7h0M321.7 1866.5h0M320.3 1871.4h0M320.0 1873.9h0M319.5 1874.7h0M319.0 1876.3h0M320.1 1881.4h0M319.2 1884.7h0M318.9 1891.4h0M319.1 1897.2h0M318.5 1898.0h0M318.6 1898.9h0M317.9 1906.3h0M318.4 1908.0h0M317.9 1918.9h0M316.3 1923.8h0M316.4 1924.6h0M316.1 1925.4h0M316.6 1929.6h0M317.5 1930.5h0M317.2 1934.7h0M316.8 1939.7h0M315.0 1944.6h0M315.1 1954.6h0M317.3 1955.6h0M314.4 1957.1h0M314.6 1958.8h0M314.8 1967.1h0M312.9 1970.4h0M314.1 1973.8h0M313.5 1981.2h0M312.2 1986.2h0M312.9 1990.4h0M313.1 1993.8h0M312.0 1994.5h0M312.3 1995.4h0M311.4 2004.5h0M311.4 2009.5h0M311.3 2011.2h0M312.3 2013.8h0M310.6 2018.7h0M311.2 2021.2h0M310.4 2022.8h0M310.2 2023.7h0M311.9 2025.4h0M310.9 2026.2h0M311.0 2028.7h0M309.2 2035.3h0M309.1 2037.8h0M310.3 2041.2h0M309.6 2044.5h0M310.0 2045.4h0M308.4 2046.9h0M309.4 2048.7h0M309.2 2053.7h0M309.2 2054.5h0M308.6 2055.3h0M308.5 2061.1h0M308.1 2063.6h0M308.3 2065.3h0M307.7 2070.3h0M307.3 2083.6h0M307.1 2084.4h0M307.6 2085.3h0M308.0 2089.5h0M306.2 2090.2h0M307.2 2092.0h0M307.7 2092.8h0M306.4 2094.4h0M306.5 2101.9h0M306.5 2102.8h0M306.7 2107.0h0M305.6 2111.1h0M305.0 2117.7h0M303.9 2122.7h0M306.0 2127.0h0M304.2 2131.9h0M304.1 2133.5h0M302.5 2144.3h0M303.9 2145.2h0M302.2 2146.8h0M302.9 2147.7h0M303.0 2151.0h0M303.5 2155.2h0M302.5 2158.5h0M301.5 2162.6h0M301.7 2171.8h0M300.9 2177.6h0M301.9 2180.2h0M301.6 2186.0h0M300.6 2186.8h0M301.8 2188.5h0M300.9 2191.8h0M299.9 2193.4h0M300.2 2196.0h0M300.0 2199.3h0M300.2 2201.0h0M300.8 2203.5h0M299.8 2206.8h0M298.3 2207.5h0M299.4 2208.4h0M299.4 2209.3h0M299.6 2211.0h0M299.8 2215.1h0M298.4 2217.6h0M297.5 2230.9h0M297.2 2238.4h0M297.6 2249.3h0M295.8 2256.7h0M294.9 2259.1h0M295.4 2260.8h0M296.2 2262.5h0M295.2 2275.8h0M295.0 2276.7h0M295.0 2277.5h0M295.7 2278.4h0M293.4 2285.8h0M293.8 2295.0h0M293.2 2297.4h0M294.2 2303.4h0M292.9 2315.0h0M292.4 2317.4h0M292.5 2320.0h0M292.4 2330.0h0M291.4 2332.4h0M290.3 2339.9h0M289.6 2341.5h0M291.2 2347.4h0M290.5 2350.7h0M290.4 2353.2h0M288.9 2359.0h0M289.3 2365.7h0M289.7 2368.2h0M288.3 2372.3h0M289.9 2379.1h0M288.1 2379.8h0M289.7 2380.8h0M288.2 2382.3h0M287.7 2385.6h0M287.9 2387.3h0M288.7 2389.1h0M287.0 2395.6h0M287.8 2399.9h0M286.3 2413.1h0M285.6 2414.8h0M287.1 2415.7h0M286.1 2418.1h0M285.3 2431.5h0M284.7 2435.6h0M284.8 2444.8h0M284.7 2449.8h0M283.9 2453.1h0M284.1 2455.6h0M283.7 2458.1h0M284.1 2461.5h0M284.4 2464.8h0M283.2 2473.1h0M283.1 2474.8h0M281.8 2479.7h0M280.7 2491.3h0M280.1 2504.6h0M280.4 2506.3h0M280.6 2508.8h0M280.7 2509.7h0M280.5 2513.9h0M279.3 2516.3h0M279.8 2517.2h0M280.1 2520.5h0M279.0 2521.3h0M279.5 2526.3h0M278.4 2530.4h0M278.8 2538.0h0M278.9 2546.3h0M277.5 2547.9h0M277.0 2548.7h0M277.6 2553.8h0M278.2 2554.7h0M277.6 2571.3h0M276.7 2578.8h0M275.8 2587.9h0M276.8 2590.5h0M275.2 2599.6h0M275.1 2610.4h0M273.6 2611.2h0M273.7 2612.0h0M274.4 2615.4h0M274.1 2617.0h0M273.0 2629.5h0M273.2 2635.4h0M273.0 2636.2h0M272.1 2637.8h0M271.9 2642.0h0M272.8 2643.7h0M271.8 2644.5h0M272.2 2645.3h0M271.7 2651.1h0M270.8 2656.9h0M271.6 2661.2h0M270.4 2665.3h0M270.5 2669.5h0M270.7 2672.8h0M270.7 2675.3h0M270.1 2679.5h0M269.9 2683.6h0M270.0 2687.0h0M270.2 2691.2h0M269.7 2692.0h0M269.0 2701.9h0M267.1 2706.0h0M269.2 2715.3h0M268.6 2717.8h0M268.4 2720.3h0M266.5 2723.5h0M268.3 2725.3h0M267.1 2726.9h0M266.4 2730.2h0M267.9 2731.9h0M265.5 2741.8h0M266.1 2743.5h0M265.6 2745.2h0M265.7 2746.0h0M266.5 2751.1h0M265.1 2763.5h0M264.2 2766.8h0M265.5 2767.7h0M264.8 2771.9h0M264.2 2775.2h0M263.9 2778.5h0M264.8 2788.6h0M263.6 2792.7h0M262.3 2796.8h0M263.6 2801.9h0M261.8 2816.8h0M261.5 2825.1h0M260.2 2826.7h0M261.1 2831.8h0M260.8 2833.4h0M260.7 2846.8h0M259.1 2851.7h0M259.9 2852.6h0M259.8 2854.2h0M260.4 2855.1h0M258.0 2872.5h0M257.8 2877.5h0M257.0 2880.0h0M257.2 2880.8h0M257.2 2885.8h0M257.5 2887.5h0M257.2 2889.2h0M257.2 2891.7h0M257.2 2895.0h0M255.7 2907.5h0M255.6 2909.1h0M256.0 2910.8h0M256.1 2912.5h0M256.1 2917.5h0M255.0 2918.3h0M255.4 2919.1h0M255.4 2924.1h0M254.8 2930.0h0M254.8 2930.8h0M254.0 2941.6h0M253.1 2943.2h0M253.2 2951.6h0M253.3 2954.1h0M253.8 2955.8h0M252.4 2956.5h0M253.2 2959.1h0M253.1 2964.9h0M250.9 2972.3h0M252.2 2977.4h0M251.5 2989.1h0M250.0 2990.6h0M249.9 2994.8h0M251.2 2995.7h0M250.8 2996.5h0M251.3 2999.9h0M249.7 3004.8h0M249.7 3016.5h0M249.2 3017.3h0M248.6 3019.0h0M248.0 3019.8h0M248.1 3021.4h0M250.1 3022.4h0M249.0 3025.7h0M247.9 3031.5h0M248.6 3032.3h0M247.1 3033.1h0M247.6 3044.8h0M247.2 3048.1h0M246.3 3053.1h0M245.7 3058.0h0M245.3 3066.4h0M245.4 3074.7h0M245.9 3079.8h0M245.1 3080.6h0M244.1 3082.2h0M243.0 3093.8h0M244.2 3099.7h0M243.4 3102.2h0M244.5 3105.6h0M243.4 3108.9h0M243.0 3128.9h0M242.6 3130.5h0M240.7 3137.9h0M241.3 3139.6h0M240.8 3140.4h0M242.2 3142.2h0M241.0 3143.8h0M240.3 3150.4h0M241.1 3153.8h0M241.0 3158.0h0M239.7 3162.1h0M239.6 3163.8h0M239.7 3167.1h0M239.0 3170.4h0M239.4 3173.8h0M238.0 3182.0h0M238.7 3184.6h0M237.4 3192.9h0M237.3 3198.7h0M236.7 3204.5h0M234.2 3216.9h0M235.9 3217.8h0M237.7 3221.3h0M234.8 3235.3h0M234.8 3241.2h0M235.0 3246.2h0M233.8 3256.1h0M233.9 3260.3h0M233.9 3262.0h0M233.1 3265.3h0M234.0 3266.2h0M233.0 3267.8h0M232.2 3269.4h0M232.4 3275.3h0M231.8 3284.4h0M232.6 3287.8h0M231.3 3308.6h0M230.3 3317.7h0M231.0 3321.1h0M229.2 3324.3h0M228.3 3326.8h0M229.6 3327.7h0M229.6 3333.6h0M230.0 3336.9h0M227.3 3351.0h0M228.1 3351.8h0M228.6 3360.2h0M226.8 3362.6h0M227.2 3365.2h0M227.1 3369.3h0M225.1 3371.7h0M226.6 3374.3h0M227.3 3379.4h0M225.3 3381.7h0M227.8 3386.9h0M225.1 3387.6h0M225.0 3389.2h0M225.7 3395.1h0M225.1 3395.9h0M224.6 3416.0h0M224.2 3420.1h0M222.8 3422.5h0M223.1 3427.6h0M222.8 3428.4h0M223.0 3435.1h0M222.4 3435.9h0M221.0 3440.0h0M222.1 3456.7h0M222.2 3458.4h0M220.8 3460.8h0M220.8 3461.7h0M220.9 3465.9h0M219.9 3467.5h0M219.9 3474.1h0M220.6 3481.7h0M220.9 3483.4h0M220.4 3485.0h0M218.5 3499.1h0M218.0 3501.6h0M217.2 3503.2h0M218.7 3517.5h0M216.8 3520.7h0M216.4 3524.1h0M217.6 3528.3h0M217.7 3530.0h0M216.6 3530.7h0M216.4 3534.1h0M215.7 3535.7h0M216.2 3537.4h0M215.6 3539.0h0M216.0 3541.6h0M214.3 3547.3h0M214.7 3566.6h0M213.7 3580.7h0M213.5 3592.4h0M212.0 3593.1h0M212.7 3594.0h0M211.3 3603.9h0M213.5 3605.7h0M210.9 3608.9h0M210.9 3616.4h0M211.6 3619.8h0M210.2 3623.9h0M210.9 3625.6h0M209.0 3633.9h0M210.5 3636.5h0M209.3 3651.4h0M208.6 3659.7h0M208.1 3660.5h0M208.6 3661.4h0M208.1 3664.7h0M207.0 3672.2h0M420.1 547.8h0M423.6 549.1h0M422.7 552.4h0M423.1 553.2h0M423.8 554.8h0M425.4 556.0h0M428.2 561.4h0M442.2 602.9h0M444.2 620.4h0M447.1 627.9h0M445.9 630.8h0M446.0 632.5h0M420.4 526.9h0M418.8 524.9h0M422.2 537.8h0M439.7 544.7h0M439.5 549.1h0M439.3 558.0h0M438.6 559.8h0M439.2 561.5h0M437.1 563.3h0M456.4 590.0h0M456.4 594.3h0M456.6 599.4h0M457.8 603.9h0M457.2 605.5h0M456.9 608.9h0M458.7 610.8h0M456.4 612.3h0M457.0 614.9h0M456.3 617.5h0M455.9 623.4h0M456.0 630.3h0M455.4 632.8h0M456.6 635.5h0M454.6 637.0h0M432.8 509.8h0M430.2 508.0h0M429.1 506.3h0M429.2 504.9h0M432.5 497.3h0M431.5 496.1h0M431.2 490.6h0M431.6 487.9h0M431.6 481.5h0M433.8 481.5h0M460.9 490.9h0M453.8 485.1h0M416.2 503.2h0M493.6 536.3h0M493.7 538.3h0M496.3 543.6h0M478.6 539.1h0M479.7 547.5h0M480.5 550.1h0M482.2 553.3h0M506.8 549.2h0M517.2 522.1h0M532.5 527.8h0M537.3 529.4h0M538.1 529.9h0M539.0 531.6h0M540.6 532.6h0M511.5 531.1h0M514.6 533.2h0M519.4 536.0h0M520.7 535.8h0M522.0 535.7h0M535.2 535.1h0M527.5 538.7h0M523.5 538.6h0M487.9 453.2h0M461.5 456.8h0M480.8 483.2h0M478.7 478.2h0M476.1 475.4h0M475.0 473.9h0M473.9 471.5h0M461.6 445.1h0M463.7 445.7h0M464.3 446.7h0M479.8 451.1h0M479.5 452.6h0M482.3 452.8h0M481.3 454.1h0M517.8 485.2h0M513.8 489.2h0M517.6 487.2h0M477.5 550.1h0M476.3 550.2h0M453.6 459.3h0M453.1 459.1h0M453.6 462.4h0M452.5 461.4h0M501.8 534.8h0M507.3 532.1h0M503.6 535.5h0M503.6 532.6h0M503.2 532.0h0M394.3 549.1h0M397.9 548.3h0M393.0 547.9h0M393.2 545.6h0M508.7 510.6h0M508.5 510.6h0M508.5 510.5h0M410.8 558.1h0M409.7 559.6h0M481.6 519.2h0M480.7 520.8h0M414.8 549.9h0M415.4 551.8h0M519.2 455.3h0M519.3 455.4h0M516.8 451.6h0M516.6 451.4h0M519.8 456.7h0M516.1 455.9h0M420.8 520.5h0M420.0 523.6h0M421.8 522.2h0M421.4 522.4h0M421.0 521.9h0M420.1 523.3h0M420.6 521.5h0M419.9 521.7h0M435.5 522.7h0M438.2 523.3h0M434.8 521.9h0M441.7 480.1h0M441.3 479.4h0M418.0 472.1h0M420.9 468.6h0M416.9 468.4h0M418.8 469.9h0M419.1 467.9h0M452.0 565.1h0M450.0 563.4h0M452.7 560.1h0M506.0 530.7h0M479.8 515.6h0M475.9 516.3h0M476.5 516.4h0M436.6 488.4h0M436.8 488.1h0M519.0 546.3h0M516.8 545.5h0M519.5 544.2h0M516.7 543.7h0M410.9 512.6h0M412.4 514.7h0M409.6 515.7h0M409.3 515.0h0M412.1 512.6h0M413.4 514.8h0M518.4 474.8h0M515.6 473.5h0M519.0 474.0h0M518.4 472.9h0M420.9 491.8h0M419.0 490.0h0M418.2 492.2h0M507.7 502.7h0M506.6 502.5h0M429.3 480.5h0M468.2 513.4h0" stroke="#96E23A" stroke-width="2.0" stroke-linecap="round" filter="url(#gb)"/><path d="M428.0 426.6h0M423.6 432.6h0M425.6 412.2h0M423.8 410.1h0M420.0 403.1h0M409.7 422.8h0M514.6 507.3h0M407.0 418.4h0M407.0 419.3h0M404.0 421.0h0M405.1 423.3h0M401.8 424.9h0M524.8 465.9h0M522.2 462.9h0M521.2 462.9h0M521.1 460.9h0M518.6 459.8h0M513.7 484.8h0M512.3 485.1h0M506.6 479.9h0M505.9 479.3h0M508.4 466.9h0M507.2 470.6h0M426.9 448.7h0M430.7 447.4h0M437.6 437.4h0M440.0 423.6h0M444.5 422.6h0M446.3 454.2h0M445.0 447.6h0M443.1 461.2h0M442.9 440.9h0M412.0 447.4h0M409.1 469.1h0M407.4 469.4h0M408.6 461.9h0M406.2 458.9h0M376.5 444.8h0M388.9 454.7h0M472.9 493.6h0M475.9 502.6h0M497.0 492.9h0M494.7 488.5h0M485.0 486.7h0M464.6 541.7h0M459.7 543.2h0M459.5 541.7h0M454.5 538.8h0M475.5 519.1h0M464.7 515.8h0M391.5 511.9h0M392.4 527.9h0M429.4 522.3h0M413.7 521.3h0M408.4 506.9h0M392.9 471.5h0M375.7 470.6h0M372.2 472.1h0M370.6 473.1h0M379.6 487.3h0M387.7 485.3h0M392.2 475.9h0M401.4 469.2h0M382.9 462.2h0M378.6 464.7h0M514.8 428.7h0M505.2 439.1h0M507.0 441.6h0M509.1 444.1h0M507.9 446.1h0M508.0 447.0h0M467.9 435.4h0M448.6 442.6h0M409.7 545.8h0M412.3 544.5h0M336.3 1603.4h0M337.1 1604.3h0M336.1 1610.9h0M336.8 1612.6h0M336.1 1624.3h0M335.2 1625.0h0M333.6 1637.5h0M334.4 1651.7h0M332.2 1657.4h0M332.9 1662.5h0M331.7 1664.1h0M333.4 1665.0h0M331.9 1670.0h0M332.6 1676.7h0M330.4 1710.8h0M330.1 1723.3h0M330.1 1729.2h0M328.2 1735.7h0M328.4 1743.3h0M327.5 1761.6h0M326.2 1769.0h0M326.0 1771.5h0M325.8 1779.0h0M324.5 1786.4h0M324.7 1802.3h0M321.4 1828.9h0M322.5 1838.1h0M321.8 1840.6h0M321.2 1845.6h0M321.5 1850.6h0M321.9 1857.3h0M321.4 1869.8h0M320.1 1875.6h0M319.8 1877.2h0M320.0 1879.7h0M319.8 1894.8h0M319.2 1904.7h0M318.2 1912.2h0M317.4 1923.0h0M316.8 1938.0h0M313.9 1960.4h0M314.7 1969.6h0M314.3 1976.3h0M312.9 1984.6h0M314.0 1988.0h0M311.1 2000.3h0M307.9 2043.6h0M310.4 2047.9h0M309.5 2049.5h0M308.1 2051.9h0M309.5 2058.7h0M306.6 2072.7h0M307.1 2075.2h0M307.6 2077.8h0M307.8 2082.8h0M307.2 2088.6h0M307.5 2091.1h0M306.4 2099.4h0M304.6 2104.3h0M306.1 2110.3h0M305.0 2120.2h0M303.5 2128.5h0M302.7 2138.5h0M302.9 2150.2h0M302.5 2152.7h0M301.4 2159.3h0M303.0 2169.4h0M301.7 2181.8h0M300.0 2187.6h0M299.2 2213.4h0M299.0 2215.9h0M298.6 2223.4h0M297.3 2237.5h0M297.2 2251.7h0M295.1 2280.0h0M295.3 2282.5h0M294.2 2286.6h0M295.6 2291.7h0M293.6 2307.5h0M292.6 2310.8h0M292.8 2311.6h0M294.0 2319.2h0M291.5 2321.6h0M292.5 2325.8h0M292.0 2331.6h0M292.1 2335.8h0M292.2 2340.8h0M290.0 2358.2h0M289.8 2360.7h0M289.5 2364.0h0M289.9 2364.9h0M289.0 2383.2h0M288.9 2384.9h0M286.6 2404.8h0M286.3 2405.6h0M285.8 2424.8h0M287.3 2426.6h0M285.4 2430.6h0M284.8 2437.3h0M283.3 2459.7h0M283.0 2468.9h0M283.5 2475.6h0M280.9 2508.0h0M282.0 2512.3h0M280.1 2514.7h0M280.8 2515.5h0M277.9 2540.4h0M277.7 2551.3h0M277.6 2552.9h0M278.7 2559.7h0M278.3 2560.5h0M277.6 2562.1h0M278.1 2568.0h0M276.9 2570.4h0M276.6 2572.9h0M276.4 2584.6h0M274.8 2598.7h0M275.2 2602.9h0M274.6 2603.7h0M275.0 2608.7h0M273.8 2609.5h0M273.5 2619.5h0M272.5 2622.0h0M272.5 2648.7h0M271.6 2655.3h0M270.3 2656.1h0M270.9 2659.5h0M270.7 2664.5h0M271.7 2670.4h0M270.4 2672.0h0M271.3 2674.5h0M269.8 2692.8h0M269.8 2697.0h0M268.7 2697.7h0M268.6 2700.2h0M268.6 2704.4h0M268.6 2711.9h0M268.6 2714.4h0M267.2 2735.2h0M266.5 2736.9h0M267.1 2738.6h0M266.3 2761.1h0M264.7 2776.0h0M263.7 2780.1h0M262.8 2790.1h0M263.0 2791.0h0M262.8 2791.8h0M262.1 2802.6h0M261.8 2805.9h0M260.4 2829.2h0M261.1 2836.8h0M261.4 2837.6h0M260.3 2841.8h0M259.8 2842.6h0M258.7 2858.4h0M258.5 2859.2h0M259.1 2861.7h0M258.1 2865.8h0M255.2 2883.2h0M255.9 2897.4h0M255.9 2899.1h0M256.5 2903.3h0M255.4 2905.8h0M254.2 2909.9h0M253.5 2921.5h0M253.0 2944.9h0M253.2 2952.4h0M253.4 2960.8h0M252.4 2978.3h0M250.5 2999.0h0M248.8 3023.2h0M249.1 3029.9h0M248.7 3034.0h0M246.4 3053.9h0M245.2 3071.4h0M245.1 3083.1h0M245.0 3088.1h0M242.2 3112.1h0M243.7 3114.7h0M243.4 3117.2h0M243.2 3118.0h0M241.1 3147.1h0M240.8 3155.5h0M240.2 3160.5h0M238.8 3165.4h0M240.0 3171.3h0M238.5 3181.2h0M238.0 3182.9h0M238.8 3187.1h0M237.6 3188.7h0M236.5 3205.3h0M237.0 3207.9h0M235.9 3209.5h0M236.6 3214.5h0M235.6 3225.3h0M235.8 3231.2h0M236.2 3233.7h0M234.8 3237.0h0M234.9 3252.9h0M232.4 3266.9h0M232.7 3271.1h0M233.5 3272.0h0M234.0 3277.9h0M232.8 3286.1h0M232.9 3287.0h0M231.4 3296.1h0M230.7 3306.1h0M231.4 3307.8h0M231.2 3310.3h0M231.1 3313.6h0M228.7 3335.2h0M228.3 3337.7h0M228.8 3338.5h0M228.7 3339.4h0M228.2 3342.7h0M228.0 3343.5h0M228.8 3354.4h0M226.7 3355.1h0M227.1 3359.3h0M227.2 3361.8h0M228.1 3366.9h0M226.8 3381.0h0M224.9 3383.4h0M225.7 3385.1h0M225.1 3393.4h0M224.6 3400.9h0M223.6 3402.5h0M226.0 3404.4h0M224.5 3414.3h0M224.8 3418.5h0M223.3 3419.2h0M223.2 3423.4h0M223.9 3424.3h0M223.2 3429.2h0M223.5 3430.1h0M221.5 3439.2h0M220.8 3454.2h0M222.1 3455.9h0M220.8 3473.4h0M220.0 3482.5h0M219.8 3495.9h0M217.2 3507.4h0M217.4 3519.9h0M215.4 3531.5h0M214.4 3562.4h0M214.2 3567.4h0M214.2 3568.2h0M213.9 3575.7h0M214.0 3579.0h0M212.2 3587.3h0M212.2 3591.5h0M212.1 3598.1h0M211.3 3614.8h0M210.1 3635.6h0M209.4 3644.7h0M209.7 3648.9h0M209.7 3649.8h0M209.0 3655.6h0M421.2 544.4h0M420.1 545.9h0M423.9 553.8h0M426.6 560.3h0M443.2 608.1h0M442.9 609.0h0M444.0 612.4h0M446.2 625.4h0M421.7 533.2h0M421.8 535.4h0M440.1 547.4h0M456.5 583.1h0M456.8 596.9h0M456.1 604.5h0M456.6 608.0h0M456.7 622.7h0M455.7 625.1h0M455.3 625.9h0M455.7 628.6h0M456.1 631.2h0M455.2 634.5h0M431.6 492.5h0M466.2 492.9h0M421.8 505.3h0M422.7 505.3h0M478.8 538.0h0M478.0 540.3h0M481.4 552.7h0M472.9 538.2h0M510.6 546.4h0M515.0 522.1h0M514.5 523.0h0M518.1 536.2h0M484.5 458.8h0M477.7 449.9h0M465.8 452.6h0M475.0 474.9h0M486.9 451.7h0M460.4 442.1h0M462.0 443.9h0M479.0 452.3h0M516.3 489.2h0M427.2 447.8h0M475.4 548.4h0M503.1 533.6h0M393.5 548.3h0M481.3 518.7h0M480.9 515.8h0M414.8 548.6h0M421.4 523.0h0M511.9 469.2h0M436.5 524.2h0M443.3 482.6h0M415.5 470.4h0M509.4 529.1h0M508.4 529.4h0M476.2 513.5h0M436.9 484.9h0M518.8 544.2h0M518.1 544.1h0M519.3 546.2h0M419.4 491.6h0M508.0 501.9h0M428.1 479.1h0" stroke="#80CC32" stroke-width="2.5" stroke-linecap="round" filter="url(#gb)"/></g>
<text x="271.9" y="438.2" font-size="9" fill="#F4F4F4" textLength="19.7" lengthAdjust="spacingAndGlyphs">PBS</text>
<text x="400.7" y="438.4" font-size="9" fill="#F4F4F4" textLength="54.6" lengthAdjust="spacingAndGlyphs">rhANGPTL4</text>
<text x="271.9" y="563.8" font-size="9" fill="#F4F4F4" textLength="19.7" lengthAdjust="spacingAndGlyphs">PBS</text>
<text x="400.7" y="563.8" font-size="9" fill="#F4F4F4" textLength="54.6" lengthAdjust="spacingAndGlyphs">rhANGPTL4</text>
<rect x="500.5" y="561" width="13.5" height="1.8" fill="#000"/>
<line x1="248.4" y1="341.8" x2="248.4" y2="551" stroke="#444" stroke-width="1.2"/>
<text transform="translate(241.5,437.4) rotate(-90)" font-size="10" text-anchor="middle">Conditioned medium</text>
<text transform="translate(266.5,378.6) rotate(-90)" font-size="10" text-anchor="middle">Ctrl</text>
<text transform="translate(266.5,505.3) rotate(-90)" font-size="10" text-anchor="middle"><tspan font-style="italic">Foxf2</tspan> cKO</text>
<text x="529.2" y="317.6" font-size="14.5" fill="#000" font-weight="bold">e</text>
<line x1="561.5" y1="364.6" x2="561.5" y2="480.0" stroke="#000" stroke-width="1.2"/>
<line x1="560.9" y1="479.4" x2="685" y2="479.4" stroke="#000" stroke-width="1.2"/>
<line x1="558.5" y1="479.4" x2="561.5" y2="479.4" stroke="#000" stroke-width="1"/>
<text x="556.3" y="481.8" font-size="6.8" fill="#000" text-anchor="end">0</text>
<line x1="558.5" y1="441.6" x2="561.5" y2="441.6" stroke="#000" stroke-width="1"/>
<text x="556.3" y="444.0" font-size="6.8" fill="#000" text-anchor="end">50</text>
<line x1="558.5" y1="403.8" x2="561.5" y2="403.8" stroke="#000" stroke-width="1"/>
<text x="556.3" y="406.2" font-size="6.8" fill="#000" text-anchor="end">100</text>
<line x1="558.5" y1="366.0" x2="561.5" y2="366.0" stroke="#000" stroke-width="1"/>
<text x="556.3" y="368.4" font-size="6.8" fill="#000" text-anchor="end">150</text>
<text transform="translate(541,419.6) rotate(-90)" font-size="9.9" text-anchor="middle"># of junctions</text>
<circle cx="578.3" cy="409.2" r="1.85" fill="#5AA5F5"/>
<circle cx="578.3" cy="418.6" r="1.85" fill="#5AA5F5"/>
<circle cx="574.6" cy="430.2" r="1.85" fill="#5AA5F5"/>
<circle cx="581.6" cy="431" r="1.85" fill="#5AA5F5"/>
<circle cx="578.3" cy="435.5" r="1.85" fill="#5AA5F5"/>
<line x1="569.0" y1="425.1" x2="587.5999999999999" y2="425.1" stroke="#5AA5F5" stroke-width="1.4"/>
<line x1="573.5" y1="420.4" x2="583.0999999999999" y2="420.4" stroke="#5AA5F5" stroke-width="1.4"/>
<line x1="573.5" y1="429.6" x2="583.0999999999999" y2="429.6" stroke="#5AA5F5" stroke-width="1.4"/>
<line x1="578.3" y1="420.4" x2="578.3" y2="429.6" stroke="#5AA5F5" stroke-width="1.4"/>
<circle cx="601" cy="385" r="1.85" fill="#0A0ACC"/>
<circle cx="608" cy="382.9" r="1.85" fill="#0A0ACC"/>
<circle cx="604.4" cy="409.9" r="1.85" fill="#0A0ACC"/>
<circle cx="604.4" cy="414.6" r="1.85" fill="#0A0ACC"/>
<line x1="595.1" y1="398.1" x2="613.6999999999999" y2="398.1" stroke="#0A0ACC" stroke-width="1.4"/>
<line x1="599.6" y1="389.7" x2="609.1999999999999" y2="389.7" stroke="#0A0ACC" stroke-width="1.4"/>
<line x1="599.6" y1="406.4" x2="609.1999999999999" y2="406.4" stroke="#0A0ACC" stroke-width="1.4"/>
<line x1="604.4" y1="389.7" x2="604.4" y2="406.4" stroke="#0A0ACC" stroke-width="1.4"/>
<rect x="634.0" y="450.2" width="3.6" height="3.6" fill="#F58080"/>
<rect x="641.2" y="451.8" width="3.6" height="3.6" fill="#F58080"/>
<rect x="637.6" y="457.59999999999997" width="3.6" height="3.6" fill="#F58080"/>
<rect x="630.6" y="463.3" width="3.6" height="3.6" fill="#F58080"/>
<rect x="630.6" y="467.2" width="3.6" height="3.6" fill="#F58080"/>
<rect x="637.6" y="467.59999999999997" width="3.6" height="3.6" fill="#F58080"/>
<rect x="644.8000000000001" y="466.2" width="3.6" height="3.6" fill="#F58080"/>
<rect x="644.8000000000001" y="470.7" width="3.6" height="3.6" fill="#F58080"/>
<rect x="630.6" y="472.9" width="3.6" height="3.6" fill="#F58080"/>
<rect x="637.6" y="463.2" width="3.6" height="3.6" fill="#F58080"/>
<line x1="630.1" y1="465.1" x2="648.6999999999999" y2="465.1" stroke="#F58080" stroke-width="1.4"/>
<line x1="634.6" y1="462.4" x2="644.1999999999999" y2="462.4" stroke="#F58080" stroke-width="1.4"/>
<line x1="634.6" y1="467.9" x2="644.1999999999999" y2="467.9" stroke="#F58080" stroke-width="1.4"/>
<line x1="639.4" y1="462.4" x2="639.4" y2="467.9" stroke="#F58080" stroke-width="1.4"/>
<rect x="663.9000000000001" y="401.09999999999997" width="3.6" height="3.6" fill="#F51010"/>
<rect x="663.9000000000001" y="407.3" width="3.6" height="3.6" fill="#F51010"/>
<rect x="663.9000000000001" y="433.2" width="3.6" height="3.6" fill="#F51010"/>
<rect x="656.8000000000001" y="439.9" width="3.6" height="3.6" fill="#F51010"/>
<rect x="663.9000000000001" y="440.4" width="3.6" height="3.6" fill="#F51010"/>
<rect x="671.1" y="439.9" width="3.6" height="3.6" fill="#F51010"/>
<rect x="663.9000000000001" y="445.4" width="3.6" height="3.6" fill="#F51010"/>
<rect x="663.9000000000001" y="455.7" width="3.6" height="3.6" fill="#F51010"/>
<rect x="663.9000000000001" y="465.5" width="3.6" height="3.6" fill="#F51010"/>
<line x1="656.4000000000001" y1="438.1" x2="675.0" y2="438.1" stroke="#F51010" stroke-width="1.4"/>
<line x1="660.9000000000001" y1="431.8" x2="670.5" y2="431.8" stroke="#F51010" stroke-width="1.4"/>
<line x1="660.9000000000001" y1="444.4" x2="670.5" y2="444.4" stroke="#F51010" stroke-width="1.4"/>
<line x1="665.7" y1="431.8" x2="665.7" y2="444.4" stroke="#F51010" stroke-width="1.4"/>
<path d="M572.2 366V359.8H599.8V366" fill="none" stroke="#000" stroke-width="1"/>
<text x="590.0" y="355.2" font-size="10.3" fill="#000" text-anchor="middle"><tspan font-style="italic">p</tspan> = 0.0349</text>
<path d="M577 340.6V331.6H636.5V340.6" fill="none" stroke="#000" stroke-width="1"/>
<text x="606.0" y="327.5" font-size="10.3" fill="#000" text-anchor="middle"><tspan font-style="italic">p</tspan> = 0.0002</text>
<path d="M636.5 390V382.4H664.7V390" fill="none" stroke="#000" stroke-width="1"/>
<text x="656.2" y="378.2" font-size="10.3" fill="#000" text-anchor="middle"><tspan font-style="italic">p</tspan> = 0.0017</text>
<circle cx="555.8" cy="501.4" r="2.6" fill="#5AA5F0"/>
<text x="562.3" y="504.7" font-size="10.2" fill="#000">Ctrl + PBS</text>
<circle cx="555.8" cy="513.6" r="2.6" fill="#0B14C4"/>
<text x="562.3" y="516.9" font-size="10.2" fill="#000">Ctrl + rhANGPTL4</text>
<rect x="553.2" y="523.1" width="5.2" height="5.2" fill="#F47F7F"/>
<text x="562.3" y="529.1" font-size="10.2" fill="#000"><tspan font-style="italic">Foxf2</tspan> cKO + PBS</text>
<rect x="553.2" y="535.5" width="5.2" height="5.2" fill="#F00E0E"/>
<text x="562.3" y="541.6" font-size="10.2" fill="#000"><tspan font-style="italic">Foxf2</tspan> cKO + ANGPTL4</text>
<text x="2.3" y="382.8" font-size="14" fill="#000" font-weight="bold">f</text>
<defs><filter id="hb1" x="-100%" y="-5%" width="300%" height="110%"><feGaussianBlur stdDeviation="1.2"/></filter><filter id="hb2" x="-100%" y="-5%" width="300%" height="110%"><feGaussianBlur stdDeviation="2.2"/></filter><filter id="hb3" x="-100%" y="-5%" width="300%" height="110%"><feGaussianBlur stdDeviation="3.5"/></filter></defs>
<text x="58.4" y="396.3" font-size="10.2" fill="#000" text-anchor="middle">CUT&amp;Tag</text>
<line x1="14.9" y1="402.4" x2="107.2" y2="402.4" stroke="#000" stroke-width="1.2"/>
<text x="162.0" y="396.3" font-size="10.2" fill="#000" text-anchor="middle">CUTAC H3K4me2</text>
<line x1="116.9" y1="402.4" x2="208.9" y2="402.4" stroke="#000" stroke-width="1.2"/>
<text x="27.2" y="417.8" font-size="10.2" fill="#000" text-anchor="middle">IgG</text>
<text x="86.0" y="417.8" font-size="10.2" fill="#000" text-anchor="middle">FOXF2</text>
<text x="132.6" y="417.8" font-size="10.2" fill="#000" text-anchor="middle">Ctrl</text>
<text x="185.0" y="417.8" font-size="10.2" fill="#000" text-anchor="middle"><tspan font-style="italic">Foxf2</tspan> cKO</text>
<clipPath id="hc1"><rect x="8.4" y="423.9" width="44.300000000000004" height="285.70000000000005"/></clipPath>
<g clip-path="url(#hc1)">
<rect x="8.4" y="423.9" width="44.300000000000004" height="285.70000000000005" fill="#F0F6FC"/>
<path fill="#4A8CC8" fill-opacity="0.050" d="M8.4 425.2h44.3v.7H8.4zM8.4 436.9h44.3v.7H8.4zM8.4 446.0h44.3v.7H8.4zM8.4 447.3h44.3v.7H8.4zM8.4 452.5h44.3v.7H8.4zM8.4 475.9h44.3v.7H8.4z"/>
<path fill="#4A8CC8" fill-opacity="0.025" d="M8.4 426.5h44.3v.7H8.4zM8.4 429.1h44.3v.7H8.4zM8.4 430.4h44.3v.7H8.4zM8.4 431.7h44.3v.7H8.4zM8.4 433.0h44.3v.7H8.4zM8.4 438.2h44.3v.7H8.4zM8.4 439.5h44.3v.7H8.4zM8.4 442.1h44.3v.7H8.4zM8.4 443.4h44.3v.7H8.4zM8.4 451.2h44.3v.7H8.4zM8.4 453.8h44.3v.7H8.4zM8.4 456.4h44.3v.7H8.4zM8.4 460.3h44.3v.7H8.4zM8.4 461.6h44.3v.7H8.4zM8.4 466.8h44.3v.7H8.4zM8.4 470.7h44.3v.7H8.4zM8.4 472.0h44.3v.7H8.4zM8.4 473.3h44.3v.7H8.4zM8.4 477.2h44.3v.7H8.4zM8.4 479.8h44.3v.7H8.4zM8.4 481.1h44.3v.7H8.4zM8.4 482.4h44.3v.7H8.4zM8.4 483.7h44.3v.7H8.4zM8.4 485.0h44.3v.7H8.4zM8.4 486.3h44.3v.7H8.4zM8.4 487.6h44.3v.7H8.4zM8.4 490.2h44.3v.7H8.4zM8.4 491.5h44.3v.7H8.4zM8.4 492.8h44.3v.7H8.4zM8.4 494.1h44.3v.7H8.4zM8.4 495.4h44.3v.7H8.4zM8.4 499.3h44.3v.7H8.4zM8.4 500.6h44.3v.7H8.4zM8.4 503.2h44.3v.7H8.4zM8.4 504.5h44.3v.7H8.4zM8.4 505.8h44.3v.7H8.4zM8.4 507.1h44.3v.7H8.4zM8.4 508.4h44.3v.7H8.4zM8.4 509.7h44.3v.7H8.4zM8.4 511.0h44.3v.7H8.4zM8.4 512.3h44.3v.7H8.4zM8.4 513.6h44.3v.7H8.4zM8.4 514.9h44.3v.7H8.4zM8.4 518.8h44.3v.7H8.4zM8.4 520.1h44.3v.7H8.4zM8.4 521.4h44.3v.7H8.4zM8.4 525.3h44.3v.7H8.4zM8.4 526.6h44.3v.7H8.4zM8.4 527.9h44.3v.7H8.4zM8.4 529.2h44.3v.7H8.4zM8.4 530.5h44.3v.7H8.4zM8.4 533.1h44.3v.7H8.4zM8.4 534.4h44.3v.7H8.4zM8.4 535.7h44.3v.7H8.4zM8.4 537.0h44.3v.7H8.4zM8.4 539.6h44.3v.7H8.4zM8.4 540.9h44.3v.7H8.4zM8.4 543.5h44.3v.7H8.4zM8.4 544.8h44.3v.7H8.4zM8.4 546.1h44.3v.7H8.4zM8.4 547.4h44.3v.7H8.4zM8.4 548.7h44.3v.7H8.4zM8.4 550.0h44.3v.7H8.4zM8.4 551.3h44.3v.7H8.4zM8.4 555.2h44.3v.7H8.4zM8.4 556.5h44.3v.7H8.4zM8.4 559.1h44.3v.7H8.4zM8.4 564.3h44.3v.7H8.4zM8.4 565.6h44.3v.7H8.4zM8.4 566.9h44.3v.7H8.4zM8.4 573.4h44.3v.7H8.4zM8.4 574.7h44.3v.7H8.4zM8.4 576.0h44.3v.7H8.4zM8.4 577.3h44.3v.7H8.4zM8.4 578.6h44.3v.7H8.4zM8.4 581.2h44.3v.7H8.4zM8.4 582.5h44.3v.7H8.4zM8.4 587.7h44.3v.7H8.4zM8.4 600.7h44.3v.7H8.4zM8.4 612.4h44.3v.7H8.4zM8.4 617.6h44.3v.7H8.4zM8.4 630.6h44.3v.7H8.4z"/>
<defs><linearGradient id="hg1" x1="0" y1="0" x2="0" y2="1"><stop offset="0" stop-color="#6BAED6" stop-opacity="0.15"/><stop offset="0.5" stop-color="#6BAED6" stop-opacity="0.1"/><stop offset="1" stop-color="#6BAED6" stop-opacity="0.05"/></linearGradient></defs>
<polygon points="25.2,423.9 35.2,423.9 32.8,709.6 27.8,709.6" fill="url(#hg1)" filter="url(#hb3)"/>
<defs><linearGradient id="hg2" x1="0" y1="0" x2="0" y2="1"><stop offset="0" stop-color="#2171B5" stop-opacity="0.1"/><stop offset="0.5" stop-color="#2171B5" stop-opacity="0.07"/><stop offset="1" stop-color="#2171B5" stop-opacity="0.04"/></linearGradient></defs>
<polygon points="28.4,423.9 32.0,423.9 31.2,709.6 29.2,709.6" fill="url(#hg2)" filter="url(#hb1)"/>
<path fill="#fff" fill-opacity="0.04" d="M8.4 424.2h44.3v.6H8.4zM8.4 432.0h44.3v.6H8.4zM8.4 432.9h44.3v.6H8.4zM8.4 433.8h44.3v.6H8.4zM8.4 439.4h44.3v.6H8.4zM8.4 445.9h44.3v.6H8.4zM8.4 449.4h44.3v.6H8.4zM8.4 451.7h44.3v.6H8.4zM8.4 456.0h44.3v.6H8.4zM8.4 469.1h44.3v.6H8.4zM8.4 482.2h44.3v.6H8.4zM8.4 485.8h44.3v.6H8.4zM8.4 491.1h44.3v.6H8.4zM8.4 512.0h44.3v.6H8.4zM8.4 527.7h44.3v.6H8.4zM8.4 535.2h44.3v.6H8.4zM8.4 540.7h44.3v.6H8.4zM8.4 551.7h44.3v.6H8.4zM8.4 552.7h44.3v.6H8.4zM8.4 556.1h44.3v.6H8.4zM8.4 571.4h44.3v.6H8.4zM8.4 572.7h44.3v.6H8.4zM8.4 576.1h44.3v.6H8.4zM8.4 619.9h44.3v.6H8.4zM8.4 622.0h44.3v.6H8.4zM8.4 625.5h44.3v.6H8.4zM8.4 629.8h44.3v.6H8.4zM8.4 644.0h44.3v.6H8.4zM8.4 648.4h44.3v.6H8.4zM8.4 650.5h44.3v.6H8.4zM8.4 657.4h44.3v.6H8.4zM8.4 658.5h44.3v.6H8.4zM8.4 660.6h44.3v.6H8.4zM8.4 673.6h44.3v.6H8.4zM8.4 676.0h44.3v.6H8.4zM8.4 681.3h44.3v.6H8.4zM8.4 693.6h44.3v.6H8.4zM8.4 699.3h44.3v.6H8.4z"/>
<path fill="#fff" fill-opacity="0.24" d="M8.4 425.1h44.3v.6H8.4zM8.4 427.4h44.3v.6H8.4zM8.4 429.5h44.3v.6H8.4zM8.4 435.2h44.3v.6H8.4zM8.4 440.5h44.3v.6H8.4zM8.4 441.7h44.3v.6H8.4zM8.4 444.0h44.3v.6H8.4zM8.4 454.0h44.3v.6H8.4zM8.4 461.3h44.3v.6H8.4zM8.4 475.9h44.3v.6H8.4zM8.4 486.8h44.3v.6H8.4zM8.4 490.3h44.3v.6H8.4zM8.4 492.3h44.3v.6H8.4zM8.4 493.3h44.3v.6H8.4zM8.4 494.4h44.3v.6H8.4zM8.4 496.9h44.3v.6H8.4zM8.4 498.0h44.3v.6H8.4zM8.4 505.5h44.3v.6H8.4zM8.4 513.1h44.3v.6H8.4zM8.4 523.1h44.3v.6H8.4zM8.4 528.7h44.3v.6H8.4zM8.4 533.0h44.3v.6H8.4zM8.4 543.1h44.3v.6H8.4zM8.4 550.6h44.3v.6H8.4zM8.4 561.6h44.3v.6H8.4zM8.4 566.1h44.3v.6H8.4zM8.4 588.2h44.3v.6H8.4zM8.4 590.2h44.3v.6H8.4zM8.4 599.1h44.3v.6H8.4zM8.4 605.7h44.3v.6H8.4zM8.4 606.8h44.3v.6H8.4zM8.4 611.0h44.3v.6H8.4zM8.4 620.9h44.3v.6H8.4zM8.4 631.0h44.3v.6H8.4zM8.4 640.8h44.3v.6H8.4zM8.4 661.6h44.3v.6H8.4zM8.4 667.0h44.3v.6H8.4zM8.4 672.6h44.3v.6H8.4zM8.4 677.1h44.3v.6H8.4zM8.4 679.1h44.3v.6H8.4zM8.4 700.4h44.3v.6H8.4zM8.4 702.2h44.3v.6H8.4zM8.4 708.0h44.3v.6H8.4z"/>
<path fill="#fff" fill-opacity="0.20" d="M8.4 426.2h44.3v.6H8.4zM8.4 437.3h44.3v.6H8.4zM8.4 444.8h44.3v.6H8.4zM8.4 465.9h44.3v.6H8.4zM8.4 471.4h44.3v.6H8.4zM8.4 488.9h44.3v.6H8.4zM8.4 499.0h44.3v.6H8.4zM8.4 501.0h44.3v.6H8.4zM8.4 508.6h44.3v.6H8.4zM8.4 517.6h44.3v.6H8.4zM8.4 518.7h44.3v.6H8.4zM8.4 529.6h44.3v.6H8.4zM8.4 532.0h44.3v.6H8.4zM8.4 537.4h44.3v.6H8.4zM8.4 538.3h44.3v.6H8.4zM8.4 546.1h44.3v.6H8.4zM8.4 547.4h44.3v.6H8.4zM8.4 569.4h44.3v.6H8.4zM8.4 575.0h44.3v.6H8.4zM8.4 582.5h44.3v.6H8.4zM8.4 591.3h44.3v.6H8.4zM8.4 608.8h44.3v.6H8.4zM8.4 615.4h44.3v.6H8.4zM8.4 617.9h44.3v.6H8.4zM8.4 618.8h44.3v.6H8.4zM8.4 626.6h44.3v.6H8.4zM8.4 633.3h44.3v.6H8.4zM8.4 637.6h44.3v.6H8.4zM8.4 647.5h44.3v.6H8.4zM8.4 653.8h44.3v.6H8.4zM8.4 663.8h44.3v.6H8.4zM8.4 671.8h44.3v.6H8.4zM8.4 683.8h44.3v.6H8.4zM8.4 684.9h44.3v.6H8.4zM8.4 695.9h44.3v.6H8.4zM8.4 697.0h44.3v.6H8.4z"/>
<path fill="#fff" fill-opacity="0.08" d="M8.4 428.4h44.3v.6H8.4zM8.4 436.3h44.3v.6H8.4zM8.4 442.8h44.3v.6H8.4zM8.4 450.4h44.3v.6H8.4zM8.4 454.8h44.3v.6H8.4zM8.4 460.4h44.3v.6H8.4zM8.4 463.5h44.3v.6H8.4zM8.4 467.1h44.3v.6H8.4zM8.4 468.1h44.3v.6H8.4zM8.4 473.6h44.3v.6H8.4zM8.4 474.6h44.3v.6H8.4zM8.4 476.8h44.3v.6H8.4zM8.4 479.1h44.3v.6H8.4zM8.4 480.0h44.3v.6H8.4zM8.4 483.6h44.3v.6H8.4zM8.4 495.4h44.3v.6H8.4zM8.4 502.3h44.3v.6H8.4zM8.4 507.6h44.3v.6H8.4zM8.4 510.8h44.3v.6H8.4zM8.4 515.4h44.3v.6H8.4zM8.4 519.9h44.3v.6H8.4zM8.4 524.4h44.3v.6H8.4zM8.4 536.2h44.3v.6H8.4zM8.4 539.7h44.3v.6H8.4zM8.4 544.1h44.3v.6H8.4zM8.4 557.1h44.3v.6H8.4zM8.4 562.6h44.3v.6H8.4zM8.4 563.8h44.3v.6H8.4zM8.4 564.9h44.3v.6H8.4zM8.4 581.4h44.3v.6H8.4zM8.4 592.6h44.3v.6H8.4zM8.4 607.8h44.3v.6H8.4zM8.4 627.7h44.3v.6H8.4zM8.4 628.7h44.3v.6H8.4zM8.4 631.9h44.3v.6H8.4zM8.4 646.4h44.3v.6H8.4zM8.4 653.1h44.3v.6H8.4zM8.4 656.2h44.3v.6H8.4zM8.4 668.4h44.3v.6H8.4zM8.4 680.2h44.3v.6H8.4zM8.4 692.3h44.3v.6H8.4zM8.4 698.1h44.3v.6H8.4z"/>
<path fill="#fff" fill-opacity="0.28" d="M8.4 430.7h44.3v.6H8.4zM8.4 448.2h44.3v.6H8.4zM8.4 458.0h44.3v.6H8.4zM8.4 462.8h44.3v.6H8.4zM8.4 464.8h44.3v.6H8.4zM8.4 470.2h44.3v.6H8.4zM8.4 472.6h44.3v.6H8.4zM8.4 487.7h44.3v.6H8.4zM8.4 503.1h44.3v.6H8.4zM8.4 534.3h44.3v.6H8.4zM8.4 545.3h44.3v.6H8.4zM8.4 549.7h44.3v.6H8.4zM8.4 554.1h44.3v.6H8.4zM8.4 567.2h44.3v.6H8.4zM8.4 589.1h44.3v.6H8.4zM8.4 604.6h44.3v.6H8.4zM8.4 639.6h44.3v.6H8.4zM8.4 655.2h44.3v.6H8.4zM8.4 666.3h44.3v.6H8.4z"/>
<path fill="#fff" fill-opacity="0.16" d="M8.4 438.4h44.3v.6H8.4zM8.4 459.2h44.3v.6H8.4zM8.4 478.0h44.3v.6H8.4zM8.4 481.1h44.3v.6H8.4zM8.4 504.5h44.3v.6H8.4zM8.4 509.9h44.3v.6H8.4zM8.4 516.3h44.3v.6H8.4zM8.4 526.2h44.3v.6H8.4zM8.4 554.8h44.3v.6H8.4zM8.4 560.3h44.3v.6H8.4zM8.4 573.8h44.3v.6H8.4zM8.4 577.0h44.3v.6H8.4zM8.4 578.0h44.3v.6H8.4zM8.4 579.1h44.3v.6H8.4zM8.4 586.8h44.3v.6H8.4zM8.4 593.4h44.3v.6H8.4zM8.4 598.0h44.3v.6H8.4zM8.4 601.3h44.3v.6H8.4zM8.4 602.4h44.3v.6H8.4zM8.4 603.4h44.3v.6H8.4zM8.4 610.1h44.3v.6H8.4zM8.4 613.1h44.3v.6H8.4zM8.4 616.4h44.3v.6H8.4zM8.4 623.3h44.3v.6H8.4zM8.4 624.2h44.3v.6H8.4zM8.4 635.5h44.3v.6H8.4zM8.4 638.5h44.3v.6H8.4zM8.4 642.0h44.3v.6H8.4zM8.4 642.9h44.3v.6H8.4zM8.4 651.6h44.3v.6H8.4zM8.4 662.8h44.3v.6H8.4zM8.4 664.9h44.3v.6H8.4zM8.4 669.4h44.3v.6H8.4zM8.4 682.4h44.3v.6H8.4zM8.4 685.9h44.3v.6H8.4zM8.4 687.2h44.3v.6H8.4zM8.4 689.4h44.3v.6H8.4zM8.4 690.2h44.3v.6H8.4zM8.4 691.4h44.3v.6H8.4z"/>
<path fill="#fff" fill-opacity="0.12" d="M8.4 452.9h44.3v.6H8.4zM8.4 484.7h44.3v.6H8.4zM8.4 499.9h44.3v.6H8.4zM8.4 506.6h44.3v.6H8.4zM8.4 514.3h44.3v.6H8.4zM8.4 520.9h44.3v.6H8.4zM8.4 521.9h44.3v.6H8.4zM8.4 530.9h44.3v.6H8.4zM8.4 548.5h44.3v.6H8.4zM8.4 559.3h44.3v.6H8.4zM8.4 568.2h44.3v.6H8.4zM8.4 570.4h44.3v.6H8.4zM8.4 580.1h44.3v.6H8.4zM8.4 583.7h44.3v.6H8.4zM8.4 584.8h44.3v.6H8.4zM8.4 594.6h44.3v.6H8.4zM8.4 595.5h44.3v.6H8.4zM8.4 596.8h44.3v.6H8.4zM8.4 600.2h44.3v.6H8.4zM8.4 612.2h44.3v.6H8.4zM8.4 614.5h44.3v.6H8.4zM8.4 636.3h44.3v.6H8.4zM8.4 645.3h44.3v.6H8.4zM8.4 649.6h44.3v.6H8.4zM8.4 659.5h44.3v.6H8.4zM8.4 670.7h44.3v.6H8.4zM8.4 694.9h44.3v.6H8.4zM8.4 703.5h44.3v.6H8.4zM8.4 705.7h44.3v.6H8.4zM8.4 706.7h44.3v.6H8.4z"/>
</g>
<path d="M8.4 709.6V423.9H52.7V709.6" fill="none" stroke="#777" stroke-width="0.9"/>
<line x1="8.4" y1="709.6" x2="8.4" y2="712.1" stroke="#555" stroke-width="0.8"/>
<line x1="30.55" y1="709.6" x2="30.55" y2="712.1" stroke="#555" stroke-width="0.8"/>
<line x1="52.7" y1="709.6" x2="52.7" y2="712.1" stroke="#555" stroke-width="0.8"/>
<clipPath id="hc2"><rect x="65.8" y="423.9" width="43.8" height="285.70000000000005"/></clipPath>
<g clip-path="url(#hc2)">
<rect x="65.8" y="423.9" width="43.8" height="285.70000000000005" fill="#F0F6FC"/>
<defs><linearGradient id="hg3" x1="0" y1="0" x2="0" y2="1"><stop offset="0" stop-color="#6FA8D8" stop-opacity="0.25"/><stop offset="0.35" stop-color="#6FA8D8" stop-opacity="0.1125"/><stop offset="0.7" stop-color="#6FA8D8" stop-opacity="0.0375"/><stop offset="1" stop-color="#6FA8D8" stop-opacity="0"/></linearGradient></defs>
<rect x="65.8" y="423.9" width="43.8" height="285.70000000000005" fill="url(#hg3)"/>
<path fill="#4A8CC8" fill-opacity="0.100" d="M65.8 423.9h43.8v.7H65.8zM65.8 425.2h43.8v.7H65.8zM65.8 443.4h43.8v.7H65.8zM65.8 444.7h43.8v.7H65.8z"/>
<path fill="#4A8CC8" fill-opacity="0.075" d="M65.8 429.1h43.8v.7H65.8zM65.8 430.4h43.8v.7H65.8zM65.8 431.7h43.8v.7H65.8zM65.8 442.1h43.8v.7H65.8zM65.8 456.4h43.8v.7H65.8zM65.8 466.8h43.8v.7H65.8zM65.8 470.7h43.8v.7H65.8zM65.8 472.0h43.8v.7H65.8zM65.8 474.6h43.8v.7H65.8zM65.8 477.2h43.8v.7H65.8zM65.8 479.8h43.8v.7H65.8zM65.8 481.1h43.8v.7H65.8zM65.8 490.2h43.8v.7H65.8zM65.8 492.8h43.8v.7H65.8zM65.8 495.4h43.8v.7H65.8zM65.8 496.7h43.8v.7H65.8zM65.8 500.6h43.8v.7H65.8zM65.8 509.7h43.8v.7H65.8zM65.8 512.3h43.8v.7H65.8zM65.8 514.9h43.8v.7H65.8z"/>
<path fill="#4A8CC8" fill-opacity="0.025" d="M65.8 433.0h43.8v.7H65.8zM65.8 438.2h43.8v.7H65.8zM65.8 440.8h43.8v.7H65.8zM65.8 448.6h43.8v.7H65.8zM65.8 453.8h43.8v.7H65.8zM65.8 455.1h43.8v.7H65.8zM65.8 460.3h43.8v.7H65.8zM65.8 462.9h43.8v.7H65.8zM65.8 469.4h43.8v.7H65.8zM65.8 478.5h43.8v.7H65.8zM65.8 482.4h43.8v.7H65.8zM65.8 486.3h43.8v.7H65.8zM65.8 494.1h43.8v.7H65.8zM65.8 498.0h43.8v.7H65.8zM65.8 503.2h43.8v.7H65.8zM65.8 504.5h43.8v.7H65.8zM65.8 505.8h43.8v.7H65.8zM65.8 511.0h43.8v.7H65.8zM65.8 513.6h43.8v.7H65.8zM65.8 517.5h43.8v.7H65.8zM65.8 518.8h43.8v.7H65.8zM65.8 522.7h43.8v.7H65.8zM65.8 524.0h43.8v.7H65.8zM65.8 525.3h43.8v.7H65.8zM65.8 539.6h43.8v.7H65.8zM65.8 540.9h43.8v.7H65.8zM65.8 544.8h43.8v.7H65.8zM65.8 547.4h43.8v.7H65.8zM65.8 551.3h43.8v.7H65.8zM65.8 555.2h43.8v.7H65.8zM65.8 557.8h43.8v.7H65.8zM65.8 563.0h43.8v.7H65.8zM65.8 565.6h43.8v.7H65.8zM65.8 570.8h43.8v.7H65.8zM65.8 572.1h43.8v.7H65.8zM65.8 578.6h43.8v.7H65.8zM65.8 579.9h43.8v.7H65.8zM65.8 581.2h43.8v.7H65.8zM65.8 583.8h43.8v.7H65.8zM65.8 586.4h43.8v.7H65.8zM65.8 587.7h43.8v.7H65.8zM65.8 589.0h43.8v.7H65.8zM65.8 591.6h43.8v.7H65.8zM65.8 592.9h43.8v.7H65.8zM65.8 594.2h43.8v.7H65.8zM65.8 595.5h43.8v.7H65.8zM65.8 598.1h43.8v.7H65.8zM65.8 602.0h43.8v.7H65.8zM65.8 603.3h43.8v.7H65.8zM65.8 605.9h43.8v.7H65.8zM65.8 607.2h43.8v.7H65.8zM65.8 608.5h43.8v.7H65.8zM65.8 611.1h43.8v.7H65.8zM65.8 613.7h43.8v.7H65.8zM65.8 615.0h43.8v.7H65.8zM65.8 617.6h43.8v.7H65.8zM65.8 625.4h43.8v.7H65.8zM65.8 626.7h43.8v.7H65.8zM65.8 628.0h43.8v.7H65.8zM65.8 629.3h43.8v.7H65.8zM65.8 630.6h43.8v.7H65.8zM65.8 635.8h43.8v.7H65.8zM65.8 637.1h43.8v.7H65.8zM65.8 638.4h43.8v.7H65.8zM65.8 639.7h43.8v.7H65.8zM65.8 650.1h43.8v.7H65.8zM65.8 664.4h43.8v.7H65.8zM65.8 665.7h43.8v.7H65.8zM65.8 682.6h43.8v.7H65.8zM65.8 686.5h43.8v.7H65.8zM65.8 694.3h43.8v.7H65.8z"/>
<path fill="#4A8CC8" fill-opacity="0.050" d="M65.8 434.3h43.8v.7H65.8zM65.8 435.6h43.8v.7H65.8zM65.8 436.9h43.8v.7H65.8zM65.8 439.5h43.8v.7H65.8zM65.8 446.0h43.8v.7H65.8zM65.8 447.3h43.8v.7H65.8zM65.8 452.5h43.8v.7H65.8zM65.8 457.7h43.8v.7H65.8zM65.8 459.0h43.8v.7H65.8zM65.8 465.5h43.8v.7H65.8zM65.8 468.1h43.8v.7H65.8zM65.8 473.3h43.8v.7H65.8zM65.8 475.9h43.8v.7H65.8zM65.8 483.7h43.8v.7H65.8zM65.8 485.0h43.8v.7H65.8zM65.8 487.6h43.8v.7H65.8zM65.8 488.9h43.8v.7H65.8zM65.8 491.5h43.8v.7H65.8zM65.8 499.3h43.8v.7H65.8zM65.8 501.9h43.8v.7H65.8zM65.8 507.1h43.8v.7H65.8zM65.8 516.2h43.8v.7H65.8zM65.8 520.1h43.8v.7H65.8zM65.8 521.4h43.8v.7H65.8zM65.8 526.6h43.8v.7H65.8zM65.8 527.9h43.8v.7H65.8zM65.8 530.5h43.8v.7H65.8zM65.8 531.8h43.8v.7H65.8zM65.8 533.1h43.8v.7H65.8zM65.8 535.7h43.8v.7H65.8zM65.8 538.3h43.8v.7H65.8zM65.8 542.2h43.8v.7H65.8zM65.8 546.1h43.8v.7H65.8zM65.8 550.0h43.8v.7H65.8zM65.8 552.6h43.8v.7H65.8zM65.8 560.4h43.8v.7H65.8zM65.8 566.9h43.8v.7H65.8zM65.8 574.7h43.8v.7H65.8zM65.8 590.3h43.8v.7H65.8z"/>
<defs><linearGradient id="hg4" x1="0" y1="0" x2="0" y2="1"><stop offset="0" stop-color="#6BAED6" stop-opacity="0.55"/><stop offset="0.5" stop-color="#6BAED6" stop-opacity="0.3"/><stop offset="1" stop-color="#6BAED6" stop-opacity="0.15"/></linearGradient></defs>
<polygon points="75.4,423.9 99.4,423.9 90.9,709.6 83.9,709.6" fill="url(#hg4)" filter="url(#hb3)"/>
<defs><linearGradient id="hg5" x1="0" y1="0" x2="0" y2="1"><stop offset="0" stop-color="#2171B5" stop-opacity="0.8"/><stop offset="0.5" stop-color="#2171B5" stop-opacity="0.72"/><stop offset="1" stop-color="#2171B5" stop-opacity="0.55"/></linearGradient></defs>
<polygon points="80.9,423.9 93.9,423.9 88.9,709.6 85.9,709.6" fill="url(#hg5)" filter="url(#hb2)"/>
<defs><linearGradient id="hg6" x1="0" y1="0" x2="0" y2="1"><stop offset="0" stop-color="#08519C" stop-opacity="0.75"/><stop offset="0.5" stop-color="#08519C" stop-opacity="0.68"/><stop offset="1" stop-color="#08519C" stop-opacity="0.5"/></linearGradient></defs>
<polygon points="84.4,423.9 90.4,423.9 88.2,709.6 86.6,709.6" fill="url(#hg6)" filter="url(#hb1)"/>
<path fill="#fff" fill-opacity="0.04" d="M65.8 424.3h43.8v.6H65.8zM65.8 425.3h43.8v.6H65.8zM65.8 428.5h43.8v.6H65.8zM65.8 429.4h43.8v.6H65.8zM65.8 447.4h43.8v.6H65.8zM65.8 454.9h43.8v.6H65.8zM65.8 457.2h43.8v.6H65.8zM65.8 466.1h43.8v.6H65.8zM65.8 483.7h43.8v.6H65.8zM65.8 486.8h43.8v.6H65.8zM65.8 488.0h43.8v.6H65.8zM65.8 491.2h43.8v.6H65.8zM65.8 492.5h43.8v.6H65.8zM65.8 498.7h43.8v.6H65.8zM65.8 500.1h43.8v.6H65.8zM65.8 504.3h43.8v.6H65.8zM65.8 525.5h43.8v.6H65.8zM65.8 534.0h43.8v.6H65.8zM65.8 535.1h43.8v.6H65.8zM65.8 553.0h43.8v.6H65.8zM65.8 554.1h43.8v.6H65.8zM65.8 561.7h43.8v.6H65.8zM65.8 563.6h43.8v.6H65.8zM65.8 585.6h43.8v.6H65.8zM65.8 587.1h43.8v.6H65.8zM65.8 589.3h43.8v.6H65.8zM65.8 591.1h43.8v.6H65.8zM65.8 592.3h43.8v.6H65.8zM65.8 599.9h43.8v.6H65.8zM65.8 603.6h43.8v.6H65.8zM65.8 604.5h43.8v.6H65.8zM65.8 605.4h43.8v.6H65.8zM65.8 612.1h43.8v.6H65.8zM65.8 624.3h43.8v.6H65.8zM65.8 631.8h43.8v.6H65.8zM65.8 634.2h43.8v.6H65.8zM65.8 637.4h43.8v.6H65.8zM65.8 653.9h43.8v.6H65.8zM65.8 655.1h43.8v.6H65.8zM65.8 657.2h43.8v.6H65.8zM65.8 665.1h43.8v.6H65.8zM65.8 671.5h43.8v.6H65.8zM65.8 677.3h43.8v.6H65.8zM65.8 679.5h43.8v.6H65.8zM65.8 684.9h43.8v.6H65.8zM65.8 691.5h43.8v.6H65.8zM65.8 701.2h43.8v.6H65.8zM65.8 704.8h43.8v.6H65.8zM65.8 705.7h43.8v.6H65.8z"/>
<path fill="#fff" fill-opacity="0.12" d="M65.8 426.3h43.8v.6H65.8zM65.8 435.1h43.8v.6H65.8zM65.8 441.6h43.8v.6H65.8zM65.8 442.7h43.8v.6H65.8zM65.8 453.9h43.8v.6H65.8zM65.8 463.6h43.8v.6H65.8zM65.8 467.0h43.8v.6H65.8zM65.8 474.7h43.8v.6H65.8zM65.8 489.0h43.8v.6H65.8zM65.8 493.2h43.8v.6H65.8zM65.8 495.7h43.8v.6H65.8zM65.8 505.5h43.8v.6H65.8zM65.8 509.9h43.8v.6H65.8zM65.8 512.2h43.8v.6H65.8zM65.8 523.0h43.8v.6H65.8zM65.8 526.5h43.8v.6H65.8zM65.8 528.4h43.8v.6H65.8zM65.8 529.6h43.8v.6H65.8zM65.8 532.1h43.8v.6H65.8zM65.8 536.4h43.8v.6H65.8zM65.8 539.7h43.8v.6H65.8zM65.8 549.4h43.8v.6H65.8zM65.8 551.6h43.8v.6H65.8zM65.8 569.2h43.8v.6H65.8zM65.8 578.1h43.8v.6H65.8zM65.8 583.7h43.8v.6H65.8zM65.8 607.7h43.8v.6H65.8zM65.8 614.3h43.8v.6H65.8zM65.8 615.4h43.8v.6H65.8zM65.8 616.6h43.8v.6H65.8zM65.8 618.8h43.8v.6H65.8zM65.8 636.6h43.8v.6H65.8zM65.8 640.8h43.8v.6H65.8zM65.8 647.4h43.8v.6H65.8zM65.8 651.8h43.8v.6H65.8zM65.8 652.8h43.8v.6H65.8zM65.8 668.2h43.8v.6H65.8zM65.8 672.7h43.8v.6H65.8zM65.8 685.9h43.8v.6H65.8zM65.8 688.1h43.8v.6H65.8zM65.8 700.0h43.8v.6H65.8zM65.8 706.9h43.8v.6H65.8z"/>
<path fill="#fff" fill-opacity="0.20" d="M65.8 427.4h43.8v.6H65.8zM65.8 432.0h43.8v.6H65.8zM65.8 432.7h43.8v.6H65.8zM65.8 434.1h43.8v.6H65.8zM65.8 450.7h43.8v.6H65.8zM65.8 452.6h43.8v.6H65.8zM65.8 458.2h43.8v.6H65.8zM65.8 460.4h43.8v.6H65.8zM65.8 468.1h43.8v.6H65.8zM65.8 469.4h43.8v.6H65.8zM65.8 471.3h43.8v.6H65.8zM65.8 472.6h43.8v.6H65.8zM65.8 478.0h43.8v.6H65.8zM65.8 479.3h43.8v.6H65.8zM65.8 481.5h43.8v.6H65.8zM65.8 484.7h43.8v.6H65.8zM65.8 485.6h43.8v.6H65.8zM65.8 494.6h43.8v.6H65.8zM65.8 501.2h43.8v.6H65.8zM65.8 502.2h43.8v.6H65.8zM65.8 515.3h43.8v.6H65.8zM65.8 516.6h43.8v.6H65.8zM65.8 542.9h43.8v.6H65.8zM65.8 544.2h43.8v.6H65.8zM65.8 546.4h43.8v.6H65.8zM65.8 548.4h43.8v.6H65.8zM65.8 557.4h43.8v.6H65.8zM65.8 572.6h43.8v.6H65.8zM65.8 588.2h43.8v.6H65.8zM65.8 593.4h43.8v.6H65.8zM65.8 602.3h43.8v.6H65.8zM65.8 610.2h43.8v.6H65.8zM65.8 619.8h43.8v.6H65.8zM65.8 622.2h43.8v.6H65.8zM65.8 627.7h43.8v.6H65.8zM65.8 638.7h43.8v.6H65.8zM65.8 641.9h43.8v.6H65.8zM65.8 643.0h43.8v.6H65.8zM65.8 643.9h43.8v.6H65.8zM65.8 649.5h43.8v.6H65.8zM65.8 667.1h43.8v.6H65.8zM65.8 675.1h43.8v.6H65.8zM65.8 681.5h43.8v.6H65.8zM65.8 692.7h43.8v.6H65.8zM65.8 693.4h43.8v.6H65.8zM65.8 696.9h43.8v.6H65.8zM65.8 698.0h43.8v.6H65.8zM65.8 703.5h43.8v.6H65.8z"/>
<path fill="#fff" fill-opacity="0.16" d="M65.8 430.8h43.8v.6H65.8zM65.8 437.2h43.8v.6H65.8zM65.8 462.7h43.8v.6H65.8zM65.8 464.6h43.8v.6H65.8zM65.8 490.0h43.8v.6H65.8zM65.8 497.7h43.8v.6H65.8zM65.8 508.7h43.8v.6H65.8zM65.8 518.5h43.8v.6H65.8zM65.8 519.8h43.8v.6H65.8zM65.8 558.3h43.8v.6H65.8zM65.8 568.1h43.8v.6H65.8zM65.8 573.6h43.8v.6H65.8zM65.8 576.0h43.8v.6H65.8zM65.8 580.4h43.8v.6H65.8zM65.8 581.4h43.8v.6H65.8zM65.8 584.7h43.8v.6H65.8zM65.8 597.9h43.8v.6H65.8zM65.8 598.9h43.8v.6H65.8zM65.8 613.4h43.8v.6H65.8zM65.8 625.3h43.8v.6H65.8zM65.8 626.6h43.8v.6H65.8zM65.8 631.0h43.8v.6H65.8zM65.8 632.9h43.8v.6H65.8zM65.8 656.2h43.8v.6H65.8zM65.8 659.4h43.8v.6H65.8zM65.8 670.3h43.8v.6H65.8zM65.8 673.6h43.8v.6H65.8zM65.8 690.2h43.8v.6H65.8zM65.8 694.7h43.8v.6H65.8zM65.8 695.6h43.8v.6H65.8zM65.8 702.3h43.8v.6H65.8z"/>
<path fill="#fff" fill-opacity="0.24" d="M65.8 436.2h43.8v.6H65.8zM65.8 444.0h43.8v.6H65.8zM65.8 445.0h43.8v.6H65.8zM65.8 449.2h43.8v.6H65.8zM65.8 459.2h43.8v.6H65.8zM65.8 482.4h43.8v.6H65.8zM65.8 503.4h43.8v.6H65.8zM65.8 513.2h43.8v.6H65.8zM65.8 514.1h43.8v.6H65.8zM65.8 517.6h43.8v.6H65.8zM65.8 521.0h43.8v.6H65.8zM65.8 530.7h43.8v.6H65.8zM65.8 537.3h43.8v.6H65.8zM65.8 538.4h43.8v.6H65.8zM65.8 542.0h43.8v.6H65.8zM65.8 545.2h43.8v.6H65.8zM65.8 556.0h43.8v.6H65.8zM65.8 559.3h43.8v.6H65.8zM65.8 562.6h43.8v.6H65.8zM65.8 571.4h43.8v.6H65.8zM65.8 590.1h43.8v.6H65.8zM65.8 601.4h43.8v.6H65.8zM65.8 608.9h43.8v.6H65.8zM65.8 611.1h43.8v.6H65.8zM65.8 617.8h43.8v.6H65.8zM65.8 629.9h43.8v.6H65.8zM65.8 639.6h43.8v.6H65.8zM65.8 645.1h43.8v.6H65.8zM65.8 648.5h43.8v.6H65.8zM65.8 650.8h43.8v.6H65.8zM65.8 658.4h43.8v.6H65.8zM65.8 660.7h43.8v.6H65.8zM65.8 662.7h43.8v.6H65.8zM65.8 669.4h43.8v.6H65.8zM65.8 676.0h43.8v.6H65.8zM65.8 680.5h43.8v.6H65.8z"/>
<path fill="#fff" fill-opacity="0.28" d="M65.8 438.4h43.8v.6H65.8zM65.8 439.6h43.8v.6H65.8zM65.8 456.0h43.8v.6H65.8zM65.8 461.5h43.8v.6H65.8zM65.8 470.3h43.8v.6H65.8zM65.8 475.9h43.8v.6H65.8zM65.8 507.7h43.8v.6H65.8zM65.8 533.1h43.8v.6H65.8zM65.8 550.5h43.8v.6H65.8zM65.8 577.0h43.8v.6H65.8zM65.8 582.7h43.8v.6H65.8zM65.8 594.4h43.8v.6H65.8zM65.8 635.5h43.8v.6H65.8zM65.8 678.1h43.8v.6H65.8zM65.8 687.0h43.8v.6H65.8z"/>
<path fill="#fff" fill-opacity="0.08" d="M65.8 440.7h43.8v.6H65.8zM65.8 445.9h43.8v.6H65.8zM65.8 451.5h43.8v.6H65.8zM65.8 473.7h43.8v.6H65.8zM65.8 496.8h43.8v.6H65.8zM65.8 511.1h43.8v.6H65.8zM65.8 522.1h43.8v.6H65.8zM65.8 524.1h43.8v.6H65.8zM65.8 527.4h43.8v.6H65.8zM65.8 540.8h43.8v.6H65.8zM65.8 547.5h43.8v.6H65.8zM65.8 554.8h43.8v.6H65.8zM65.8 560.5h43.8v.6H65.8zM65.8 564.8h43.8v.6H65.8zM65.8 566.0h43.8v.6H65.8zM65.8 567.0h43.8v.6H65.8zM65.8 574.9h43.8v.6H65.8zM65.8 579.2h43.8v.6H65.8zM65.8 597.0h43.8v.6H65.8zM65.8 621.2h43.8v.6H65.8zM65.8 646.2h43.8v.6H65.8zM65.8 661.8h43.8v.6H65.8zM65.8 666.0h43.8v.6H65.8zM65.8 682.6h43.8v.6H65.8zM65.8 689.2h43.8v.6H65.8zM65.8 699.2h43.8v.6H65.8zM65.8 707.8h43.8v.6H65.8z"/>
<defs><linearGradient id="hg7" x1="0" y1="0" x2="0" y2="1"><stop offset="0" stop-color="#1A68B0" stop-opacity="0.7200000000000001"/><stop offset="0.5" stop-color="#1A68B0" stop-opacity="0.36000000000000004"/><stop offset="1" stop-color="#1A68B0" stop-opacity="0"/></linearGradient></defs>
<polygon points="71.1,423.9 104.3,423.9 93.9,443.9 80.9,443.9" fill="url(#hg7)" filter="url(#hb2)"/>
<defs><linearGradient id="hg8" x1="0" y1="0" x2="0" y2="1"><stop offset="0" stop-color="#1160AA" stop-opacity="0.8"/><stop offset="0.35" stop-color="#1160AA" stop-opacity="0.4"/><stop offset="1" stop-color="#1160AA" stop-opacity="0"/></linearGradient></defs>
<rect x="65.8" y="423.9" width="43.8" height="5" fill="url(#hg8)"/>
</g>
<path d="M65.8 709.6V423.9H109.6V709.6" fill="none" stroke="#777" stroke-width="0.9"/>
<line x1="65.8" y1="709.6" x2="65.8" y2="712.1" stroke="#555" stroke-width="0.8"/>
<line x1="87.69999999999999" y1="709.6" x2="87.69999999999999" y2="712.1" stroke="#555" stroke-width="0.8"/>
<line x1="109.6" y1="709.6" x2="109.6" y2="712.1" stroke="#555" stroke-width="0.8"/>
<clipPath id="hc3"><rect x="114.2" y="423.9" width="43.999999999999986" height="285.70000000000005"/></clipPath>
<g clip-path="url(#hc3)">
<rect x="114.2" y="423.9" width="43.999999999999986" height="285.70000000000005" fill="#F0F6FC"/>
<defs><linearGradient id="hg9" x1="0" y1="0" x2="0" y2="1"><stop offset="0" stop-color="#6FA8D8" stop-opacity="0.28"/><stop offset="0.35" stop-color="#6FA8D8" stop-opacity="0.12600000000000003"/><stop offset="0.7" stop-color="#6FA8D8" stop-opacity="0.042"/><stop offset="1" stop-color="#6FA8D8" stop-opacity="0"/></linearGradient></defs>
<rect x="114.2" y="423.9" width="43.999999999999986" height="285.70000000000005" fill="url(#hg9)"/>
<path fill="#4A8CC8" fill-opacity="0.025" d="M114.2 423.9h44.0v.7H114.2zM114.2 434.3h44.0v.7H114.2zM114.2 435.6h44.0v.7H114.2zM114.2 443.4h44.0v.7H114.2zM114.2 455.1h44.0v.7H114.2zM114.2 473.3h44.0v.7H114.2zM114.2 474.6h44.0v.7H114.2zM114.2 479.8h44.0v.7H114.2zM114.2 482.4h44.0v.7H114.2zM114.2 483.7h44.0v.7H114.2zM114.2 495.4h44.0v.7H114.2zM114.2 503.2h44.0v.7H114.2zM114.2 507.1h44.0v.7H114.2zM114.2 514.9h44.0v.7H114.2zM114.2 517.5h44.0v.7H114.2zM114.2 526.6h44.0v.7H114.2zM114.2 530.5h44.0v.7H114.2zM114.2 533.1h44.0v.7H114.2zM114.2 538.3h44.0v.7H114.2zM114.2 539.6h44.0v.7H114.2zM114.2 546.1h44.0v.7H114.2zM114.2 550.0h44.0v.7H114.2zM114.2 551.3h44.0v.7H114.2zM114.2 552.6h44.0v.7H114.2zM114.2 555.2h44.0v.7H114.2zM114.2 556.5h44.0v.7H114.2zM114.2 557.8h44.0v.7H114.2zM114.2 560.4h44.0v.7H114.2zM114.2 561.7h44.0v.7H114.2zM114.2 564.3h44.0v.7H114.2zM114.2 565.6h44.0v.7H114.2zM114.2 568.2h44.0v.7H114.2zM114.2 569.5h44.0v.7H114.2zM114.2 572.1h44.0v.7H114.2zM114.2 573.4h44.0v.7H114.2zM114.2 576.0h44.0v.7H114.2zM114.2 577.3h44.0v.7H114.2zM114.2 579.9h44.0v.7H114.2zM114.2 581.2h44.0v.7H114.2zM114.2 582.5h44.0v.7H114.2zM114.2 583.8h44.0v.7H114.2zM114.2 585.1h44.0v.7H114.2zM114.2 586.4h44.0v.7H114.2zM114.2 590.3h44.0v.7H114.2zM114.2 594.2h44.0v.7H114.2zM114.2 595.5h44.0v.7H114.2zM114.2 596.8h44.0v.7H114.2zM114.2 598.1h44.0v.7H114.2zM114.2 599.4h44.0v.7H114.2zM114.2 600.7h44.0v.7H114.2zM114.2 602.0h44.0v.7H114.2zM114.2 603.3h44.0v.7H114.2zM114.2 604.6h44.0v.7H114.2zM114.2 605.9h44.0v.7H114.2zM114.2 608.5h44.0v.7H114.2zM114.2 609.8h44.0v.7H114.2zM114.2 613.7h44.0v.7H114.2zM114.2 617.6h44.0v.7H114.2zM114.2 618.9h44.0v.7H114.2zM114.2 624.1h44.0v.7H114.2zM114.2 625.4h44.0v.7H114.2zM114.2 626.7h44.0v.7H114.2zM114.2 630.6h44.0v.7H114.2zM114.2 631.9h44.0v.7H114.2zM114.2 633.2h44.0v.7H114.2zM114.2 637.1h44.0v.7H114.2zM114.2 639.7h44.0v.7H114.2zM114.2 641.0h44.0v.7H114.2zM114.2 644.9h44.0v.7H114.2zM114.2 646.2h44.0v.7H114.2zM114.2 647.5h44.0v.7H114.2zM114.2 652.7h44.0v.7H114.2zM114.2 660.5h44.0v.7H114.2zM114.2 664.4h44.0v.7H114.2zM114.2 665.7h44.0v.7H114.2zM114.2 667.0h44.0v.7H114.2zM114.2 669.6h44.0v.7H114.2zM114.2 670.9h44.0v.7H114.2zM114.2 673.5h44.0v.7H114.2zM114.2 674.8h44.0v.7H114.2zM114.2 686.5h44.0v.7H114.2zM114.2 689.1h44.0v.7H114.2zM114.2 691.7h44.0v.7H114.2zM114.2 693.0h44.0v.7H114.2zM114.2 694.3h44.0v.7H114.2zM114.2 698.2h44.0v.7H114.2zM114.2 706.0h44.0v.7H114.2z"/>
<path fill="#4A8CC8" fill-opacity="0.050" d="M114.2 425.2h44.0v.7H114.2zM114.2 426.5h44.0v.7H114.2zM114.2 438.2h44.0v.7H114.2zM114.2 440.8h44.0v.7H114.2zM114.2 447.3h44.0v.7H114.2zM114.2 453.8h44.0v.7H114.2zM114.2 459.0h44.0v.7H114.2zM114.2 465.5h44.0v.7H114.2zM114.2 468.1h44.0v.7H114.2zM114.2 477.2h44.0v.7H114.2zM114.2 478.5h44.0v.7H114.2zM114.2 481.1h44.0v.7H114.2zM114.2 485.0h44.0v.7H114.2zM114.2 486.3h44.0v.7H114.2zM114.2 488.9h44.0v.7H114.2zM114.2 494.1h44.0v.7H114.2zM114.2 500.6h44.0v.7H114.2zM114.2 501.9h44.0v.7H114.2zM114.2 505.8h44.0v.7H114.2zM114.2 513.6h44.0v.7H114.2zM114.2 518.8h44.0v.7H114.2zM114.2 522.7h44.0v.7H114.2zM114.2 525.3h44.0v.7H114.2zM114.2 535.7h44.0v.7H114.2zM114.2 540.9h44.0v.7H114.2zM114.2 544.8h44.0v.7H114.2zM114.2 547.4h44.0v.7H114.2zM114.2 548.7h44.0v.7H114.2zM114.2 553.9h44.0v.7H114.2zM114.2 559.1h44.0v.7H114.2zM114.2 563.0h44.0v.7H114.2zM114.2 566.9h44.0v.7H114.2zM114.2 591.6h44.0v.7H114.2z"/>
<path fill="#4A8CC8" fill-opacity="0.075" d="M114.2 427.8h44.0v.7H114.2zM114.2 429.1h44.0v.7H114.2zM114.2 442.1h44.0v.7H114.2zM114.2 444.7h44.0v.7H114.2zM114.2 448.6h44.0v.7H114.2zM114.2 449.9h44.0v.7H114.2zM114.2 452.5h44.0v.7H114.2zM114.2 457.7h44.0v.7H114.2zM114.2 460.3h44.0v.7H114.2zM114.2 461.6h44.0v.7H114.2zM114.2 462.9h44.0v.7H114.2zM114.2 466.8h44.0v.7H114.2zM114.2 470.7h44.0v.7H114.2zM114.2 487.6h44.0v.7H114.2zM114.2 490.2h44.0v.7H114.2zM114.2 491.5h44.0v.7H114.2zM114.2 492.8h44.0v.7H114.2zM114.2 496.7h44.0v.7H114.2zM114.2 498.0h44.0v.7H114.2zM114.2 499.3h44.0v.7H114.2zM114.2 504.5h44.0v.7H114.2zM114.2 509.7h44.0v.7H114.2zM114.2 511.0h44.0v.7H114.2zM114.2 520.1h44.0v.7H114.2zM114.2 527.9h44.0v.7H114.2zM114.2 529.2h44.0v.7H114.2zM114.2 531.8h44.0v.7H114.2z"/>
<path fill="#4A8CC8" fill-opacity="0.100" d="M114.2 433.0h44.0v.7H114.2zM114.2 436.9h44.0v.7H114.2zM114.2 439.5h44.0v.7H114.2zM114.2 446.0h44.0v.7H114.2zM114.2 464.2h44.0v.7H114.2zM114.2 469.4h44.0v.7H114.2zM114.2 475.9h44.0v.7H114.2z"/>
<defs><linearGradient id="hg10" x1="0" y1="0" x2="0" y2="1"><stop offset="0" stop-color="#6BAED6" stop-opacity="0.55"/><stop offset="0.45" stop-color="#6BAED6" stop-opacity="0.3"/><stop offset="0.7" stop-color="#6BAED6" stop-opacity="0.05"/><stop offset="1" stop-color="#6BAED6" stop-opacity="0"/></linearGradient></defs>
<polygon points="122.9,423.9 148.9,423.9 138.9,709.6 132.9,709.6" fill="url(#hg10)" filter="url(#hb3)"/>
<defs><linearGradient id="hg11" x1="0" y1="0" x2="0" y2="1"><stop offset="0" stop-color="#2171B5" stop-opacity="0.85"/><stop offset="0.5" stop-color="#2171B5" stop-opacity="0.75"/><stop offset="0.66" stop-color="#2171B5" stop-opacity="0.2"/><stop offset="0.85" stop-color="#2171B5" stop-opacity="0.05"/><stop offset="1" stop-color="#2171B5" stop-opacity="0.02"/></linearGradient></defs>
<polygon points="128.4,423.9 143.4,423.9 137.5,709.6 134.3,709.6" fill="url(#hg11)" filter="url(#hb2)"/>
<defs><linearGradient id="hg12" x1="0" y1="0" x2="0" y2="1"><stop offset="0" stop-color="#08519C" stop-opacity="0.8"/><stop offset="0.5" stop-color="#08519C" stop-opacity="0.7"/><stop offset="0.62" stop-color="#08519C" stop-opacity="0.12"/><stop offset="1" stop-color="#08519C" stop-opacity="0.0"/></linearGradient></defs>
<polygon points="132.5,423.9 139.3,423.9 136.9,709.6 134.9,709.6" fill="url(#hg12)" filter="url(#hb1)"/>
<path fill="#fff" fill-opacity="0.08" d="M114.2 424.0h44.0v.6H114.2zM114.2 426.4h44.0v.6H114.2zM114.2 433.9h44.0v.6H114.2zM114.2 441.7h44.0v.6H114.2zM114.2 442.7h44.0v.6H114.2zM114.2 462.7h44.0v.6H114.2zM114.2 484.7h44.0v.6H114.2zM114.2 485.6h44.0v.6H114.2zM114.2 489.0h44.0v.6H114.2zM114.2 503.3h44.0v.6H114.2zM114.2 505.7h44.0v.6H114.2zM114.2 508.7h44.0v.6H114.2zM114.2 512.0h44.0v.6H114.2zM114.2 521.9h44.0v.6H114.2zM114.2 528.8h44.0v.6H114.2zM114.2 529.8h44.0v.6H114.2zM114.2 533.1h44.0v.6H114.2zM114.2 540.5h44.0v.6H114.2zM114.2 546.3h44.0v.6H114.2zM114.2 548.5h44.0v.6H114.2zM114.2 559.3h44.0v.6H114.2zM114.2 562.7h44.0v.6H114.2zM114.2 567.0h44.0v.6H114.2zM114.2 571.4h44.0v.6H114.2zM114.2 573.8h44.0v.6H114.2zM114.2 605.5h44.0v.6H114.2zM114.2 608.0h44.0v.6H114.2zM114.2 622.2h44.0v.6H114.2zM114.2 642.1h44.0v.6H114.2zM114.2 649.5h44.0v.6H114.2zM114.2 651.9h44.0v.6H114.2zM114.2 662.6h44.0v.6H114.2zM114.2 664.8h44.0v.6H114.2zM114.2 667.2h44.0v.6H114.2zM114.2 674.9h44.0v.6H114.2zM114.2 682.4h44.0v.6H114.2zM114.2 687.1h44.0v.6H114.2zM114.2 692.6h44.0v.6H114.2zM114.2 695.6h44.0v.6H114.2zM114.2 697.1h44.0v.6H114.2zM114.2 706.8h44.0v.6H114.2z"/>
<path fill="#fff" fill-opacity="0.12" d="M114.2 425.3h44.0v.6H114.2zM114.2 435.1h44.0v.6H114.2zM114.2 449.3h44.0v.6H114.2zM114.2 452.7h44.0v.6H114.2zM114.2 453.7h44.0v.6H114.2zM114.2 455.0h44.0v.6H114.2zM114.2 456.1h44.0v.6H114.2zM114.2 459.3h44.0v.6H114.2zM114.2 487.9h44.0v.6H114.2zM114.2 495.6h44.0v.6H114.2zM114.2 500.0h44.0v.6H114.2zM114.2 506.7h44.0v.6H114.2zM114.2 509.7h44.0v.6H114.2zM114.2 514.5h44.0v.6H114.2zM114.2 515.4h44.0v.6H114.2zM114.2 517.6h44.0v.6H114.2zM114.2 521.1h44.0v.6H114.2zM114.2 536.2h44.0v.6H114.2zM114.2 551.5h44.0v.6H114.2zM114.2 579.1h44.0v.6H114.2zM114.2 582.4h44.0v.6H114.2zM114.2 621.0h44.0v.6H114.2zM114.2 626.4h44.0v.6H114.2zM114.2 630.8h44.0v.6H114.2zM114.2 633.0h44.0v.6H114.2zM114.2 637.3h44.0v.6H114.2zM114.2 639.5h44.0v.6H114.2zM114.2 642.8h44.0v.6H114.2zM114.2 672.6h44.0v.6H114.2zM114.2 678.2h44.0v.6H114.2zM114.2 680.2h44.0v.6H114.2zM114.2 698.0h44.0v.6H114.2z"/>
<path fill="#fff" fill-opacity="0.16" d="M114.2 427.3h44.0v.6H114.2zM114.2 431.6h44.0v.6H114.2zM114.2 444.0h44.0v.6H114.2zM114.2 457.0h44.0v.6H114.2zM114.2 483.4h44.0v.6H114.2zM114.2 507.8h44.0v.6H114.2zM114.2 534.0h44.0v.6H114.2zM114.2 539.6h44.0v.6H114.2zM114.2 550.7h44.0v.6H114.2zM114.2 554.0h44.0v.6H114.2zM114.2 560.6h44.0v.6H114.2zM114.2 569.1h44.0v.6H114.2zM114.2 572.6h44.0v.6H114.2zM114.2 581.5h44.0v.6H114.2zM114.2 583.5h44.0v.6H114.2zM114.2 589.1h44.0v.6H114.2zM114.2 590.2h44.0v.6H114.2zM114.2 593.5h44.0v.6H114.2zM114.2 596.8h44.0v.6H114.2zM114.2 601.2h44.0v.6H114.2zM114.2 606.5h44.0v.6H114.2zM114.2 627.6h44.0v.6H114.2zM114.2 644.0h44.0v.6H114.2zM114.2 654.2h44.0v.6H114.2zM114.2 683.8h44.0v.6H114.2zM114.2 690.1h44.0v.6H114.2zM114.2 694.8h44.0v.6H114.2zM114.2 699.2h44.0v.6H114.2zM114.2 700.3h44.0v.6H114.2zM114.2 708.0h44.0v.6H114.2z"/>
<path fill="#fff" fill-opacity="0.04" d="M114.2 428.6h44.0v.6H114.2zM114.2 438.3h44.0v.6H114.2zM114.2 440.7h44.0v.6H114.2zM114.2 444.9h44.0v.6H114.2zM114.2 446.0h44.0v.6H114.2zM114.2 448.3h44.0v.6H114.2zM114.2 458.3h44.0v.6H114.2zM114.2 463.7h44.0v.6H114.2zM114.2 468.1h44.0v.6H114.2zM114.2 471.2h44.0v.6H114.2zM114.2 474.8h44.0v.6H114.2zM114.2 490.1h44.0v.6H114.2zM114.2 497.7h44.0v.6H114.2zM114.2 501.2h44.0v.6H114.2zM114.2 502.1h44.0v.6H114.2zM114.2 511.0h44.0v.6H114.2zM114.2 513.3h44.0v.6H114.2zM114.2 525.2h44.0v.6H114.2zM114.2 526.3h44.0v.6H114.2zM114.2 531.7h44.0v.6H114.2zM114.2 537.4h44.0v.6H114.2zM114.2 541.9h44.0v.6H114.2zM114.2 556.2h44.0v.6H114.2zM114.2 574.9h44.0v.6H114.2zM114.2 575.8h44.0v.6H114.2zM114.2 578.2h44.0v.6H114.2zM114.2 584.7h44.0v.6H114.2zM114.2 597.9h44.0v.6H114.2zM114.2 616.6h44.0v.6H114.2zM114.2 617.5h44.0v.6H114.2zM114.2 618.7h44.0v.6H114.2zM114.2 624.3h44.0v.6H114.2zM114.2 631.9h44.0v.6H114.2zM114.2 635.1h44.0v.6H114.2zM114.2 645.1h44.0v.6H114.2zM114.2 656.0h44.0v.6H114.2zM114.2 666.2h44.0v.6H114.2zM114.2 688.0h44.0v.6H114.2zM114.2 691.2h44.0v.6H114.2zM114.2 693.4h44.0v.6H114.2zM114.2 701.2h44.0v.6H114.2zM114.2 704.8h44.0v.6H114.2zM114.2 705.9h44.0v.6H114.2z"/>
<path fill="#fff" fill-opacity="0.24" d="M114.2 429.7h44.0v.6H114.2zM114.2 430.8h44.0v.6H114.2zM114.2 451.6h44.0v.6H114.2zM114.2 461.4h44.0v.6H114.2zM114.2 466.1h44.0v.6H114.2zM114.2 472.3h44.0v.6H114.2zM114.2 478.0h44.0v.6H114.2zM114.2 496.8h44.0v.6H114.2zM114.2 499.0h44.0v.6H114.2zM114.2 516.6h44.0v.6H114.2zM114.2 518.8h44.0v.6H114.2zM114.2 524.4h44.0v.6H114.2zM114.2 527.6h44.0v.6H114.2zM114.2 543.1h44.0v.6H114.2zM114.2 568.2h44.0v.6H114.2zM114.2 580.4h44.0v.6H114.2zM114.2 586.7h44.0v.6H114.2zM114.2 592.3h44.0v.6H114.2zM114.2 602.5h44.0v.6H114.2zM114.2 603.3h44.0v.6H114.2zM114.2 609.9h44.0v.6H114.2zM114.2 611.1h44.0v.6H114.2zM114.2 613.2h44.0v.6H114.2zM114.2 614.6h44.0v.6H114.2zM114.2 647.3h44.0v.6H114.2zM114.2 650.6h44.0v.6H114.2zM114.2 658.5h44.0v.6H114.2zM114.2 660.6h44.0v.6H114.2zM114.2 668.4h44.0v.6H114.2zM114.2 670.6h44.0v.6H114.2zM114.2 671.6h44.0v.6H114.2zM114.2 685.0h44.0v.6H114.2zM114.2 685.9h44.0v.6H114.2zM114.2 702.2h44.0v.6H114.2z"/>
<path fill="#fff" fill-opacity="0.20" d="M114.2 436.2h44.0v.6H114.2zM114.2 447.2h44.0v.6H114.2zM114.2 450.5h44.0v.6H114.2zM114.2 464.9h44.0v.6H114.2zM114.2 467.1h44.0v.6H114.2zM114.2 470.2h44.0v.6H114.2zM114.2 475.9h44.0v.6H114.2zM114.2 478.9h44.0v.6H114.2zM114.2 480.2h44.0v.6H114.2zM114.2 481.1h44.0v.6H114.2zM114.2 486.8h44.0v.6H114.2zM114.2 492.3h44.0v.6H114.2zM114.2 493.3h44.0v.6H114.2zM114.2 494.6h44.0v.6H114.2zM114.2 504.3h44.0v.6H114.2zM114.2 519.8h44.0v.6H114.2zM114.2 523.2h44.0v.6H114.2zM114.2 530.8h44.0v.6H114.2zM114.2 545.0h44.0v.6H114.2zM114.2 547.4h44.0v.6H114.2zM114.2 552.7h44.0v.6H114.2zM114.2 554.9h44.0v.6H114.2zM114.2 557.4h44.0v.6H114.2zM114.2 561.6h44.0v.6H114.2zM114.2 565.0h44.0v.6H114.2zM114.2 566.0h44.0v.6H114.2zM114.2 570.3h44.0v.6H114.2zM114.2 576.8h44.0v.6H114.2zM114.2 585.7h44.0v.6H114.2zM114.2 591.5h44.0v.6H114.2zM114.2 595.8h44.0v.6H114.2zM114.2 600.1h44.0v.6H114.2zM114.2 609.0h44.0v.6H114.2zM114.2 612.3h44.0v.6H114.2zM114.2 615.5h44.0v.6H114.2zM114.2 619.9h44.0v.6H114.2zM114.2 623.2h44.0v.6H114.2zM114.2 625.6h44.0v.6H114.2zM114.2 629.7h44.0v.6H114.2zM114.2 638.6h44.0v.6H114.2zM114.2 646.1h44.0v.6H114.2zM114.2 652.7h44.0v.6H114.2zM114.2 669.3h44.0v.6H114.2zM114.2 673.7h44.0v.6H114.2zM114.2 675.9h44.0v.6H114.2zM114.2 677.1h44.0v.6H114.2zM114.2 679.2h44.0v.6H114.2zM114.2 681.6h44.0v.6H114.2z"/>
<path fill="#fff" fill-opacity="0.28" d="M114.2 439.3h44.0v.6H114.2zM114.2 460.6h44.0v.6H114.2zM114.2 477.0h44.0v.6H114.2zM114.2 491.2h44.0v.6H114.2zM114.2 538.5h44.0v.6H114.2zM114.2 543.8h44.0v.6H114.2zM114.2 549.6h44.0v.6H114.2zM114.2 558.1h44.0v.6H114.2zM114.2 588.2h44.0v.6H114.2zM114.2 648.5h44.0v.6H114.2zM114.2 659.4h44.0v.6H114.2zM114.2 661.9h44.0v.6H114.2zM114.2 663.9h44.0v.6H114.2zM114.2 689.2h44.0v.6H114.2z"/>
<defs><linearGradient id="hg13" x1="0" y1="0" x2="0" y2="1"><stop offset="0" stop-color="#1A68B0" stop-opacity="0.63"/><stop offset="0.5" stop-color="#1A68B0" stop-opacity="0.315"/><stop offset="1" stop-color="#1A68B0" stop-opacity="0"/></linearGradient></defs>
<polygon points="119.5,423.9 152.9,423.9 143.4,443.9 128.4,443.9" fill="url(#hg13)" filter="url(#hb2)"/>
<defs><linearGradient id="hg14" x1="0" y1="0" x2="0" y2="1"><stop offset="0" stop-color="#1160AA" stop-opacity="0.7"/><stop offset="0.35" stop-color="#1160AA" stop-opacity="0.35"/><stop offset="1" stop-color="#1160AA" stop-opacity="0"/></linearGradient></defs>
<rect x="114.2" y="423.9" width="43.999999999999986" height="5" fill="url(#hg14)"/>
</g>
<path d="M114.2 709.6V423.9H158.2V709.6" fill="none" stroke="#777" stroke-width="0.9"/>
<line x1="114.2" y1="709.6" x2="114.2" y2="712.1" stroke="#555" stroke-width="0.8"/>
<line x1="136.2" y1="709.6" x2="136.2" y2="712.1" stroke="#555" stroke-width="0.8"/>
<line x1="158.2" y1="709.6" x2="158.2" y2="712.1" stroke="#555" stroke-width="0.8"/>
<clipPath id="hc4"><rect x="162.5" y="423.9" width="44.0" height="285.70000000000005"/></clipPath>
<g clip-path="url(#hc4)">
<rect x="162.5" y="423.9" width="44.0" height="285.70000000000005" fill="#F0F6FC"/>
<defs><linearGradient id="hg15" x1="0" y1="0" x2="0" y2="1"><stop offset="0" stop-color="#6FA8D8" stop-opacity="0.16"/><stop offset="0.35" stop-color="#6FA8D8" stop-opacity="0.07200000000000001"/><stop offset="0.7" stop-color="#6FA8D8" stop-opacity="0.024"/><stop offset="1" stop-color="#6FA8D8" stop-opacity="0"/></linearGradient></defs>
<rect x="162.5" y="423.9" width="44.0" height="285.70000000000005" fill="url(#hg15)"/>
<path fill="#4A8CC8" fill-opacity="0.025" d="M162.5 423.9h44.0v.7H162.5zM162.5 426.5h44.0v.7H162.5zM162.5 430.4h44.0v.7H162.5zM162.5 435.6h44.0v.7H162.5zM162.5 436.9h44.0v.7H162.5zM162.5 438.2h44.0v.7H162.5zM162.5 442.1h44.0v.7H162.5zM162.5 449.9h44.0v.7H162.5zM162.5 451.2h44.0v.7H162.5zM162.5 457.7h44.0v.7H162.5zM162.5 460.3h44.0v.7H162.5zM162.5 462.9h44.0v.7H162.5zM162.5 468.1h44.0v.7H162.5zM162.5 469.4h44.0v.7H162.5zM162.5 472.0h44.0v.7H162.5zM162.5 475.9h44.0v.7H162.5zM162.5 477.2h44.0v.7H162.5zM162.5 478.5h44.0v.7H162.5zM162.5 479.8h44.0v.7H162.5zM162.5 482.4h44.0v.7H162.5zM162.5 487.6h44.0v.7H162.5zM162.5 488.9h44.0v.7H162.5zM162.5 490.2h44.0v.7H162.5zM162.5 491.5h44.0v.7H162.5zM162.5 492.8h44.0v.7H162.5zM162.5 496.7h44.0v.7H162.5zM162.5 499.3h44.0v.7H162.5zM162.5 500.6h44.0v.7H162.5zM162.5 501.9h44.0v.7H162.5zM162.5 503.2h44.0v.7H162.5zM162.5 504.5h44.0v.7H162.5zM162.5 505.8h44.0v.7H162.5zM162.5 512.3h44.0v.7H162.5zM162.5 513.6h44.0v.7H162.5zM162.5 516.2h44.0v.7H162.5zM162.5 518.8h44.0v.7H162.5zM162.5 521.4h44.0v.7H162.5zM162.5 525.3h44.0v.7H162.5zM162.5 531.8h44.0v.7H162.5zM162.5 533.1h44.0v.7H162.5zM162.5 534.4h44.0v.7H162.5zM162.5 535.7h44.0v.7H162.5zM162.5 537.0h44.0v.7H162.5zM162.5 540.9h44.0v.7H162.5zM162.5 543.5h44.0v.7H162.5zM162.5 544.8h44.0v.7H162.5zM162.5 551.3h44.0v.7H162.5zM162.5 552.6h44.0v.7H162.5zM162.5 556.5h44.0v.7H162.5zM162.5 557.8h44.0v.7H162.5zM162.5 564.3h44.0v.7H162.5zM162.5 568.2h44.0v.7H162.5zM162.5 570.8h44.0v.7H162.5zM162.5 573.4h44.0v.7H162.5zM162.5 574.7h44.0v.7H162.5zM162.5 577.3h44.0v.7H162.5zM162.5 578.6h44.0v.7H162.5zM162.5 586.4h44.0v.7H162.5zM162.5 587.7h44.0v.7H162.5zM162.5 589.0h44.0v.7H162.5zM162.5 596.8h44.0v.7H162.5zM162.5 600.7h44.0v.7H162.5zM162.5 602.0h44.0v.7H162.5zM162.5 603.3h44.0v.7H162.5zM162.5 605.9h44.0v.7H162.5zM162.5 607.2h44.0v.7H162.5zM162.5 608.5h44.0v.7H162.5zM162.5 609.8h44.0v.7H162.5zM162.5 615.0h44.0v.7H162.5zM162.5 616.3h44.0v.7H162.5zM162.5 617.6h44.0v.7H162.5zM162.5 620.2h44.0v.7H162.5zM162.5 621.5h44.0v.7H162.5zM162.5 624.1h44.0v.7H162.5zM162.5 628.0h44.0v.7H162.5zM162.5 630.6h44.0v.7H162.5zM162.5 631.9h44.0v.7H162.5zM162.5 634.5h44.0v.7H162.5zM162.5 635.8h44.0v.7H162.5zM162.5 639.7h44.0v.7H162.5zM162.5 642.3h44.0v.7H162.5z"/>
<path fill="#4A8CC8" fill-opacity="0.050" d="M162.5 431.7h44.0v.7H162.5zM162.5 433.0h44.0v.7H162.5zM162.5 434.3h44.0v.7H162.5zM162.5 443.4h44.0v.7H162.5zM162.5 444.7h44.0v.7H162.5zM162.5 446.0h44.0v.7H162.5zM162.5 447.3h44.0v.7H162.5zM162.5 452.5h44.0v.7H162.5zM162.5 453.8h44.0v.7H162.5zM162.5 455.1h44.0v.7H162.5zM162.5 459.0h44.0v.7H162.5zM162.5 465.5h44.0v.7H162.5zM162.5 466.8h44.0v.7H162.5zM162.5 470.7h44.0v.7H162.5zM162.5 473.3h44.0v.7H162.5zM162.5 474.6h44.0v.7H162.5zM162.5 483.7h44.0v.7H162.5zM162.5 494.1h44.0v.7H162.5zM162.5 507.1h44.0v.7H162.5zM162.5 522.7h44.0v.7H162.5zM162.5 524.0h44.0v.7H162.5zM162.5 526.6h44.0v.7H162.5zM162.5 530.5h44.0v.7H162.5z"/>
<defs><linearGradient id="hg16" x1="0" y1="0" x2="0" y2="1"><stop offset="0" stop-color="#6BAED6" stop-opacity="0.4"/><stop offset="0.4" stop-color="#6BAED6" stop-opacity="0.18"/><stop offset="0.6" stop-color="#6BAED6" stop-opacity="0.03"/><stop offset="1" stop-color="#6BAED6" stop-opacity="0"/></linearGradient></defs>
<polygon points="174.2,423.9 194.2,423.9 186.7,709.6 181.7,709.6" fill="url(#hg16)" filter="url(#hb3)"/>
<defs><linearGradient id="hg17" x1="0" y1="0" x2="0" y2="1"><stop offset="0" stop-color="#2171B5" stop-opacity="0.75"/><stop offset="0.42" stop-color="#2171B5" stop-opacity="0.65"/><stop offset="0.58" stop-color="#2171B5" stop-opacity="0.12"/><stop offset="0.8" stop-color="#2171B5" stop-opacity="0.03"/><stop offset="1" stop-color="#2171B5" stop-opacity="0"/></linearGradient></defs>
<polygon points="179.4,423.9 189.0,423.9 185.5,709.6 182.9,709.6" fill="url(#hg17)" filter="url(#hb2)"/>
<defs><linearGradient id="hg18" x1="0" y1="0" x2="0" y2="1"><stop offset="0" stop-color="#08519C" stop-opacity="0.7"/><stop offset="0.42" stop-color="#08519C" stop-opacity="0.55"/><stop offset="0.55" stop-color="#08519C" stop-opacity="0.08"/><stop offset="1" stop-color="#08519C" stop-opacity="0.0"/></linearGradient></defs>
<polygon points="181.8,423.9 186.6,423.9 185.1,709.6 183.3,709.6" fill="url(#hg18)" filter="url(#hb1)"/>
<path fill="#fff" fill-opacity="0.12" d="M162.5 424.1h44.0v.6H162.5zM162.5 428.6h44.0v.6H162.5zM162.5 431.7h44.0v.6H162.5zM162.5 436.2h44.0v.6H162.5zM162.5 437.4h44.0v.6H162.5zM162.5 444.1h44.0v.6H162.5zM162.5 447.2h44.0v.6H162.5zM162.5 455.8h44.0v.6H162.5zM162.5 471.6h44.0v.6H162.5zM162.5 477.1h44.0v.6H162.5zM162.5 479.0h44.0v.6H162.5zM162.5 482.4h44.0v.6H162.5zM162.5 512.0h44.0v.6H162.5zM162.5 514.2h44.0v.6H162.5zM162.5 520.9h44.0v.6H162.5zM162.5 525.5h44.0v.6H162.5zM162.5 543.0h44.0v.6H162.5zM162.5 553.7h44.0v.6H162.5zM162.5 554.9h44.0v.6H162.5zM162.5 559.2h44.0v.6H162.5zM162.5 563.9h44.0v.6H162.5zM162.5 579.4h44.0v.6H162.5zM162.5 604.5h44.0v.6H162.5zM162.5 611.0h44.0v.6H162.5zM162.5 617.9h44.0v.6H162.5zM162.5 620.0h44.0v.6H162.5zM162.5 620.9h44.0v.6H162.5zM162.5 625.5h44.0v.6H162.5zM162.5 632.9h44.0v.6H162.5zM162.5 636.3h44.0v.6H162.5zM162.5 645.1h44.0v.6H162.5zM162.5 654.9h44.0v.6H162.5zM162.5 676.9h44.0v.6H162.5zM162.5 690.2h44.0v.6H162.5zM162.5 696.0h44.0v.6H162.5z"/>
<path fill="#fff" fill-opacity="0.20" d="M162.5 425.3h44.0v.6H162.5zM162.5 434.2h44.0v.6H162.5zM162.5 441.8h44.0v.6H162.5zM162.5 448.2h44.0v.6H162.5zM162.5 449.3h44.0v.6H162.5zM162.5 466.1h44.0v.6H162.5zM162.5 468.2h44.0v.6H162.5zM162.5 481.3h44.0v.6H162.5zM162.5 494.6h44.0v.6H162.5zM162.5 502.4h44.0v.6H162.5zM162.5 503.4h44.0v.6H162.5zM162.5 506.7h44.0v.6H162.5zM162.5 529.6h44.0v.6H162.5zM162.5 538.7h44.0v.6H162.5zM162.5 546.0h44.0v.6H162.5zM162.5 547.5h44.0v.6H162.5zM162.5 552.6h44.0v.6H162.5zM162.5 556.3h44.0v.6H162.5zM162.5 560.7h44.0v.6H162.5zM162.5 567.0h44.0v.6H162.5zM162.5 578.3h44.0v.6H162.5zM162.5 585.8h44.0v.6H162.5zM162.5 600.2h44.0v.6H162.5zM162.5 616.7h44.0v.6H162.5zM162.5 624.1h44.0v.6H162.5zM162.5 632.0h44.0v.6H162.5zM162.5 648.4h44.0v.6H162.5zM162.5 673.9h44.0v.6H162.5zM162.5 676.0h44.0v.6H162.5zM162.5 686.9h44.0v.6H162.5zM162.5 694.8h44.0v.6H162.5zM162.5 701.2h44.0v.6H162.5z"/>
<path fill="#fff" fill-opacity="0.24" d="M162.5 426.1h44.0v.6H162.5zM162.5 446.2h44.0v.6H162.5zM162.5 451.5h44.0v.6H162.5zM162.5 452.6h44.0v.6H162.5zM162.5 461.6h44.0v.6H162.5zM162.5 472.5h44.0v.6H162.5zM162.5 478.0h44.0v.6H162.5zM162.5 490.3h44.0v.6H162.5zM162.5 504.6h44.0v.6H162.5zM162.5 508.7h44.0v.6H162.5zM162.5 510.9h44.0v.6H162.5zM162.5 513.3h44.0v.6H162.5zM162.5 518.6h44.0v.6H162.5zM162.5 524.3h44.0v.6H162.5zM162.5 526.5h44.0v.6H162.5zM162.5 528.6h44.0v.6H162.5zM162.5 532.9h44.0v.6H162.5zM162.5 536.2h44.0v.6H162.5zM162.5 537.6h44.0v.6H162.5zM162.5 550.4h44.0v.6H162.5zM162.5 562.8h44.0v.6H162.5zM162.5 598.8h44.0v.6H162.5zM162.5 605.7h44.0v.6H162.5zM162.5 627.6h44.0v.6H162.5zM162.5 644.0h44.0v.6H162.5zM162.5 646.1h44.0v.6H162.5zM162.5 650.8h44.0v.6H162.5zM162.5 661.7h44.0v.6H162.5zM162.5 665.0h44.0v.6H162.5zM162.5 666.0h44.0v.6H162.5zM162.5 667.4h44.0v.6H162.5zM162.5 668.2h44.0v.6H162.5zM162.5 702.3h44.0v.6H162.5z"/>
<path fill="#fff" fill-opacity="0.08" d="M162.5 427.3h44.0v.6H162.5zM162.5 434.9h44.0v.6H162.5zM162.5 438.2h44.0v.6H162.5zM162.5 439.6h44.0v.6H162.5zM162.5 442.8h44.0v.6H162.5zM162.5 445.2h44.0v.6H162.5zM162.5 458.3h44.0v.6H162.5zM162.5 470.4h44.0v.6H162.5zM162.5 473.7h44.0v.6H162.5zM162.5 474.6h44.0v.6H162.5zM162.5 488.9h44.0v.6H162.5zM162.5 492.2h44.0v.6H162.5zM162.5 498.7h44.0v.6H162.5zM162.5 501.3h44.0v.6H162.5zM162.5 519.9h44.0v.6H162.5zM162.5 534.2h44.0v.6H162.5zM162.5 557.3h44.0v.6H162.5zM162.5 561.7h44.0v.6H162.5zM162.5 569.4h44.0v.6H162.5zM162.5 570.4h44.0v.6H162.5zM162.5 572.5h44.0v.6H162.5zM162.5 580.1h44.0v.6H162.5zM162.5 582.4h44.0v.6H162.5zM162.5 584.9h44.0v.6H162.5zM162.5 592.3h44.0v.6H162.5zM162.5 595.6h44.0v.6H162.5zM162.5 607.7h44.0v.6H162.5zM162.5 613.2h44.0v.6H162.5zM162.5 618.6h44.0v.6H162.5zM162.5 622.1h44.0v.6H162.5zM162.5 626.3h44.0v.6H162.5zM162.5 638.5h44.0v.6H162.5zM162.5 641.8h44.0v.6H162.5zM162.5 654.0h44.0v.6H162.5zM162.5 657.3h44.0v.6H162.5zM162.5 659.7h44.0v.6H162.5zM162.5 679.4h44.0v.6H162.5zM162.5 680.3h44.0v.6H162.5zM162.5 685.9h44.0v.6H162.5zM162.5 696.8h44.0v.6H162.5zM162.5 697.9h44.0v.6H162.5zM162.5 700.2h44.0v.6H162.5zM162.5 703.6h44.0v.6H162.5z"/>
<path fill="#fff" fill-opacity="0.04" d="M162.5 429.7h44.0v.6H162.5zM162.5 430.8h44.0v.6H162.5zM162.5 450.4h44.0v.6H162.5zM162.5 457.3h44.0v.6H162.5zM162.5 467.2h44.0v.6H162.5zM162.5 480.0h44.0v.6H162.5zM162.5 487.8h44.0v.6H162.5zM162.5 491.3h44.0v.6H162.5zM162.5 493.6h44.0v.6H162.5zM162.5 497.7h44.0v.6H162.5zM162.5 517.8h44.0v.6H162.5zM162.5 522.1h44.0v.6H162.5zM162.5 527.5h44.0v.6H162.5zM162.5 541.7h44.0v.6H162.5zM162.5 545.0h44.0v.6H162.5zM162.5 573.9h44.0v.6H162.5zM162.5 574.9h44.0v.6H162.5zM162.5 576.1h44.0v.6H162.5zM162.5 576.8h44.0v.6H162.5zM162.5 583.7h44.0v.6H162.5zM162.5 587.1h44.0v.6H162.5zM162.5 588.1h44.0v.6H162.5zM162.5 590.3h44.0v.6H162.5zM162.5 601.3h44.0v.6H162.5zM162.5 602.2h44.0v.6H162.5zM162.5 614.6h44.0v.6H162.5zM162.5 615.3h44.0v.6H162.5zM162.5 623.2h44.0v.6H162.5zM162.5 629.8h44.0v.6H162.5zM162.5 634.3h44.0v.6H162.5zM162.5 635.1h44.0v.6H162.5zM162.5 656.3h44.0v.6H162.5zM162.5 662.9h44.0v.6H162.5zM162.5 663.9h44.0v.6H162.5zM162.5 672.7h44.0v.6H162.5zM162.5 678.1h44.0v.6H162.5zM162.5 681.5h44.0v.6H162.5zM162.5 683.9h44.0v.6H162.5zM162.5 699.0h44.0v.6H162.5zM162.5 704.7h44.0v.6H162.5z"/>
<path fill="#fff" fill-opacity="0.16" d="M162.5 432.8h44.0v.6H162.5zM162.5 453.7h44.0v.6H162.5zM162.5 454.8h44.0v.6H162.5zM162.5 463.6h44.0v.6H162.5zM162.5 464.8h44.0v.6H162.5zM162.5 469.3h44.0v.6H162.5zM162.5 483.7h44.0v.6H162.5zM162.5 487.0h44.0v.6H162.5zM162.5 496.6h44.0v.6H162.5zM162.5 505.6h44.0v.6H162.5zM162.5 507.7h44.0v.6H162.5zM162.5 531.0h44.0v.6H162.5zM162.5 531.7h44.0v.6H162.5zM162.5 535.4h44.0v.6H162.5zM162.5 539.7h44.0v.6H162.5zM162.5 544.0h44.0v.6H162.5zM162.5 549.6h44.0v.6H162.5zM162.5 551.7h44.0v.6H162.5zM162.5 558.3h44.0v.6H162.5zM162.5 568.2h44.0v.6H162.5zM162.5 593.7h44.0v.6H162.5zM162.5 603.4h44.0v.6H162.5zM162.5 608.8h44.0v.6H162.5zM162.5 609.9h44.0v.6H162.5zM162.5 630.9h44.0v.6H162.5zM162.5 637.4h44.0v.6H162.5zM162.5 639.8h44.0v.6H162.5zM162.5 643.0h44.0v.6H162.5zM162.5 653.0h44.0v.6H162.5zM162.5 671.5h44.0v.6H162.5zM162.5 675.0h44.0v.6H162.5zM162.5 684.9h44.0v.6H162.5zM162.5 688.1h44.0v.6H162.5zM162.5 689.1h44.0v.6H162.5zM162.5 691.5h44.0v.6H162.5zM162.5 692.5h44.0v.6H162.5z"/>
<path fill="#fff" fill-opacity="0.28" d="M162.5 440.7h44.0v.6H162.5zM162.5 460.2h44.0v.6H162.5zM162.5 462.7h44.0v.6H162.5zM162.5 475.9h44.0v.6H162.5zM162.5 485.9h44.0v.6H162.5zM162.5 495.6h44.0v.6H162.5zM162.5 523.2h44.0v.6H162.5zM162.5 540.7h44.0v.6H162.5zM162.5 548.2h44.0v.6H162.5zM162.5 566.2h44.0v.6H162.5zM162.5 581.4h44.0v.6H162.5zM162.5 594.5h44.0v.6H162.5zM162.5 597.0h44.0v.6H162.5zM162.5 598.0h44.0v.6H162.5zM162.5 612.3h44.0v.6H162.5zM162.5 628.7h44.0v.6H162.5zM162.5 641.0h44.0v.6H162.5zM162.5 647.4h44.0v.6H162.5zM162.5 651.6h44.0v.6H162.5zM162.5 658.5h44.0v.6H162.5zM162.5 669.6h44.0v.6H162.5zM162.5 693.5h44.0v.6H162.5zM162.5 705.5h44.0v.6H162.5z"/>
<defs><linearGradient id="hg19" x1="0" y1="0" x2="0" y2="1"><stop offset="0" stop-color="#1A68B0" stop-opacity="0.49500000000000005"/><stop offset="0.5" stop-color="#1A68B0" stop-opacity="0.24750000000000003"/><stop offset="1" stop-color="#1A68B0" stop-opacity="0"/></linearGradient></defs>
<polygon points="167.8,423.9 201.2,423.9 189.0,443.9 179.4,443.9" fill="url(#hg19)" filter="url(#hb2)"/>
<defs><linearGradient id="hg20" x1="0" y1="0" x2="0" y2="1"><stop offset="0" stop-color="#1160AA" stop-opacity="0.55"/><stop offset="0.35" stop-color="#1160AA" stop-opacity="0.275"/><stop offset="1" stop-color="#1160AA" stop-opacity="0"/></linearGradient></defs>
<rect x="162.5" y="423.9" width="44.0" height="5" fill="url(#hg20)"/>
</g>
<path d="M162.5 709.6V423.9H206.5V709.6" fill="none" stroke="#777" stroke-width="0.9"/>
<line x1="162.5" y1="709.6" x2="162.5" y2="712.1" stroke="#555" stroke-width="0.8"/>
<line x1="184.5" y1="709.6" x2="184.5" y2="712.1" stroke="#555" stroke-width="0.8"/>
<line x1="206.5" y1="709.6" x2="206.5" y2="712.1" stroke="#555" stroke-width="0.8"/>
<text x="104.2" y="723.6" font-size="8.9" fill="#000" text-anchor="middle">±3 kb from FOXF2 peak center</text>
<defs><linearGradient id="cbf" x1="0" y1="0" x2="1" y2="0"><stop offset="0" stop-color="#F7FBFF"/><stop offset="0.5" stop-color="#6BAED6"/><stop offset="1" stop-color="#08306B"/></linearGradient></defs>
<rect x="88.3" y="734" width="44.7" height="4" fill="url(#cbf)" stroke="#888" stroke-width="0.4"/>
<text x="88.6" y="744.8" font-size="7.6" fill="#333" text-anchor="middle">Min</text>
<text x="132.6" y="744.8" font-size="7.6" fill="#333" text-anchor="middle">Max</text>
<text x="260.8" y="590.8" font-size="14.5" fill="#000" font-weight="bold">g</text>
<text x="451.0" y="601.0" font-size="10.2" fill="#000" text-anchor="middle">DiffTF analysis <tspan font-style="italic">Foxf2</tspan> cKO vs. Ctrl</text>
<line x1="298.5" y1="612.5" x2="298.5" y2="826.5" stroke="#000" stroke-width="1"/>
<line x1="298" y1="826" x2="572.6" y2="826" stroke="#000" stroke-width="1"/>
<line x1="296" y1="816.2" x2="298.5" y2="816.2" stroke="#333" stroke-width="0.8"/>
<text x="295.4" y="819.0" font-size="8" fill="#333" text-anchor="end">0</text>
<line x1="296" y1="745.6" x2="298.5" y2="745.6" stroke="#333" stroke-width="0.8"/>
<text x="295.4" y="748.4" font-size="8" fill="#333" text-anchor="end">10</text>
<line x1="296" y1="675.0" x2="298.5" y2="675.0" stroke="#333" stroke-width="0.8"/>
<text x="295.4" y="677.8" font-size="8" fill="#333" text-anchor="end">20</text>
<line x1="373.2" y1="826" x2="373.2" y2="828.5" stroke="#333" stroke-width="0.8"/>
<text x="373.2" y="835.6" font-size="8" fill="#333" text-anchor="middle">−0.1</text>
<line x1="454.2" y1="826" x2="454.2" y2="828.5" stroke="#333" stroke-width="0.8"/>
<text x="454.2" y="835.6" font-size="8" fill="#333" text-anchor="middle">0.0</text>
<line x1="535.2" y1="826" x2="535.2" y2="828.5" stroke="#333" stroke-width="0.8"/>
<text x="535.2" y="835.6" font-size="8" fill="#333" text-anchor="middle">0.1</text>
<line x1="299" y1="807" x2="685" y2="807" stroke="#B5B5B5" stroke-width="0.7" stroke-dasharray="3.2 2.6"/>
<text x="447.6" y="842.6" font-size="7.9" fill="#000" text-anchor="middle">Weighted Mean Difference</text>
<text transform="translate(284.9,716) rotate(-90)" font-size="8" text-anchor="middle">−Log10 Adjusted P−value</text>
<circle cx="448.9" cy="812.9" r="4.4" fill="#D0D0D0" fill-opacity="0.55" stroke="#2A2A2A" stroke-width="0.55"/>
<circle cx="465.2" cy="809.5" r="4.8" fill="#D0D0D0" fill-opacity="0.55" stroke="#2A2A2A" stroke-width="0.55"/>
<circle cx="462.6" cy="807.2" r="4.8" fill="#D0D0D0" fill-opacity="0.55" stroke="#2A2A2A" stroke-width="0.55"/>
<circle cx="448.3" cy="816.4" r="2.3" fill="#D0D0D0" fill-opacity="0.55" stroke="#2A2A2A" stroke-width="0.55"/>
<circle cx="451.6" cy="806.9" r="3.6" fill="#D0D0D0" fill-opacity="0.55" stroke="#2A2A2A" stroke-width="0.55"/>
<circle cx="455.1" cy="806.4" r="2.7" fill="#D0D0D0" fill-opacity="0.55" stroke="#2A2A2A" stroke-width="0.55"/>
<circle cx="453.5" cy="819.1" r="4.3" fill="#D0D0D0" fill-opacity="0.55" stroke="#2A2A2A" stroke-width="0.55"/>
<circle cx="461.8" cy="815.0" r="2.4" fill="#D0D0D0" fill-opacity="0.55" stroke="#2A2A2A" stroke-width="0.55"/>
<circle cx="453.7" cy="808.1" r="2.0" fill="#D0D0D0" fill-opacity="0.55" stroke="#2A2A2A" stroke-width="0.55"/>
<circle cx="458.8" cy="809.0" r="2.6" fill="#D0D0D0" fill-opacity="0.55" stroke="#2A2A2A" stroke-width="0.55"/>
<circle cx="468.1" cy="807.3" r="2.9" fill="#D0D0D0" fill-opacity="0.55" stroke="#2A2A2A" stroke-width="0.55"/>
<circle cx="463.3" cy="807.8" r="4.0" fill="#D0D0D0" fill-opacity="0.55" stroke="#2A2A2A" stroke-width="0.55"/>
<circle cx="460.0" cy="819.7" r="4.1" fill="#D0D0D0" fill-opacity="0.55" stroke="#2A2A2A" stroke-width="0.55"/>
<circle cx="468.4" cy="808.6" r="2.9" fill="#D0D0D0" fill-opacity="0.55" stroke="#2A2A2A" stroke-width="0.55"/>
<circle cx="453.7" cy="808.8" r="2.4" fill="#D0D0D0" fill-opacity="0.55" stroke="#2A2A2A" stroke-width="0.55"/>
<circle cx="460.7" cy="808.0" r="3.8" fill="#D0D0D0" fill-opacity="0.55" stroke="#2A2A2A" stroke-width="0.55"/>
<circle cx="465.0" cy="806.2" r="3.0" fill="#D0D0D0" fill-opacity="0.55" stroke="#2A2A2A" stroke-width="0.55"/>
<circle cx="451.9" cy="816.3" r="3.4" fill="#D0D0D0" fill-opacity="0.55" stroke="#2A2A2A" stroke-width="0.55"/>
<circle cx="453.2" cy="812.3" r="4.1" fill="#D0D0D0" fill-opacity="0.55" stroke="#2A2A2A" stroke-width="0.55"/>
<circle cx="471.3" cy="811.7" r="2.1" fill="#D0D0D0" fill-opacity="0.55" stroke="#2A2A2A" stroke-width="0.55"/>
<circle cx="456.0" cy="817.6" r="2.1" fill="#D0D0D0" fill-opacity="0.55" stroke="#2A2A2A" stroke-width="0.55"/>
<circle cx="457.3" cy="811.6" r="3.7" fill="#D0D0D0" fill-opacity="0.55" stroke="#2A2A2A" stroke-width="0.55"/>
<circle cx="457.9" cy="806.1" r="2.5" fill="#D0D0D0" fill-opacity="0.55" stroke="#2A2A2A" stroke-width="0.55"/>
<circle cx="459.8" cy="807.1" r="4.3" fill="#D0D0D0" fill-opacity="0.55" stroke="#2A2A2A" stroke-width="0.55"/>
<circle cx="468.9" cy="812.1" r="3.0" fill="#D0D0D0" fill-opacity="0.55" stroke="#2A2A2A" stroke-width="0.55"/>
<circle cx="451.5" cy="811.8" r="4.3" fill="#D0D0D0" fill-opacity="0.55" stroke="#2A2A2A" stroke-width="0.55"/>
<circle cx="463.8" cy="812.3" r="4.4" fill="#D0D0D0" fill-opacity="0.55" stroke="#2A2A2A" stroke-width="0.55"/>
<circle cx="457.0" cy="807.3" r="4.8" fill="#D0D0D0" fill-opacity="0.55" stroke="#2A2A2A" stroke-width="0.55"/>
<circle cx="460.6" cy="809.0" r="3.8" fill="#D0D0D0" fill-opacity="0.55" stroke="#2A2A2A" stroke-width="0.55"/>
<circle cx="460.8" cy="808.7" r="4.8" fill="#D0D0D0" fill-opacity="0.55" stroke="#2A2A2A" stroke-width="0.55"/>
<circle cx="451.0" cy="807.5" r="3.0" fill="#D0D0D0" fill-opacity="0.55" stroke="#2A2A2A" stroke-width="0.55"/>
<circle cx="457.1" cy="808.2" r="2.4" fill="#D0D0D0" fill-opacity="0.55" stroke="#2A2A2A" stroke-width="0.55"/>
<circle cx="448.4" cy="822.0" r="2.5" fill="#D0D0D0" fill-opacity="0.55" stroke="#2A2A2A" stroke-width="0.55"/>
<circle cx="472.8" cy="811.3" r="3.6" fill="#D0D0D0" fill-opacity="0.55" stroke="#2A2A2A" stroke-width="0.55"/>
<circle cx="452.3" cy="808.5" r="3.8" fill="#D0D0D0" fill-opacity="0.55" stroke="#2A2A2A" stroke-width="0.55"/>
<circle cx="459.1" cy="811.9" r="3.3" fill="#D0D0D0" fill-opacity="0.55" stroke="#2A2A2A" stroke-width="0.55"/>
<circle cx="468.5" cy="810.6" r="2.1" fill="#D0D0D0" fill-opacity="0.55" stroke="#2A2A2A" stroke-width="0.55"/>
<circle cx="444.6" cy="806.5" r="2.4" fill="#D0D0D0" fill-opacity="0.55" stroke="#2A2A2A" stroke-width="0.55"/>
<circle cx="454.3" cy="820.6" r="3.9" fill="#D0D0D0" fill-opacity="0.55" stroke="#2A2A2A" stroke-width="0.55"/>
<circle cx="456.7" cy="808.8" r="3.3" fill="#D0D0D0" fill-opacity="0.55" stroke="#2A2A2A" stroke-width="0.55"/>
<circle cx="462.9" cy="815.3" r="2.9" fill="#D0D0D0" fill-opacity="0.55" stroke="#2A2A2A" stroke-width="0.55"/>
<circle cx="434.1" cy="812.6" r="4.6" fill="#D0D0D0" fill-opacity="0.55" stroke="#2A2A2A" stroke-width="0.55"/>
<circle cx="462.5" cy="807.0" r="3.5" fill="#D0D0D0" fill-opacity="0.55" stroke="#2A2A2A" stroke-width="0.55"/>
<circle cx="455.1" cy="812.8" r="2.9" fill="#D0D0D0" fill-opacity="0.55" stroke="#2A2A2A" stroke-width="0.55"/>
<circle cx="453.2" cy="807.9" r="3.1" fill="#D0D0D0" fill-opacity="0.55" stroke="#2A2A2A" stroke-width="0.55"/>
<circle cx="471.2" cy="807.1" r="3.9" fill="#D0D0D0" fill-opacity="0.55" stroke="#2A2A2A" stroke-width="0.55"/>
<circle cx="450.5" cy="806.0" r="2.3" fill="#D0D0D0" fill-opacity="0.55" stroke="#2A2A2A" stroke-width="0.55"/>
<circle cx="454.5" cy="816.4" r="4.6" fill="#D0D0D0" fill-opacity="0.55" stroke="#2A2A2A" stroke-width="0.55"/>
<circle cx="449.2" cy="814.1" r="4.3" fill="#D0D0D0" fill-opacity="0.55" stroke="#2A2A2A" stroke-width="0.55"/>
<circle cx="453.0" cy="814.3" r="4.3" fill="#D0D0D0" fill-opacity="0.55" stroke="#2A2A2A" stroke-width="0.55"/>
<circle cx="432.0" cy="817.6" r="1.9" fill="#D0D0D0" fill-opacity="0.55" stroke="#2A2A2A" stroke-width="0.55"/>
<circle cx="434.7" cy="818.2" r="2.4" fill="#D0D0D0" fill-opacity="0.55" stroke="#2A2A2A" stroke-width="0.55"/>
<circle cx="430.5" cy="819.6" r="2.3" fill="#D0D0D0" fill-opacity="0.55" stroke="#2A2A2A" stroke-width="0.55"/>
<circle cx="436.8" cy="812.1" r="2.2" fill="#D0D0D0" fill-opacity="0.55" stroke="#2A2A2A" stroke-width="0.55"/>
<circle cx="429.5" cy="817.4" r="2.1" fill="#D0D0D0" fill-opacity="0.55" stroke="#2A2A2A" stroke-width="0.55"/>
<circle cx="442.0" cy="817.2" r="2.5" fill="#D0D0D0" fill-opacity="0.55" stroke="#2A2A2A" stroke-width="0.55"/>
<circle cx="431.7" cy="817.2" r="2.5" fill="#D0D0D0" fill-opacity="0.55" stroke="#2A2A2A" stroke-width="0.55"/>
<circle cx="442.2" cy="814.8" r="2.6" fill="#D0D0D0" fill-opacity="0.55" stroke="#2A2A2A" stroke-width="0.55"/>
<circle cx="443.1" cy="817.5" r="2.8" fill="#D0D0D0" fill-opacity="0.55" stroke="#2A2A2A" stroke-width="0.55"/>
<circle cx="445.0" cy="816.1" r="2.2" fill="#D0D0D0" fill-opacity="0.55" stroke="#2A2A2A" stroke-width="0.55"/>
<circle cx="427.7" cy="818.7" r="2.7" fill="#D0D0D0" fill-opacity="0.55" stroke="#2A2A2A" stroke-width="0.55"/>
<circle cx="434.5" cy="817.5" r="2.4" fill="#D0D0D0" fill-opacity="0.55" stroke="#2A2A2A" stroke-width="0.55"/>
<circle cx="459.2" cy="806.8" r="8.0" fill="#D0D0D0" fill-opacity="0.55" stroke="#2A2A2A" stroke-width="0.55"/>
<circle cx="454.0" cy="811.0" r="6.0" fill="#D0D0D0" fill-opacity="0.55" stroke="#2A2A2A" stroke-width="0.55"/>
<circle cx="448.0" cy="813.0" r="4.5" fill="#D0D0D0" fill-opacity="0.55" stroke="#2A2A2A" stroke-width="0.55"/>
<circle cx="464.0" cy="813.0" r="5.0" fill="#D0D0D0" fill-opacity="0.55" stroke="#2A2A2A" stroke-width="0.55"/>
<circle cx="404.2" cy="808.3" r="2.8" fill="#D0D0D0" fill-opacity="0.55" stroke="#2A2A2A" stroke-width="0.55"/>
<circle cx="310.6" cy="752.1" r="3.2" fill="#4E7D4E" stroke="#222" stroke-width="0.7"/>
<circle cx="410" cy="744.3" r="3.8" fill="#EE5A36" stroke="#222" stroke-width="0.7"/>
<circle cx="414.9" cy="751.7" r="3.8" fill="#4E7D4E" stroke="#222" stroke-width="0.7"/>
<circle cx="427.1" cy="751.9" r="3.8" fill="#EE5A36" stroke="#222" stroke-width="0.7"/>
<circle cx="431.8" cy="754.9" r="3.8" fill="#EE5A36" stroke="#222" stroke-width="0.7"/>
<circle cx="416.5" cy="761.7" r="3.8" fill="#4E7D4E" stroke="#222" stroke-width="0.7"/>
<circle cx="414" cy="767.6" r="3.8" fill="#EE5A36" stroke="#222" stroke-width="0.7"/>
<circle cx="418.9" cy="770.5" r="3.8" fill="#4E7D4E" stroke="#222" stroke-width="0.7"/>
<circle cx="405.3" cy="769.9" r="4" fill="#4E7D4E" stroke="#222" stroke-width="0.7"/>
<circle cx="393" cy="775" r="3.5" fill="#4E7D4E" stroke="#222" stroke-width="0.7"/>
<circle cx="393" cy="782.1" r="3.5" fill="#4E7D4E" stroke="#222" stroke-width="0.7"/>
<circle cx="403.8" cy="778.6" r="3.8" fill="#EE5A36" stroke="#222" stroke-width="0.7"/>
<circle cx="401.8" cy="785.2" r="3.8" fill="#4E7D4E" stroke="#222" stroke-width="0.7"/>
<circle cx="410.4" cy="784.8" r="3.8" fill="#4E7D4E" stroke="#222" stroke-width="0.7"/>
<circle cx="429.2" cy="779" r="3.8" fill="#4E7D4E" stroke="#222" stroke-width="0.7"/>
<circle cx="430.8" cy="785.6" r="3.8" fill="#4E7D4E" stroke="#222" stroke-width="0.7"/>
<circle cx="395" cy="789.3" r="3.5" fill="#EE5A36" stroke="#222" stroke-width="0.7"/>
<circle cx="395.4" cy="795.4" r="3.5" fill="#EE5A36" stroke="#222" stroke-width="0.7"/>
<circle cx="379.1" cy="792.1" r="3.3" fill="#EE5A36" stroke="#222" stroke-width="0.7"/>
<circle cx="382.8" cy="798.1" r="3.3" fill="#4E7D4E" stroke="#222" stroke-width="0.7"/>
<circle cx="383.8" cy="804.8" r="3.3" fill="#4E7D4E" stroke="#222" stroke-width="0.7"/>
<circle cx="394.4" cy="801.9" r="3.3" fill="#EE5A36" stroke="#222" stroke-width="0.7"/>
<circle cx="401.2" cy="803" r="3.5" fill="#4E7D4E" stroke="#222" stroke-width="0.7"/>
<circle cx="406.7" cy="798.5" r="3.8" fill="#4E7D4E" stroke="#222" stroke-width="0.7"/>
<circle cx="419.6" cy="801.1" r="3.8" fill="#EE5A36" stroke="#222" stroke-width="0.7"/>
<circle cx="427.7" cy="800.5" r="5" fill="#EE5A36" stroke="#222" stroke-width="0.7"/>
<circle cx="423" cy="803" r="4" fill="#4E7D4E" stroke="#222" stroke-width="0.7"/>
<circle cx="412" cy="806" r="3.3" fill="#EE5A36" stroke="#222" stroke-width="0.7"/>
<circle cx="418" cy="808" r="3" fill="#4E7D4E" stroke="#222" stroke-width="0.7"/>
<circle cx="505.4" cy="731.6" r="4" fill="#EE5A36" stroke="#222" stroke-width="0.7"/>
<circle cx="470.5" cy="762.7" r="6.5" fill="#4E7D4E" stroke="#222" stroke-width="0.7"/>
<circle cx="498.1" cy="776" r="3.8" fill="#EE5A36" stroke="#222" stroke-width="0.7"/>
<circle cx="482.3" cy="780.1" r="4" fill="#EE5A36" stroke="#222" stroke-width="0.7"/>
<circle cx="510.3" cy="780.5" r="3.5" fill="#EE5A36" stroke="#222" stroke-width="0.7"/>
<circle cx="503.8" cy="783.5" r="3.8" fill="#4E7D4E" stroke="#222" stroke-width="0.7"/>
<circle cx="483.8" cy="787.6" r="3.5" fill="#EE5A36" stroke="#222" stroke-width="0.7"/>
<circle cx="485.4" cy="796.4" r="3.8" fill="#EE5A36" stroke="#222" stroke-width="0.7"/>
<circle cx="490.5" cy="790.7" r="3.8" fill="#4E7D4E" stroke="#222" stroke-width="0.7"/>
<circle cx="469" cy="796.4" r="5.5" fill="#4E7D4E" stroke="#222" stroke-width="0.7"/>
<circle cx="445.5" cy="798.5" r="7.5" fill="#EE5A36" stroke="#222" stroke-width="0.7"/>
<circle cx="448.2" cy="799.5" r="5" fill="#4E7D4E" stroke="#222" stroke-width="0.7"/>
<circle cx="438.4" cy="793.8" r="4" fill="#EE5A36" stroke="#222" stroke-width="0.7"/>
<circle cx="494.6" cy="802.6" r="3.3" fill="#4E7D4E" stroke="#222" stroke-width="0.7"/>
<circle cx="496.6" cy="806.6" r="3.3" fill="#EE5A36" stroke="#222" stroke-width="0.7"/>
<circle cx="501.3" cy="806.6" r="3.3" fill="#EE5A36" stroke="#222" stroke-width="0.7"/>
<circle cx="509.9" cy="806" r="3" fill="#4E7D4E" stroke="#222" stroke-width="0.7"/>
<circle cx="518.1" cy="799.9" r="3.2" fill="#4E7D4E" stroke="#222" stroke-width="0.7"/>
<circle cx="519.1" cy="803.6" r="3" fill="#EE5A36" stroke="#222" stroke-width="0.7"/>
<circle cx="485.4" cy="806" r="3.3" fill="#4E7D4E" stroke="#222" stroke-width="0.7"/>
<circle cx="474" cy="803" r="4" fill="#4E7D4E" stroke="#222" stroke-width="0.7"/>
<circle cx="478" cy="800" r="3.5" fill="#EE5A36" stroke="#222" stroke-width="0.7"/>
<circle cx="488" cy="809" r="3" fill="#4E7D4E" stroke="#222" stroke-width="0.7"/>
<circle cx="502" cy="799" r="3" fill="#4E7D4E" stroke="#222" stroke-width="0.7"/>
<circle cx="366.6" cy="637.4" r="4.2" fill="#4E7D4E" stroke="#222" stroke-width="0.7"/>
<circle cx="347.7" cy="662.7" r="3.9" fill="#4E7D4E" stroke="#222" stroke-width="0.7"/>
<circle cx="354.6" cy="662.7" r="3.9" fill="#4E7D4E" stroke="#222" stroke-width="0.7"/>
<circle cx="377.4" cy="701.8" r="3.9" fill="#EE5A36" stroke="#222" stroke-width="0.7"/>
<circle cx="487.6" cy="622.5" r="6.3" fill="#4E7D4E" stroke="#222" stroke-width="0.7"/>
<circle cx="512.6" cy="631.3" r="5.1" fill="#4E7D4E" stroke="#222" stroke-width="0.7"/>
<circle cx="533.4" cy="629.2" r="4.1" fill="#EE5A36" stroke="#222" stroke-width="0.7"/>
<circle cx="489.7" cy="657.2" r="7.6" fill="#EE5A36" stroke="#222" stroke-width="0.7"/>
<line x1="366.6" y1="633" x2="372" y2="631" stroke="#196B3A" stroke-width="0.8"/>
<rect x="369" y="624.1" width="20.9" height="7.2" rx="1" fill="#196B3A"/>
<text x="379.4" y="630.2" font-size="7.2" fill="#fff" text-anchor="middle" textLength="17.4" lengthAdjust="spacingAndGlyphs">ETV4</text>
<line x1="347" y1="660" x2="342" y2="656" stroke="#196B3A" stroke-width="0.8"/>
<rect x="321.9" y="649.1" width="25.8" height="7.2" rx="1" fill="#196B3A"/>
<text x="334.8" y="655.2" font-size="7.2" fill="#fff" text-anchor="middle" textLength="22.3" lengthAdjust="spacingAndGlyphs">SOX15</text>
<line x1="354.6" y1="666" x2="358" y2="670" stroke="#196B3A" stroke-width="0.8"/>
<rect x="356.9" y="669.9" width="20.5" height="7.5" rx="1" fill="#196B3A"/>
<text x="367.1" y="676.1" font-size="7.2" fill="#fff" text-anchor="middle" textLength="17.0" lengthAdjust="spacingAndGlyphs">ELF3</text>
<line x1="514" y1="629" x2="519" y2="624" stroke="#196B3A" stroke-width="0.8"/>
<rect x="518.7" y="618" width="24.1" height="8.2" rx="1" fill="#196B3A"/>
<text x="530.8" y="624.6" font-size="7.2" fill="#fff" text-anchor="middle" textLength="20.6" lengthAdjust="spacingAndGlyphs">SNAI1</text>
<rect x="491.7" y="642.9" width="22.5" height="8.2" rx="1" fill="#E8231C"/>
<text x="503.0" y="649.5" font-size="7.2" fill="#fff" text-anchor="middle" textLength="19.0" lengthAdjust="spacingAndGlyphs">CTCF</text>
<line x1="470" y1="757" x2="468" y2="757" stroke="#196B3A" stroke-width="0.8"/>
<rect x="446.6" y="748.8" width="22.9" height="8.2" rx="1" fill="#196B3A"/>
<text x="458.1" y="755.4" font-size="7.2" fill="#fff" text-anchor="middle" textLength="19.4" lengthAdjust="spacingAndGlyphs">MBD2</text>
<line x1="499" y1="773" x2="503" y2="770" stroke="#E8231C" stroke-width="0.8"/>
<rect x="497" y="762.1" width="27.8" height="7.8" rx="1" fill="#E8231C"/>
<text x="510.9" y="768.5" font-size="7.2" fill="#fff" text-anchor="middle" textLength="24.3" lengthAdjust="spacingAndGlyphs">SMAD3</text>
<line x1="430.8" y1="783" x2="437" y2="776.6" stroke="#196B3A" stroke-width="0.8"/>
<rect x="430.6" y="768.8" width="19.6" height="7.8" rx="1" fill="#196B3A"/>
<text x="440.4" y="775.2" font-size="7.2" fill="#fff" text-anchor="middle" textLength="16.1" lengthAdjust="spacingAndGlyphs">ATF3</text>
<rect x="405.9" y="787.6" width="21.8" height="7.4" rx="1" fill="#196B3A"/>
<text x="416.8" y="793.8" font-size="7.2" fill="#fff" text-anchor="middle" textLength="18.3" lengthAdjust="spacingAndGlyphs">JUND</text>
<rect x="458.8" y="787.8" width="22.5" height="8.0" rx="1" fill="#E8231C"/>
<text x="470.1" y="794.3" font-size="7.2" fill="#fff" text-anchor="middle" textLength="19.0" lengthAdjust="spacingAndGlyphs">HES1</text>
<line x1="495" y1="801" x2="500" y2="794.4" stroke="#196B3A" stroke-width="0.8"/>
<rect x="491.5" y="786.6" width="24.5" height="7.8" rx="1" fill="#196B3A"/>
<text x="503.8" y="793.0" font-size="7.2" fill="#fff" text-anchor="middle" textLength="21.0" lengthAdjust="spacingAndGlyphs">HINFP</text>
<line x1="404" y1="808" x2="398" y2="810" stroke="#196B3A" stroke-width="0.8"/>
<rect x="375.2" y="809.7" width="26.0" height="7.8" rx="1" fill="#196B3A"/>
<text x="388.2" y="816.1" font-size="7.2" fill="#fff" text-anchor="middle" textLength="22.5" lengthAdjust="spacingAndGlyphs">FOXP2</text>
<rect x="424.1" y="805.6" width="24.5" height="7.8" rx="1" fill="#E8231C"/>
<text x="436.4" y="812.0" font-size="7.2" fill="#fff" text-anchor="middle" textLength="21.0" lengthAdjust="spacingAndGlyphs">KLF15</text>
<rect x="472.7" y="812.2" width="27.0" height="7.7" rx="1" fill="#196B3A"/>
<text x="486.2" y="818.5" font-size="7.2" fill="#fff" text-anchor="middle" textLength="23.5" lengthAdjust="spacingAndGlyphs">SMAD1</text>
<line x1="519" y1="803" x2="522" y2="806" stroke="#196B3A" stroke-width="0.8"/>
<rect x="517.7" y="806" width="27.0" height="8.2" rx="1" fill="#196B3A"/>
<text x="531.2" y="812.6" font-size="7.2" fill="#fff" text-anchor="middle" textLength="23.5" lengthAdjust="spacingAndGlyphs">FOXM1</text>
<text x="584.6" y="658.7" font-size="7.3" fill="#222">Classification</text>
<rect x="584.8" y="663.2" width="11.2" height="11.2" fill="#F0291E"/>
<rect x="584.8" y="674.4" width="11.2" height="11.3" fill="#15683A"/>
<text x="599.0" y="671.3" font-size="7.3" fill="#222">Repressor</text>
<text x="599.0" y="685.0" font-size="7.3" fill="#222">Activator</text>
<text x="585.0" y="707.6" font-size="7.3" fill="#222">TFBS</text>
<circle cx="594" cy="716.7" r="4.4" fill="#C0C0C0" stroke="#111" stroke-width="1.1"/>
<text x="607.0" y="718.9" font-size="6" fill="#222">2500</text>
<circle cx="594" cy="729" r="5.7" fill="#C0C0C0" stroke="#111" stroke-width="1.1"/>
<text x="607.0" y="731.2" font-size="6" fill="#222">5000</text>
<circle cx="594" cy="743.2" r="6.4" fill="#C0C0C0" stroke="#111" stroke-width="1.1"/>
<text x="607.0" y="745.4" font-size="6" fill="#222">7500</text>
<circle cx="594" cy="759.2" r="7.0" fill="#C0C0C0" stroke="#111" stroke-width="1.1"/>
<text x="607.0" y="761.4" font-size="6" fill="#222">10000</text>
<circle cx="594" cy="776.8" r="7.5" fill="#C0C0C0" stroke="#111" stroke-width="1.1"/>
<text x="607.0" y="779.0" font-size="6" fill="#222">12500</text>
<text x="-0.5" y="749.7" font-size="14" fill="#000" font-weight="bold">h</text>
<text x="126.6" y="771.4" font-size="11.45" fill="#000" text-anchor="middle">Jaspar Motifs in FOXF2 binding sites</text>
<g fill="#A6A6A6"><circle cx="52.5" cy="821.3" r="3.5"/><circle cx="52.9" cy="827.1" r="3.5"/><circle cx="53.3" cy="832.5" r="3.5"/><circle cx="53.7" cy="837.5" r="3.5"/><circle cx="54.1" cy="842.2" r="3.5"/><circle cx="54.6" cy="846.6" r="3.5"/><circle cx="55.0" cy="850.7" r="3.5"/><circle cx="55.4" cy="854.6" r="3.5"/><circle cx="55.8" cy="858.2" r="3.5"/><circle cx="56.3" cy="861.6" r="3.5"/><circle cx="56.7" cy="864.8" r="3.5"/><circle cx="57.1" cy="867.8" r="3.5"/><circle cx="57.5" cy="870.7" r="3.5"/><circle cx="57.9" cy="873.4" r="3.5"/><circle cx="58.4" cy="875.9" r="3.5"/><circle cx="58.8" cy="878.3" r="3.5"/><circle cx="59.2" cy="880.5" r="3.5"/><circle cx="59.6" cy="882.7" r="3.5"/><circle cx="60.0" cy="884.7" r="3.5"/><circle cx="60.5" cy="886.6" r="3.5"/><circle cx="60.9" cy="888.5" r="3.5"/><circle cx="61.3" cy="890.2" r="3.5"/><circle cx="61.7" cy="891.8" r="3.5"/><circle cx="62.1" cy="893.4" r="3.5"/><circle cx="62.6" cy="894.9" r="3.5"/><circle cx="63.0" cy="896.3" r="3.5"/><circle cx="63.4" cy="897.7" r="3.5"/><circle cx="63.8" cy="899.0" r="3.5"/><circle cx="64.3" cy="900.2" r="3.5"/><circle cx="64.7" cy="901.4" r="3.5"/><circle cx="65.1" cy="902.6" r="3.5"/><circle cx="65.5" cy="903.7" r="3.5"/><circle cx="65.9" cy="904.7" r="3.5"/><circle cx="66.4" cy="905.8" r="3.5"/><circle cx="66.8" cy="906.7" r="3.5"/><circle cx="67.2" cy="907.7" r="3.5"/><circle cx="67.6" cy="908.6" r="3.5"/><circle cx="68.0" cy="909.5" r="3.5"/><circle cx="68.5" cy="910.3" r="3.5"/><circle cx="68.9" cy="911.2" r="3.5"/><circle cx="69.3" cy="912.0" r="3.5"/><circle cx="69.7" cy="912.7" r="3.5"/><circle cx="70.1" cy="913.5" r="3.5"/><circle cx="70.6" cy="914.2" r="3.5"/><circle cx="71.0" cy="914.9" r="3.5"/><circle cx="71.4" cy="915.6" r="3.5"/><circle cx="71.8" cy="916.3" r="3.5"/><circle cx="72.2" cy="916.9" r="3.5"/><circle cx="72.7" cy="917.6" r="3.5"/><circle cx="73.1" cy="918.2" r="3.5"/><circle cx="73.5" cy="918.8" r="3.5"/><circle cx="73.9" cy="919.4" r="3.5"/><circle cx="74.4" cy="920.0" r="3.5"/><circle cx="74.8" cy="920.5" r="3.5"/><circle cx="75.2" cy="921.1" r="3.5"/><circle cx="75.6" cy="921.6" r="3.5"/><circle cx="76.0" cy="922.1" r="3.5"/><circle cx="76.5" cy="922.6" r="3.5"/><circle cx="76.9" cy="923.1" r="3.5"/><circle cx="77.3" cy="923.6" r="3.5"/><circle cx="77.7" cy="924.1" r="3.5"/><circle cx="78.1" cy="924.6" r="3.5"/><circle cx="78.6" cy="925.1" r="3.5"/><circle cx="79.0" cy="925.5" r="3.5"/><circle cx="79.4" cy="926.0" r="3.5"/><circle cx="79.8" cy="926.4" r="3.5"/><circle cx="80.2" cy="926.8" r="3.5"/><circle cx="80.7" cy="927.2" r="3.5"/><circle cx="81.1" cy="927.6" r="3.5"/><circle cx="81.5" cy="928.1" r="3.5"/><circle cx="81.9" cy="928.5" r="3.5"/><circle cx="82.4" cy="928.8" r="3.5"/><circle cx="82.8" cy="929.2" r="3.5"/><circle cx="83.2" cy="929.6" r="3.5"/><circle cx="83.6" cy="930.0" r="3.5"/><circle cx="84.0" cy="930.3" r="3.5"/><circle cx="84.5" cy="930.7" r="3.5"/><circle cx="84.9" cy="931.1" r="3.5"/><circle cx="85.3" cy="931.4" r="3.5"/><circle cx="85.7" cy="931.7" r="3.5"/><circle cx="86.1" cy="932.1" r="3.5"/><circle cx="86.6" cy="932.4" r="3.5"/><circle cx="87.0" cy="932.7" r="3.5"/><circle cx="87.4" cy="933.1" r="3.5"/><circle cx="87.8" cy="933.4" r="3.5"/><circle cx="88.2" cy="933.7" r="3.5"/><circle cx="88.7" cy="934.0" r="3.5"/><circle cx="89.1" cy="934.3" r="3.5"/><circle cx="89.5" cy="934.6" r="3.5"/><circle cx="89.9" cy="934.9" r="3.5"/><circle cx="90.4" cy="935.2" r="3.5"/><circle cx="90.8" cy="935.4" r="3.5"/><circle cx="91.2" cy="935.7" r="3.5"/><circle cx="91.6" cy="936.0" r="3.5"/><circle cx="92.0" cy="936.3" r="3.5"/><circle cx="92.5" cy="936.5" r="3.5"/><circle cx="92.9" cy="936.8" r="3.5"/><circle cx="93.3" cy="937.0" r="3.5"/><circle cx="93.7" cy="937.3" r="3.5"/><circle cx="94.1" cy="937.5" r="3.5"/><circle cx="94.6" cy="937.8" r="3.5"/><circle cx="95.0" cy="938.0" r="3.5"/><circle cx="95.4" cy="938.3" r="3.5"/><circle cx="95.8" cy="938.5" r="3.5"/><circle cx="96.2" cy="938.7" r="3.5"/><circle cx="96.7" cy="939.0" r="3.5"/><circle cx="97.1" cy="939.2" r="3.5"/><circle cx="97.5" cy="939.4" r="3.5"/><circle cx="97.9" cy="939.6" r="3.5"/><circle cx="98.4" cy="939.8" r="3.5"/><circle cx="98.8" cy="940.0" r="3.5"/><circle cx="99.2" cy="940.2" r="3.5"/><circle cx="99.6" cy="940.4" r="3.5"/><circle cx="100.0" cy="940.6" r="3.5"/><circle cx="100.5" cy="940.8" r="3.5"/><circle cx="100.9" cy="941.0" r="3.5"/><circle cx="101.3" cy="941.2" r="3.5"/><circle cx="101.7" cy="941.4" r="3.5"/><circle cx="102.1" cy="941.6" r="3.5"/><circle cx="102.6" cy="941.8" r="3.5"/><circle cx="103.0" cy="942.0" r="3.5"/><circle cx="103.4" cy="942.2" r="3.5"/><circle cx="103.8" cy="942.3" r="3.5"/><circle cx="104.2" cy="942.5" r="3.5"/><circle cx="104.7" cy="942.7" r="3.5"/><circle cx="105.1" cy="942.8" r="3.5"/><circle cx="105.5" cy="943.0" r="3.5"/><circle cx="105.9" cy="943.2" r="3.5"/><circle cx="106.4" cy="943.3" r="3.5"/><circle cx="106.8" cy="943.5" r="3.5"/><circle cx="107.2" cy="943.6" r="3.5"/><circle cx="107.6" cy="943.8" r="3.5"/><circle cx="108.0" cy="944.0" r="3.5"/><circle cx="108.5" cy="944.1" r="3.5"/><circle cx="108.9" cy="944.2" r="3.5"/><circle cx="109.3" cy="944.4" r="3.5"/><circle cx="109.7" cy="944.5" r="3.5"/><circle cx="110.1" cy="944.7" r="3.5"/><circle cx="110.6" cy="944.8" r="3.5"/><circle cx="111.0" cy="945.0" r="3.5"/><circle cx="111.4" cy="945.1" r="3.5"/><circle cx="111.8" cy="945.2" r="3.5"/><circle cx="112.2" cy="945.4" r="3.5"/><circle cx="112.7" cy="945.5" r="3.5"/><circle cx="113.1" cy="945.6" r="3.5"/><circle cx="113.5" cy="945.7" r="3.5"/><circle cx="113.9" cy="945.9" r="3.5"/><circle cx="114.4" cy="946.0" r="3.5"/><circle cx="114.8" cy="946.1" r="3.5"/><circle cx="115.2" cy="946.2" r="3.5"/><circle cx="115.6" cy="946.3" r="3.5"/><circle cx="116.0" cy="946.4" r="3.5"/><circle cx="116.5" cy="946.6" r="3.5"/><circle cx="116.9" cy="946.7" r="3.5"/><circle cx="117.3" cy="946.8" r="3.5"/><circle cx="117.7" cy="946.9" r="3.5"/><circle cx="118.1" cy="947.0" r="3.5"/><circle cx="118.6" cy="947.1" r="3.5"/><circle cx="119.0" cy="947.2" r="3.5"/><circle cx="119.4" cy="947.3" r="3.5"/><circle cx="119.8" cy="947.4" r="3.5"/><circle cx="120.2" cy="947.5" r="3.5"/><circle cx="120.7" cy="947.6" r="3.5"/><circle cx="121.1" cy="947.7" r="3.5"/><circle cx="121.5" cy="947.8" r="3.5"/><circle cx="121.9" cy="947.9" r="3.5"/><circle cx="122.3" cy="948.0" r="3.5"/><circle cx="122.8" cy="948.1" r="3.5"/><circle cx="123.2" cy="948.1" r="3.5"/><circle cx="123.6" cy="948.2" r="3.5"/><circle cx="124.0" cy="948.3" r="3.5"/><circle cx="124.5" cy="948.4" r="3.5"/><circle cx="124.9" cy="948.5" r="3.5"/><circle cx="125.3" cy="948.6" r="3.5"/><circle cx="125.7" cy="948.7" r="3.5"/><circle cx="126.1" cy="948.7" r="3.5"/><circle cx="126.6" cy="948.8" r="3.5"/><circle cx="127.0" cy="948.9" r="3.5"/><circle cx="127.4" cy="949.0" r="3.5"/><circle cx="127.8" cy="949.0" r="3.5"/><circle cx="128.2" cy="949.1" r="3.5"/><circle cx="128.7" cy="949.2" r="3.5"/><circle cx="129.1" cy="949.3" r="3.5"/><circle cx="129.5" cy="949.3" r="3.5"/><circle cx="129.9" cy="949.4" r="3.5"/><circle cx="130.3" cy="949.5" r="3.5"/><circle cx="130.8" cy="949.5" r="3.5"/><circle cx="131.2" cy="949.6" r="3.5"/><circle cx="131.6" cy="949.7" r="3.5"/><circle cx="132.0" cy="949.7" r="3.5"/><circle cx="132.5" cy="949.8" r="3.5"/><circle cx="132.9" cy="949.9" r="3.5"/><circle cx="133.3" cy="949.9" r="3.5"/><circle cx="133.7" cy="950.0" r="3.5"/><circle cx="134.1" cy="950.1" r="3.5"/><circle cx="134.6" cy="950.1" r="3.5"/><circle cx="135.0" cy="950.2" r="3.5"/><circle cx="135.4" cy="950.2" r="3.5"/><circle cx="135.8" cy="950.3" r="3.5"/><circle cx="136.2" cy="950.3" r="3.5"/><circle cx="136.7" cy="950.4" r="3.5"/><circle cx="137.1" cy="950.4" r="3.5"/><circle cx="137.5" cy="950.5" r="3.5"/><circle cx="137.9" cy="950.6" r="3.5"/><circle cx="138.3" cy="950.6" r="3.5"/><circle cx="138.8" cy="950.7" r="3.5"/><circle cx="139.2" cy="950.7" r="3.5"/><circle cx="139.6" cy="950.8" r="3.5"/><circle cx="140.0" cy="950.8" r="3.5"/><circle cx="140.5" cy="950.9" r="3.5"/><circle cx="140.9" cy="950.9" r="3.5"/><circle cx="141.3" cy="951.0" r="3.5"/><circle cx="141.7" cy="951.0" r="3.5"/><circle cx="142.1" cy="951.0" r="3.5"/><circle cx="142.6" cy="951.1" r="3.5"/><circle cx="143.0" cy="951.1" r="3.5"/><circle cx="143.4" cy="951.2" r="3.5"/><circle cx="143.8" cy="951.2" r="3.5"/><circle cx="144.2" cy="951.3" r="3.5"/><circle cx="144.7" cy="951.3" r="3.5"/><circle cx="145.1" cy="951.3" r="3.5"/><circle cx="145.5" cy="951.4" r="3.5"/><circle cx="145.9" cy="951.4" r="3.5"/><circle cx="146.3" cy="951.5" r="3.5"/><circle cx="146.8" cy="951.5" r="3.5"/><circle cx="147.2" cy="951.5" r="3.5"/><circle cx="147.6" cy="951.6" r="3.5"/><circle cx="148.0" cy="951.6" r="3.5"/><circle cx="148.5" cy="951.7" r="3.5"/><circle cx="148.9" cy="951.7" r="3.5"/><circle cx="149.3" cy="951.7" r="3.5"/><circle cx="149.7" cy="951.8" r="3.5"/><circle cx="150.1" cy="951.8" r="3.5"/><circle cx="150.6" cy="951.8" r="3.5"/><circle cx="151.0" cy="951.9" r="3.5"/><circle cx="151.4" cy="951.9" r="3.5"/><circle cx="151.8" cy="951.9" r="3.5"/><circle cx="152.2" cy="952.0" r="3.5"/><circle cx="152.7" cy="952.0" r="3.5"/><circle cx="153.1" cy="952.0" r="3.5"/><circle cx="153.5" cy="952.1" r="3.5"/><circle cx="153.9" cy="952.1" r="3.5"/><circle cx="154.3" cy="952.1" r="3.5"/><circle cx="154.8" cy="952.1" r="3.5"/><circle cx="155.2" cy="952.2" r="3.5"/><circle cx="155.6" cy="952.2" r="3.5"/><circle cx="156.0" cy="952.2" r="3.5"/><circle cx="156.5" cy="952.3" r="3.5"/><circle cx="156.9" cy="952.3" r="3.5"/><circle cx="157.3" cy="952.3" r="3.5"/><circle cx="157.7" cy="952.3" r="3.5"/><circle cx="158.1" cy="952.4" r="3.5"/><circle cx="158.6" cy="952.4" r="3.5"/><circle cx="159.0" cy="952.4" r="3.5"/><circle cx="159.4" cy="952.4" r="3.5"/><circle cx="159.8" cy="952.5" r="3.5"/><circle cx="160.2" cy="952.5" r="3.5"/><circle cx="160.7" cy="952.5" r="3.5"/><circle cx="161.1" cy="952.5" r="3.5"/><circle cx="161.5" cy="952.6" r="3.5"/><circle cx="161.9" cy="952.6" r="3.5"/><circle cx="162.3" cy="952.6" r="3.5"/><circle cx="162.8" cy="952.6" r="3.5"/><circle cx="163.2" cy="952.6" r="3.5"/><circle cx="163.6" cy="952.7" r="3.5"/><circle cx="164.0" cy="952.7" r="3.5"/><circle cx="164.4" cy="952.7" r="3.5"/><circle cx="164.9" cy="952.7" r="3.5"/><circle cx="165.3" cy="952.7" r="3.5"/><circle cx="165.7" cy="952.8" r="3.5"/><circle cx="166.1" cy="952.8" r="3.5"/><circle cx="166.6" cy="952.8" r="3.5"/><circle cx="167.0" cy="952.8" r="3.5"/><circle cx="167.4" cy="952.8" r="3.5"/><circle cx="167.8" cy="952.9" r="3.5"/><circle cx="168.2" cy="952.9" r="3.5"/><circle cx="168.7" cy="952.9" r="3.5"/><circle cx="169.1" cy="952.9" r="3.5"/><circle cx="169.5" cy="952.9" r="3.5"/><circle cx="169.9" cy="953.0" r="3.5"/><circle cx="170.3" cy="953.0" r="3.5"/><circle cx="170.8" cy="953.0" r="3.5"/><circle cx="171.2" cy="953.0" r="3.5"/><circle cx="171.6" cy="953.0" r="3.5"/><circle cx="172.0" cy="953.0" r="3.5"/><circle cx="172.4" cy="953.0" r="3.5"/><circle cx="172.9" cy="953.1" r="3.5"/><circle cx="173.3" cy="953.1" r="3.5"/><circle cx="173.7" cy="953.1" r="3.5"/><circle cx="174.1" cy="953.1" r="3.5"/><circle cx="174.6" cy="953.1" r="3.5"/><circle cx="175.0" cy="953.1" r="3.5"/><circle cx="175.4" cy="953.2" r="3.5"/><circle cx="175.8" cy="953.2" r="3.5"/><circle cx="176.2" cy="953.2" r="3.5"/><circle cx="176.7" cy="953.2" r="3.5"/><circle cx="177.1" cy="953.2" r="3.5"/><circle cx="177.5" cy="953.2" r="3.5"/><circle cx="177.9" cy="953.2" r="3.5"/><circle cx="178.3" cy="953.2" r="3.5"/><circle cx="178.8" cy="953.3" r="3.5"/><circle cx="179.2" cy="953.3" r="3.5"/><circle cx="179.6" cy="953.3" r="3.5"/><circle cx="180.0" cy="953.3" r="3.5"/><circle cx="180.4" cy="953.3" r="3.5"/><circle cx="180.9" cy="953.3" r="3.5"/><circle cx="181.3" cy="953.3" r="3.5"/><circle cx="181.7" cy="953.3" r="3.5"/><circle cx="182.1" cy="953.4" r="3.5"/><circle cx="182.6" cy="953.4" r="3.5"/><circle cx="183.0" cy="953.4" r="3.5"/><circle cx="183.4" cy="953.4" r="3.5"/><circle cx="183.8" cy="953.4" r="3.5"/><circle cx="184.2" cy="953.4" r="3.5"/><circle cx="184.7" cy="953.4" r="3.5"/><circle cx="185.1" cy="953.4" r="3.5"/><circle cx="185.5" cy="953.4" r="3.5"/><circle cx="185.9" cy="953.4" r="3.5"/><circle cx="186.3" cy="953.5" r="3.5"/><circle cx="186.8" cy="953.5" r="3.5"/><circle cx="187.2" cy="953.5" r="3.5"/><circle cx="187.6" cy="953.5" r="3.5"/><circle cx="188.0" cy="953.5" r="3.5"/><circle cx="188.4" cy="953.5" r="3.5"/><circle cx="188.9" cy="953.5" r="3.5"/><circle cx="189.3" cy="953.5" r="3.5"/><circle cx="189.7" cy="953.5" r="3.5"/><circle cx="190.1" cy="953.5" r="3.5"/><circle cx="190.6" cy="953.5" r="3.5"/><circle cx="191.0" cy="953.6" r="3.5"/><circle cx="191.4" cy="953.6" r="3.5"/><circle cx="191.8" cy="953.6" r="3.5"/><circle cx="192.2" cy="953.6" r="3.5"/><circle cx="192.7" cy="953.6" r="3.5"/><circle cx="193.1" cy="953.6" r="3.5"/><circle cx="193.5" cy="953.6" r="3.5"/><circle cx="193.9" cy="953.6" r="3.5"/><circle cx="194.3" cy="953.6" r="3.5"/><circle cx="194.8" cy="953.6" r="3.5"/><circle cx="195.2" cy="953.6" r="3.5"/><circle cx="195.6" cy="953.6" r="3.5"/><circle cx="196.0" cy="953.6" r="3.5"/><circle cx="196.4" cy="953.6" r="3.5"/><circle cx="196.9" cy="953.7" r="3.5"/><circle cx="197.3" cy="953.7" r="3.5"/><circle cx="197.7" cy="953.7" r="3.5"/><circle cx="198.1" cy="953.7" r="3.5"/><circle cx="198.6" cy="953.7" r="3.5"/><circle cx="199.0" cy="953.7" r="3.5"/><circle cx="199.4" cy="953.7" r="3.5"/><circle cx="199.8" cy="953.7" r="3.5"/><circle cx="200.2" cy="953.7" r="3.5"/><circle cx="200.7" cy="953.7" r="3.5"/><circle cx="201.1" cy="953.7" r="3.5"/><circle cx="201.5" cy="953.7" r="3.5"/><circle cx="201.9" cy="953.7" r="3.5"/><circle cx="202.3" cy="953.7" r="3.5"/><circle cx="202.8" cy="953.7" r="3.5"/><circle cx="203.2" cy="953.7" r="3.5"/><circle cx="203.6" cy="953.7" r="3.5"/><circle cx="204.0" cy="953.8" r="3.5"/><circle cx="204.4" cy="953.8" r="3.5"/><circle cx="204.9" cy="953.8" r="3.5"/><circle cx="205.3" cy="953.8" r="3.5"/><circle cx="205.7" cy="953.8" r="3.5"/><circle cx="206.1" cy="953.8" r="3.5"/><circle cx="206.5" cy="953.8" r="3.5"/><circle cx="207.0" cy="953.8" r="3.5"/><circle cx="207.4" cy="953.8" r="3.5"/><circle cx="207.8" cy="953.8" r="3.5"/><circle cx="51.2" cy="792.7" r="3.5"/><circle cx="51.2" cy="802.4" r="3.5"/><circle cx="51.4" cy="815.6" r="3.5"/><circle cx="51.8" cy="822.7" r="3.5"/><circle cx="52.3" cy="828.0" r="3.5"/><circle cx="52.9" cy="833.3" r="3.5"/></g>
<rect x="43.8" y="785.3" width="171.7" height="176.8" fill="none" stroke="#333" stroke-width="0.9"/>
<line x1="41.3" y1="954.1" x2="43.8" y2="954.1" stroke="#333" stroke-width="0.8"/>
<text x="40.0" y="956.5" font-size="6.8" fill="#4D4D4D" text-anchor="end">0</text>
<line x1="41.3" y1="910.0" x2="43.8" y2="910.0" stroke="#333" stroke-width="0.8"/>
<text x="40.0" y="912.4" font-size="6.8" fill="#4D4D4D" text-anchor="end">50</text>
<line x1="41.3" y1="865.9" x2="43.8" y2="865.9" stroke="#333" stroke-width="0.8"/>
<text x="40.0" y="868.3" font-size="6.8" fill="#4D4D4D" text-anchor="end">100</text>
<line x1="41.3" y1="821.8" x2="43.8" y2="821.8" stroke="#333" stroke-width="0.8"/>
<text x="40.0" y="824.2" font-size="6.8" fill="#4D4D4D" text-anchor="end">150</text>
<line x1="51.2" y1="962.1" x2="51.2" y2="964.6" stroke="#333" stroke-width="0.8"/>
<text x="51.2" y="972.6" font-size="6.8" fill="#4D4D4D" text-anchor="middle">0</text>
<line x1="93.3" y1="962.1" x2="93.3" y2="964.6" stroke="#333" stroke-width="0.8"/>
<text x="93.3" y="972.6" font-size="6.8" fill="#4D4D4D" text-anchor="middle">200</text>
<line x1="135.4" y1="962.1" x2="135.4" y2="964.6" stroke="#333" stroke-width="0.8"/>
<text x="135.4" y="972.6" font-size="6.8" fill="#4D4D4D" text-anchor="middle">400</text>
<line x1="177.5" y1="962.1" x2="177.5" y2="964.6" stroke="#333" stroke-width="0.8"/>
<text x="177.5" y="972.6" font-size="6.8" fill="#4D4D4D" text-anchor="middle">600</text>
<text x="129.6" y="984.2" font-size="9" fill="#000" text-anchor="middle">Rank</text>
<text transform="translate(23.3,874.9) rotate(-90)" font-size="9" text-anchor="middle">-Log10P</text>
<circle cx="51.9" cy="825.1" r="3.9" fill="#FF0000"/>
<circle cx="52.9" cy="841.6" r="3.9" fill="#FF0000"/>
<circle cx="54.3" cy="845.1" r="3.9" fill="#FF0000"/>
<circle cx="56.1" cy="864.4" r="3.9" fill="#FF0000"/>
<circle cx="59.9" cy="881.2" r="3.9" fill="#FF0000"/>
<circle cx="62.7" cy="894.2" r="3.9" fill="#FF0000"/>
<circle cx="67.3" cy="908.9" r="3.9" fill="#FF0000"/>
<circle cx="90.4" cy="932.4" r="3.9" fill="#FF0000"/>
<line x1="53.5" y1="821.5" x2="55.5" y2="813.5" stroke="#FF0000" stroke-width="1"/>
<line x1="56" y1="839.9" x2="65.5" y2="825" stroke="#FF0000" stroke-width="1"/>
<line x1="56.5" y1="839" x2="58.5" y2="837.8" stroke="#FF0000" stroke-width="1"/>
<line x1="60.5" y1="877" x2="62.5" y2="873" stroke="#FF0000" stroke-width="1"/>
<line x1="66" y1="911" x2="59.8" y2="922.3" stroke="#FF0000" stroke-width="1"/>
<line x1="64" y1="890.5" x2="66" y2="890.5" stroke="#FF0000" stroke-width="1"/>
<text x="56.8" y="814.1" font-size="8.8" fill="#FF0000">ELK3</text>
<text x="67.3" y="827.8" font-size="8.8" fill="#FF0000">FOXF1</text>
<text x="57.8" y="840.8" font-size="8.8" fill="#FF0000">ELK4</text>
<text x="46.6" y="859.3" font-size="8.8" fill="#FF0000">SP3</text>
<text x="63.4" y="874.4" font-size="8.8" fill="#FF0000">FOXF2</text>
<text x="67.6" y="893.0" font-size="8.8" fill="#FF0000">TEAD4</text>
<text x="46.6" y="928.7" font-size="8.8" fill="#FF0000">EBF3</text>
<text x="88.6" y="925.5" font-size="8.8" fill="#FF0000">CTCF</text>
<text x="264.5" y="864.3" font-size="14" fill="#000" font-weight="bold">i</text>
<rect x="386.2" y="863.8" width="224.2" height="117" fill="#F7F7F7"/>
<path d="M386.2 887.2L386.2 887.1L387.0 886.8L387.8 886.3L388.6 886.7L389.4 886.5L390.2 886.6L391.0 886.7L391.8 887.0L392.6 886.9L393.4 886.8L394.2 886.6L395.0 886.4L395.8 887.0L396.6 887.0L397.4 887.0L398.2 886.6L399.0 886.5L399.8 886.2L400.6 886.9L401.4 887.0L402.2 887.1L403.0 886.6L403.8 886.9L404.6 886.7L405.4 886.2L406.2 886.9L407.0 886.9L407.8 886.5L408.6 886.3L409.4 886.6L410.2 886.7L411.0 886.9L411.8 886.4L412.6 887.1L413.4 886.6L414.2 886.6L415.0 886.7L415.8 886.3L416.6 886.3L417.4 886.5L418.2 886.2L419.0 886.8L419.8 887.0L420.6 886.7L421.4 886.4L422.2 886.2L423.0 886.9L423.8 886.3L424.6 886.6L425.4 886.5L426.2 886.4L427.0 886.7L427.8 886.5L428.6 886.8L429.4 887.0L430.2 886.9L431.0 886.6L431.8 886.9L432.6 886.5L433.4 886.8L434.2 886.2L435.0 887.0L435.8 887.2L436.6 886.4L437.4 886.6L438.2 886.5L439.0 886.4L439.8 887.1L440.6 886.3L441.4 886.9L442.2 886.7L443.0 886.2L443.8 886.0L444.6 885.3L445.4 886.2L446.2 886.1L447.0 886.6L447.8 886.3L448.6 886.5L449.4 887.1L450.2 886.3L451.0 886.5L451.8 886.3L452.6 886.8L453.4 886.5L454.2 887.0L455.0 886.7L455.8 886.9L456.6 886.3L457.4 886.9L458.2 886.3L459.0 887.1L459.8 886.9L460.6 886.9L461.4 887.1L462.2 887.2L463.0 886.9L463.8 887.2L464.6 886.3L465.4 886.6L466.2 886.7L467.0 886.4L467.8 886.4L468.6 886.5L469.4 886.4L470.2 887.2L471.0 887.0L471.8 886.5L472.6 886.7L473.4 886.3L474.2 886.7L475.0 886.8L475.8 886.4L476.6 886.2L477.4 886.8L478.2 886.6L479.0 886.8L479.8 886.8L480.6 887.1L481.4 887.0L482.2 886.5L483.0 886.2L483.8 886.9L484.6 886.6L485.4 886.8L486.2 886.6L487.0 887.1L487.8 887.1L488.6 886.8L489.4 886.9L490.2 886.3L491.0 886.3L491.8 887.2L492.6 886.7L493.4 886.4L494.2 886.6L495.0 886.9L495.8 887.1L496.6 886.3L497.4 886.2L498.2 887.2L499.0 886.5L499.8 886.6L500.6 886.4L501.4 886.5L502.2 887.0L503.0 887.2L503.8 887.1L504.6 886.4L505.4 886.3L506.2 887.2L507.0 886.6L507.8 886.5L508.6 886.2L509.4 887.2L510.2 886.7L511.0 886.4L511.8 886.5L512.6 887.0L513.4 886.8L514.2 886.3L515.0 886.6L515.8 887.0L516.6 886.7L517.4 886.5L518.2 886.8L519.0 887.0L519.8 886.6L520.6 886.8L521.4 886.0L522.2 886.1L523.0 885.4L523.8 885.6L524.6 885.1L525.4 885.8L526.2 885.9L527.0 886.0L527.8 885.9L528.6 887.0L529.4 886.6L530.2 886.8L531.0 886.8L531.8 886.4L532.6 886.8L533.4 886.3L534.2 886.3L535.0 886.5L535.8 886.9L536.6 886.7L537.4 886.9L538.2 886.5L539.0 886.8L539.8 886.4L540.6 887.0L541.4 886.8L542.2 887.0L543.0 886.4L543.8 885.8L544.6 886.2L545.4 885.2L546.2 882.9L547.0 882.2L547.8 880.3L548.6 881.2L549.4 882.1L550.2 883.7L551.0 883.8L551.8 882.6L552.6 877.0L553.4 874.9L554.2 871.1L555.0 874.2L555.8 877.3L556.6 878.7L557.4 877.9L558.2 879.3L559.0 878.7L559.8 880.9L560.6 881.8L561.4 882.1L562.2 882.4L563.0 884.2L563.8 884.6L564.6 886.2L565.4 886.0L566.2 886.4L567.0 886.9L567.8 886.4L568.6 886.7L569.4 886.4L570.2 886.4L571.0 886.3L571.8 884.4L572.6 883.1L573.4 881.4L574.2 882.3L575.0 883.4L575.8 885.0L576.6 885.4L577.4 886.9L578.2 886.6L579.0 886.9L579.8 886.4L580.6 887.2L581.4 886.5L582.2 887.0L583.0 886.7L583.8 886.6L584.6 886.4L585.4 885.3L586.2 883.9L587.0 881.9L587.8 880.0L588.6 878.0L589.4 879.1L590.2 878.5L591.0 881.7L591.8 883.6L592.6 883.4L593.4 882.2L594.2 880.7L595.0 878.6L595.8 877.0L596.6 878.0L597.4 879.3L598.2 879.1L599.0 879.9L599.8 880.7L600.6 880.7L601.4 882.7L602.2 885.5L603.0 886.5L603.8 886.9L604.6 886.4L605.4 886.6L606.2 886.8L607.0 886.3L607.8 887.2L608.6 887.0L609.4 887.0L610.2 886.9L610.4 887.2Z" fill="#8484E6" fill-opacity="1.0" stroke="#8484E6" stroke-width="0.4"/>
<path d="M386.2 912.8L386.2 911.8L387.0 912.2L387.8 912.8L388.6 912.5L389.4 912.0L390.2 912.3L391.0 912.1L391.8 911.8L392.6 912.2L393.4 912.6L394.2 912.8L395.0 912.0L395.8 912.2L396.6 911.9L397.4 912.2L398.2 912.7L399.0 912.6L399.8 912.8L400.6 912.3L401.4 912.2L402.2 912.2L403.0 912.8L403.8 912.7L404.6 912.7L405.4 912.4L406.2 912.5L407.0 912.4L407.8 912.5L408.6 912.7L409.4 912.2L410.2 912.1L411.0 912.6L411.8 912.1L412.6 912.0L413.4 912.2L414.2 912.3L415.0 912.0L415.8 912.8L416.6 912.3L417.4 912.0L418.2 912.3L419.0 912.3L419.8 912.7L420.6 912.4L421.4 911.9L422.2 911.8L423.0 911.9L423.8 912.6L424.6 912.6L425.4 912.0L426.2 912.3L427.0 912.3L427.8 912.7L428.6 911.8L429.4 912.6L430.2 912.7L431.0 911.9L431.8 912.4L432.6 912.1L433.4 912.1L434.2 912.2L435.0 912.1L435.8 912.1L436.6 912.0L437.4 912.6L438.2 911.9L439.0 912.5L439.8 912.6L440.6 912.6L441.4 912.6L442.2 912.3L443.0 912.1L443.8 912.6L444.6 912.7L445.4 912.4L446.2 911.9L447.0 911.9L447.8 911.8L448.6 911.9L449.4 912.1L450.2 911.8L451.0 912.7L451.8 912.4L452.6 911.8L453.4 912.2L454.2 911.8L455.0 912.1L455.8 912.0L456.6 912.4L457.4 912.5L458.2 912.1L459.0 912.2L459.8 912.6L460.6 911.9L461.4 911.9L462.2 912.6L463.0 911.8L463.8 912.0L464.6 912.3L465.4 912.2L466.2 911.8L467.0 912.2L467.8 912.7L468.6 912.2L469.4 912.6L470.2 911.8L471.0 911.9L471.8 912.3L472.6 912.5L473.4 912.7L474.2 912.4L475.0 912.4L475.8 912.2L476.6 912.3L477.4 912.3L478.2 912.0L479.0 911.9L479.8 911.9L480.6 912.8L481.4 912.4L482.2 911.8L483.0 912.2L483.8 912.8L484.6 912.4L485.4 912.6L486.2 912.1L487.0 912.5L487.8 912.5L488.6 912.2L489.4 912.6L490.2 912.3L491.0 912.6L491.8 912.1L492.6 912.0L493.4 912.1L494.2 911.9L495.0 912.5L495.8 912.5L496.6 912.2L497.4 911.8L498.2 912.4L499.0 912.5L499.8 912.5L500.6 911.8L501.4 912.0L502.2 912.2L503.0 911.8L503.8 912.2L504.6 912.1L505.4 912.4L506.2 912.2L507.0 912.5L507.8 912.2L508.6 912.1L509.4 912.3L510.2 911.8L511.0 912.5L511.8 912.2L512.6 912.4L513.4 911.9L514.2 912.5L515.0 912.5L515.8 911.9L516.6 912.8L517.4 912.2L518.2 912.2L519.0 912.7L519.8 912.3L520.6 911.8L521.4 912.2L522.2 912.0L523.0 911.5L523.8 911.4L524.6 911.8L525.4 911.3L526.2 911.6L527.0 912.0L527.8 912.3L528.6 912.0L529.4 912.0L530.2 912.3L531.0 912.2L531.8 912.5L532.6 912.8L533.4 912.5L534.2 912.5L535.0 912.0L535.8 912.5L536.6 912.3L537.4 912.4L538.2 912.5L539.0 912.2L539.8 912.3L540.6 912.3L541.4 912.3L542.2 912.3L543.0 912.3L543.8 912.4L544.6 911.9L545.4 912.1L546.2 911.2L547.0 908.9L547.8 907.8L548.6 906.5L549.4 905.8L550.2 907.9L551.0 906.0L551.8 903.6L552.6 902.8L553.4 901.7L554.2 904.6L555.0 906.0L555.8 906.1L556.6 907.0L557.4 906.7L558.2 907.4L559.0 908.6L559.8 908.5L560.6 909.5L561.4 909.6L562.2 910.8L563.0 910.9L563.8 912.2L564.6 912.5L565.4 912.0L566.2 912.2L567.0 912.4L567.8 911.9L568.6 911.9L569.4 912.5L570.2 912.1L571.0 911.6L571.8 911.0L572.6 911.0L573.4 910.4L574.2 911.0L575.0 911.9L575.8 911.9L576.6 911.9L577.4 911.9L578.2 912.0L579.0 912.2L579.8 912.2L580.6 912.2L581.4 911.9L582.2 912.0L583.0 912.1L583.8 912.5L584.6 911.4L585.4 911.1L586.2 910.1L587.0 908.7L587.8 907.8L588.6 908.7L589.4 908.8L590.2 910.3L591.0 910.0L591.8 908.7L592.6 907.4L593.4 906.3L594.2 906.1L595.0 907.1L595.8 909.0L596.6 908.9L597.4 909.7L598.2 909.4L599.0 908.1L599.8 909.3L600.6 910.8L601.4 911.9L602.2 912.0L603.0 911.9L603.8 912.3L604.6 912.0L605.4 912.8L606.2 912.6L607.0 912.0L607.8 912.4L608.6 912.0L609.4 912.0L610.2 912.4L610.4 912.8Z" fill="#E284C6" fill-opacity="1.0" stroke="#E284C6" stroke-width="0.4"/>
<path d="M386.2 938.4L386.2 938.1L387.0 937.8L387.8 937.5L388.6 937.4L389.4 937.8L390.2 938.2L391.0 937.4L391.8 938.3L392.6 938.2L393.4 937.8L394.2 937.2L395.0 937.8L395.8 937.7L396.6 937.5L397.4 937.4L398.2 938.2L399.0 937.4L399.8 937.2L400.6 938.1L401.4 937.7L402.2 938.1L403.0 937.4L403.8 937.5L404.6 938.0L405.4 938.3L406.2 937.6L407.0 937.3L407.8 937.6L408.6 937.3L409.4 938.4L410.2 938.1L411.0 937.8L411.8 937.3L412.6 937.7L413.4 938.1L414.2 937.7L415.0 937.8L415.8 937.6L416.6 938.0L417.4 937.9L418.2 937.5L419.0 938.3L419.8 937.6L420.6 938.2L421.4 937.8L422.2 938.1L423.0 937.7L423.8 937.3L424.6 937.7L425.4 937.8L426.2 938.1L427.0 937.5L427.8 938.3L428.6 937.9L429.4 937.5L430.2 937.8L431.0 938.1L431.8 937.8L432.6 937.7L433.4 937.8L434.2 938.3L435.0 938.0L435.8 937.8L436.6 937.3L437.4 937.7L438.2 937.2L439.0 937.4L439.8 937.6L440.6 937.8L441.4 937.7L442.2 937.4L443.0 937.9L443.8 938.4L444.6 938.3L445.4 937.8L446.2 938.4L447.0 937.2L447.8 937.4L448.6 937.5L449.4 937.8L450.2 937.7L451.0 937.4L451.8 938.3L452.6 937.4L453.4 938.3L454.2 937.2L455.0 938.2L455.8 938.3L456.6 938.0L457.4 937.6L458.2 937.4L459.0 938.3L459.8 937.5L460.6 937.7L461.4 938.0L462.2 937.7L463.0 937.7L463.8 937.3L464.6 937.7L465.4 937.9L466.2 937.2L467.0 937.2L467.8 937.5L468.6 937.1L469.4 937.3L470.2 937.5L471.0 937.4L471.8 937.5L472.6 937.1L473.4 937.1L474.2 937.7L475.0 937.3L475.8 937.3L476.6 937.7L477.4 938.2L478.2 937.3L479.0 937.9L479.8 937.3L480.6 938.1L481.4 937.7L482.2 938.0L483.0 938.2L483.8 937.5L484.6 938.4L485.4 938.1L486.2 938.1L487.0 937.8L487.8 938.2L488.6 938.4L489.4 938.0L490.2 937.5L491.0 937.9L491.8 938.1L492.6 937.7L493.4 938.4L494.2 937.5L495.0 937.3L495.8 937.3L496.6 937.3L497.4 938.1L498.2 938.0L499.0 937.3L499.8 938.0L500.6 938.4L501.4 937.8L502.2 937.4L503.0 938.2L503.8 937.3L504.6 937.3L505.4 937.5L506.2 938.2L507.0 937.5L507.8 938.0L508.6 937.9L509.4 937.7L510.2 937.9L511.0 937.9L511.8 938.0L512.6 937.8L513.4 938.3L514.2 937.9L515.0 938.2L515.8 937.9L516.6 937.1L517.4 937.1L518.2 936.9L519.0 936.8L519.8 936.2L520.6 935.9L521.4 937.0L522.2 937.5L523.0 936.9L523.8 937.2L524.6 937.8L525.4 937.2L526.2 938.0L527.0 938.1L527.8 938.3L528.6 938.3L529.4 938.1L530.2 938.3L531.0 937.4L531.8 937.5L532.6 937.5L533.4 937.9L534.2 937.6L535.0 938.0L535.8 937.7L536.6 937.5L537.4 937.5L538.2 938.2L539.0 937.6L539.8 938.2L540.6 938.4L541.4 938.2L542.2 938.1L543.0 937.9L543.8 937.0L544.6 936.5L545.4 935.8L546.2 934.9L547.0 932.7L547.8 932.3L548.6 931.4L549.4 931.2L550.2 931.2L551.0 931.0L551.8 930.7L552.6 928.8L553.4 927.3L554.2 926.7L555.0 923.1L555.8 923.8L556.6 924.7L557.4 924.8L558.2 926.7L559.0 928.1L559.8 929.9L560.6 929.9L561.4 931.8L562.2 932.6L563.0 934.4L563.8 934.5L564.6 936.0L565.4 937.3L566.2 938.1L567.0 938.0L567.8 937.4L568.6 937.5L569.4 936.4L570.2 936.4L571.0 935.7L571.8 934.8L572.6 934.6L573.4 935.1L574.2 936.7L575.0 936.6L575.8 936.9L576.6 937.4L577.4 937.3L578.2 938.2L579.0 938.1L579.8 937.8L580.6 937.3L581.4 937.3L582.2 937.4L583.0 937.8L583.8 937.2L584.6 937.0L585.4 936.4L586.2 935.9L587.0 934.2L587.8 933.0L588.6 931.4L589.4 931.3L590.2 930.1L591.0 929.1L591.8 929.3L592.6 929.1L593.4 928.8L594.2 931.0L595.0 932.0L595.8 932.8L596.6 932.2L597.4 932.5L598.2 933.2L599.0 934.4L599.8 934.6L600.6 936.8L601.4 937.3L602.2 937.6L603.0 938.1L603.8 937.9L604.6 937.8L605.4 938.0L606.2 937.5L607.0 938.3L607.8 937.4L608.6 937.4L609.4 938.3L610.2 938.2L610.4 938.4Z" fill="#545454" fill-opacity="1.0" stroke="#545454" stroke-width="0.4"/>
<path d="M386.2 964.3L386.2 964.2L387.0 964.2L387.8 963.7L388.6 964.2L389.4 964.2L390.2 963.7L391.0 963.8L391.8 963.9L392.6 963.8L393.4 963.9L394.2 964.0L395.0 963.8L395.8 963.8L396.6 963.8L397.4 963.9L398.2 964.1L399.0 964.3L399.8 964.0L400.6 963.7L401.4 964.2L402.2 964.1L403.0 964.0L403.8 964.3L404.6 963.9L405.4 964.2L406.2 963.9L407.0 963.9L407.8 964.1L408.6 964.1L409.4 963.8L410.2 964.0L411.0 963.7L411.8 964.3L412.6 964.1L413.4 963.7L414.2 964.3L415.0 963.9L415.8 964.0L416.6 964.2L417.4 964.1L418.2 964.2L419.0 964.0L419.8 963.8L420.6 964.1L421.4 964.2L422.2 964.3L423.0 963.7L423.8 963.9L424.6 964.0L425.4 963.8L426.2 964.1L427.0 963.9L427.8 963.9L428.6 963.7L429.4 963.7L430.2 964.3L431.0 963.7L431.8 964.2L432.6 963.9L433.4 964.3L434.2 963.8L435.0 963.8L435.8 963.8L436.6 964.1L437.4 964.0L438.2 964.3L439.0 963.8L439.8 964.1L440.6 964.3L441.4 964.2L442.2 963.8L443.0 964.0L443.8 964.2L444.6 964.0L445.4 963.8L446.2 964.2L447.0 964.0L447.8 963.8L448.6 964.0L449.4 963.8L450.2 964.1L451.0 963.9L451.8 964.2L452.6 963.8L453.4 963.9L454.2 963.8L455.0 964.1L455.8 963.9L456.6 963.8L457.4 964.2L458.2 963.8L459.0 964.1L459.8 963.9L460.6 963.7L461.4 964.1L462.2 964.3L463.0 963.8L463.8 964.2L464.6 964.0L465.4 963.7L466.2 963.9L467.0 963.8L467.8 964.1L468.6 963.9L469.4 964.1L470.2 963.8L471.0 963.8L471.8 964.3L472.6 963.9L473.4 963.7L474.2 964.3L475.0 963.7L475.8 964.2L476.6 963.7L477.4 964.2L478.2 963.7L479.0 963.9L479.8 964.1L480.6 964.2L481.4 964.2L482.2 964.1L483.0 963.9L483.8 963.8L484.6 963.9L485.4 964.0L486.2 964.0L487.0 963.8L487.8 963.9L488.6 964.1L489.4 963.8L490.2 964.2L491.0 963.8L491.8 964.0L492.6 963.8L493.4 963.7L494.2 963.8L495.0 964.2L495.8 964.1L496.6 963.9L497.4 964.1L498.2 964.1L499.0 964.1L499.8 963.8L500.6 963.9L501.4 963.7L502.2 963.9L503.0 963.9L503.8 964.3L504.6 963.9L505.4 963.8L506.2 963.8L507.0 964.3L507.8 964.0L508.6 963.8L509.4 964.1L510.2 964.3L511.0 963.8L511.8 963.9L512.6 964.0L513.4 963.8L514.2 963.8L515.0 963.8L515.8 964.1L516.6 964.1L517.4 964.2L518.2 963.7L519.0 964.2L519.8 963.8L520.6 964.1L521.4 964.2L522.2 964.2L523.0 964.0L523.8 964.3L524.6 963.9L525.4 964.2L526.2 964.1L527.0 963.9L527.8 964.2L528.6 963.7L529.4 964.3L530.2 963.9L531.0 964.2L531.8 964.0L532.6 963.9L533.4 964.3L534.2 964.2L535.0 963.9L535.8 963.9L536.6 964.1L537.4 964.3L538.2 963.9L539.0 964.3L539.8 964.1L540.6 964.0L541.4 964.2L542.2 963.9L543.0 964.1L543.8 964.0L544.6 964.2L545.4 963.9L546.2 964.0L547.0 964.3L547.8 964.0L548.6 964.1L549.4 963.7L550.2 963.7L551.0 963.3L551.8 963.3L552.6 962.7L553.4 963.1L554.2 963.3L555.0 963.5L555.8 963.5L556.6 964.0L557.4 964.1L558.2 963.8L559.0 964.1L559.8 964.0L560.6 964.3L561.4 964.0L562.2 963.8L563.0 964.2L563.8 963.7L564.6 964.1L565.4 964.2L566.2 963.9L567.0 963.9L567.8 964.2L568.6 964.1L569.4 963.9L570.2 964.3L571.0 963.8L571.8 964.1L572.6 964.0L573.4 963.9L574.2 963.9L575.0 964.0L575.8 963.9L576.6 964.0L577.4 964.1L578.2 964.2L579.0 964.1L579.8 963.8L580.6 963.8L581.4 963.7L582.2 963.8L583.0 964.0L583.8 963.7L584.6 964.0L585.4 964.2L586.2 964.3L587.0 964.0L587.8 963.7L588.6 963.9L589.4 963.8L590.2 963.7L591.0 964.0L591.8 964.0L592.6 963.8L593.4 963.3L594.2 963.3L595.0 963.0L595.8 963.1L596.6 963.3L597.4 963.4L598.2 963.5L599.0 964.2L599.8 963.8L600.6 964.0L601.4 964.0L602.2 964.2L603.0 963.9L603.8 963.9L604.6 964.1L605.4 964.0L606.2 963.8L607.0 963.7L607.8 964.0L608.6 963.8L609.4 964.1L610.2 963.9L610.4 964.3Z" fill="#B8B8B8" fill-opacity="1.0" stroke="#B8B8B8" stroke-width="0.4"/>
<text x="304.8" y="894.2" font-size="10" fill="#000" text-anchor="middle">CUTAC</text>
<text x="304.6" y="906.5" font-size="10" fill="#000" text-anchor="middle">H3K4me2</text>
<line x1="332.3" y1="876.1" x2="332.3" y2="916.6" stroke="#000" stroke-width="1.3"/>
<text x="335.5" y="888.5" font-size="10" fill="#000">Ctrl</text>
<text x="335.1" y="912.6" font-size="10" fill="#000"><tspan font-style="italic">Foxf2</tspan> cKO</text>
<text x="304.3" y="946.9" font-size="10.3" fill="#000" text-anchor="middle">CUT&amp;Tag</text>
<line x1="332.3" y1="925.1" x2="332.3" y2="965.3" stroke="#000" stroke-width="1.3"/>
<text x="335.9" y="936.5" font-size="9.9" fill="#000">FOXF2</text>
<text x="335.9" y="960.6" font-size="9.9" fill="#000">IgG</text>
<text x="628.4" y="871.9" font-size="10" fill="#000">0-200</text>
<text x="628.4" y="897.9" font-size="10" fill="#000">0-200</text>
<text x="628.4" y="921.3" font-size="10" fill="#000">0-100</text>
<text x="628.4" y="947.9" font-size="10" fill="#000">0-100</text>
<rect x="538.9" y="861" width="29.9" height="107.9" fill="none" stroke="#EE1111" stroke-width="1.3" stroke-dasharray="3.2 1.6"/>
<rect x="581.8" y="861" width="22.1" height="107.9" fill="none" stroke="#EE1111" stroke-width="1.3" stroke-dasharray="3.2 1.6"/>
<line x1="464.1" y1="972.4" x2="593" y2="972.4" stroke="#000" stroke-width="0.8"/>
<rect x="464.1" y="969.9" width="4.4" height="5" fill="#000"/>
<rect x="468.5" y="968.4" width="7.9" height="8" fill="#000"/>
<rect x="504.4" y="968.4" width="5.2" height="8" fill="#000"/>
<rect x="510.3" y="968.4" width="2.1" height="8" fill="#000"/>
<rect x="532.4" y="968.4" width="1.8" height="8" fill="#000"/>
<rect x="574.5" y="968.4" width="1.7" height="8" fill="#000"/>
<rect x="579" y="968.4" width="1.4" height="8" fill="#000"/>
<rect x="585.7" y="968.4" width="3.8" height="8" fill="#000"/>
<rect x="589.5" y="969.4" width="3.5" height="6" fill="#000"/>
<path d="M485.5 970.9L484 972.4L485.5 973.9" fill="none" stroke="#000" stroke-width="0.5"/>
<path d="M495.5 970.9L494 972.4L495.5 973.9" fill="none" stroke="#000" stroke-width="0.5"/>
<path d="M521.5 970.9L520 972.4L521.5 973.9" fill="none" stroke="#000" stroke-width="0.5"/>
<path d="M549.5 970.9L548 972.4L549.5 973.9" fill="none" stroke="#000" stroke-width="0.5"/>
<path d="M561.5 970.9L560 972.4L561.5 973.9" fill="none" stroke="#000" stroke-width="0.5"/>
<path d="M569.5 970.9L568 972.4L569.5 973.9" fill="none" stroke="#000" stroke-width="0.5"/>
<text x="541.2" y="989.4" font-size="8.8" fill="#000" text-anchor="middle" font-style="italic">Angptl4</text>
<line x1="612.3" y1="985.2" x2="652.6" y2="985.2" stroke="#000" stroke-width="1.1"/>
<text x="632.8" y="981.0" font-size="10.2" fill="#000" text-anchor="middle">2.5 kb</text>
</svg></body></html>
